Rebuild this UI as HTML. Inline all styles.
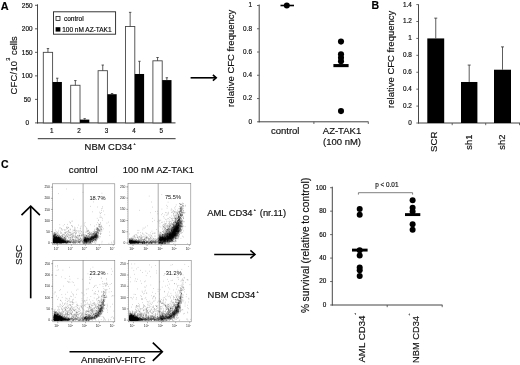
<!DOCTYPE html>
<html>
<head>
<meta charset="utf-8">
<title>Figure</title>
<style>
html, body { margin: 0; padding: 0; background: #fff; }
body { width: 520px; height: 365px; overflow: hidden; font-family: "Liberation Sans", sans-serif; }
svg { display: block; will-change: transform; filter: blur(0.35px); }
svg text { font-family: "Liberation Sans", sans-serif; stroke: #111; stroke-width: 0.18px; }
svg text.t { stroke: none; }
</style>
</head>
<body>
<svg width="520" height="365" viewBox="0 0 520 365">
<rect x="0" y="0" width="520" height="365" fill="#fff"/>
<text x="0.8" y="9.7" font-size="10.9" text-anchor="start" font-weight="bold" fill="#000">A</text>
<text x="371.5" y="9.3" font-size="10.5" text-anchor="start" font-weight="bold" fill="#000">B</text>
<text x="1" y="168.3" font-size="10.5" text-anchor="start" font-weight="bold" fill="#000">C</text>
<line x1="37.5" y1="4.3" x2="37.5" y2="123.4" stroke="#484848" stroke-width="1"/>
<line x1="37.0" y1="122.9" x2="175.5" y2="122.9" stroke="#333" stroke-width="1"/>
<line x1="35.0" y1="122.9" x2="37.5" y2="122.9" stroke="#333" stroke-width="0.8"/>
<text x="27.2" y="125.2" font-size="6.4" text-anchor="middle" font-weight="normal" fill="#111">0</text>
<line x1="35.0" y1="99.38000000000001" x2="37.5" y2="99.38000000000001" stroke="#333" stroke-width="0.8"/>
<text x="27.2" y="101.68" font-size="6.4" text-anchor="middle" font-weight="normal" fill="#111">50</text>
<line x1="35.0" y1="75.86000000000001" x2="37.5" y2="75.86000000000001" stroke="#333" stroke-width="0.8"/>
<text x="27.2" y="78.16" font-size="6.4" text-anchor="middle" font-weight="normal" fill="#111">100</text>
<line x1="35.0" y1="52.34" x2="37.5" y2="52.34" stroke="#333" stroke-width="0.8"/>
<text x="27.2" y="54.64" font-size="6.4" text-anchor="middle" font-weight="normal" fill="#111">150</text>
<line x1="35.0" y1="28.820000000000007" x2="37.5" y2="28.820000000000007" stroke="#333" stroke-width="0.8"/>
<text x="27.2" y="31.12" font-size="6.4" text-anchor="middle" font-weight="normal" fill="#111">200</text>
<line x1="35.0" y1="5.299999999999997" x2="37.5" y2="5.299999999999997" stroke="#333" stroke-width="0.8"/>
<text x="27.2" y="7.6" font-size="6.4" text-anchor="middle" font-weight="normal" fill="#111">250</text>
<rect x="43.3" y="52.34" width="9.3" height="70.56" fill="#fff" stroke="#484848" stroke-width="0.9"/>
<line x1="47.949999999999996" y1="52.34" x2="47.949999999999996" y2="48.57679999999999" stroke="#333" stroke-width="0.8"/>
<line x1="46.74999999999999" y1="48.57679999999999" x2="49.15" y2="48.57679999999999" stroke="#333" stroke-width="0.8"/>
<rect x="52.6" y="81.98" width="9.3" height="40.92" fill="#000" stroke="none" stroke-width="1"/>
<line x1="57.25" y1="81.9752" x2="57.25" y2="78.212" stroke="#333" stroke-width="0.8"/>
<line x1="56.05" y1="78.212" x2="58.45" y2="78.212" stroke="#333" stroke-width="0.8"/>
<text x="51.7" y="132.7" font-size="6.3" text-anchor="middle" font-weight="normal" fill="#111">1</text>
<rect x="70.7" y="85.27" width="9.3" height="37.63" fill="#fff" stroke="#484848" stroke-width="0.9"/>
<line x1="75.35" y1="85.268" x2="75.35" y2="80.56400000000001" stroke="#333" stroke-width="0.8"/>
<line x1="74.14999999999999" y1="80.56400000000001" x2="76.55" y2="80.56400000000001" stroke="#333" stroke-width="0.8"/>
<rect x="80.0" y="119.61" width="9.3" height="3.29" fill="#000" stroke="none" stroke-width="1"/>
<line x1="84.64999999999999" y1="119.6072" x2="84.64999999999999" y2="118.66640000000001" stroke="#333" stroke-width="0.8"/>
<line x1="83.44999999999999" y1="118.66640000000001" x2="85.85" y2="118.66640000000001" stroke="#333" stroke-width="0.8"/>
<text x="79.1" y="132.7" font-size="6.3" text-anchor="middle" font-weight="normal" fill="#111">2</text>
<rect x="98.1" y="70.69" width="9.3" height="52.21" fill="#fff" stroke="#484848" stroke-width="0.9"/>
<line x1="102.75" y1="70.6856" x2="102.75" y2="65.0408" stroke="#333" stroke-width="0.8"/>
<line x1="101.55" y1="65.0408" x2="103.95" y2="65.0408" stroke="#333" stroke-width="0.8"/>
<rect x="107.4" y="94.21" width="9.3" height="28.69" fill="#000" stroke="none" stroke-width="1"/>
<line x1="112.05" y1="94.2056" x2="112.05" y2="93.5" stroke="#333" stroke-width="0.8"/>
<line x1="110.85" y1="93.5" x2="113.25" y2="93.5" stroke="#333" stroke-width="0.8"/>
<text x="106.5" y="132.7" font-size="6.3" text-anchor="middle" font-weight="normal" fill="#111">3</text>
<rect x="125.5" y="26.47" width="9.3" height="96.43" fill="#fff" stroke="#484848" stroke-width="0.9"/>
<line x1="130.14999999999998" y1="26.468000000000004" x2="130.14999999999998" y2="12.355999999999995" stroke="#333" stroke-width="0.8"/>
<line x1="128.95" y1="12.355999999999995" x2="131.34999999999997" y2="12.355999999999995" stroke="#333" stroke-width="0.8"/>
<rect x="134.8" y="73.98" width="9.3" height="48.92" fill="#000" stroke="none" stroke-width="1"/>
<line x1="139.45" y1="73.9784" x2="139.45" y2="61.27760000000001" stroke="#333" stroke-width="0.8"/>
<line x1="138.25" y1="61.27760000000001" x2="140.64999999999998" y2="61.27760000000001" stroke="#333" stroke-width="0.8"/>
<text x="133.9" y="132.7" font-size="6.3" text-anchor="middle" font-weight="normal" fill="#111">4</text>
<rect x="152.9" y="60.81" width="9.3" height="62.09" fill="#fff" stroke="#484848" stroke-width="0.9"/>
<line x1="157.54999999999998" y1="60.8072" x2="157.54999999999998" y2="57.514399999999995" stroke="#333" stroke-width="0.8"/>
<line x1="156.35" y1="57.514399999999995" x2="158.74999999999997" y2="57.514399999999995" stroke="#333" stroke-width="0.8"/>
<rect x="162.2" y="80.09" width="9.3" height="42.81" fill="#000" stroke="none" stroke-width="1"/>
<line x1="166.84999999999997" y1="80.09360000000001" x2="166.84999999999997" y2="77.7416" stroke="#333" stroke-width="0.8"/>
<line x1="165.64999999999998" y1="77.7416" x2="168.04999999999995" y2="77.7416" stroke="#333" stroke-width="0.8"/>
<text x="161.3" y="132.7" font-size="6.3" text-anchor="middle" font-weight="normal" fill="#111">5</text>
<rect x="53.5" y="11.8" width="62.1" height="22.4" fill="#fff" stroke="#222" stroke-width="0.9"/>
<rect x="56.0" y="16.5" width="4.0" height="3.9" fill="#fff" stroke="#222" stroke-width="0.8"/>
<rect x="55.6" y="27.2" width="4.8" height="4.4" fill="#000" stroke="none" stroke-width="1"/>
<text x="63.9" y="20.5" font-size="6.6" text-anchor="start" font-weight="normal" fill="#111">control</text>
<text x="62.2" y="31.5" font-size="6.5" text-anchor="start" font-weight="normal" fill="#111">100 nM AZ-TAK1</text>
<line x1="37.8" y1="138.7" x2="175.6" y2="138.7" stroke="#333" stroke-width="1.0"/>
<text x="84.6" y="150.0" font-size="9.42" text-anchor="start" font-weight="normal" fill="#111">NBM CD34<tspan font-size="3.8" dx="1.2" dy="-4.8">+</tspan></text>
<text x="16.8" y="94.5" font-size="9.3" text-anchor="start" font-weight="normal" fill="#111" transform="rotate(-90 16.8 94.5)"><tspan letter-spacing="0.3">CFC/10</tspan><tspan font-size="5.6" dy="-7.2">3</tspan><tspan dy="7.2" letter-spacing="0"> cells</tspan></text>
<line x1="190.6" y1="77.8" x2="216.2" y2="77.8" stroke="#000" stroke-width="1.6"/>
<polyline points="212.89999999999998,74.89999999999999 216.2,77.8 212.89999999999998,80.7" fill="none" stroke="#000" stroke-width="1.6" stroke-linejoin="miter"/>
<line x1="259.2" y1="4.5" x2="259.2" y2="122.3" stroke="#444" stroke-width="1"/>
<line x1="258.7" y1="121.8" x2="368.5" y2="121.8" stroke="#444" stroke-width="1"/>
<line x1="257.0" y1="121.8" x2="259.2" y2="121.8" stroke="#444" stroke-width="0.8"/>
<text x="252.0" y="123.6" font-size="6.4" text-anchor="end" font-weight="normal" fill="#111">0</text>
<line x1="257.0" y1="98.53999999999999" x2="259.2" y2="98.53999999999999" stroke="#444" stroke-width="0.8"/>
<text x="252.0" y="100.34" font-size="6.4" text-anchor="end" font-weight="normal" fill="#111">0.2</text>
<line x1="257.0" y1="75.28" x2="259.2" y2="75.28" stroke="#444" stroke-width="0.8"/>
<text x="252.0" y="77.08" font-size="6.4" text-anchor="end" font-weight="normal" fill="#111">0.4</text>
<line x1="257.0" y1="52.019999999999996" x2="259.2" y2="52.019999999999996" stroke="#444" stroke-width="0.8"/>
<text x="252.0" y="53.82" font-size="6.4" text-anchor="end" font-weight="normal" fill="#111">0.6</text>
<line x1="257.0" y1="28.75999999999999" x2="259.2" y2="28.75999999999999" stroke="#444" stroke-width="0.8"/>
<text x="252.0" y="30.56" font-size="6.4" text-anchor="end" font-weight="normal" fill="#111">0.8</text>
<line x1="257.0" y1="5.5" x2="259.2" y2="5.5" stroke="#444" stroke-width="0.8"/>
<text x="252.0" y="7.3" font-size="6.4" text-anchor="end" font-weight="normal" fill="#111">1</text>
<line x1="313.9" y1="121.8" x2="313.9" y2="124.0" stroke="#444" stroke-width="0.8"/>
<line x1="368.3" y1="121.8" x2="368.3" y2="124.0" stroke="#444" stroke-width="0.8"/>
<line x1="280.5" y1="5.5" x2="294" y2="5.5" stroke="#000" stroke-width="1.6"/>
<circle cx="286.8" cy="5.5" r="3.0" fill="#000"/>
<circle cx="341" cy="41.6" r="3.05" fill="#000"/>
<circle cx="341" cy="54.3" r="3.05" fill="#000"/>
<circle cx="341" cy="57.8" r="3.05" fill="#000"/>
<circle cx="341" cy="61.3" r="3.05" fill="#000"/>
<circle cx="341" cy="111.1" r="3.05" fill="#000"/>
<line x1="333.4" y1="65.6" x2="348.6" y2="65.6" stroke="#000" stroke-width="3.1"/>
<text x="285.2" y="134.1" font-size="9.5" text-anchor="middle" font-weight="normal" fill="#111">control</text>
<text x="342.0" y="134.3" font-size="9.5" text-anchor="middle" font-weight="normal" fill="#111">AZ-TAK1</text>
<text x="342.0" y="145.1" font-size="9.5" text-anchor="middle" font-weight="normal" fill="#111">(100 nM)</text>
<text x="234.4" y="58.3" font-size="9.5" text-anchor="middle" font-weight="normal" fill="#111" transform="rotate(-90 234.4 58.3)">relative CFC frequency</text>
<line x1="418.5" y1="4.3" x2="418.5" y2="123.5" stroke="#484848" stroke-width="1"/>
<line x1="418.0" y1="123.0" x2="520" y2="123.0" stroke="#444" stroke-width="1"/>
<line x1="416.3" y1="123.0" x2="418.5" y2="123.0" stroke="#444" stroke-width="0.8"/>
<text x="411.9" y="124.9" font-size="6.4" text-anchor="end" font-weight="normal" fill="#111">0</text>
<line x1="416.3" y1="106.08571428571429" x2="418.5" y2="106.08571428571429" stroke="#444" stroke-width="0.8"/>
<text x="411.9" y="107.99" font-size="6.4" text-anchor="end" font-weight="normal" fill="#111">0.2</text>
<line x1="416.3" y1="89.17142857142856" x2="418.5" y2="89.17142857142856" stroke="#444" stroke-width="0.8"/>
<text x="411.9" y="91.07" font-size="6.4" text-anchor="end" font-weight="normal" fill="#111">0.4</text>
<line x1="416.3" y1="72.25714285714284" x2="418.5" y2="72.25714285714284" stroke="#444" stroke-width="0.8"/>
<text x="411.9" y="74.16" font-size="6.4" text-anchor="end" font-weight="normal" fill="#111">0.6</text>
<line x1="416.3" y1="55.34285714285713" x2="418.5" y2="55.34285714285713" stroke="#444" stroke-width="0.8"/>
<text x="411.9" y="57.24" font-size="6.4" text-anchor="end" font-weight="normal" fill="#111">0.8</text>
<line x1="416.3" y1="38.428571428571416" x2="418.5" y2="38.428571428571416" stroke="#444" stroke-width="0.8"/>
<text x="411.9" y="40.33" font-size="6.4" text-anchor="end" font-weight="normal" fill="#111">1</text>
<line x1="416.3" y1="21.514285714285677" x2="418.5" y2="21.514285714285677" stroke="#444" stroke-width="0.8"/>
<text x="411.9" y="23.41" font-size="6.4" text-anchor="end" font-weight="normal" fill="#111">1.2</text>
<line x1="416.3" y1="4.59999999999998" x2="418.5" y2="4.59999999999998" stroke="#444" stroke-width="0.8"/>
<text x="411.9" y="6.5" font-size="6.4" text-anchor="end" font-weight="normal" fill="#111">1.4</text>
<line x1="452.2" y1="123.0" x2="452.2" y2="125.2" stroke="#444" stroke-width="0.8"/>
<line x1="485.7" y1="123.0" x2="485.7" y2="125.2" stroke="#444" stroke-width="0.8"/>
<line x1="519.5" y1="123.0" x2="519.5" y2="125.2" stroke="#444" stroke-width="0.8"/>
<rect x="427.3" y="38.43" width="16.9" height="84.57" fill="#000" stroke="none" stroke-width="1"/>
<line x1="435.75" y1="38.428571428571416" x2="435.75" y2="18.131428571428557" stroke="#333" stroke-width="0.8"/>
<line x1="434.25" y1="18.131428571428557" x2="437.25" y2="18.131428571428557" stroke="#333" stroke-width="0.8"/>
<text x="437.35" y="131.6" font-size="9.7" text-anchor="end" font-weight="normal" fill="#111" transform="rotate(-90 437.35 131.6)">SCR</text>
<rect x="461" y="81.98" width="16.4" height="41.02" fill="#000" stroke="none" stroke-width="1"/>
<line x1="469.2" y1="81.98285714285714" x2="469.2" y2="65.06857142857142" stroke="#333" stroke-width="0.8"/>
<line x1="467.7" y1="65.06857142857142" x2="470.7" y2="65.06857142857142" stroke="#333" stroke-width="0.8"/>
<text x="471.6" y="134.5" font-size="9.4" text-anchor="end" font-weight="normal" fill="#111" transform="rotate(-90 471.6 134.5)">sh1</text>
<rect x="494" y="69.72" width="17" height="53.28" fill="#000" stroke="none" stroke-width="1"/>
<line x1="502.5" y1="69.72" x2="502.5" y2="46.885714285714286" stroke="#333" stroke-width="0.8"/>
<line x1="501.0" y1="46.885714285714286" x2="504.0" y2="46.885714285714286" stroke="#333" stroke-width="0.8"/>
<text x="504.9" y="134.5" font-size="9.4" text-anchor="end" font-weight="normal" fill="#111" transform="rotate(-90 504.9 134.5)">sh2</text>
<text x="394.1" y="59.3" font-size="9.5" text-anchor="middle" font-weight="normal" fill="#111" transform="rotate(-90 394.1 59.3)">relative CFC frequency</text>
<text x="83.2" y="172.7" font-size="9.55" text-anchor="middle" font-weight="normal" fill="#111">control</text>
<text x="158.4" y="172.7" font-size="9.4" text-anchor="middle" font-weight="normal" fill="#111">100 nM AZ-TAK1</text>
<path d="M54.7 240.6h.5M59.4 241.4h.5M59.4 242.1h.5M55.2 242.6h.5M62.5 241.5h.5M54.6 237.0h.5M58.2 240.8h.5M63.7 242.0h.5M55.0 241.5h.5M54.7 240.5h.5M56.7 240.3h.5M55.1 242.6h.5M55.8 239.6h.5M58.5 241.4h.5M55.6 237.8h.5M59.3 240.8h.5M53.9 239.0h.5M57.5 240.3h.5M57.0 240.3h.5M57.9 238.2h.5M56.7 240.5h.5M59.3 240.8h.5M60.4 237.9h.5M54.3 241.3h.5M63.7 238.2h.5M54.5 238.9h.5M59.4 242.7h.5M54.7 241.5h.5M56.2 241.0h.5M54.9 241.7h.5M64.2 241.3h.5M56.2 240.8h.5M60.5 238.3h.5M55.3 241.2h.5M54.0 238.2h.5M53.3 242.4h.5M58.1 239.4h.5M55.7 238.7h.5M54.1 241.1h.5M55.4 235.3h.5M57.6 241.3h.5M54.6 242.2h.5M54.1 240.7h.5M53.4 243.1h.5M57.5 241.5h.5M58.6 240.4h.5M53.4 239.2h.5M61.0 239.0h.5M59.5 242.6h.5M57.3 241.3h.5M54.9 241.4h.5M59.7 242.2h.5M54.5 242.4h.5M64.2 242.1h.5M53.7 239.4h.5M54.2 237.7h.5M55.2 240.1h.5M64.0 242.0h.5M57.1 238.3h.5M58.4 243.0h.5M57.7 242.6h.5M58.2 236.0h.5M68.4 241.0h.5M55.9 241.2h.5M54.5 240.2h.5M61.8 240.4h.5M58.9 239.2h.5M59.7 237.6h.5M53.3 238.5h.5M54.5 239.1h.5M58.7 242.3h.5M61.6 242.0h.5M55.5 240.8h.5M54.4 240.3h.5M61.3 242.5h.5M56.1 242.7h.5M61.1 242.1h.5M58.7 241.1h.5M55.0 240.8h.5M54.4 239.9h.5M53.6 239.1h.5M57.6 241.2h.5M63.6 241.0h.5M58.9 241.1h.5M54.4 242.7h.5M53.5 242.0h.5M56.2 239.1h.5M57.9 241.8h.5M62.4 242.0h.5M57.2 242.1h.5M54.2 238.2h.5M54.1 234.3h.5M58.3 240.5h.5M55.4 239.0h.5M66.3 242.1h.5M62.7 239.9h.5M65.6 241.2h.5M55.1 241.4h.5M57.0 242.2h.5M58.0 237.7h.5M58.2 238.7h.5M60.4 238.3h.5M55.9 234.5h.5M69.9 242.1h.5M56.4 239.7h.5M55.2 240.9h.5M53.5 241.9h.5M54.3 242.6h.5M58.0 240.8h.5M63.0 241.8h.5M56.7 241.7h.5M54.1 240.2h.5M64.0 240.7h.5M53.5 239.9h.5M61.0 241.7h.5M61.2 241.6h.5M65.0 241.1h.5M54.0 240.8h.5M63.3 241.4h.5M57.0 238.8h.5M53.6 240.6h.5M53.5 241.2h.5M56.8 242.3h.5M56.4 237.7h.5M56.7 242.9h.5M57.4 243.0h.5M54.0 238.3h.5M66.0 242.8h.5M55.8 239.4h.5M56.1 239.8h.5M59.3 235.9h.5M57.6 238.4h.5M57.5 241.6h.5M54.7 241.4h.5M53.4 240.8h.5M59.3 238.0h.5M54.1 240.2h.5M56.4 242.3h.5M54.5 232.6h.5M57.2 241.5h.5M55.2 240.2h.5M57.9 240.4h.5M55.3 239.3h.5M53.5 241.1h.5M54.4 242.7h.5M54.1 237.6h.5M53.3 236.6h.5M57.3 240.8h.5M56.4 242.3h.5M54.3 241.4h.5M59.3 240.1h.5M54.4 240.8h.5M63.7 242.2h.5M56.7 238.4h.5M56.8 238.5h.5M56.2 242.5h.5M61.6 240.2h.5M58.7 239.7h.5M53.7 242.3h.5M53.4 237.9h.5M54.4 241.2h.5M53.3 241.4h.5M53.8 239.8h.5M59.6 242.4h.5M61.6 242.0h.5M59.2 240.6h.5M55.8 240.3h.5M55.7 239.1h.5M57.3 241.6h.5M56.2 238.3h.5M59.4 242.4h.5M61.9 240.1h.5M66.1 242.9h.5M63.1 241.3h.5M57.4 242.3h.5M56.9 241.9h.5M57.5 239.3h.5M60.2 239.3h.5M59.8 240.5h.5M58.4 241.3h.5M59.7 242.7h.5M54.3 240.9h.5M57.5 238.0h.5M53.3 235.5h.5M61.1 240.6h.5M54.6 239.4h.5M60.6 242.8h.5M57.3 242.2h.5M61.7 240.6h.5M57.1 242.0h.5M56.9 242.7h.5M64.3 241.5h.5M61.6 238.7h.5M61.7 242.2h.5M54.0 238.2h.5M56.1 241.1h.5M55.9 241.9h.5M55.9 240.0h.5M57.5 242.2h.5M55.5 238.6h.5M54.9 241.2h.5M58.7 241.2h.5M68.7 240.9h.5M55.6 241.4h.5M54.6 241.7h.5M53.7 237.2h.5M53.3 238.7h.5M58.6 242.5h.5M57.4 241.2h.5M57.9 240.1h.5M55.8 241.2h.5M53.4 238.7h.5M63.5 241.3h.5M54.7 242.3h.5M58.2 240.6h.5M58.8 242.2h.5M58.2 237.1h.5M53.3 241.2h.5M61.5 241.7h.5M54.7 237.2h.5M60.0 242.4h.5M54.1 239.5h.5M56.2 240.9h.5M53.4 236.8h.5M54.9 241.8h.5M58.0 241.6h.5M53.9 242.6h.5M66.8 241.9h.5M58.0 240.8h.5M53.6 232.4h.5M53.7 241.9h.5M55.9 239.8h.5M59.5 237.9h.5M58.2 242.2h.5M54.8 240.1h.5M53.7 238.4h.5M58.0 241.8h.5M53.8 239.7h.5M57.1 235.3h.5M54.8 240.4h.5M60.1 238.0h.5M56.3 240.7h.5M54.4 242.3h.5M62.5 239.7h.5M55.4 230.0h.5M55.0 240.1h.5M53.3 241.5h.5M57.1 240.8h.5M53.5 242.7h.5M61.5 238.9h.5M57.0 242.4h.5M57.7 237.8h.5M59.2 241.9h.5M56.5 241.8h.5M54.4 242.2h.5M56.9 238.2h.5M55.2 241.9h.5M53.7 235.7h.5M55.6 239.8h.5M56.5 240.7h.5M55.1 240.7h.5M53.7 233.9h.5M54.4 242.7h.5M66.9 241.8h.5M56.5 241.2h.5M65.9 243.0h.5M56.2 237.1h.5M54.4 237.8h.5M55.5 239.4h.5M56.5 241.4h.5M53.3 241.8h.5M57.9 241.3h.5M65.4 240.5h.5M55.4 241.9h.5M54.8 239.2h.5M59.9 240.8h.5M53.4 234.8h.5M60.9 240.0h.5M58.2 241.3h.5M54.6 240.4h.5M59.8 238.3h.5M55.8 239.1h.5M57.3 242.2h.5M62.9 238.6h.5M63.3 241.8h.5M54.7 242.4h.5M55.9 240.6h.5M64.3 241.1h.5M57.3 240.5h.5M55.6 234.9h.5M59.6 241.0h.5M55.4 241.6h.5M53.5 237.2h.5M53.5 242.3h.5M54.8 240.8h.5M56.1 236.9h.5M55.6 242.2h.5M60.8 242.2h.5M57.7 238.8h.5M54.3 239.0h.5M56.0 238.8h.5M62.8 240.3h.5M55.7 240.7h.5M53.5 241.8h.5M62.3 241.2h.5M57.8 240.9h.5M60.2 242.2h.5M55.3 241.7h.5M57.8 240.6h.5M54.7 237.8h.5M58.3 240.2h.5M56.9 242.7h.5M67.3 241.8h.5M65.2 241.9h.5M59.6 240.3h.5M58.5 238.8h.5M62.1 240.1h.5M54.9 240.5h.5M58.7 242.8h.5M53.5 235.9h.5M60.1 241.6h.5M63.5 242.4h.5M58.9 240.5h.5M55.3 239.1h.5M60.5 241.2h.5M54.4 242.2h.5M57.3 242.2h.5M54.4 239.0h.5M55.9 242.9h.5M55.5 242.1h.5M54.9 242.5h.5M61.1 240.6h.5M55.1 242.6h.5M63.0 240.1h.5M64.7 238.8h.5M54.7 239.9h.5M67.1 242.1h.5M58.2 237.8h.5M58.0 241.3h.5M59.7 238.4h.5M54.5 240.8h.5M56.6 241.9h.5M58.1 243.2h.5M54.6 240.2h.5M58.3 237.6h.5M53.9 240.8h.5M56.7 240.0h.5M60.1 241.1h.5M67.0 240.6h.5M61.0 240.5h.5M60.5 242.7h.5M53.8 238.9h.5M53.4 241.1h.5M53.5 236.5h.5M60.3 241.1h.5M54.7 243.1h.5M57.7 240.6h.5M55.6 241.9h.5M54.0 242.6h.5M54.9 241.5h.5M54.5 237.7h.5M55.5 238.0h.5M61.9 239.4h.5M54.8 241.2h.5M59.9 239.7h.5M53.4 241.9h.5M58.0 241.5h.5M65.4 241.4h.5M53.4 234.7h.5M58.8 242.5h.5M62.2 242.1h.5M65.7 242.2h.5M55.6 238.2h.5M59.6 239.5h.5M55.0 240.4h.5M60.7 239.8h.5M63.9 242.3h.5M62.1 242.0h.5M53.7 241.2h.5M58.1 241.8h.5M56.9 236.7h.5M54.0 237.9h.5M54.9 238.7h.5M62.2 239.1h.5M54.0 242.5h.5M54.1 235.9h.5M53.4 238.7h.5M55.2 239.9h.5M59.1 239.5h.5M59.4 241.9h.5M56.8 236.8h.5M54.4 238.1h.5M55.1 238.3h.5M55.9 242.3h.5M63.2 240.4h.5M54.1 242.5h.5M56.1 238.0h.5M53.5 241.1h.5M59.9 238.8h.5M54.9 241.4h.5M64.7 241.4h.5M54.0 241.5h.5M59.1 238.5h.5M56.8 238.9h.5M55.3 241.4h.5M54.6 239.7h.5M57.5 242.7h.5M54.4 239.4h.5M59.6 241.6h.5M54.3 242.2h.5M62.0 241.5h.5M55.2 238.8h.5M54.9 241.1h.5M53.4 242.9h.5M54.5 233.0h.5M59.7 242.2h.5M55.9 239.2h.5M55.4 239.8h.5M54.1 239.9h.5M56.0 242.5h.5M61.8 240.7h.5M55.1 238.0h.5M57.8 240.5h.5M63.2 241.4h.5M54.5 239.4h.5M58.7 242.2h.5M53.9 238.4h.5M53.6 235.9h.5M56.1 240.7h.5M57.8 238.7h.5M56.2 239.2h.5M55.8 241.9h.5M56.3 241.5h.5M56.0 237.3h.5M55.1 241.3h.5M56.4 239.6h.5M55.0 240.1h.5M53.6 240.3h.5M57.6 240.4h.5M55.8 237.4h.5M55.9 238.6h.5M54.8 239.8h.5M61.1 240.1h.5M61.1 242.7h.5M58.0 239.7h.5M54.0 234.4h.5M61.5 241.2h.5M54.5 236.3h.5M54.6 236.6h.5M56.7 238.6h.5M56.3 238.9h.5M61.7 240.7h.5M56.2 240.9h.5M60.7 241.9h.5M59.0 237.5h.5M58.7 238.9h.5M68.2 243.1h.5M56.4 241.8h.5M59.5 242.0h.5M59.4 241.0h.5M61.1 242.1h.5M58.9 241.8h.5M55.4 237.6h.5M53.5 240.1h.5M54.5 242.0h.5M54.0 242.4h.5M60.8 241.2h.5M53.7 239.6h.5M59.6 241.9h.5M55.0 239.6h.5M59.8 239.2h.5M57.4 240.0h.5M55.4 233.9h.5M59.8 238.8h.5M57.8 242.1h.5M60.7 239.8h.5M55.9 240.7h.5M53.4 238.9h.5M62.1 242.9h.5M53.4 239.4h.5M60.4 241.0h.5M61.5 238.5h.5M63.0 241.0h.5M53.9 240.2h.5M53.9 242.8h.5M61.0 242.0h.5M55.8 241.9h.5M54.1 239.7h.5M61.3 240.9h.5M59.1 240.0h.5M59.0 237.4h.5M55.2 240.5h.5M62.2 242.1h.5M58.5 240.6h.5M53.6 240.6h.5M59.1 242.0h.5M59.7 242.5h.5M53.7 241.9h.5M60.2 241.9h.5M56.2 240.1h.5M55.4 242.2h.5M54.2 241.9h.5M58.5 237.0h.5M59.8 242.4h.5M54.5 241.8h.5M56.8 240.2h.5M57.5 240.1h.5M53.8 240.1h.5M59.5 240.8h.5M56.0 236.7h.5M57.7 242.6h.5M61.2 241.8h.5M55.6 240.3h.5M60.0 240.5h.5M61.8 241.4h.5M55.0 242.6h.5M56.9 242.1h.5M59.6 240.0h.5M59.7 240.7h.5M59.2 239.7h.5M54.9 240.2h.5M62.3 242.3h.5M53.9 241.4h.5M60.2 241.0h.5M57.6 237.8h.5M53.5 239.5h.5M55.7 239.2h.5M55.0 242.1h.5M56.0 241.9h.5M64.3 241.2h.5M58.7 242.3h.5M67.6 241.7h.5M55.5 241.7h.5M54.0 241.1h.5M61.6 243.1h.5M55.6 241.9h.5M54.0 241.9h.5M53.7 236.7h.5M62.3 241.4h.5M58.8 239.7h.5M59.3 239.7h.5M57.1 241.2h.5M53.5 242.7h.5M59.2 239.2h.5M56.6 238.2h.5M57.4 240.5h.5M58.1 240.0h.5M54.7 240.5h.5M58.5 239.5h.5M58.0 240.9h.5M62.4 241.5h.5M53.8 240.8h.5M56.3 236.9h.5M65.2 240.1h.5M57.1 241.2h.5M57.4 240.5h.5M62.7 240.0h.5M53.4 242.8h.5M59.8 240.7h.5M54.5 241.6h.5M57.5 236.9h.5M54.9 235.3h.5M58.2 237.0h.5M59.3 240.6h.5M56.1 236.9h.5M54.1 237.3h.5M57.0 242.5h.5M53.4 235.7h.5M61.8 240.4h.5M54.1 237.2h.5M58.3 240.4h.5M56.3 241.9h.5M56.9 238.4h.5M58.4 241.5h.5M54.3 241.2h.5M55.1 241.3h.5M54.0 240.4h.5M57.0 240.1h.5M69.7 241.6h.5M60.4 242.7h.5M54.4 238.3h.5M54.4 235.3h.5M53.3 242.0h.5M54.3 241.8h.5M63.7 241.6h.5M64.7 242.2h.5M57.8 241.4h.5M57.4 242.0h.5M62.0 238.6h.5M58.0 241.1h.5M69.9 242.4h.5M57.4 242.3h.5M63.1 240.1h.5M62.5 241.5h.5M63.0 239.1h.5M59.0 238.6h.5M55.4 239.9h.5M53.4 241.0h.5M53.4 240.7h.5M55.3 240.8h.5M53.7 241.9h.5M53.8 241.2h.5M55.7 234.3h.5M55.6 241.5h.5M63.7 240.1h.5M57.5 240.5h.5M56.1 239.1h.5M55.7 241.3h.5M54.9 238.6h.5M56.3 240.9h.5M55.7 240.0h.5M55.0 240.8h.5M58.2 237.5h.5M55.2 242.1h.5M55.2 240.6h.5M54.3 240.2h.5M64.4 238.7h.5M55.5 242.2h.5M54.8 241.7h.5M57.4 235.1h.5M55.1 240.1h.5M63.7 242.6h.5M55.6 238.8h.5M54.7 238.4h.5M57.3 237.6h.5M54.0 241.7h.5M58.3 240.9h.5M55.4 237.8h.5M56.0 238.9h.5M61.5 241.4h.5M53.6 241.0h.5M58.7 237.7h.5M54.3 242.2h.5M64.3 242.5h.5M57.4 237.5h.5M56.0 239.8h.5M60.0 242.7h.5M56.1 242.3h.5M57.8 237.5h.5M54.6 238.9h.5M63.7 240.9h.5M59.9 242.6h.5M54.4 242.0h.5M53.9 240.8h.5M53.3 235.9h.5M60.3 240.9h.5M60.7 242.3h.5M61.8 242.7h.5M59.3 240.2h.5M57.9 240.3h.5M53.8 240.9h.5M58.1 239.3h.5M57.6 239.3h.5M58.6 237.7h.5M57.7 240.3h.5M58.7 241.7h.5M54.1 239.6h.5M56.3 239.1h.5M57.4 235.9h.5M54.4 241.7h.5M65.7 242.3h.5M60.2 241.2h.5M55.3 242.5h.5M54.4 243.1h.5M62.7 241.6h.5M60.0 238.9h.5M54.4 241.9h.5M54.1 237.3h.5M65.4 241.8h.5M53.3 237.9h.5M57.6 242.2h.5M55.0 241.1h.5M59.7 242.1h.5M59.9 242.5h.5M55.4 241.6h.5M57.1 241.6h.5M59.2 240.5h.5M58.8 240.2h.5M55.9 237.6h.5M60.5 241.8h.5M54.8 240.5h.5M58.7 242.4h.5M58.4 242.1h.5M53.8 237.8h.5M56.8 233.7h.5M53.7 241.0h.5M57.4 240.8h.5M57.8 240.3h.5M56.3 240.7h.5M53.5 240.6h.5M58.3 239.1h.5M59.3 238.7h.5M53.9 236.0h.5M62.8 242.0h.5M55.8 241.3h.5M62.7 242.5h.5M67.4 242.6h.5M61.7 240.4h.5M57.5 240.9h.5M61.8 242.1h.5M58.7 240.6h.5M57.5 237.5h.5M59.3 243.1h.5M54.3 240.6h.5M55.4 241.5h.5M58.0 237.3h.5M56.9 242.2h.5M54.0 242.9h.5M59.2 241.0h.5M54.3 237.5h.5M59.9 242.1h.5M57.3 240.7h.5M61.2 238.2h.5M55.8 242.6h.5M59.0 240.6h.5M63.6 239.8h.5M60.5 240.9h.5M57.0 239.1h.5M55.6 239.5h.5M56.3 239.6h.5M59.9 240.0h.5M64.8 242.6h.5M55.8 240.3h.5M56.8 243.0h.5M58.4 240.1h.5M61.1 243.1h.5M61.5 240.9h.5M53.5 242.6h.5M57.3 239.1h.5M55.4 238.7h.5M54.1 237.2h.5M60.5 242.8h.5M55.6 241.0h.5M55.3 242.1h.5M63.4 242.1h.5M54.0 242.0h.5M53.9 239.1h.5M55.3 241.3h.5M63.0 240.3h.5M56.8 240.0h.5M64.2 241.5h.5M59.0 241.8h.5M53.3 241.0h.5M56.2 239.9h.5M55.2 239.8h.5M59.5 241.4h.5M53.5 238.5h.5M54.1 239.0h.5M63.0 242.7h.5M55.7 240.2h.5M57.8 242.2h.5M58.4 240.5h.5M55.0 242.4h.5M55.6 240.1h.5M54.9 240.2h.5M61.2 242.2h.5M58.1 239.4h.5M54.6 236.2h.5M63.1 241.2h.5M56.1 239.8h.5M63.2 240.0h.5M59.5 242.1h.5M56.1 241.9h.5M54.1 234.4h.5M56.1 240.7h.5M55.9 236.4h.5M60.2 242.7h.5M54.0 238.8h.5M57.6 241.8h.5M56.2 241.2h.5M56.8 238.9h.5M58.1 241.7h.5M53.9 241.6h.5M53.7 240.4h.5M54.4 238.5h.5M55.1 234.9h.5M56.3 241.3h.5M56.8 238.6h.5M60.2 240.6h.5M53.4 235.2h.5M55.7 241.6h.5M60.9 240.5h.5M54.8 242.8h.5M54.8 239.9h.5M57.9 241.9h.5M57.8 237.5h.5M54.2 239.9h.5M55.3 240.3h.5M58.1 238.6h.5M63.7 241.7h.5M57.2 242.5h.5M54.3 239.7h.5M53.3 240.8h.5M60.5 239.9h.5M53.8 240.5h.5M64.6 240.9h.5M54.0 235.4h.5M55.1 242.1h.5M59.2 240.8h.5M59.8 240.2h.5M56.2 237.2h.5M67.2 241.8h.5M57.3 242.6h.5M56.9 240.5h.5M54.4 240.6h.5M55.2 240.7h.5M59.2 241.9h.5M56.1 240.0h.5M57.7 239.9h.5M56.1 238.5h.5M57.3 238.6h.5M62.4 241.5h.5M56.7 241.1h.5M53.8 241.6h.5M56.1 237.8h.5M57.0 240.9h.5M55.5 241.6h.5M70.4 242.2h.5M60.9 240.3h.5M55.7 242.1h.5M56.6 241.8h.5M65.6 242.4h.5M62.2 239.2h.5M53.3 240.1h.5M62.6 241.7h.5M54.3 240.2h.5M60.4 238.6h.5M55.5 236.0h.5M54.9 240.3h.5M55.6 239.6h.5M60.4 239.7h.5M60.2 241.7h.5M56.9 237.7h.5M59.3 241.7h.5M55.8 240.2h.5M60.7 241.4h.5M66.9 242.3h.5M59.0 242.4h.5M53.4 242.0h.5M59.2 239.1h.5M55.0 237.5h.5M57.7 241.5h.5M58.5 237.7h.5M55.7 240.3h.5M58.0 242.0h.5M57.5 241.4h.5M65.1 241.7h.5M67.2 242.1h.5M54.0 241.2h.5M56.9 240.9h.5M59.3 241.6h.5M54.8 239.0h.5M56.8 242.1h.5M55.5 242.0h.5M58.3 240.1h.5M60.3 242.2h.5M55.9 240.8h.5M55.9 241.8h.5M53.4 240.9h.5M53.4 238.0h.5M54.4 238.3h.5M60.6 242.9h.5M55.1 242.0h.5M57.8 239.6h.5M53.4 240.2h.5M53.8 240.5h.5M55.9 240.8h.5M62.1 241.8h.5M53.6 241.7h.5M54.0 242.1h.5M54.4 239.4h.5M63.6 241.0h.5M58.2 239.5h.5M55.6 240.9h.5M58.4 238.4h.5M54.6 241.2h.5M54.4 233.3h.5M60.5 242.3h.5M62.8 242.2h.5M60.7 241.4h.5M55.4 238.7h.5M55.7 242.4h.5M60.9 240.5h.5M57.6 241.6h.5M55.5 240.9h.5M61.5 241.5h.5M54.2 242.7h.5M57.1 239.2h.5M53.8 242.1h.5M56.8 238.4h.5M56.5 242.0h.5M62.1 240.0h.5M57.7 241.8h.5M59.1 241.0h.5M55.8 239.9h.5M58.1 241.5h.5M60.5 242.8h.5M59.3 241.7h.5M56.3 242.0h.5M53.9 239.6h.5M53.8 237.7h.5M69.8 242.4h.5M62.1 241.0h.5M54.5 237.3h.5M56.2 240.3h.5M62.4 239.2h.5M56.4 237.1h.5M61.1 242.7h.5M58.6 242.3h.5M55.8 239.5h.5M58.5 242.7h.5M53.8 239.5h.5M64.4 242.6h.5M60.0 241.9h.5M54.3 241.7h.5M56.5 237.7h.5M57.9 241.2h.5M55.2 242.4h.5M67.5 241.4h.5M54.2 238.3h.5M59.1 240.9h.5M54.0 240.3h.5M55.5 240.1h.5M54.4 239.3h.5M62.1 240.1h.5M56.2 237.0h.5M55.1 241.5h.5M56.9 241.1h.5M55.9 238.3h.5M61.2 239.2h.5M57.5 238.0h.5M60.2 240.8h.5M58.6 242.2h.5M56.8 240.6h.5M56.8 241.3h.5M65.8 242.4h.5M55.2 242.5h.5M54.1 239.8h.5M55.0 240.7h.5M61.8 240.8h.5M60.4 241.9h.5M57.4 239.4h.5M53.5 239.4h.5M54.1 236.3h.5M55.4 233.2h.5M54.5 237.7h.5M53.8 242.3h.5M58.6 238.9h.5M57.2 242.2h.5M54.4 242.7h.5M59.3 241.5h.5M58.7 236.9h.5M55.3 240.6h.5M56.2 242.3h.5M54.0 239.3h.5M61.1 242.9h.5M55.2 239.1h.5M55.5 241.5h.5M60.6 241.5h.5M54.6 241.6h.5M63.7 240.2h.5M56.0 241.3h.5M53.8 238.9h.5M56.0 237.1h.5M58.6 234.5h.5M56.2 241.4h.5M56.3 240.5h.5M55.3 240.3h.5M64.8 242.8h.5M56.3 238.7h.5M63.3 241.3h.5M57.2 240.4h.5M55.6 240.6h.5M57.9 243.2h.5M64.7 240.8h.5M56.0 241.4h.5M56.0 241.3h.5M57.5 240.7h.5M55.7 235.1h.5M57.2 241.9h.5M53.9 241.7h.5M54.0 239.1h.5M70.0 242.5h.5M55.3 241.5h.5M57.1 240.6h.5M54.5 240.5h.5M56.0 242.9h.5M65.6 242.8h.5M56.4 233.8h.5M53.8 240.0h.5M53.5 241.8h.5M58.9 242.5h.5M53.8 242.0h.5M57.2 239.5h.5M59.0 235.1h.5M54.4 239.2h.5M66.2 241.4h.5M57.5 241.1h.5M53.9 242.6h.5M57.1 241.5h.5M56.2 241.3h.5M61.2 239.5h.5M54.8 241.8h.5M56.9 238.5h.5M59.2 236.8h.5M53.6 235.0h.5M68.2 241.2h.5M59.5 239.7h.5M54.6 239.1h.5M59.6 240.4h.5M58.0 240.4h.5M56.6 240.6h.5M62.0 242.1h.5M57.1 242.8h.5M59.4 241.3h.5M63.2 242.5h.5M58.1 238.0h.5M59.8 238.6h.5M54.4 242.0h.5M58.3 238.6h.5M55.7 241.0h.5M59.5 239.0h.5M55.6 242.4h.5M61.8 242.7h.5M63.1 242.0h.5M58.2 239.3h.5M57.3 242.6h.5M56.2 240.5h.5M55.5 238.9h.5M57.1 238.5h.5M55.1 239.9h.5M59.9 240.3h.5M55.0 238.7h.5M57.2 241.2h.5M58.2 241.5h.5M54.9 238.9h.5M55.2 239.8h.5M64.3 241.5h.5M61.8 242.3h.5M55.8 240.6h.5M53.5 238.8h.5M65.1 242.3h.5M60.6 242.2h.5M63.5 242.0h.5M64.7 242.3h.5M59.9 242.1h.5M57.6 238.5h.5M61.3 241.8h.5M54.4 236.8h.5M53.7 240.8h.5M55.2 241.5h.5M55.0 242.0h.5M54.8 239.2h.5M55.4 239.2h.5M63.4 242.2h.5M56.3 240.3h.5M69.8 242.9h.5M53.7 239.6h.5M57.7 239.7h.5M54.9 242.4h.5M59.9 238.9h.5M53.5 240.6h.5M58.5 242.1h.5M60.6 242.6h.5M54.5 239.8h.5M55.0 242.5h.5M58.8 242.0h.5M55.3 239.8h.5M55.5 237.0h.5M58.4 240.5h.5M63.9 242.1h.5M60.5 241.9h.5M54.7 241.5h.5M58.6 236.9h.5M55.3 238.5h.5M55.4 240.4h.5M54.9 240.5h.5M54.0 241.5h.5M56.2 234.8h.5M55.6 240.0h.5M54.6 241.2h.5M53.8 241.2h.5M54.4 240.0h.5M56.3 239.2h.5M57.4 240.9h.5M59.0 238.2h.5M54.4 242.2h.5M55.8 240.8h.5M58.4 240.7h.5M60.8 241.7h.5M54.6 240.5h.5M66.3 242.6h.5M54.6 239.1h.5M66.0 243.1h.5M64.2 242.3h.5M55.6 242.8h.5M54.8 234.6h.5M55.1 235.2h.5M65.0 240.8h.5M60.9 242.1h.5M56.3 239.9h.5M53.5 239.9h.5M53.9 241.2h.5M59.0 240.4h.5M58.3 241.5h.5M55.8 242.4h.5M58.2 240.1h.5M59.0 240.3h.5M59.6 237.6h.5M59.4 238.3h.5M54.7 240.9h.5M58.1 240.4h.5M57.9 240.9h.5M59.7 242.2h.5M55.1 239.6h.5M56.1 240.5h.5M64.9 243.2h.5M59.3 241.3h.5M60.9 241.5h.5M53.3 240.7h.5M58.7 242.1h.5M56.3 236.5h.5M56.8 241.5h.5M55.1 237.7h.5M53.5 236.8h.5M60.7 241.6h.5M55.3 239.3h.5M65.3 242.6h.5M58.6 241.8h.5M56.8 241.2h.5M54.7 241.0h.5M55.6 241.3h.5M60.6 236.5h.5M54.9 238.7h.5M55.5 234.9h.5M55.7 240.8h.5M58.8 239.2h.5M54.3 239.7h.5M61.3 241.7h.5M60.1 238.7h.5M60.8 240.2h.5M55.7 238.4h.5M57.7 237.6h.5M57.5 235.3h.5M55.9 241.6h.5M54.3 239.5h.5M53.7 240.2h.5M53.8 237.7h.5M56.7 238.2h.5M55.4 236.3h.5M62.9 241.6h.5M60.1 240.4h.5M57.2 238.8h.5M53.4 242.4h.5M55.9 242.2h.5M59.8 241.1h.5M55.2 240.8h.5M57.6 239.5h.5M57.0 241.1h.5M60.9 241.1h.5M59.4 240.5h.5M54.9 240.9h.5M58.3 242.3h.5M59.1 239.9h.5M58.4 240.1h.5M69.7 242.9h.5M54.9 240.8h.5M56.7 242.2h.5M62.9 242.1h.5M54.8 241.3h.5M57.6 240.1h.5M63.8 241.0h.5M60.1 241.2h.5M58.3 241.8h.5M56.9 240.4h.5M58.6 237.3h.5M63.2 239.6h.5M57.5 238.7h.5M62.0 241.1h.5M54.5 237.1h.5M54.7 240.4h.5M55.7 241.4h.5M54.8 242.3h.5M53.4 237.3h.5M53.7 239.4h.5M66.7 241.2h.5M56.1 238.1h.5M61.7 241.7h.5M53.9 240.3h.5M57.8 238.2h.5M57.5 239.4h.5M58.0 239.0h.5M54.0 241.8h.5M64.0 239.4h.5M55.1 239.3h.5M54.9 239.7h.5M56.6 241.2h.5M64.0 240.3h.5M56.7 236.0h.5M57.4 238.6h.5M54.6 240.4h.5M60.2 241.9h.5M53.4 239.7h.5M59.2 241.3h.5M56.2 240.5h.5M63.3 241.8h.5M61.2 238.8h.5M53.4 241.1h.5M53.5 236.9h.5M54.2 241.2h.5M62.1 238.4h.5M56.7 237.6h.5M61.7 241.6h.5M61.1 240.4h.5M57.7 237.1h.5M61.4 241.8h.5M56.6 241.0h.5M58.9 240.6h.5M56.9 239.2h.5M57.2 241.2h.5M55.8 236.8h.5M57.7 238.3h.5M62.8 240.0h.5M56.7 238.0h.5M59.1 239.4h.5M56.7 241.5h.5M61.5 240.6h.5M54.2 240.6h.5M60.0 236.3h.5M58.7 239.9h.5M55.9 240.7h.5M55.4 241.6h.5M58.9 241.6h.5M53.9 241.3h.5M56.3 241.0h.5M55.9 240.0h.5M55.3 236.9h.5M58.6 238.4h.5M62.7 242.6h.5M59.1 243.1h.5M59.3 239.5h.5M58.6 240.6h.5M54.9 234.9h.5M58.0 235.8h.5M55.4 242.6h.5M57.3 240.0h.5M54.9 239.0h.5M55.4 239.6h.5M56.4 237.6h.5M56.7 241.6h.5M54.7 239.9h.5M57.8 234.7h.5M65.0 241.5h.5M53.7 241.7h.5M64.2 242.2h.5M56.2 241.0h.5M57.3 238.4h.5M53.9 242.0h.5M60.5 238.4h.5M55.8 242.7h.5M58.7 238.8h.5M65.4 242.2h.5M63.4 242.7h.5M58.8 240.5h.5M54.4 240.5h.5M60.6 240.2h.5M59.1 242.1h.5M60.8 239.5h.5M53.9 242.6h.5M57.9 241.8h.5M58.0 238.2h.5M64.4 241.8h.5M57.7 241.4h.5M58.1 240.3h.5M54.4 239.5h.5M55.2 241.5h.5M55.9 241.1h.5M60.0 240.7h.5M55.2 241.9h.5M59.2 241.8h.5M57.4 238.7h.5M58.3 239.2h.5M60.9 238.7h.5M57.0 241.2h.5M54.0 238.6h.5M56.8 238.3h.5M55.7 241.8h.5M53.8 242.2h.5M54.1 234.2h.5M59.3 237.2h.5M57.1 241.9h.5M62.5 242.8h.5M61.8 242.5h.5M54.5 240.6h.5M60.9 239.8h.5M53.6 242.1h.5M62.9 241.5h.5M58.7 239.8h.5M54.9 242.1h.5M54.7 239.7h.5M53.3 241.4h.5M55.6 239.6h.5M55.5 240.9h.5M64.9 240.2h.5M54.8 241.1h.5M59.6 239.1h.5M56.4 240.3h.5M57.8 238.9h.5M53.4 242.7h.5M59.7 240.0h.5M59.3 242.4h.5M59.4 239.8h.5M54.4 235.5h.5M57.8 239.2h.5M57.8 237.5h.5M55.8 240.7h.5M61.3 241.8h.5M54.9 239.7h.5M58.2 240.4h.5M60.5 237.9h.5M62.5 237.1h.5M53.9 239.9h.5M57.2 241.9h.5M57.6 241.1h.5M55.1 234.9h.5M55.8 242.0h.5M56.3 238.6h.5M67.2 242.5h.5M61.1 242.0h.5M58.5 241.1h.5M58.6 236.4h.5M54.4 239.2h.5M57.6 242.2h.5M56.7 242.6h.5M56.6 237.8h.5M53.4 240.0h.5M61.6 242.5h.5M54.1 232.7h.5M60.1 240.6h.5M54.9 240.3h.5M54.2 242.6h.5M55.0 241.3h.5M61.5 242.4h.5M53.7 240.8h.5M55.1 239.0h.5M61.7 242.0h.5M57.9 241.2h.5M63.4 242.4h.5M59.4 238.8h.5M53.4 242.5h.5M56.0 241.4h.5M60.2 241.2h.5M54.8 240.8h.5M59.2 240.0h.5M53.6 241.9h.5M55.0 240.6h.5M59.1 239.9h.5M54.3 240.1h.5M55.9 242.8h.5M54.6 239.9h.5M53.7 240.3h.5M54.3 239.2h.5M57.2 239.5h.5M61.0 241.3h.5M53.4 241.8h.5M57.9 240.3h.5M55.6 241.8h.5M55.1 240.5h.5M54.8 241.9h.5M66.0 242.1h.5M56.8 241.4h.5M63.6 240.8h.5M55.0 240.8h.5M57.3 242.7h.5M55.8 241.4h.5M54.5 234.3h.5M53.6 241.2h.5M54.8 240.3h.5M55.1 240.7h.5M56.7 243.1h.5M57.1 240.2h.5M62.2 242.1h.5M53.9 238.1h.5M55.1 240.7h.5M61.8 241.1h.5M61.3 239.6h.5M54.4 237.2h.5M56.6 242.1h.5M56.1 242.4h.5M53.3 236.9h.5M60.1 241.1h.5M57.1 242.0h.5M66.7 242.5h.5M61.0 242.9h.5M55.2 240.0h.5M57.1 241.5h.5M55.8 239.7h.5M53.9 242.1h.5M58.7 238.9h.5M56.6 241.2h.5M61.3 241.8h.5M53.5 240.1h.5M55.1 241.1h.5M63.3 241.5h.5M53.6 240.2h.5M58.7 241.4h.5M59.0 237.6h.5M54.9 234.2h.5M64.9 242.2h.5M57.8 242.7h.5M64.2 242.2h.5M63.8 241.8h.5M57.1 240.1h.5M53.6 236.8h.5M57.0 235.7h.5M54.1 240.8h.5M56.4 241.6h.5M53.4 239.9h.5M61.5 242.7h.5M53.7 237.3h.5M57.9 238.6h.5M61.5 242.0h.5M55.4 240.4h.5M54.2 240.1h.5M56.9 242.2h.5M64.8 242.3h.5M53.8 238.8h.5M53.6 241.0h.5M54.2 240.4h.5M57.0 240.4h.5M59.7 240.6h.5M57.9 241.2h.5M56.5 241.9h.5M61.5 242.8h.5M62.9 239.0h.5M57.3 238.7h.5M57.3 235.3h.5M53.8 239.7h.5M56.5 238.3h.5M58.5 240.4h.5M60.1 242.1h.5M53.6 241.8h.5M57.2 239.1h.5M53.8 239.4h.5M54.4 243.1h.5M66.7 242.1h.5M56.7 239.5h.5M58.8 241.4h.5M55.5 242.6h.5M59.8 240.5h.5M54.1 235.7h.5M56.8 239.9h.5M59.7 241.8h.5M58.1 239.2h.5M54.1 239.6h.5M54.1 241.0h.5M56.4 237.5h.5M54.3 240.5h.5M57.0 239.6h.5M55.9 238.9h.5M56.0 241.1h.5M59.3 240.9h.5M62.0 242.4h.5M55.3 237.6h.5M62.2 240.2h.5M56.3 238.5h.5M55.5 240.3h.5M57.4 237.8h.5M54.6 239.9h.5M53.6 241.3h.5M54.8 242.1h.5M60.7 237.9h.5M56.8 242.7h.5M60.0 242.7h.5M54.7 238.0h.5M54.9 242.0h.5M57.5 242.3h.5M54.1 239.4h.5M55.5 237.0h.5M65.2 241.2h.5M55.2 241.6h.5M56.2 241.2h.5M65.3 242.8h.5M60.8 242.3h.5M61.6 240.9h.5M55.5 242.3h.5M65.1 241.3h.5M55.5 237.3h.5M55.0 242.2h.5M63.5 242.5h.5M57.6 238.2h.5M54.8 241.4h.5M56.0 242.7h.5M54.0 234.1h.5M66.9 242.1h.5M54.8 238.5h.5M53.6 241.0h.5M55.8 241.9h.5M55.5 240.8h.5M69.8 242.5h.5M56.3 240.8h.5M53.5 239.5h.5M62.2 240.5h.5M54.0 242.1h.5M62.5 239.6h.5M58.3 237.4h.5M53.8 239.2h.5M56.5 240.6h.5M55.0 235.0h.5M60.9 238.8h.5M53.7 233.6h.5M62.2 242.2h.5M54.9 240.0h.5M61.0 240.2h.5M58.1 241.7h.5M59.3 238.1h.5M55.5 240.9h.5M53.6 236.6h.5M63.9 241.7h.5M58.1 241.6h.5M55.5 236.1h.5M55.5 241.0h.5M53.9 241.6h.5M53.6 241.7h.5M53.5 240.1h.5M61.4 239.9h.5M56.2 237.8h.5M64.9 241.9h.5M57.5 236.9h.5M59.1 240.1h.5M59.6 242.5h.5M59.3 240.4h.5M56.7 239.8h.5M54.2 240.4h.5M60.5 242.1h.5M54.5 239.3h.5M63.4 241.9h.5M55.7 240.5h.5M54.5 239.8h.5M59.2 242.7h.5M56.5 235.7h.5M54.9 239.3h.5M56.0 238.8h.5M54.8 240.4h.5M60.4 242.3h.5M58.2 236.9h.5M54.0 235.1h.5M56.6 242.3h.5M65.1 242.2h.5M59.6 241.3h.5M56.1 241.9h.5M55.2 239.0h.5M53.6 239.6h.5M59.5 242.9h.5M58.3 242.3h.5M53.3 240.1h.5M56.7 242.4h.5M56.3 241.3h.5M55.0 236.5h.5M54.4 239.4h.5M54.9 241.6h.5M55.5 242.7h.5M55.7 238.2h.5M60.9 241.3h.5M58.1 238.8h.5M54.3 240.7h.5M56.7 241.3h.5M53.8 241.5h.5M55.9 239.4h.5M59.2 241.8h.5M66.5 242.5h.5M55.7 238.7h.5M54.3 241.2h.5M58.8 242.3h.5M57.9 241.2h.5M55.8 241.0h.5M53.9 242.1h.5M54.0 239.0h.5M58.2 241.4h.5M55.4 238.2h.5M54.6 234.1h.5M60.4 238.9h.5M60.3 240.9h.5M59.8 241.7h.5M54.4 240.5h.5M53.7 242.0h.5M59.7 242.5h.5M57.3 240.9h.5M60.4 241.3h.5M56.0 239.7h.5M54.3 240.0h.5M57.3 240.3h.5M57.6 242.3h.5M54.7 240.5h.5M56.9 242.9h.5M54.4 241.0h.5M57.3 241.6h.5M55.6 234.6h.5M65.1 242.3h.5M58.5 241.7h.5M53.4 235.0h.5M62.6 240.3h.5M65.7 241.4h.5M56.0 242.7h.5M55.3 238.3h.5M55.1 240.6h.5M60.1 237.1h.5M59.1 242.5h.5M53.4 239.2h.5M61.9 243.0h.5M54.6 241.0h.5M53.5 241.3h.5M53.9 241.9h.5M55.1 238.2h.5M58.8 240.4h.5M63.8 239.9h.5M59.4 241.4h.5M55.8 239.5h.5M63.2 242.3h.5M53.9 242.3h.5M60.3 240.8h.5M54.1 238.3h.5M65.5 241.8h.5M55.5 239.9h.5M61.3 240.2h.5M60.6 236.0h.5M57.2 238.2h.5M55.8 241.0h.5M57.7 242.0h.5M64.3 240.7h.5M58.8 238.9h.5M59.4 240.9h.5M55.4 241.8h.5M56.8 241.6h.5M57.4 240.0h.5M53.7 236.2h.5M58.5 240.5h.5M55.1 237.9h.5M61.8 238.8h.5M59.1 242.6h.5M56.6 237.7h.5M56.9 239.7h.5M56.0 242.1h.5M58.4 239.8h.5M60.1 242.2h.5M58.6 239.9h.5M53.4 235.9h.5M55.6 242.1h.5M54.4 242.1h.5M61.9 241.8h.5M60.4 238.4h.5M59.9 239.7h.5M55.8 239.2h.5M59.8 237.8h.5M54.2 239.4h.5M55.5 235.1h.5M62.6 242.0h.5M63.9 242.1h.5M63.2 240.1h.5M57.1 238.3h.5M63.3 241.4h.5M56.2 241.6h.5M58.6 242.1h.5M57.3 240.1h.5M53.9 239.0h.5M53.8 237.9h.5M57.3 240.2h.5M56.3 242.4h.5M58.6 242.1h.5M53.8 242.2h.5M56.5 240.7h.5M65.6 241.4h.5M62.0 238.8h.5M63.9 241.6h.5M58.1 239.9h.5M57.3 241.7h.5M54.0 242.4h.5M55.1 239.0h.5M57.5 238.6h.5M68.6 241.1h.5M53.4 243.0h.5M66.3 241.7h.5M54.0 242.6h.5M59.3 240.3h.5M57.0 242.9h.5M54.6 240.7h.5M54.5 235.1h.5M59.7 236.9h.5M54.0 240.9h.5M55.9 242.2h.5M53.7 240.7h.5M60.5 237.1h.5M61.0 242.4h.5M58.0 238.6h.5M60.8 239.2h.5M55.3 241.5h.5M61.7 241.1h.5M60.5 242.6h.5M59.2 241.5h.5M58.7 242.0h.5M53.5 239.4h.5M53.4 241.0h.5M57.1 240.5h.5M54.7 236.9h.5M59.5 241.3h.5M56.1 241.9h.5M57.6 241.9h.5M56.7 240.2h.5M66.2 242.8h.5M55.9 240.5h.5M60.6 240.8h.5M54.1 242.2h.5M57.9 239.6h.5M54.6 241.8h.5M54.6 240.9h.5M54.7 238.8h.5M56.1 239.4h.5M63.3 241.3h.5M54.2 239.3h.5M60.4 240.2h.5M55.5 240.1h.5M54.3 238.7h.5M56.2 242.4h.5M69.5 241.4h.5M58.6 240.8h.5M56.1 238.0h.5M54.9 239.4h.5M55.8 239.5h.5M56.2 242.3h.5M55.6 237.8h.5M61.7 241.4h.5M57.0 241.4h.5M60.9 241.1h.5M55.1 239.2h.5M55.9 233.5h.5M55.7 242.4h.5M58.5 240.1h.5M59.4 240.2h.5M59.3 240.6h.5M58.3 241.5h.5M58.1 242.2h.5M55.8 235.9h.5M61.1 241.5h.5M56.6 241.8h.5M58.3 242.6h.5M60.6 242.8h.5M54.4 238.3h.5M60.4 241.4h.5M57.6 241.9h.5M56.1 237.0h.5M53.4 233.6h.5M56.5 240.9h.5M55.9 236.6h.5M53.8 240.1h.5M56.3 240.7h.5M53.6 236.6h.5M54.3 235.9h.5M56.8 238.4h.5M53.6 241.5h.5M67.1 242.2h.5M60.2 236.8h.5M53.9 239.7h.5M55.8 237.4h.5M56.3 240.8h.5M56.1 235.3h.5M57.3 240.3h.5M59.1 236.4h.5M55.7 239.9h.5M56.3 239.9h.5M57.8 241.1h.5M54.1 239.5h.5M58.1 241.0h.5M56.8 241.9h.5M57.4 241.4h.5M59.7 239.8h.5M56.6 239.0h.5M61.5 242.2h.5M54.3 239.8h.5M56.7 241.3h.5M57.6 242.1h.5M56.9 238.5h.5M56.1 242.9h.5M55.4 239.5h.5M55.5 241.1h.5M54.0 235.4h.5M57.9 241.8h.5M56.2 237.1h.5M54.3 237.9h.5M58.4 242.1h.5M60.0 239.3h.5M58.5 241.5h.5M56.7 240.9h.5M69.4 242.0h.5M57.0 242.8h.5M55.3 242.0h.5M59.3 241.7h.5M55.3 238.0h.5M56.5 239.3h.5M60.9 239.8h.5M57.0 240.8h.5M58.6 240.6h.5M65.1 241.2h.5M59.4 240.1h.5M55.6 239.5h.5M56.3 239.2h.5M56.9 240.6h.5M57.5 238.9h.5M56.6 241.0h.5M63.3 242.0h.5M53.4 242.1h.5M61.4 241.7h.5M59.5 243.0h.5M57.0 238.4h.5M53.7 237.5h.5M55.9 241.3h.5M56.0 239.2h.5M60.9 242.8h.5M56.3 238.0h.5M60.4 239.8h.5M54.3 238.3h.5M61.7 241.4h.5M67.1 241.5h.5M54.8 241.1h.5M65.8 241.6h.5M53.9 239.3h.5M57.9 237.7h.5M64.8 242.5h.5M57.4 238.5h.5M55.7 240.5h.5M54.0 242.1h.5M55.2 242.0h.5M55.7 241.5h.5M55.5 234.5h.5M64.7 239.7h.5M54.6 239.3h.5M56.6 238.1h.5M63.8 240.6h.5M61.6 240.4h.5M55.2 238.6h.5M56.8 241.6h.5M55.1 236.5h.5M53.4 236.7h.5M53.9 239.5h.5M57.7 240.1h.5M62.4 241.9h.5M57.0 241.0h.5M58.4 238.7h.5M58.9 241.3h.5M58.7 241.2h.5M54.1 240.0h.5M59.4 239.4h.5M54.6 237.5h.5M58.5 240.4h.5M53.6 242.2h.5M53.6 235.2h.5M59.5 241.0h.5M54.1 239.1h.5M55.2 237.1h.5M60.9 240.8h.5M54.2 241.2h.5M56.4 242.9h.5M56.9 240.8h.5M56.3 239.1h.5M60.0 242.3h.5M63.8 243.2h.5M56.6 242.3h.5M54.1 237.7h.5M55.2 236.9h.5M53.9 239.9h.5M56.5 240.2h.5M60.5 241.1h.5M57.3 239.2h.5M61.8 239.9h.5M57.2 242.5h.5M53.3 241.0h.5M53.3 239.4h.5M60.0 239.3h.5M56.2 241.7h.5M54.6 240.9h.5M56.7 232.6h.5M62.3 242.1h.5M58.3 241.7h.5M65.3 241.3h.5M58.8 241.3h.5M56.3 239.8h.5M62.9 240.7h.5M57.0 239.3h.5M57.0 241.6h.5M54.8 241.7h.5M64.4 240.5h.5M58.7 239.5h.5M56.2 242.6h.5M55.4 237.5h.5M58.3 239.2h.5M59.2 242.5h.5M57.4 241.5h.5M55.5 239.8h.5M55.7 238.2h.5M60.0 240.5h.5M54.4 242.1h.5M55.6 241.2h.5M59.0 243.1h.5M57.9 241.8h.5M57.7 240.9h.5M58.1 242.0h.5M56.0 239.5h.5M53.8 241.4h.5M63.9 242.0h.5M62.0 241.7h.5M57.1 239.7h.5M64.2 241.8h.5M58.6 242.2h.5M64.8 241.9h.5M60.7 241.3h.5M55.6 242.2h.5M53.5 242.1h.5M57.7 240.8h.5M55.6 241.2h.5M56.3 241.5h.5M60.0 239.3h.5M53.3 239.3h.5M62.0 242.2h.5M58.6 241.6h.5M55.0 242.0h.5M55.8 238.2h.5M54.4 238.8h.5M57.4 241.6h.5M54.6 239.7h.5M61.8 240.8h.5M53.7 240.8h.5M62.1 242.8h.5M63.2 241.0h.5M64.8 241.8h.5M57.3 241.5h.5M56.1 240.6h.5M59.3 238.8h.5M62.9 241.4h.5M53.7 237.7h.5M61.8 242.4h.5M54.7 241.3h.5M58.3 239.7h.5M58.4 236.1h.5M58.0 241.2h.5M53.8 237.2h.5M59.3 241.7h.5M66.8 241.6h.5M59.5 242.2h.5M53.8 236.1h.5M62.9 241.0h.5M54.4 236.2h.5M55.3 239.2h.5M59.1 238.2h.5M54.8 240.8h.5M54.5 239.9h.5M58.2 239.2h.5M56.1 239.8h.5M54.7 240.1h.5M59.2 242.6h.5M64.2 242.6h.5M67.3 243.0h.5M53.3 242.3h.5M55.1 238.1h.5M53.4 238.9h.5M64.8 239.2h.5M60.9 240.2h.5M55.7 236.4h.5M62.9 242.1h.5M57.5 242.2h.5M56.4 237.8h.5M54.7 237.5h.5M62.2 240.9h.5M59.1 237.4h.5M57.3 240.8h.5M60.5 241.1h.5M62.1 241.4h.5M62.3 242.1h.5M59.2 240.0h.5M53.4 236.2h.5M55.4 241.3h.5M60.1 236.9h.5M62.5 241.4h.5M60.1 237.3h.5M58.7 241.9h.5M58.9 241.8h.5M62.5 240.4h.5M56.8 241.7h.5M58.8 242.4h.5M58.2 242.5h.5M57.0 242.9h.5M55.7 243.1h.5M62.6 240.8h.5M63.5 241.9h.5M54.1 242.5h.5M53.9 237.8h.5M58.5 242.0h.5M55.4 241.5h.5M55.6 238.7h.5M62.3 239.8h.5M53.4 241.0h.5M55.6 239.8h.5M58.7 237.8h.5M58.1 241.6h.5M53.8 237.5h.5M65.5 241.9h.5M59.4 240.4h.5M59.3 242.1h.5M55.4 233.4h.5M61.0 242.2h.5M57.0 235.9h.5M58.1 237.9h.5M53.6 241.6h.5M54.6 240.2h.5M54.6 236.9h.5M57.1 240.9h.5M62.5 241.2h.5M53.4 238.1h.5M58.9 239.1h.5M62.2 240.9h.5M57.6 242.4h.5M56.3 241.5h.5M58.8 240.1h.5M57.8 242.1h.5M56.4 240.4h.5M55.8 241.5h.5M56.4 242.2h.5M55.0 239.9h.5M54.8 240.8h.5M60.2 239.8h.5M54.3 236.1h.5M61.2 237.4h.5M59.5 237.9h.5M56.7 237.8h.5M57.3 242.0h.5M56.2 241.8h.5M56.4 240.9h.5M54.6 240.7h.5M53.8 239.9h.5M55.2 236.7h.5M54.6 241.2h.5M59.9 238.9h.5M61.5 241.6h.5M54.4 241.6h.5M59.1 238.1h.5M54.6 242.6h.5M53.8 235.6h.5M54.8 238.0h.5M57.1 240.7h.5M55.1 237.3h.5M55.3 239.7h.5M57.4 240.2h.5M64.8 241.2h.5M63.3 241.6h.5M53.4 240.8h.5M53.7 240.5h.5M59.6 242.7h.5M59.5 238.2h.5M58.9 239.7h.5M60.5 241.3h.5M57.8 242.5h.5M65.2 241.6h.5M58.9 240.8h.5M61.3 238.8h.5M57.3 239.8h.5M63.8 241.8h.5M60.6 239.9h.5M53.4 238.3h.5M56.6 236.9h.5M66.2 241.5h.5M57.3 240.4h.5M63.5 240.0h.5M55.0 241.9h.5M60.5 242.4h.5M58.9 242.6h.5M56.2 241.2h.5M59.1 241.0h.5M53.3 239.2h.5M67.8 241.7h.5M53.8 241.9h.5M58.7 238.3h.5M54.1 236.2h.5M59.9 242.5h.5M60.8 241.1h.5M62.3 239.3h.5M54.0 241.3h.5M55.5 241.2h.5M54.7 242.3h.5M56.4 240.9h.5M53.7 240.6h.5M55.7 239.0h.5M59.0 238.6h.5M56.4 239.9h.5M58.7 235.5h.5M61.0 242.5h.5M55.3 240.1h.5M59.2 242.0h.5M55.1 237.3h.5M54.3 237.1h.5M54.2 238.9h.5M62.4 240.5h.5M65.0 240.6h.5M83.0 241.1h.5M79.4 242.6h.5M60.5 242.1h.5M69.9 241.4h.5M79.4 243.0h.5M62.2 241.0h.5M79.2 241.5h.5M76.0 241.9h.5M71.5 241.1h.5M63.9 241.6h.5M56.7 241.3h.5M59.3 240.6h.5M57.4 243.2h.5M62.0 241.9h.5M62.6 240.4h.5M78.7 240.2h.5M72.4 242.2h.5M53.9 239.3h.5M64.3 241.9h.5M54.3 241.0h.5M63.9 239.8h.5M60.6 242.9h.5M65.8 242.4h.5M72.9 242.2h.5M63.7 240.0h.5M65.0 242.0h.5M80.1 241.4h.5M58.0 241.8h.5M73.9 239.6h.5M54.6 240.6h.5M61.5 240.2h.5M70.2 242.0h.5M60.0 241.2h.5M59.8 241.5h.5M54.9 243.0h.5M71.2 242.4h.5M80.2 240.7h.5M57.8 241.9h.5M79.2 239.5h.5M66.9 241.7h.5M65.1 240.0h.5M71.8 241.7h.5M57.4 241.0h.5M73.7 241.1h.5M85.7 240.5h.5M64.2 241.0h.5M67.3 242.4h.5M66.4 242.1h.5M69.3 242.3h.5M54.3 241.6h.5M56.2 241.4h.5M86.2 240.6h.5M85.6 240.5h.5M73.9 242.1h.5M84.5 240.6h.5M62.7 242.5h.5M84.5 243.1h.5M86.9 242.1h.5M60.6 240.7h.5M73.1 240.6h.5M67.4 242.8h.5M55.4 242.3h.5M57.0 239.8h.5M54.9 241.8h.5M70.1 241.9h.5M80.4 243.1h.5M82.9 242.0h.5M68.9 242.1h.5M72.6 241.4h.5M86.7 241.9h.5M54.1 242.6h.5M67.6 242.1h.5M84.4 239.5h.5M78.0 242.2h.5M63.6 242.6h.5M73.5 241.5h.5M59.1 240.9h.5M86.4 240.9h.5M60.6 240.7h.5M75.3 241.0h.5M70.8 239.5h.5M75.5 241.4h.5M70.1 243.1h.5M67.8 240.9h.5M68.0 241.6h.5M67.8 242.4h.5M86.2 242.3h.5M66.8 242.7h.5M73.4 242.5h.5M82.9 241.5h.5M63.1 241.9h.5M83.5 242.2h.5M61.6 242.4h.5M69.3 240.6h.5M61.3 241.5h.5M57.3 239.8h.5M86.6 242.8h.5M55.5 240.9h.5M55.8 242.0h.5M83.5 240.3h.5M74.2 241.3h.5M61.9 241.2h.5M78.0 242.2h.5M72.8 242.2h.5M68.3 242.2h.5M64.6 241.5h.5M85.5 242.2h.5M67.3 240.9h.5M74.9 243.0h.5M72.3 242.8h.5M63.8 240.4h.5M62.1 240.5h.5M62.8 242.9h.5M68.2 241.5h.5M59.1 242.8h.5M64.7 242.2h.5M79.0 241.5h.5M79.5 241.4h.5M67.8 241.3h.5M71.2 242.1h.5M66.3 242.3h.5M65.6 241.8h.5M69.0 242.1h.5M64.8 242.4h.5M71.8 240.5h.5M55.8 243.0h.5M60.6 242.1h.5M61.9 241.3h.5M62.9 241.0h.5M77.0 240.2h.5M75.5 242.8h.5M62.2 242.5h.5M81.1 241.7h.5M86.5 241.7h.5M65.0 239.0h.5M82.0 242.0h.5M75.4 241.1h.5M56.9 240.6h.5M80.6 240.5h.5M63.0 242.7h.5M56.4 242.2h.5M65.3 243.1h.5M68.1 242.1h.5M74.6 242.2h.5M70.7 241.9h.5M59.3 240.3h.5M70.8 240.7h.5M83.5 242.5h.5M54.9 242.8h.5M58.3 242.4h.5M61.6 238.5h.5M64.6 230.4h.5M62.1 236.5h.5M75.1 236.3h.5M74.5 240.7h.5M70.2 232.4h.5M65.1 239.4h.5M81.0 231.6h.5M79.2 235.3h.5M72.7 230.0h.5M66.1 234.4h.5M76.5 232.8h.5M55.9 238.2h.5M79.7 240.3h.5M57.6 240.5h.5M54.8 237.9h.5M63.0 240.0h.5M80.9 226.1h.5M72.8 239.5h.5M70.9 234.6h.5M54.1 242.2h.5M81.3 240.2h.5M60.8 240.7h.5M75.7 242.2h.5M76.8 237.4h.5M64.1 237.5h.5M72.2 242.0h.5M76.1 230.9h.5M56.0 237.5h.5M79.9 231.9h.5M85.6 239.6h.5M62.3 235.4h.5M74.2 229.9h.5M56.0 238.9h.5M66.3 243.3h.5M69.8 241.3h.5M82.9 238.9h.5M73.2 241.0h.5M69.3 241.2h.5M68.4 240.6h.5M65.3 238.8h.5M78.6 236.8h.5M55.5 239.3h.5M60.8 239.9h.5M57.8 243.0h.5M77.9 242.6h.5M78.8 242.1h.5M66.9 239.6h.5M58.7 242.2h.5M60.1 239.4h.5M57.7 238.2h.5M77.2 235.4h.5M79.9 228.7h.5M63.4 238.3h.5M61.3 241.5h.5M60.8 237.4h.5M70.2 239.4h.5M78.2 239.5h.5M54.7 242.3h.5M60.1 243.3h.5M72.0 226.4h.5M67.5 234.1h.5M78.3 241.8h.5M79.7 243.0h.5M56.1 240.4h.5M79.0 231.0h.5M75.4 240.4h.5M67.2 224.4h.5M68.6 231.2h.5M78.9 236.9h.5M77.8 240.2h.5M80.5 241.8h.5M81.7 239.1h.5M65.4 233.4h.5M59.3 241.1h.5M74.8 237.5h.5M68.0 230.5h.5M65.6 236.1h.5M75.6 243.1h.5M67.9 242.7h.5M84.2 242.8h.5M62.7 234.8h.5M58.6 237.8h.5M84.8 238.1h.5M86.4 241.4h.5M57.7 239.0h.5M72.9 240.4h.5M77.0 238.1h.5M72.9 243.2h.5M76.9 237.8h.5M68.1 234.6h.5M82.6 239.2h.5M63.2 236.2h.5M60.7 241.1h.5M72.1 221.1h.5M77.9 238.1h.5M63.4 240.0h.5M77.2 231.0h.5M73.7 240.1h.5M64.5 243.0h.5M69.5 241.7h.5M65.9 235.9h.5M64.6 235.0h.5M68.7 241.3h.5M56.4 236.3h.5M72.1 237.5h.5M72.3 239.1h.5M75.8 242.8h.5M69.6 235.7h.5M64.2 237.7h.5M60.5 238.9h.5M74.9 235.5h.5M73.3 232.3h.5M62.3 240.5h.5M59.6 239.9h.5M79.3 242.5h.5M73.2 239.4h.5M80.7 241.2h.5M78.1 242.1h.5M66.8 243.2h.5M58.3 237.2h.5M61.3 238.1h.5M74.0 228.7h.5M57.2 233.2h.5M68.6 231.3h.5M75.2 231.7h.5M66.1 238.9h.5M82.9 240.5h.5M80.3 238.7h.5M74.5 240.3h.5M68.8 236.8h.5M85.2 241.2h.5M59.5 239.8h.5M63.5 238.7h.5M79.5 235.1h.5M74.8 227.8h.5M75.7 239.1h.5M75.8 236.7h.5M80.2 228.8h.5M72.0 234.6h.5M87.1 241.5h.5M65.8 232.5h.5M85.6 240.0h.5M59.5 236.1h.5M66.0 243.0h.5M57.3 242.7h.5M66.8 236.7h.5M58.0 236.7h.5M65.4 233.3h.5M61.9 242.4h.5M60.8 239.1h.5M69.7 235.0h.5M65.7 242.9h.5M75.5 240.7h.5M66.2 237.4h.5M66.9 228.2h.5M84.1 225.7h.5M65.4 236.8h.5M68.0 237.9h.5M81.2 236.0h.5M67.0 241.0h.5M66.0 241.2h.5M61.2 229.7h.5M73.5 236.3h.5M64.1 240.4h.5M58.6 230.2h.5M63.0 242.8h.5M74.0 242.3h.5M60.1 239.1h.5M72.0 242.4h.5M57.4 241.9h.5M76.2 233.2h.5M65.2 242.0h.5M67.5 236.5h.5M64.1 224.5h.5M65.1 238.3h.5M57.1 232.3h.5M75.7 236.3h.5M62.2 236.4h.5M72.8 239.8h.5M61.6 242.9h.5M75.8 241.0h.5M67.1 241.5h.5M64.3 237.1h.5M79.0 241.4h.5M79.4 239.0h.5M59.8 239.8h.5M65.1 232.2h.5M57.6 241.7h.5M66.8 226.9h.5M59.9 227.7h.5M85.7 240.0h.5M74.6 236.9h.5M59.2 241.9h.5M70.1 240.1h.5M82.5 234.6h.5M77.7 238.5h.5M60.1 232.5h.5M59.2 241.5h.5M74.3 243.2h.5M71.1 238.2h.5M73.3 242.6h.5M76.0 240.8h.5M60.1 233.5h.5M63.5 242.4h.5M67.6 231.9h.5M66.9 231.6h.5M87.0 239.0h.5M69.6 242.6h.5M78.2 239.2h.5M71.2 234.6h.5M68.6 241.2h.5M78.5 232.1h.5M57.6 236.0h.5M61.7 238.8h.5M74.2 227.2h.5M71.6 221.2h.5M78.8 241.9h.5M61.0 242.2h.5M67.4 233.4h.5M58.1 238.8h.5M82.4 241.7h.5M85.0 242.1h.5M80.5 235.6h.5M66.5 235.6h.5M56.7 235.3h.5M82.4 242.8h.5M71.5 241.1h.5M66.5 240.5h.5M79.5 239.6h.5M61.3 242.3h.5M68.8 232.2h.5M83.0 243.3h.5M68.3 241.8h.5M69.3 237.7h.5M56.8 241.3h.5M85.0 241.6h.5M66.7 240.3h.5M56.4 242.0h.5M78.6 241.3h.5M72.8 235.1h.5M75.8 237.6h.5M75.7 232.3h.5M54.7 240.9h.5M80.9 239.2h.5M66.7 227.4h.5M87.8 238.2h.5M60.9 235.6h.5M74.7 236.0h.5M75.5 230.7h.5M64.7 242.8h.5M63.4 234.7h.5M68.0 242.0h.5M69.5 221.9h.5M58.8 241.7h.5M65.8 240.2h.5M60.9 237.4h.5M76.1 237.9h.5M61.9 230.4h.5M58.1 231.8h.5M60.9 239.0h.5M68.2 238.0h.5M75.0 241.8h.5M60.6 240.8h.5M66.4 240.5h.5M65.3 238.2h.5M55.6 239.2h.5M80.8 239.0h.5M65.6 232.6h.5M71.8 242.7h.5M84.5 241.4h.5M72.7 235.9h.5M75.9 240.9h.5M62.2 237.3h.5M59.7 242.9h.5M70.2 238.0h.5M61.9 240.8h.5M54.7 240.3h.5M61.5 233.4h.5M76.1 240.8h.5M64.6 240.8h.5M64.7 238.0h.5M70.7 242.0h.5M72.6 239.6h.5M58.3 238.2h.5M59.3 235.2h.5M72.5 226.9h.5M70.2 242.3h.5M68.8 238.9h.5M59.2 238.1h.5M79.0 242.8h.5M64.3 229.7h.5M61.2 237.3h.5M80.7 233.4h.5M79.2 240.0h.5M74.4 230.2h.5M83.3 235.1h.5M72.7 242.3h.5M80.3 237.3h.5M69.1 240.4h.5M74.0 232.2h.5M53.6 241.3h.5M80.8 240.8h.5M77.5 241.3h.5M70.4 229.9h.5M73.9 241.4h.5M79.1 235.8h.5M62.9 242.7h.5M74.7 237.8h.5M60.2 242.9h.5M85.3 237.4h.5M57.4 238.4h.5M76.0 241.0h.5M57.3 241.9h.5M80.5 238.3h.5M58.5 233.4h.5M70.5 238.4h.5M65.4 229.9h.5M73.6 235.0h.5M74.0 242.3h.5M61.1 232.6h.5M73.7 242.1h.5M70.2 234.3h.5M78.4 230.8h.5M71.9 231.9h.5M78.0 235.3h.5M67.8 237.1h.5M76.9 242.6h.5M81.2 239.7h.5M83.5 240.3h.5M55.9 231.5h.5M69.9 237.6h.5M65.8 238.5h.5M64.2 232.7h.5M77.4 241.0h.5M71.9 235.9h.5M81.6 243.0h.5M64.4 234.7h.5M77.6 236.6h.5M80.9 240.6h.5M78.1 242.0h.5M83.6 238.3h.5M71.2 236.2h.5M56.0 242.7h.5M84.7 239.6h.5M84.4 242.7h.5M73.0 230.4h.5M83.0 232.2h.5M60.2 243.1h.5M83.1 237.4h.5M75.2 242.6h.5M77.2 235.5h.5M75.0 233.8h.5M61.2 237.1h.5M70.5 222.9h.5M85.5 236.1h.5M74.5 241.9h.5M68.8 232.4h.5M59.0 238.2h.5M71.8 240.2h.5M85.2 239.6h.5M67.7 240.4h.5M64.3 235.9h.5M68.0 227.6h.5M68.5 235.4h.5M85.7 238.5h.5M70.7 237.3h.5M72.7 237.7h.5M72.7 233.7h.5M63.9 242.4h.5M82.0 235.4h.5M63.3 242.9h.5M62.0 234.2h.5M78.5 241.9h.5M79.2 235.4h.5M69.7 234.2h.5M83.6 241.4h.5M77.1 242.0h.5M75.3 233.3h.5M67.7 243.3h.5M66.6 234.6h.5M72.2 236.9h.5M74.4 243.1h.5M68.3 242.5h.5M69.7 229.1h.5M55.5 239.0h.5M67.2 236.1h.5M57.5 239.2h.5M72.0 239.0h.5M61.3 235.4h.5M78.6 238.0h.5M70.9 234.2h.5M54.4 237.1h.5M71.4 233.2h.5M63.7 239.8h.5M69.0 242.4h.5M69.6 232.4h.5M66.9 240.3h.5M76.6 236.9h.5M75.6 239.3h.5M68.6 230.3h.5M62.0 235.2h.5M68.4 234.1h.5M66.5 231.8h.5M66.5 242.2h.5M57.7 239.5h.5M78.4 225.1h.5M64.5 238.5h.5M80.0 230.5h.5M80.3 242.2h.5M72.5 233.6h.5M59.8 239.6h.5M67.2 228.6h.5M80.2 239.3h.5M86.1 240.8h.5M73.5 241.7h.5M62.9 243.0h.5M60.1 241.8h.5M68.6 240.9h.5M68.6 241.7h.5M74.3 232.7h.5M71.6 237.0h.5M75.8 236.9h.5M62.8 240.6h.5M62.9 225.8h.5M81.4 234.7h.5M67.2 235.9h.5M70.5 239.8h.5M75.8 230.7h.5M63.1 234.3h.5M60.5 238.8h.5M55.0 241.2h.5M75.5 229.2h.5M81.4 231.9h.5M70.4 222.8h.5M61.2 242.9h.5M86.1 242.0h.5M75.9 240.0h.5M80.1 227.1h.5M81.9 242.0h.5M59.6 224.7h.5M66.4 227.3h.5M80.8 240.5h.5M69.6 239.4h.5M72.9 239.5h.5M78.8 233.2h.5M83.2 241.9h.5M80.2 241.7h.5M70.1 229.2h.5M69.7 235.4h.5M67.4 241.0h.5M69.4 242.2h.5M81.0 235.7h.5M83.2 236.2h.5M62.7 229.5h.5M61.9 240.8h.5M82.6 240.9h.5M81.2 235.0h.5M78.1 240.6h.5M78.6 235.9h.5M56.3 241.6h.5M70.3 232.9h.5M59.2 228.0h.5M62.2 239.2h.5M64.2 237.5h.5M70.5 237.3h.5M73.3 243.3h.5M63.4 237.5h.5M72.9 243.2h.5M57.0 237.4h.5M70.4 241.1h.5M73.3 241.1h.5M55.8 240.3h.5M79.8 233.4h.5M75.5 234.2h.5M70.5 235.5h.5M60.7 241.2h.5M76.6 241.8h.5M64.1 240.0h.5M81.7 235.7h.5M65.4 236.8h.5M59.9 242.2h.5M65.9 240.2h.5M77.3 241.2h.5M62.7 237.0h.5M82.5 240.8h.5M76.3 242.5h.5M68.7 232.8h.5M65.4 237.2h.5M59.8 242.0h.5M64.5 239.3h.5M80.1 238.4h.5M68.3 227.4h.5M82.7 233.1h.5M79.5 235.9h.5M66.9 242.2h.5M72.7 237.8h.5M78.0 240.8h.5M81.9 241.6h.5M87.2 237.1h.5M64.5 237.8h.5M65.6 235.7h.5M77.7 239.4h.5M73.0 233.6h.5M71.0 225.7h.5M64.0 233.1h.5M65.0 239.4h.5M74.3 230.4h.5M72.0 236.2h.5M56.5 243.1h.5M79.5 242.2h.5M61.4 228.6h.5M71.0 242.0h.5M61.9 236.1h.5M54.9 232.5h.5M76.6 237.4h.5M71.7 225.5h.5M75.1 239.0h.5M73.4 236.0h.5M74.7 242.4h.5M94.6 237.4h.5M88.8 242.1h.5M89.7 239.2h.5M98.8 230.5h.5M89.7 243.5h.5M93.5 238.3h.5M102.4 206.7h.5M95.1 239.0h.5M90.5 234.1h.5M90.9 239.6h.5M92.1 236.6h.5M92.1 239.8h.5M93.0 234.7h.5M87.8 240.3h.5M94.4 230.1h.5M86.5 239.7h.5M88.7 241.0h.5M84.0 242.0h.5M85.5 241.0h.5M95.9 236.4h.5M88.5 239.8h.5M85.6 239.8h.5M85.4 238.2h.5M86.2 237.3h.5M96.0 233.5h.5M94.8 235.4h.5M95.5 236.3h.5M96.1 233.7h.5M90.7 238.9h.5M96.1 237.6h.5M84.6 242.1h.5M95.3 231.7h.5M87.3 241.2h.5M90.0 238.2h.5M90.6 233.5h.5M90.8 238.6h.5M100.8 231.2h.5M90.8 239.8h.5M95.8 229.1h.5M94.0 233.1h.5M94.5 232.4h.5M94.1 235.5h.5M96.1 236.3h.5M84.7 243.7h.5M83.6 237.0h.5M90.0 242.4h.5M90.7 237.0h.5M97.0 236.0h.5M94.7 238.4h.5M85.2 240.0h.5M86.8 240.6h.5M100.4 234.4h.5M100.0 224.4h.5M90.9 239.1h.5M84.0 239.1h.5M89.8 241.7h.5M98.8 238.3h.5M93.4 237.5h.5M96.2 231.8h.5M92.4 241.4h.5M87.8 241.4h.5M88.7 241.4h.5M86.6 239.4h.5M100.0 231.0h.5M87.4 240.1h.5M89.1 239.8h.5M91.2 239.0h.5M92.8 237.2h.5M96.4 233.7h.5M93.5 237.3h.5M83.3 243.8h.5M97.9 229.3h.5M91.1 237.7h.5M88.4 240.3h.5M89.0 239.4h.5M89.8 241.6h.5M96.0 235.2h.5M89.1 241.1h.5M92.4 239.1h.5M90.3 242.0h.5M90.2 240.0h.5M84.6 240.7h.5M93.8 237.3h.5M85.8 240.7h.5M83.5 238.8h.5M90.8 240.7h.5M87.3 242.5h.5M95.9 237.4h.5M86.5 240.6h.5M91.5 243.5h.5M99.3 231.0h.5M101.3 225.4h.5M85.1 239.4h.5M95.0 240.0h.5M87.8 239.7h.5M99.1 224.8h.5M86.1 240.3h.5M95.1 239.8h.5M93.4 238.8h.5M92.7 238.8h.5M92.0 236.9h.5M88.2 238.4h.5M90.5 234.5h.5M98.3 235.9h.5M95.2 238.1h.5M88.3 242.9h.5M83.8 242.7h.5M90.6 240.5h.5M86.0 242.9h.5M87.9 241.5h.5M96.1 236.9h.5M86.2 241.9h.5M92.8 238.4h.5M100.0 236.8h.5M85.7 239.0h.5M85.2 241.7h.5M88.6 238.8h.5M97.8 236.6h.5M87.3 240.5h.5M89.6 239.6h.5M90.5 241.0h.5M90.9 240.1h.5M86.1 239.3h.5M94.6 239.1h.5M92.8 231.4h.5M93.3 238.3h.5M96.3 234.9h.5M86.0 239.4h.5M96.5 232.1h.5M97.1 222.6h.5M100.9 233.4h.5M89.7 237.8h.5M95.1 239.0h.5M100.5 234.3h.5M83.5 239.6h.5M94.8 237.1h.5M91.1 239.7h.5M91.1 237.3h.5M90.4 238.8h.5M96.6 238.4h.5M92.9 233.0h.5M92.0 237.2h.5M84.6 239.0h.5M97.1 233.9h.5M83.9 240.6h.5M89.7 243.1h.5M91.0 237.2h.5M92.0 241.7h.5M91.0 238.4h.5M88.3 236.1h.5M86.2 236.9h.5M95.8 236.9h.5M86.6 241.7h.5M89.2 242.7h.5M94.4 235.3h.5M96.0 234.7h.5M100.5 213.2h.5M94.8 236.2h.5M85.7 241.5h.5M97.0 229.3h.5M90.0 242.6h.5M96.3 227.7h.5M85.2 239.2h.5M85.3 240.5h.5M87.3 239.9h.5M85.1 239.3h.5M87.9 238.8h.5M91.6 239.3h.5M86.4 235.6h.5M88.6 238.6h.5M84.5 239.4h.5M92.8 237.1h.5M97.8 230.6h.5M93.7 236.9h.5M101.5 226.4h.5M90.8 241.8h.5M97.2 237.3h.5M95.6 237.2h.5M96.0 231.6h.5M85.2 237.5h.5M85.8 237.2h.5M88.7 239.6h.5M95.8 236.5h.5M88.5 237.1h.5M94.7 234.9h.5M95.8 236.4h.5M91.0 237.9h.5M87.0 236.7h.5M87.8 238.7h.5M91.6 236.4h.5M83.4 243.5h.5M87.5 235.0h.5M91.8 238.7h.5M86.5 240.7h.5M91.8 237.7h.5M84.7 241.7h.5M89.5 235.9h.5M95.3 236.7h.5M97.1 236.1h.5M91.9 238.7h.5M84.5 238.0h.5M99.5 212.2h.5M98.8 233.5h.5M88.7 239.9h.5M92.3 237.9h.5M83.5 241.9h.5M91.2 236.3h.5M92.0 238.4h.5M95.1 239.4h.5M84.5 239.9h.5M86.5 239.8h.5M85.9 241.1h.5M100.0 222.6h.5M93.7 240.0h.5M92.6 237.5h.5M90.4 240.4h.5M84.6 239.3h.5M93.4 233.5h.5M101.7 229.6h.5M85.9 231.5h.5M88.8 234.3h.5M94.3 236.3h.5M88.6 238.9h.5M88.0 240.8h.5M90.6 238.0h.5M91.5 239.2h.5M88.5 240.0h.5M96.6 233.2h.5M89.0 234.1h.5M87.1 238.7h.5M86.4 238.7h.5M85.4 237.5h.5M88.4 233.6h.5M87.8 241.1h.5M91.8 239.1h.5M91.1 232.9h.5M86.2 238.9h.5M92.6 238.8h.5M98.6 223.7h.5M96.5 233.6h.5M89.2 239.1h.5M92.9 234.4h.5M91.2 239.8h.5M90.5 237.9h.5M97.6 235.3h.5M93.4 236.4h.5M88.5 240.1h.5M101.7 231.0h.5M85.1 242.2h.5M93.2 239.0h.5M93.4 239.1h.5M85.9 239.8h.5M86.7 240.3h.5M84.3 240.3h.5M88.7 240.7h.5M87.5 238.3h.5M89.6 237.7h.5M84.2 241.9h.5M97.7 230.7h.5M93.6 234.8h.5M93.9 234.3h.5M95.9 235.2h.5M95.9 235.8h.5M90.1 239.6h.5M85.9 238.4h.5M96.5 236.1h.5M94.0 240.8h.5M100.0 233.0h.5M89.0 239.4h.5M91.4 239.7h.5M92.2 239.7h.5M91.6 236.3h.5M94.7 236.6h.5M92.8 238.0h.5M85.0 242.7h.5M97.6 228.7h.5M83.5 238.2h.5M85.3 240.1h.5M93.7 240.2h.5M98.6 237.7h.5M86.1 239.6h.5M95.5 236.0h.5M84.2 241.9h.5M96.0 238.1h.5M101.3 212.5h.5M85.6 240.4h.5M93.2 233.1h.5M95.6 234.6h.5M84.9 238.6h.5M87.6 238.6h.5M97.5 228.1h.5M91.4 232.7h.5M94.3 236.7h.5M95.0 234.4h.5M97.9 237.4h.5M94.2 237.8h.5M93.6 240.7h.5M83.5 239.2h.5M89.3 240.1h.5M90.6 240.2h.5M96.2 236.8h.5M90.2 238.5h.5M90.0 240.0h.5M87.6 238.6h.5M83.3 243.1h.5M86.3 243.5h.5M98.1 235.2h.5M83.4 234.2h.5M94.5 234.8h.5M86.1 241.0h.5M93.4 233.8h.5M96.1 235.8h.5M97.0 237.4h.5M91.6 237.1h.5M92.6 233.3h.5M84.9 238.3h.5M98.6 230.0h.5M83.4 239.6h.5M85.7 241.3h.5M88.2 239.7h.5M85.6 232.4h.5M89.1 236.1h.5M94.5 237.0h.5M88.0 235.8h.5M83.9 239.2h.5M90.1 239.1h.5M87.9 239.2h.5M91.0 241.8h.5M84.5 240.0h.5M91.6 239.1h.5M85.9 240.7h.5M89.0 237.0h.5M103.1 228.8h.5M87.1 237.8h.5M86.2 238.3h.5M91.1 241.2h.5M96.2 237.1h.5M86.8 238.7h.5M92.1 234.2h.5M95.6 234.7h.5M86.7 239.3h.5M86.5 239.9h.5M94.9 237.1h.5M95.0 241.1h.5M84.8 238.7h.5M84.3 240.7h.5M85.6 240.3h.5M87.6 230.6h.5M85.1 240.9h.5M92.8 236.1h.5M99.8 228.9h.5M96.9 229.6h.5M86.5 240.5h.5M98.9 227.0h.5M86.9 238.3h.5M94.7 238.1h.5M95.7 235.9h.5M83.9 240.8h.5M95.4 236.7h.5M84.1 242.5h.5M90.9 238.0h.5M90.3 241.5h.5M91.3 241.5h.5M88.9 239.3h.5M92.5 234.7h.5M88.0 239.2h.5M100.8 229.2h.5M87.9 237.2h.5M84.4 240.8h.5M88.0 240.2h.5M87.5 231.7h.5M98.5 230.3h.5M89.5 235.1h.5M92.9 236.1h.5M84.3 240.0h.5M90.1 238.7h.5M93.3 235.2h.5M84.8 238.5h.5M84.3 238.9h.5M95.3 239.9h.5M87.7 240.0h.5M87.8 230.8h.5M85.8 240.4h.5M89.6 235.2h.5M91.1 241.2h.5M88.0 240.1h.5M102.4 220.2h.5M89.1 237.8h.5M94.4 235.8h.5M95.7 236.3h.5M87.2 238.6h.5M89.9 242.7h.5M98.1 234.8h.5M95.8 233.1h.5M89.8 239.6h.5M99.5 231.2h.5M94.3 233.7h.5M93.0 238.2h.5M84.5 240.1h.5M89.4 236.6h.5M84.7 237.4h.5M90.7 238.4h.5M93.0 237.9h.5M90.5 240.0h.5M97.1 234.5h.5M89.8 232.2h.5M91.4 239.7h.5M92.6 235.5h.5M98.6 229.5h.5M85.3 240.9h.5M93.6 237.6h.5M95.3 233.7h.5M94.3 239.1h.5M95.4 237.4h.5M95.1 240.4h.5M87.2 239.6h.5M91.1 237.5h.5M97.3 228.5h.5M91.7 236.7h.5M86.4 241.4h.5M96.8 236.6h.5M91.0 239.6h.5M84.6 239.2h.5M85.6 242.9h.5M93.6 240.1h.5M90.1 238.7h.5M86.5 241.8h.5M92.2 241.5h.5M99.9 215.9h.5M96.0 232.5h.5M85.6 240.9h.5M91.8 234.3h.5M91.6 235.0h.5M90.9 238.2h.5M84.8 239.8h.5M87.1 243.4h.5M86.4 238.2h.5M92.7 233.4h.5M83.7 240.5h.5M87.1 236.9h.5M92.4 238.9h.5M92.4 239.1h.5M94.5 241.3h.5M95.1 235.9h.5M86.5 228.7h.5M84.0 239.6h.5M87.1 241.4h.5M88.2 238.4h.5M85.0 238.5h.5M85.4 238.4h.5M97.4 230.8h.5M86.1 240.1h.5M87.2 239.1h.5M101.4 229.6h.5M94.0 237.0h.5M93.2 240.8h.5M97.7 236.2h.5M94.9 238.1h.5M88.7 242.4h.5M88.0 235.9h.5M97.2 236.1h.5M99.4 224.7h.5M95.4 237.4h.5M86.0 239.5h.5M85.3 242.4h.5M90.6 236.5h.5M90.1 237.9h.5M96.5 238.2h.5M91.9 237.6h.5M96.8 235.6h.5M98.1 231.1h.5M89.5 239.6h.5M85.7 241.3h.5M96.6 234.9h.5M93.6 235.2h.5M83.4 234.7h.5M89.5 234.4h.5M94.8 239.4h.5M91.4 235.8h.5M91.7 238.8h.5M96.3 228.2h.5M92.4 241.7h.5M89.1 239.4h.5M92.7 237.9h.5M93.9 237.4h.5M87.2 237.9h.5M88.5 238.6h.5M92.5 236.4h.5M96.1 233.0h.5M90.0 240.0h.5M83.9 243.6h.5M92.1 235.9h.5M85.9 240.5h.5M87.0 239.7h.5M96.8 235.4h.5M97.6 236.3h.5M93.1 238.4h.5M96.0 237.6h.5M92.0 242.4h.5M89.3 240.0h.5M86.4 239.1h.5M85.6 243.4h.5M91.1 238.5h.5M100.6 228.4h.5M95.6 237.3h.5M94.2 238.8h.5M88.8 239.1h.5M85.1 239.1h.5M88.9 239.9h.5M84.1 236.3h.5M92.2 237.9h.5M94.7 237.9h.5M84.6 239.0h.5M96.0 234.3h.5M89.5 240.7h.5M86.3 242.0h.5M96.6 231.7h.5M95.2 234.8h.5M85.8 243.2h.5M94.1 240.2h.5M86.1 241.0h.5M95.1 234.4h.5M101.1 226.5h.5M96.8 239.0h.5M95.5 231.8h.5M87.9 241.5h.5M85.8 243.6h.5M95.8 237.0h.5M87.7 239.6h.5M95.6 233.5h.5M88.5 243.2h.5M84.1 237.7h.5M92.3 236.8h.5M89.6 238.6h.5M90.7 238.3h.5M85.7 240.2h.5M85.9 239.7h.5M86.5 238.5h.5M85.0 241.8h.5M85.3 234.7h.5M88.6 239.6h.5M97.8 232.9h.5M90.3 241.4h.5M88.2 241.0h.5M86.6 241.7h.5M95.1 237.6h.5M84.8 240.2h.5M97.0 236.2h.5M92.1 237.6h.5M87.7 233.5h.5M84.9 240.2h.5M100.8 217.1h.5M83.7 240.7h.5M94.0 239.0h.5M89.0 237.5h.5M94.1 233.4h.5M84.1 236.2h.5M91.1 238.4h.5M92.7 236.0h.5M83.9 241.9h.5M85.4 242.9h.5M85.3 241.7h.5M90.3 233.2h.5M86.7 240.4h.5M84.6 239.1h.5M86.3 239.1h.5M97.2 232.3h.5M88.8 241.1h.5M89.8 234.4h.5M93.3 240.2h.5M98.0 231.4h.5M88.6 238.4h.5M99.7 217.3h.5M85.4 239.6h.5M94.6 234.9h.5M95.7 236.0h.5M83.8 238.1h.5M95.6 235.7h.5M93.2 233.9h.5M92.5 240.2h.5M93.1 236.6h.5M95.6 235.3h.5M96.6 234.2h.5M84.9 238.0h.5M90.7 239.2h.5M93.1 239.2h.5M85.9 241.7h.5M84.1 237.9h.5M92.6 237.9h.5M88.1 238.0h.5M90.1 241.5h.5M87.7 235.6h.5M91.7 239.5h.5M91.1 236.2h.5M94.0 236.9h.5M84.8 239.4h.5M93.0 237.1h.5M96.2 235.5h.5M87.5 238.6h.5M88.8 241.2h.5M84.0 243.6h.5M98.4 229.8h.5M94.7 235.6h.5M87.7 239.8h.5M95.5 234.8h.5M88.0 243.9h.5M91.4 234.0h.5M86.6 240.0h.5M89.1 240.8h.5M89.2 243.1h.5M86.3 239.2h.5M95.6 237.1h.5M93.5 234.3h.5M84.6 234.5h.5M92.3 240.9h.5M93.7 242.5h.5M96.8 239.7h.5M94.7 236.4h.5M85.4 237.3h.5M87.2 241.0h.5M85.6 242.1h.5M84.5 241.5h.5M97.1 232.1h.5M88.7 239.5h.5M97.3 232.6h.5M93.1 238.5h.5M89.3 241.0h.5M101.1 210.4h.5M83.3 240.0h.5M85.9 238.3h.5M90.3 224.7h.5M91.9 237.9h.5M99.9 229.5h.5M92.3 240.0h.5M91.0 237.2h.5M93.5 236.7h.5M84.0 242.6h.5M96.1 240.6h.5M90.4 238.4h.5M84.0 240.5h.5M89.7 238.5h.5M98.1 232.7h.5M95.6 234.9h.5M90.2 239.1h.5M85.7 240.8h.5M90.0 235.7h.5M95.1 234.8h.5M86.4 237.4h.5M86.0 240.3h.5M91.1 241.3h.5M83.9 241.3h.5M97.1 229.6h.5M96.8 230.6h.5M94.6 230.6h.5M97.6 236.8h.5M92.2 238.0h.5M85.1 237.1h.5M87.2 239.4h.5M90.8 240.3h.5M89.4 232.3h.5M85.1 239.9h.5M91.4 236.7h.5M94.0 236.2h.5M95.7 236.7h.5M84.5 240.1h.5M86.2 235.5h.5M91.9 236.1h.5M99.6 231.2h.5M92.9 239.1h.5M87.5 241.1h.5M87.7 238.2h.5M97.5 232.0h.5M89.4 242.6h.5M96.9 218.3h.5M92.0 237.3h.5M87.6 236.8h.5M93.2 236.6h.5M93.1 237.2h.5M86.3 239.7h.5M85.2 238.7h.5M97.2 233.2h.5M90.2 238.9h.5M84.6 239.4h.5M95.2 233.7h.5M96.4 238.3h.5M88.7 242.1h.5M89.0 241.7h.5M85.0 239.5h.5M97.0 227.5h.5M88.7 232.3h.5M93.9 238.3h.5M96.8 237.4h.5M86.5 242.4h.5M93.1 238.4h.5M97.3 238.8h.5M83.9 240.7h.5M84.7 239.5h.5M91.2 239.2h.5M86.0 242.6h.5M91.8 241.3h.5M96.9 228.6h.5M95.7 235.9h.5M85.3 241.5h.5M86.8 241.5h.5M97.7 237.8h.5M96.7 232.4h.5M97.9 233.9h.5M90.2 237.4h.5M95.5 239.5h.5M94.4 237.1h.5M85.4 240.9h.5M99.2 236.3h.5M83.5 236.0h.5M94.8 236.8h.5M96.5 234.1h.5M96.1 238.8h.5M91.7 238.5h.5M85.0 239.3h.5M85.9 236.2h.5M90.9 237.0h.5M84.0 237.3h.5M94.9 232.2h.5M87.2 240.8h.5M94.2 237.2h.5M95.7 238.5h.5M84.9 240.5h.5M99.7 226.8h.5M85.9 240.9h.5M97.8 231.1h.5M96.8 229.9h.5M88.6 239.2h.5M84.3 241.1h.5M98.3 232.5h.5M87.2 242.8h.5M88.7 240.2h.5M90.5 239.7h.5M85.9 240.7h.5M88.8 238.1h.5M85.0 239.8h.5M85.6 239.8h.5M94.9 236.7h.5M87.7 237.9h.5M85.7 241.4h.5M92.8 236.2h.5M84.8 222.5h.5M96.0 234.7h.5M84.6 239.4h.5M84.0 240.8h.5M87.9 238.9h.5M94.8 233.7h.5M95.8 238.8h.5M94.6 237.9h.5M90.6 242.8h.5M88.3 236.7h.5M89.7 238.8h.5M96.3 236.7h.5M93.2 238.8h.5M87.9 239.0h.5M99.4 230.0h.5M93.4 237.4h.5M87.7 243.3h.5M98.1 220.1h.5M87.4 231.6h.5M93.9 237.1h.5M94.5 237.6h.5M94.3 239.2h.5M92.2 237.0h.5M93.8 241.3h.5M94.0 236.3h.5M91.1 234.6h.5M93.0 239.0h.5M95.8 237.3h.5M94.9 235.4h.5M95.7 237.0h.5M84.8 239.9h.5M95.4 231.7h.5M85.4 240.6h.5M98.5 226.3h.5M94.8 233.2h.5M96.8 236.9h.5M91.4 237.5h.5M99.9 230.8h.5M89.5 238.6h.5M99.7 229.5h.5M86.9 241.8h.5M87.5 238.6h.5M91.3 240.6h.5M84.2 241.2h.5M87.4 239.4h.5M94.6 229.2h.5M88.2 242.0h.5M92.9 237.4h.5M94.9 236.0h.5M93.6 237.2h.5M96.5 239.0h.5M86.8 240.0h.5M84.4 241.0h.5M90.9 238.1h.5M87.0 238.2h.5M92.9 235.3h.5M92.4 238.8h.5M94.4 235.4h.5M87.7 230.9h.5M90.4 240.9h.5M93.1 235.9h.5M92.7 237.1h.5M85.8 240.5h.5M84.3 238.5h.5M89.3 242.4h.5M97.6 235.0h.5M94.6 236.7h.5M84.1 223.9h.5M94.0 239.3h.5M83.9 240.7h.5M90.7 238.6h.5M91.5 237.9h.5M90.8 236.5h.5M84.5 239.8h.5M84.0 240.8h.5M88.1 241.0h.5M93.2 240.2h.5M97.5 229.0h.5M97.9 229.1h.5M86.5 242.8h.5M91.7 237.9h.5M87.9 238.7h.5M100.3 223.2h.5M93.2 240.3h.5M87.4 239.3h.5M91.6 238.3h.5M94.6 234.1h.5M97.2 237.3h.5M97.2 228.4h.5M87.0 240.9h.5M87.6 240.2h.5M96.5 237.8h.5M85.5 226.5h.5M96.7 236.5h.5M92.3 238.2h.5M89.7 234.4h.5M94.3 239.1h.5M84.6 240.6h.5M88.9 242.0h.5M85.1 239.8h.5M83.9 237.9h.5M85.5 239.5h.5M93.3 240.4h.5M87.5 242.2h.5M85.0 240.3h.5M86.6 239.6h.5M84.6 239.5h.5M95.2 237.4h.5M87.8 239.3h.5M87.8 242.4h.5M85.9 237.0h.5M84.6 239.3h.5M83.8 241.4h.5M91.7 235.4h.5M102.4 208.2h.5M84.5 237.5h.5M88.6 239.9h.5M92.2 241.8h.5M95.9 240.8h.5M94.3 239.1h.5M85.0 237.5h.5M98.6 225.1h.5M85.2 238.0h.5M95.0 235.1h.5M92.7 235.4h.5M89.6 236.9h.5M96.5 234.5h.5M95.8 233.8h.5M86.2 238.8h.5M87.8 239.2h.5M95.2 236.9h.5M96.1 235.5h.5M95.3 238.7h.5M95.8 239.1h.5M89.0 237.1h.5M90.2 237.1h.5M94.1 236.2h.5M85.8 240.3h.5M89.3 239.3h.5M91.5 237.7h.5M94.6 234.3h.5M84.3 235.4h.5M85.7 238.9h.5M90.5 238.4h.5M95.2 240.7h.5M90.3 238.2h.5M92.5 240.4h.5M83.8 240.0h.5M93.2 231.8h.5M91.9 238.8h.5M99.2 230.5h.5M98.7 226.7h.5M96.8 237.6h.5M84.0 239.8h.5M102.3 218.3h.5M95.5 237.9h.5M84.6 239.4h.5M88.7 231.5h.5M86.0 243.5h.5M94.6 239.6h.5M99.9 213.7h.5M89.3 238.4h.5M84.6 239.0h.5M86.0 240.1h.5M90.3 242.2h.5M90.7 242.8h.5M90.4 236.9h.5M85.8 242.3h.5M85.9 235.4h.5M85.7 238.8h.5M86.9 240.8h.5M87.5 241.9h.5M88.0 230.6h.5M102.1 227.3h.5M85.3 241.7h.5M84.2 239.8h.5M91.5 240.2h.5M84.5 241.0h.5M88.1 239.9h.5M90.3 241.7h.5M86.3 242.0h.5M101.4 208.7h.5M87.8 237.3h.5M90.0 241.9h.5M88.0 240.1h.5M88.6 233.7h.5M94.4 226.1h.5M92.2 241.0h.5M86.4 241.8h.5M91.9 239.5h.5M83.4 242.6h.5M94.5 237.2h.5M87.3 237.9h.5M88.0 239.8h.5M90.5 237.6h.5M94.1 232.5h.5M98.7 224.6h.5M94.2 237.3h.5M86.8 238.1h.5M96.7 237.5h.5M90.3 238.6h.5M85.1 238.0h.5M86.2 241.1h.5M83.6 240.5h.5M101.2 227.9h.5M84.7 241.1h.5M95.6 234.8h.5M88.0 233.5h.5M96.5 229.5h.5M93.0 238.4h.5M88.0 241.8h.5M94.6 234.2h.5M87.4 242.4h.5M91.2 238.8h.5M85.8 240.4h.5M90.5 242.7h.5M96.3 235.5h.5M91.0 239.4h.5M93.0 236.6h.5M87.0 240.9h.5M89.1 238.8h.5M90.5 238.3h.5M85.9 232.2h.5M87.0 233.7h.5M87.2 238.6h.5M96.0 235.3h.5M89.8 240.0h.5M96.7 235.3h.5M91.8 237.5h.5M87.1 239.0h.5M85.1 239.7h.5M95.1 240.0h.5M92.7 237.0h.5M92.1 236.6h.5M98.2 220.3h.5M95.6 234.9h.5M86.3 238.9h.5M93.1 233.5h.5M87.6 238.8h.5M98.0 233.0h.5M96.9 232.2h.5M100.2 226.6h.5M93.1 238.1h.5M84.8 239.2h.5M98.0 230.0h.5M96.3 234.8h.5M97.0 235.4h.5M103.5 211.0h.5M97.3 238.7h.5M85.9 237.4h.5M86.4 242.0h.5M94.9 237.1h.5M94.0 235.4h.5M97.1 231.5h.5M92.6 237.2h.5M93.4 240.1h.5M86.9 237.3h.5M89.8 242.1h.5M92.9 237.7h.5M96.3 235.9h.5M88.2 238.3h.5M93.7 236.3h.5M86.3 237.9h.5M93.3 237.5h.5M87.8 241.9h.5M85.6 238.3h.5M96.2 239.5h.5M94.9 236.8h.5M96.2 229.2h.5M85.8 238.7h.5M97.5 235.2h.5M99.6 226.2h.5M84.1 243.3h.5M88.8 239.9h.5M86.3 235.4h.5M91.4 237.5h.5M96.6 235.2h.5M91.0 234.9h.5M91.2 237.2h.5M94.0 235.2h.5M91.8 233.6h.5M91.0 237.8h.5M84.9 239.4h.5M88.2 243.9h.5M90.4 240.0h.5M99.5 230.7h.5M93.9 237.6h.5M85.8 238.9h.5M86.8 240.6h.5M89.8 239.9h.5M91.9 239.0h.5M88.0 239.3h.5M90.2 243.4h.5M94.7 233.0h.5M95.0 235.2h.5M98.0 229.1h.5M94.4 232.1h.5M98.0 228.5h.5M96.3 241.0h.5M84.3 239.7h.5M86.9 239.8h.5M89.2 238.3h.5M84.4 240.1h.5M96.5 237.6h.5M93.3 238.2h.5M84.6 236.5h.5M92.2 240.9h.5M85.2 241.6h.5M95.1 237.7h.5M96.4 233.8h.5M84.9 235.5h.5M90.0 241.3h.5M93.2 238.2h.5M87.9 239.0h.5M94.7 235.6h.5M88.3 239.7h.5M90.0 239.4h.5M97.1 232.8h.5M92.7 234.1h.5M85.8 241.2h.5M85.5 239.8h.5M90.1 239.2h.5M90.6 239.6h.5M86.4 240.7h.5M89.4 232.6h.5M99.7 227.6h.5M96.8 231.0h.5M94.2 237.8h.5M87.7 239.3h.5M90.9 236.4h.5M95.2 236.6h.5M98.2 236.8h.5M88.5 236.1h.5M84.7 236.9h.5M84.4 239.7h.5M100.9 228.1h.5M89.0 240.3h.5M92.0 237.7h.5M84.9 243.6h.5M95.4 237.6h.5M95.6 233.5h.5M83.4 240.5h.5M85.9 227.6h.5M92.4 239.9h.5M84.8 239.5h.5M99.1 224.5h.5M92.8 239.2h.5M89.6 233.4h.5M92.4 236.9h.5M85.8 239.4h.5M96.5 224.7h.5M83.8 240.6h.5M93.3 240.1h.5M88.5 240.7h.5M100.5 233.4h.5M97.6 236.7h.5M92.7 237.4h.5M85.3 238.1h.5M93.0 236.3h.5M86.0 242.2h.5M84.1 241.2h.5M94.3 235.0h.5M87.1 238.4h.5M86.7 241.2h.5M95.5 235.0h.5M86.8 243.5h.5M97.1 234.2h.5M98.6 232.8h.5M86.5 238.6h.5M92.7 237.9h.5M87.2 240.3h.5M89.6 239.7h.5M87.1 240.8h.5M95.8 234.9h.5M85.1 238.4h.5M93.8 237.1h.5M84.3 237.4h.5M96.5 235.6h.5M85.4 240.5h.5M94.4 231.5h.5M94.3 237.6h.5M87.3 238.9h.5M91.3 240.2h.5M84.0 239.2h.5M84.8 240.7h.5M100.8 217.6h.5M91.0 242.9h.5M97.3 230.7h.5M86.7 235.8h.5M86.2 241.1h.5M88.4 242.2h.5M96.1 232.9h.5M91.6 237.6h.5M90.4 240.1h.5M89.4 241.8h.5M93.4 237.9h.5M90.5 238.2h.5M98.5 233.6h.5M89.8 238.1h.5M94.6 236.2h.5M101.1 229.8h.5M95.6 239.8h.5M88.8 239.5h.5M89.0 238.3h.5M95.2 235.6h.5M93.7 237.8h.5M94.8 236.9h.5M94.9 232.2h.5M85.5 241.8h.5M86.2 236.2h.5M96.1 236.4h.5M96.3 234.8h.5M94.3 236.4h.5M86.0 241.4h.5M95.4 236.3h.5M89.4 243.5h.5M99.5 226.3h.5M93.9 236.9h.5M88.0 238.1h.5M86.5 230.1h.5M88.6 240.5h.5M85.4 240.5h.5M92.1 237.2h.5M87.8 230.1h.5M90.7 237.1h.5M89.6 239.6h.5M92.3 234.8h.5M100.2 227.3h.5M85.7 236.7h.5M88.7 238.4h.5M83.8 242.4h.5M89.9 240.7h.5M95.5 235.7h.5M89.5 240.8h.5M92.1 240.1h.5M97.7 227.9h.5M91.7 239.4h.5M91.4 239.9h.5M99.8 225.9h.5M94.3 242.8h.5M109.4 225.7h.5M113.7 243.0h.5M97.3 207.0h.5M113.4 240.9h.5M73.2 199.3h.5M95.7 242.8h.5M90.1 239.4h.5M101.7 242.9h.5M97.1 235.7h.5M63.1 240.5h.5M101.7 193.2h.5M111.7 243.3h.5M106.7 223.1h.5M77.0 243.3h.5M96.7 229.0h.5M66.5 229.0h.5M58.3 193.6h.5M104.6 214.7h.5M113.4 242.0h.5M82.7 192.3h.5M108.0 222.1h.5M60.2 231.3h.5M86.8 228.9h.5M70.8 241.2h.5M71.7 240.7h.5M111.5 242.2h.5M66.0 189.0h.5M61.3 243.3h.5M77.2 227.7h.5M93.2 201.9h.5M108.7 243.3h.5M101.8 241.3h.5M90.3 206.4h.5M60.8 228.6h.5M109.6 235.4h.5M92.1 211.8h.5M75.5 242.9h.5M95.3 243.3h.5M109.4 232.0h.5" stroke="#000" stroke-width=".5" stroke-opacity=".6" fill="none"/>
<rect x="52.5" y="183.8" width="62.3" height="60.5" fill="none" stroke="#777" stroke-width="0.55"/>
<line x1="83.1" y1="183.8" x2="83.1" y2="244.3" stroke="#666" stroke-width="0.55"/>
<line x1="50.9" y1="242.70000000000002" x2="52.5" y2="242.70000000000002" stroke="#555" stroke-width="0.5"/>
<text x="49.9" y="243.8" font-size="3.3" text-anchor="end" font-weight="normal" fill="#222" class="t">0</text>
<line x1="50.9" y1="231.60000000000002" x2="52.5" y2="231.60000000000002" stroke="#555" stroke-width="0.5"/>
<text x="49.9" y="232.7" font-size="3.3" text-anchor="end" font-weight="normal" fill="#222" class="t">50</text>
<line x1="50.9" y1="220.50000000000003" x2="52.5" y2="220.50000000000003" stroke="#555" stroke-width="0.5"/>
<text x="49.9" y="221.6" font-size="3.3" text-anchor="end" font-weight="normal" fill="#222" class="t">100</text>
<line x1="50.9" y1="209.40000000000003" x2="52.5" y2="209.40000000000003" stroke="#555" stroke-width="0.5"/>
<text x="49.9" y="210.5" font-size="3.3" text-anchor="end" font-weight="normal" fill="#222" class="t">150</text>
<line x1="50.9" y1="198.3" x2="52.5" y2="198.3" stroke="#555" stroke-width="0.5"/>
<text x="49.9" y="199.4" font-size="3.3" text-anchor="end" font-weight="normal" fill="#222" class="t">200</text>
<line x1="50.9" y1="187.20000000000002" x2="52.5" y2="187.20000000000002" stroke="#555" stroke-width="0.5"/>
<text x="49.9" y="188.3" font-size="3.3" text-anchor="end" font-weight="normal" fill="#222" class="t">250</text>
<line x1="51.7" y1="242.70000000000002" x2="52.5" y2="242.70000000000002" stroke="#888" stroke-width="0.3"/>
<line x1="51.7" y1="240.48000000000002" x2="52.5" y2="240.48000000000002" stroke="#888" stroke-width="0.3"/>
<line x1="51.7" y1="238.26000000000002" x2="52.5" y2="238.26000000000002" stroke="#888" stroke-width="0.3"/>
<line x1="51.7" y1="236.04000000000002" x2="52.5" y2="236.04000000000002" stroke="#888" stroke-width="0.3"/>
<line x1="51.7" y1="233.82000000000002" x2="52.5" y2="233.82000000000002" stroke="#888" stroke-width="0.3"/>
<line x1="51.7" y1="231.60000000000002" x2="52.5" y2="231.60000000000002" stroke="#888" stroke-width="0.3"/>
<line x1="51.7" y1="229.38000000000002" x2="52.5" y2="229.38000000000002" stroke="#888" stroke-width="0.3"/>
<line x1="51.7" y1="227.16000000000003" x2="52.5" y2="227.16000000000003" stroke="#888" stroke-width="0.3"/>
<line x1="51.7" y1="224.94000000000003" x2="52.5" y2="224.94000000000003" stroke="#888" stroke-width="0.3"/>
<line x1="51.7" y1="222.72000000000003" x2="52.5" y2="222.72000000000003" stroke="#888" stroke-width="0.3"/>
<line x1="51.7" y1="220.50000000000003" x2="52.5" y2="220.50000000000003" stroke="#888" stroke-width="0.3"/>
<line x1="51.7" y1="218.28000000000003" x2="52.5" y2="218.28000000000003" stroke="#888" stroke-width="0.3"/>
<line x1="51.7" y1="216.06" x2="52.5" y2="216.06" stroke="#888" stroke-width="0.3"/>
<line x1="51.7" y1="213.84000000000003" x2="52.5" y2="213.84000000000003" stroke="#888" stroke-width="0.3"/>
<line x1="51.7" y1="211.62" x2="52.5" y2="211.62" stroke="#888" stroke-width="0.3"/>
<line x1="51.7" y1="209.40000000000003" x2="52.5" y2="209.40000000000003" stroke="#888" stroke-width="0.3"/>
<line x1="51.7" y1="207.18" x2="52.5" y2="207.18" stroke="#888" stroke-width="0.3"/>
<line x1="51.7" y1="204.96" x2="52.5" y2="204.96" stroke="#888" stroke-width="0.3"/>
<line x1="51.7" y1="202.74" x2="52.5" y2="202.74" stroke="#888" stroke-width="0.3"/>
<line x1="51.7" y1="200.52" x2="52.5" y2="200.52" stroke="#888" stroke-width="0.3"/>
<line x1="51.7" y1="198.3" x2="52.5" y2="198.3" stroke="#888" stroke-width="0.3"/>
<line x1="51.7" y1="196.08" x2="52.5" y2="196.08" stroke="#888" stroke-width="0.3"/>
<line x1="51.7" y1="193.86" x2="52.5" y2="193.86" stroke="#888" stroke-width="0.3"/>
<line x1="51.7" y1="191.64000000000001" x2="52.5" y2="191.64000000000001" stroke="#888" stroke-width="0.3"/>
<line x1="51.7" y1="189.42000000000002" x2="52.5" y2="189.42000000000002" stroke="#888" stroke-width="0.3"/>
<line x1="51.7" y1="187.20000000000002" x2="52.5" y2="187.20000000000002" stroke="#888" stroke-width="0.3"/>
<line x1="57.5" y1="244.3" x2="57.5" y2="245.70000000000002" stroke="#666" stroke-width="0.5"/>
<text x="56.3" y="249.7" font-size="3.3" text-anchor="middle" font-weight="normal" fill="#222" class="t">10<tspan font-size="2.2" dy="-1.4">0</tspan></text>
<line x1="71.45" y1="244.3" x2="71.45" y2="245.70000000000002" stroke="#666" stroke-width="0.5"/>
<text x="70.25" y="249.7" font-size="3.3" text-anchor="middle" font-weight="normal" fill="#222" class="t">10<tspan font-size="2.2" dy="-1.4">1</tspan></text>
<line x1="85.4" y1="244.3" x2="85.4" y2="245.70000000000002" stroke="#666" stroke-width="0.5"/>
<text x="84.2" y="249.7" font-size="3.3" text-anchor="middle" font-weight="normal" fill="#222" class="t">10<tspan font-size="2.2" dy="-1.4">2</tspan></text>
<line x1="99.35" y1="244.3" x2="99.35" y2="245.70000000000002" stroke="#666" stroke-width="0.5"/>
<text x="98.15" y="249.7" font-size="3.3" text-anchor="middle" font-weight="normal" fill="#222" class="t">10<tspan font-size="2.2" dy="-1.4">3</tspan></text>
<line x1="113.3" y1="244.3" x2="113.3" y2="245.70000000000002" stroke="#666" stroke-width="0.5"/>
<text x="112.1" y="249.7" font-size="3.3" text-anchor="middle" font-weight="normal" fill="#222" class="t">10<tspan font-size="2.2" dy="-1.4">4</tspan></text>
<text x="97.5" y="199.5" font-size="5.7" text-anchor="middle" font-weight="normal" fill="#111" class="t">18.7%</text>
<path d="M130.6 242.1h.5M129.9 241.2h.5M132.0 242.2h.5M136.1 242.3h.5M130.0 240.5h.5M134.0 242.7h.5M133.6 241.9h.5M129.2 240.8h.5M136.2 242.3h.5M133.8 242.2h.5M131.4 240.3h.5M134.4 242.2h.5M137.2 243.0h.5M133.5 241.3h.5M134.0 242.4h.5M135.5 241.6h.5M130.3 242.5h.5M130.6 243.3h.5M130.9 241.6h.5M131.0 241.2h.5M131.8 241.2h.5M130.9 242.9h.5M130.2 242.9h.5M129.1 240.2h.5M136.5 242.3h.5M131.5 242.9h.5M136.8 242.5h.5M134.2 242.4h.5M133.0 240.4h.5M142.1 242.7h.5M134.7 241.6h.5M144.5 242.2h.5M128.9 241.4h.5M143.5 241.9h.5M137.9 242.3h.5M135.2 242.0h.5M128.8 241.8h.5M129.2 239.1h.5M129.3 241.2h.5M132.2 242.7h.5M128.8 242.4h.5M142.1 242.2h.5M131.1 242.0h.5M139.1 241.9h.5M131.4 242.3h.5M132.9 241.0h.5M134.5 242.2h.5M138.1 242.4h.5M134.6 243.3h.5M129.6 242.3h.5M138.7 242.1h.5M129.9 241.8h.5M130.9 240.5h.5M136.3 242.2h.5M142.1 242.8h.5M135.7 242.2h.5M130.8 241.8h.5M131.3 240.7h.5M144.2 242.5h.5M136.4 242.1h.5M132.3 242.7h.5M129.9 241.5h.5M141.9 241.5h.5M130.3 241.7h.5M135.5 242.4h.5M130.6 242.1h.5M131.3 241.8h.5M130.3 241.0h.5M137.5 242.1h.5M131.9 242.5h.5M144.9 242.7h.5M139.1 243.0h.5M132.0 242.6h.5M129.0 241.6h.5M134.9 240.3h.5M136.5 242.5h.5M130.8 238.2h.5M137.2 242.7h.5M132.4 242.1h.5M131.1 242.6h.5M138.4 243.2h.5M133.2 242.4h.5M134.9 241.3h.5M134.5 242.8h.5M134.4 239.9h.5M130.3 242.4h.5M129.3 239.9h.5M129.6 242.9h.5M135.4 243.2h.5M132.1 242.5h.5M129.2 241.6h.5M136.5 241.6h.5M131.1 240.5h.5M136.7 242.4h.5M132.5 241.6h.5M130.5 242.8h.5M133.7 242.5h.5M134.2 242.1h.5M131.0 240.7h.5M132.5 242.7h.5M131.0 240.9h.5M136.1 242.7h.5M136.8 243.0h.5M136.6 242.1h.5M132.5 241.8h.5M129.8 240.4h.5M133.5 242.4h.5M132.3 241.8h.5M136.3 243.0h.5M135.6 241.6h.5M132.8 241.6h.5M129.7 240.8h.5M135.6 242.0h.5M131.7 242.1h.5M132.9 242.4h.5M142.9 241.7h.5M136.6 242.5h.5M135.2 242.5h.5M130.6 241.6h.5M132.4 242.0h.5M141.1 242.5h.5M131.3 242.1h.5M134.8 242.9h.5M133.0 242.1h.5M129.6 240.7h.5M136.1 242.5h.5M129.7 241.5h.5M134.6 242.1h.5M134.9 240.5h.5M131.4 242.2h.5M138.1 241.9h.5M132.8 242.3h.5M134.0 241.2h.5M135.7 241.4h.5M144.5 243.2h.5M133.2 242.5h.5M129.3 241.1h.5M142.5 243.2h.5M132.5 240.9h.5M132.2 242.2h.5M138.7 242.7h.5M134.0 242.1h.5M133.3 242.7h.5M137.0 242.9h.5M131.1 242.3h.5M131.5 242.7h.5M131.6 241.2h.5M132.4 241.6h.5M136.9 242.5h.5M137.5 242.1h.5M130.8 242.2h.5M134.7 241.5h.5M133.1 242.2h.5M135.2 243.1h.5M147.6 242.3h.5M135.5 242.4h.5M131.0 241.5h.5M131.3 242.0h.5M131.2 242.6h.5M129.9 241.6h.5M131.0 241.8h.5M134.2 239.9h.5M135.7 242.2h.5M129.8 241.5h.5M143.7 242.1h.5M136.9 242.1h.5M141.2 241.8h.5M134.2 240.4h.5M131.1 242.7h.5M130.1 239.3h.5M133.9 242.4h.5M128.9 240.9h.5M132.4 242.6h.5M131.4 240.3h.5M138.6 243.1h.5M134.9 243.3h.5M131.1 243.1h.5M136.3 242.0h.5M131.5 241.2h.5M131.7 243.1h.5M138.2 242.7h.5M137.9 242.5h.5M130.1 241.6h.5M130.4 239.8h.5M128.8 242.0h.5M129.8 242.7h.5M131.5 241.7h.5M128.8 242.0h.5M138.3 241.7h.5M131.0 241.3h.5M131.3 240.0h.5M129.2 242.5h.5M136.6 241.9h.5M133.9 242.4h.5M131.5 241.4h.5M130.2 241.1h.5M129.8 240.3h.5M130.0 242.8h.5M130.1 242.4h.5M129.9 243.3h.5M129.4 242.0h.5M134.5 241.9h.5M131.6 242.3h.5M134.0 241.8h.5M138.5 243.3h.5M131.6 241.4h.5M138.1 242.8h.5M132.5 242.6h.5M129.7 242.3h.5M136.7 241.4h.5M136.2 241.8h.5M136.9 242.5h.5M129.7 240.2h.5M134.1 243.0h.5M131.0 241.6h.5M136.7 242.1h.5M130.5 241.8h.5M134.2 242.4h.5M131.8 241.4h.5M131.9 240.1h.5M145.3 242.5h.5M129.8 242.9h.5M134.7 242.1h.5M134.4 243.2h.5M130.7 242.4h.5M135.5 240.8h.5M132.9 241.5h.5M128.8 242.7h.5M133.4 242.9h.5M135.9 241.7h.5M133.8 242.9h.5M135.9 243.1h.5M134.6 242.1h.5M133.2 241.6h.5M133.4 242.8h.5M142.3 242.7h.5M135.6 241.3h.5M137.3 241.4h.5M130.8 241.3h.5M133.2 242.3h.5M131.2 241.0h.5M133.1 243.0h.5M130.8 241.9h.5M137.6 243.2h.5M129.2 241.4h.5M136.9 243.0h.5M134.6 242.1h.5M137.2 241.7h.5M135.8 242.9h.5M137.3 242.3h.5M148.6 242.7h.5M137.6 242.4h.5M129.6 241.2h.5M137.8 241.8h.5M128.8 242.1h.5M134.9 242.1h.5M131.7 241.7h.5M132.1 242.3h.5M130.3 242.7h.5M132.6 241.7h.5M140.1 241.8h.5M142.1 242.8h.5M136.4 242.7h.5M140.2 242.2h.5M133.3 242.0h.5M135.5 242.8h.5M130.5 240.3h.5M132.4 242.0h.5M129.9 243.0h.5M130.3 240.9h.5M134.6 241.9h.5M132.7 240.5h.5M130.7 242.8h.5M131.1 243.2h.5M130.9 239.6h.5M135.9 242.3h.5M130.7 242.1h.5M134.7 241.1h.5M137.5 241.5h.5M131.1 242.2h.5M128.9 241.3h.5M136.7 241.3h.5M131.5 240.9h.5M132.1 241.9h.5M134.0 242.5h.5M131.0 241.9h.5M137.9 240.3h.5M129.7 243.0h.5M130.6 242.1h.5M132.8 242.2h.5M140.7 242.3h.5M131.0 240.5h.5M134.6 242.5h.5M133.2 242.2h.5M128.9 240.9h.5M135.0 242.0h.5M138.4 242.5h.5M140.3 242.5h.5M129.5 243.2h.5M130.3 240.1h.5M133.6 242.4h.5M138.1 242.9h.5M133.0 242.0h.5M132.2 241.9h.5M139.0 241.4h.5M137.4 240.9h.5M131.1 241.8h.5M136.0 243.0h.5M133.3 240.5h.5M142.5 243.1h.5M130.5 242.6h.5M139.7 242.0h.5M138.7 242.0h.5M136.2 242.5h.5M136.7 242.0h.5M138.9 242.7h.5M137.4 242.4h.5M131.6 242.1h.5M128.9 239.1h.5M141.2 242.3h.5M138.3 242.3h.5M131.0 240.0h.5M131.6 243.1h.5M133.9 242.9h.5M131.5 241.6h.5M132.7 241.3h.5M134.6 242.8h.5M137.0 240.3h.5M129.2 239.9h.5M130.0 239.0h.5M141.7 243.1h.5M129.0 240.8h.5M144.3 243.1h.5M135.7 240.7h.5M129.5 238.9h.5M128.9 239.5h.5M132.2 241.0h.5M130.5 240.7h.5M143.5 243.0h.5M133.1 242.0h.5M138.1 242.5h.5M131.2 242.8h.5M129.0 241.5h.5M144.6 243.3h.5M131.1 241.8h.5M138.8 242.9h.5M138.6 242.2h.5M130.2 243.2h.5M133.1 242.4h.5M131.9 241.7h.5M133.4 241.8h.5M132.9 241.7h.5M133.6 242.8h.5M133.5 241.2h.5M131.8 242.9h.5M131.0 242.3h.5M131.2 242.1h.5M128.9 239.6h.5M134.9 242.1h.5M129.8 242.4h.5M137.8 241.7h.5M129.6 240.9h.5M130.3 238.6h.5M135.7 241.1h.5M133.9 241.6h.5M130.5 242.4h.5M136.3 242.1h.5M134.5 242.3h.5M134.0 242.5h.5M133.2 242.7h.5M129.1 241.3h.5M133.9 243.2h.5M130.3 240.7h.5M132.4 243.2h.5M129.9 242.4h.5M131.0 240.4h.5M133.9 242.2h.5M129.3 241.6h.5M136.7 241.9h.5M131.8 242.0h.5M141.2 242.5h.5M134.8 241.8h.5M138.8 242.6h.5M139.1 242.9h.5M131.1 242.5h.5M133.6 241.5h.5M131.0 242.4h.5M134.3 241.5h.5M131.4 241.8h.5M136.8 242.4h.5M130.7 241.6h.5M131.6 242.2h.5M129.3 241.2h.5M131.9 243.0h.5M132.1 243.3h.5M136.1 242.4h.5M129.2 241.6h.5M143.9 243.0h.5M131.3 242.2h.5M129.8 242.7h.5M133.7 240.9h.5M130.2 240.3h.5M131.5 241.5h.5M132.3 242.1h.5M133.2 241.3h.5M136.2 242.2h.5M134.6 241.3h.5M131.1 242.7h.5M135.9 241.5h.5M133.1 240.2h.5M135.9 241.2h.5M130.6 241.2h.5M134.9 242.1h.5M134.8 242.0h.5M132.2 242.2h.5M130.7 243.1h.5M130.3 240.6h.5M134.7 241.3h.5M143.1 243.3h.5M132.5 241.3h.5M131.9 239.7h.5M131.1 241.9h.5M137.5 243.2h.5M140.2 241.8h.5M144.8 243.0h.5M133.2 242.2h.5M130.7 242.2h.5M130.8 241.3h.5M134.6 241.8h.5M140.3 242.4h.5M134.3 242.6h.5M131.1 240.2h.5M134.6 242.5h.5M134.2 242.7h.5M129.9 240.6h.5M130.7 240.5h.5M131.0 242.1h.5M133.4 240.2h.5M138.8 241.9h.5M136.6 241.6h.5M134.3 241.9h.5M138.4 242.5h.5M131.4 241.3h.5M132.4 239.3h.5M134.6 241.7h.5M144.0 243.1h.5M135.3 243.1h.5M130.3 242.5h.5M130.4 242.9h.5M136.5 239.9h.5M138.7 242.6h.5M135.8 242.2h.5M132.8 241.9h.5M132.2 240.7h.5M131.9 242.9h.5M131.1 243.3h.5M132.3 242.2h.5M140.6 242.7h.5M132.2 242.8h.5M130.7 241.2h.5M130.4 243.0h.5M131.4 240.9h.5M137.9 242.2h.5M130.0 241.9h.5M131.1 241.9h.5M131.8 240.9h.5M131.8 242.5h.5M130.6 241.9h.5M129.3 242.3h.5M131.6 243.1h.5M134.0 242.8h.5M138.6 242.1h.5M130.1 242.1h.5M138.5 243.2h.5M136.2 242.6h.5M144.6 243.0h.5M135.9 242.4h.5M133.4 242.6h.5M135.2 241.4h.5M132.9 243.1h.5M133.3 242.3h.5M135.8 242.9h.5M132.1 241.8h.5M141.9 242.7h.5M132.1 243.3h.5M129.0 241.3h.5M129.6 241.5h.5M133.6 242.8h.5M146.2 241.3h.5M131.9 238.8h.5M129.2 242.2h.5M132.3 241.3h.5M139.2 242.6h.5M138.3 242.1h.5M141.4 242.9h.5M132.8 242.5h.5M136.6 242.9h.5M129.6 241.1h.5M145.7 242.1h.5M129.4 240.2h.5M134.3 243.1h.5M130.5 242.4h.5M129.9 240.6h.5M131.4 242.5h.5M139.0 242.3h.5M132.2 242.8h.5M134.3 241.5h.5M136.0 241.4h.5M131.3 241.0h.5M136.2 242.2h.5M129.4 241.6h.5M129.0 240.5h.5M129.3 238.5h.5M139.6 240.9h.5M133.9 241.8h.5M130.3 241.5h.5M130.3 243.3h.5M134.7 242.7h.5M129.7 240.1h.5M132.4 241.2h.5M129.8 242.4h.5M144.5 239.4h.5M140.2 241.7h.5M149.2 241.5h.5M142.3 242.1h.5M156.9 242.3h.5M132.7 238.9h.5M158.1 241.3h.5M149.3 239.4h.5M148.5 243.3h.5M159.7 240.6h.5M146.0 242.4h.5M159.7 240.9h.5M133.1 241.9h.5M133.0 241.5h.5M130.3 242.9h.5M138.3 242.9h.5M155.0 242.4h.5M159.6 240.9h.5M134.3 242.6h.5M155.2 242.7h.5M133.1 241.6h.5M143.3 240.4h.5M158.1 240.6h.5M135.8 241.9h.5M155.8 242.0h.5M144.3 243.3h.5M129.1 241.7h.5M133.5 240.8h.5M133.1 242.9h.5M130.8 242.7h.5M159.5 243.1h.5M151.2 242.7h.5M148.7 242.0h.5M142.3 243.1h.5M130.7 242.6h.5M132.2 241.1h.5M139.6 241.3h.5M145.6 242.8h.5M143.9 242.1h.5M136.7 243.0h.5M150.7 241.6h.5M133.5 242.6h.5M158.3 242.7h.5M130.2 242.1h.5M145.3 242.6h.5M131.6 242.0h.5M143.0 241.9h.5M152.4 241.5h.5M129.1 241.7h.5M156.6 242.2h.5M158.9 241.7h.5M152.6 241.7h.5M159.3 242.3h.5M134.1 242.9h.5M135.0 240.4h.5M148.5 239.0h.5M159.3 241.8h.5M135.4 242.0h.5M139.7 240.2h.5M130.3 241.1h.5M132.2 241.5h.5M147.8 243.1h.5M154.2 241.4h.5M134.0 241.7h.5M131.6 242.5h.5M133.3 241.8h.5M133.9 237.5h.5M158.2 242.3h.5M135.0 241.1h.5M151.5 242.7h.5M138.4 240.7h.5M154.6 240.8h.5M145.9 242.6h.5M143.5 243.2h.5M150.2 241.8h.5M146.6 243.3h.5M161.4 242.2h.5M141.4 242.2h.5M133.5 241.7h.5M151.6 243.4h.5M160.3 242.1h.5M160.7 241.7h.5M137.1 242.8h.5M132.4 240.9h.5M155.9 240.6h.5M159.4 243.0h.5M144.1 241.4h.5M154.8 241.7h.5M160.8 240.7h.5M132.8 243.0h.5M135.2 241.4h.5M159.0 242.6h.5M131.2 238.8h.5M159.1 240.3h.5M132.4 239.5h.5M134.9 241.7h.5M142.4 243.1h.5M155.6 241.6h.5M134.6 241.9h.5M144.6 242.2h.5M137.5 237.5h.5M158.6 239.0h.5M157.7 241.8h.5M158.9 242.6h.5M159.9 242.4h.5M151.7 242.4h.5M140.1 242.7h.5M133.9 240.5h.5M139.8 243.0h.5M140.1 240.0h.5M131.3 238.5h.5M152.4 240.9h.5M149.6 242.8h.5M129.1 243.3h.5M146.1 241.7h.5M133.4 242.0h.5M159.2 242.8h.5M144.5 243.1h.5M159.4 243.0h.5M151.4 240.9h.5M151.7 241.6h.5M142.5 243.1h.5M155.2 242.0h.5M148.0 243.4h.5M148.4 240.7h.5M154.2 242.6h.5M139.5 242.4h.5M141.1 240.4h.5M129.5 242.7h.5M153.3 240.6h.5M161.0 243.0h.5M148.2 239.4h.5M132.6 241.8h.5M134.3 240.9h.5M161.1 240.0h.5M132.9 241.8h.5M156.4 242.2h.5M152.0 241.9h.5M151.9 242.6h.5M135.7 241.6h.5M131.1 241.4h.5M157.7 238.1h.5M132.6 241.2h.5M153.0 242.3h.5M160.0 241.1h.5M147.9 241.7h.5M134.6 242.4h.5M145.3 240.3h.5M146.6 242.9h.5M141.2 242.0h.5M159.0 242.9h.5M144.8 242.6h.5M143.7 242.2h.5M137.1 241.1h.5M130.6 239.7h.5M133.7 243.1h.5M147.7 242.6h.5M133.6 239.8h.5M148.0 242.0h.5M153.9 242.7h.5M135.4 242.3h.5M150.6 243.4h.5M149.5 242.9h.5M132.3 243.1h.5M155.0 243.2h.5M147.0 241.6h.5M131.6 240.3h.5M131.8 241.4h.5M133.6 242.5h.5M146.1 242.6h.5M143.7 242.9h.5M158.1 241.2h.5M146.5 240.7h.5M147.8 241.6h.5M131.7 241.3h.5M135.5 242.2h.5M160.3 242.4h.5M137.8 242.7h.5M129.3 242.0h.5M153.3 238.7h.5M134.3 240.1h.5M137.0 242.0h.5M141.9 242.4h.5M160.2 242.8h.5M153.6 240.7h.5M144.9 238.3h.5M160.2 240.5h.5M140.2 241.1h.5M153.6 241.8h.5M144.2 242.9h.5M158.3 240.3h.5M159.0 242.6h.5M139.0 239.5h.5M151.7 243.1h.5M133.6 241.7h.5M158.0 242.3h.5M152.3 239.7h.5M129.3 240.8h.5M138.6 242.6h.5M130.2 242.8h.5M130.6 241.5h.5M129.3 241.6h.5M156.8 239.7h.5M158.0 243.5h.5M130.3 242.4h.5M153.7 241.8h.5M138.8 241.6h.5M146.2 243.0h.5M147.0 242.1h.5M143.9 242.0h.5M141.6 240.0h.5M160.8 241.0h.5M140.6 239.7h.5M133.5 243.3h.5M132.1 242.0h.5M150.8 242.5h.5M135.8 241.3h.5M139.9 243.1h.5M138.7 240.9h.5M129.6 242.4h.5M159.6 241.7h.5M133.5 241.7h.5M157.9 243.1h.5M161.9 242.7h.5M146.3 242.9h.5M136.6 241.4h.5M141.1 240.4h.5M138.7 239.7h.5M133.0 243.4h.5M157.4 241.5h.5M140.7 242.0h.5M141.8 241.8h.5M139.2 241.5h.5M155.8 241.3h.5M144.6 242.2h.5M151.3 243.4h.5M157.1 242.4h.5M150.5 240.9h.5M140.7 241.2h.5M129.1 240.7h.5M146.5 242.4h.5M157.1 241.4h.5M141.9 240.2h.5M135.1 239.3h.5M132.2 242.6h.5M135.6 237.4h.5M162.0 243.3h.5M143.1 239.7h.5M150.9 238.8h.5M160.4 241.2h.5M133.1 242.9h.5M134.1 241.9h.5M154.8 239.7h.5M145.9 242.2h.5M132.3 242.6h.5M154.4 242.8h.5M133.1 241.8h.5M137.9 240.8h.5M161.5 242.7h.5M147.7 242.6h.5M146.7 242.5h.5M151.2 240.1h.5M159.1 242.2h.5M140.5 240.9h.5M155.1 242.4h.5M156.3 239.8h.5M135.0 242.9h.5M155.1 240.2h.5M132.2 242.6h.5M159.7 242.7h.5M153.9 242.3h.5M131.9 242.2h.5M155.6 241.8h.5M141.8 242.1h.5M130.2 243.3h.5M131.6 241.0h.5M134.1 242.6h.5M141.4 243.3h.5M129.9 242.4h.5M138.5 241.1h.5M143.1 242.2h.5M150.1 242.0h.5M156.0 243.3h.5M158.8 240.7h.5M149.0 243.0h.5M159.1 242.6h.5M142.2 241.7h.5M142.3 241.9h.5M149.4 242.7h.5M152.6 242.2h.5M140.7 240.0h.5M157.1 239.4h.5M153.2 242.6h.5M138.1 241.0h.5M161.6 241.2h.5M137.5 241.6h.5M132.0 240.3h.5M134.7 242.3h.5M150.4 242.0h.5M158.2 242.5h.5M158.6 241.0h.5M133.6 242.7h.5M149.5 242.6h.5M130.4 242.1h.5M150.4 242.3h.5M149.9 243.3h.5M158.3 240.7h.5M141.5 242.2h.5M142.0 243.4h.5M141.5 241.5h.5M158.6 241.2h.5M142.9 242.7h.5M135.7 241.7h.5M136.2 242.0h.5M151.7 242.8h.5M134.4 240.9h.5M133.7 241.9h.5M131.9 241.6h.5M147.7 243.3h.5M154.5 241.8h.5M133.8 243.0h.5M138.0 242.4h.5M145.2 242.7h.5M132.6 242.1h.5M155.8 241.8h.5M150.6 241.5h.5M160.9 238.9h.5M144.2 241.5h.5M155.7 241.8h.5M135.4 242.0h.5M152.4 241.5h.5M154.9 242.2h.5M143.9 241.7h.5M151.2 241.0h.5M161.8 242.8h.5M145.7 240.6h.5M142.9 242.9h.5M135.9 240.6h.5M147.3 241.7h.5M142.8 241.8h.5M149.6 241.2h.5M130.2 242.9h.5M140.6 243.0h.5M149.3 243.1h.5M152.9 241.1h.5M150.0 241.9h.5M158.7 243.0h.5M154.2 242.9h.5M149.5 242.6h.5M153.9 241.5h.5M146.3 241.8h.5M156.5 241.1h.5M147.3 241.2h.5M132.2 240.3h.5M144.0 243.1h.5M149.6 240.7h.5M151.4 242.5h.5M154.9 240.7h.5M144.8 241.4h.5M159.9 242.6h.5M129.6 241.9h.5M152.9 240.6h.5M155.4 240.5h.5M153.8 239.6h.5M137.4 242.4h.5M131.5 242.4h.5M153.6 241.4h.5M136.3 242.9h.5M139.4 241.8h.5M138.6 241.4h.5M130.6 242.7h.5M150.3 242.0h.5M160.4 242.7h.5M148.8 243.4h.5M154.3 242.3h.5M161.2 242.0h.5M133.8 241.4h.5M133.3 242.8h.5M142.5 242.8h.5M129.6 241.6h.5M141.6 241.0h.5M146.6 242.0h.5M129.3 241.0h.5M160.4 242.2h.5M132.7 243.4h.5M134.7 241.5h.5M139.6 240.4h.5M154.8 240.4h.5M150.1 241.5h.5M150.0 241.9h.5M158.3 242.8h.5M138.2 241.4h.5M134.2 242.2h.5M153.1 241.9h.5M133.2 241.6h.5M151.5 242.5h.5M157.1 241.7h.5M129.2 241.1h.5M131.0 241.8h.5M130.9 242.0h.5M135.4 241.6h.5M148.6 242.8h.5M142.7 242.4h.5M160.8 243.3h.5M150.7 242.4h.5M155.6 242.3h.5M132.3 240.4h.5M153.0 242.6h.5M151.1 242.3h.5M152.1 242.6h.5M137.6 243.2h.5M131.9 241.8h.5M154.1 241.3h.5M150.7 243.2h.5M144.9 241.2h.5M145.7 239.8h.5M129.7 242.4h.5M129.1 242.5h.5M143.7 241.5h.5M132.2 239.3h.5M147.8 242.2h.5M159.9 243.0h.5M143.8 241.4h.5M148.5 241.2h.5M152.0 240.9h.5M132.2 242.3h.5M139.3 241.9h.5M152.6 242.9h.5M156.7 242.2h.5M142.5 242.6h.5M138.8 242.1h.5M161.7 241.7h.5M145.7 243.2h.5M130.5 239.9h.5M133.9 242.2h.5M143.1 241.9h.5M134.2 242.5h.5M158.8 240.8h.5M156.2 242.9h.5M161.7 240.9h.5M160.5 240.6h.5M130.2 242.1h.5M158.6 242.5h.5M132.1 240.9h.5M138.4 243.1h.5M137.8 242.4h.5M139.3 242.0h.5M146.8 242.2h.5M143.4 241.9h.5M146.3 241.5h.5M141.4 242.4h.5M155.7 240.0h.5M136.2 241.7h.5M150.9 241.9h.5M143.8 241.8h.5M148.5 240.7h.5M154.3 243.1h.5M135.6 243.4h.5M151.5 242.3h.5M144.2 242.3h.5M135.4 240.9h.5M138.3 239.2h.5M139.7 241.8h.5M158.2 241.9h.5M132.2 241.4h.5M131.1 240.3h.5M157.6 240.6h.5M149.8 242.6h.5M152.4 243.0h.5M132.8 239.9h.5M129.6 242.5h.5M134.4 243.3h.5M151.1 241.4h.5M141.7 242.3h.5M159.3 239.7h.5M140.2 242.5h.5M146.0 243.1h.5M151.3 243.0h.5M161.2 240.8h.5M142.2 239.6h.5M140.9 242.0h.5M136.1 239.9h.5M149.4 236.3h.5M150.7 236.7h.5M131.4 238.9h.5M133.7 235.9h.5M150.0 241.8h.5M133.5 242.0h.5M145.9 238.0h.5M142.4 233.8h.5M150.3 243.1h.5M151.3 236.1h.5M161.6 235.4h.5M143.6 234.1h.5M154.4 243.1h.5M138.1 241.0h.5M146.9 238.0h.5M155.0 243.0h.5M132.6 242.3h.5M132.0 241.2h.5M132.5 243.0h.5M148.2 235.0h.5M162.3 243.2h.5M133.7 239.2h.5M139.5 240.6h.5M151.7 231.2h.5M133.9 242.3h.5M139.7 236.6h.5M153.2 238.4h.5M137.6 237.9h.5M135.9 239.9h.5M136.8 235.7h.5M132.2 241.5h.5M129.7 241.4h.5M146.5 237.7h.5M130.9 237.7h.5M140.7 241.1h.5M152.7 233.2h.5M150.8 238.3h.5M146.2 236.2h.5M144.2 239.6h.5M145.7 241.1h.5M150.4 238.0h.5M139.3 237.0h.5M138.2 232.9h.5M140.5 235.0h.5M155.6 243.6h.5M151.3 243.2h.5M141.5 238.1h.5M146.2 243.1h.5M153.2 239.1h.5M144.8 243.4h.5M152.9 243.1h.5M145.6 243.4h.5M161.9 238.8h.5M154.4 238.9h.5M152.6 243.5h.5M146.9 233.8h.5M135.7 237.1h.5M158.3 241.4h.5M136.8 242.6h.5M159.9 237.0h.5M143.2 239.6h.5M139.7 236.4h.5M144.0 243.2h.5M133.7 237.7h.5M143.2 241.5h.5M146.1 238.4h.5M147.0 241.0h.5M141.7 238.9h.5M137.9 242.9h.5M144.4 241.3h.5M132.4 243.1h.5M142.6 243.0h.5M144.4 239.8h.5M144.7 239.3h.5M134.2 236.1h.5M149.5 238.7h.5M153.7 241.5h.5M159.7 238.8h.5M154.9 233.1h.5M146.5 239.1h.5M135.7 243.0h.5M154.9 241.9h.5M141.7 237.0h.5M137.3 241.0h.5M137.6 237.5h.5M140.4 243.3h.5M133.0 236.3h.5M145.7 232.7h.5M142.7 242.4h.5M138.8 237.3h.5M137.5 243.2h.5M160.8 240.8h.5M140.3 242.7h.5M143.8 240.3h.5M152.4 241.0h.5M144.7 239.0h.5M144.0 236.9h.5M158.2 243.4h.5M157.7 243.6h.5M134.1 235.8h.5M139.6 240.3h.5M135.5 243.1h.5M145.6 240.5h.5M136.3 241.7h.5M136.3 240.7h.5M161.1 240.1h.5M156.8 240.6h.5M149.2 241.4h.5M162.4 243.5h.5M147.8 237.5h.5M146.3 233.5h.5M146.8 241.5h.5M143.8 242.8h.5M137.0 236.3h.5M159.4 242.3h.5M152.1 233.8h.5M159.1 243.3h.5M135.4 241.6h.5M155.1 238.5h.5M138.6 239.0h.5M147.2 238.1h.5M160.0 241.5h.5M151.2 240.8h.5M137.2 241.0h.5M142.8 241.1h.5M147.1 242.7h.5M136.3 239.6h.5M140.8 243.2h.5M158.1 242.0h.5M151.9 242.5h.5M154.5 233.1h.5M139.9 237.9h.5M146.3 242.3h.5M137.6 230.4h.5M131.3 243.2h.5M138.4 241.3h.5M148.9 234.9h.5M153.0 242.0h.5M159.4 243.2h.5M150.5 239.3h.5M160.1 240.0h.5M140.4 232.6h.5M163.1 240.2h.5M162.4 242.5h.5M151.3 235.4h.5M134.5 243.2h.5M161.4 243.3h.5M156.6 242.0h.5M132.4 238.3h.5M130.8 243.6h.5M141.5 236.2h.5M152.3 239.1h.5M155.0 241.8h.5M143.8 235.0h.5M141.3 239.4h.5M161.5 243.5h.5M160.6 238.3h.5M141.0 235.4h.5M138.7 241.9h.5M150.5 232.8h.5M146.5 237.4h.5M138.3 241.1h.5M156.9 238.7h.5M142.6 236.9h.5M139.0 242.4h.5M142.7 243.5h.5M147.4 236.8h.5M144.5 241.7h.5M160.8 240.2h.5M157.6 239.0h.5M148.4 238.9h.5M158.5 243.2h.5M149.6 243.3h.5M137.9 236.9h.5M159.3 236.8h.5M152.4 242.7h.5M141.5 237.9h.5M137.0 240.6h.5M143.8 241.0h.5M149.5 240.0h.5M147.6 242.4h.5M156.1 229.5h.5M150.1 240.3h.5M142.9 241.0h.5M155.3 243.5h.5M142.8 243.3h.5M136.7 241.9h.5M153.0 241.6h.5M134.8 238.7h.5M144.1 238.5h.5M132.5 240.3h.5M130.6 243.0h.5M144.9 237.3h.5M135.0 242.1h.5M139.0 242.0h.5M136.7 239.9h.5M150.7 237.8h.5M146.0 237.2h.5M141.4 237.9h.5M137.3 243.1h.5M130.8 243.0h.5M135.8 234.4h.5M141.9 237.9h.5M158.3 239.1h.5M150.5 237.6h.5M155.3 236.1h.5M142.6 241.0h.5M142.6 229.8h.5M131.5 240.2h.5M130.7 243.6h.5M133.3 238.5h.5M139.9 238.9h.5M136.3 235.0h.5M144.3 239.8h.5M132.8 240.7h.5M132.4 237.0h.5M134.8 234.7h.5M150.0 242.3h.5M148.4 238.7h.5M132.6 239.0h.5M143.0 236.7h.5M138.2 243.1h.5M131.4 241.0h.5M142.0 242.1h.5M130.8 243.0h.5M151.4 240.5h.5M156.0 239.3h.5M148.9 242.8h.5M150.3 235.0h.5M138.7 230.4h.5M143.9 228.2h.5M145.3 238.0h.5M138.3 240.1h.5M154.1 236.1h.5M134.0 236.3h.5M149.3 238.7h.5M137.9 238.7h.5M135.3 240.1h.5M140.4 238.0h.5M135.8 240.3h.5M143.1 240.3h.5M144.1 241.6h.5M145.5 235.9h.5M153.8 233.3h.5M142.0 239.5h.5M160.4 240.2h.5M142.8 228.1h.5M151.3 243.5h.5M152.5 237.1h.5M141.7 243.4h.5M140.6 238.1h.5M143.3 239.9h.5M151.5 243.4h.5M159.0 237.6h.5M130.6 242.1h.5M142.1 233.0h.5M147.1 241.9h.5M162.3 234.4h.5M167.4 206.4h.5M169.7 229.7h.5M179.0 216.7h.5M176.4 224.1h.5M172.8 237.3h.5M174.3 237.3h.5M159.9 240.1h.5M167.4 237.6h.5M167.6 237.3h.5M173.7 226.8h.5M177.6 227.3h.5M167.9 238.2h.5M173.6 231.9h.5M161.3 238.9h.5M171.9 236.2h.5M159.5 237.9h.5M168.3 229.6h.5M165.2 234.5h.5M170.5 241.2h.5M172.9 232.3h.5M169.1 236.3h.5M175.2 238.9h.5M171.1 235.2h.5M178.1 224.4h.5M171.3 236.6h.5M163.3 239.6h.5M171.4 231.1h.5M163.6 238.7h.5M170.6 236.2h.5M173.5 229.3h.5M174.5 229.2h.5M175.2 218.4h.5M166.1 236.2h.5M176.7 230.5h.5M166.1 234.7h.5M174.7 233.6h.5M167.2 240.8h.5M180.6 211.4h.5M176.4 227.0h.5M165.7 239.1h.5M173.4 234.8h.5M171.7 233.2h.5M177.2 235.2h.5M181.0 215.4h.5M167.7 240.9h.5M159.3 236.6h.5M172.1 233.5h.5M161.3 238.1h.5M159.6 232.2h.5M171.0 235.4h.5M167.8 239.9h.5M161.3 239.5h.5M177.9 229.5h.5M169.7 229.9h.5M180.9 223.0h.5M162.7 233.8h.5M169.0 234.2h.5M165.3 238.2h.5M178.4 228.2h.5M170.3 237.6h.5M182.7 221.9h.5M175.0 226.3h.5M177.3 223.7h.5M177.7 232.0h.5M175.5 230.7h.5M177.5 231.5h.5M175.5 234.8h.5M175.9 233.4h.5M180.6 222.1h.5M163.0 239.0h.5M172.9 234.3h.5M162.5 242.6h.5M162.2 234.7h.5M174.4 216.8h.5M176.4 233.4h.5M169.0 233.5h.5M181.6 226.5h.5M177.3 222.3h.5M175.2 232.1h.5M173.2 228.9h.5M171.1 236.2h.5M174.4 235.1h.5M172.8 236.1h.5M163.6 226.7h.5M160.4 237.9h.5M176.6 224.4h.5M179.6 218.6h.5M161.3 242.0h.5M165.9 230.6h.5M169.0 242.0h.5M165.4 212.6h.5M175.5 226.0h.5M171.2 235.1h.5M166.6 237.1h.5M181.4 227.1h.5M167.4 241.5h.5M169.0 235.7h.5M165.6 241.0h.5M178.6 226.9h.5M163.9 237.7h.5M172.3 231.0h.5M177.3 227.2h.5M161.5 239.7h.5M174.6 232.7h.5M167.0 237.8h.5M178.6 234.5h.5M173.1 234.3h.5M168.0 234.3h.5M160.0 242.3h.5M172.2 236.0h.5M179.1 224.1h.5M160.6 241.9h.5M177.6 232.3h.5M177.9 233.2h.5M176.8 227.9h.5M173.5 232.6h.5M164.5 227.3h.5M168.8 229.8h.5M159.7 243.1h.5M164.3 240.0h.5M172.4 235.7h.5M173.5 226.0h.5M171.7 230.2h.5M176.2 233.6h.5M166.3 239.4h.5M163.0 238.8h.5M176.2 227.9h.5M170.7 235.2h.5M165.2 225.6h.5M182.1 225.5h.5M176.1 225.6h.5M174.3 229.9h.5M177.0 224.3h.5M168.0 235.8h.5M168.6 231.2h.5M160.9 238.8h.5M164.0 239.1h.5M182.3 214.9h.5M171.1 238.8h.5M176.2 225.5h.5M162.1 240.7h.5M180.5 210.5h.5M158.7 239.2h.5M164.0 238.2h.5M168.8 241.5h.5M167.7 236.3h.5M177.0 228.8h.5M166.1 241.4h.5M161.7 237.7h.5M173.0 230.9h.5M166.4 238.0h.5M172.6 234.6h.5M179.0 223.6h.5M171.9 237.3h.5M180.4 209.3h.5M168.2 242.0h.5M183.1 225.8h.5M171.5 237.2h.5M167.3 240.9h.5M174.3 233.1h.5M169.9 237.2h.5M175.3 223.1h.5M172.8 236.3h.5M178.3 227.2h.5M171.2 231.1h.5M175.4 235.0h.5M174.5 230.3h.5M168.9 239.4h.5M162.2 239.8h.5M174.4 235.7h.5M181.3 226.5h.5M160.6 235.6h.5M172.7 241.6h.5M169.5 238.0h.5M169.8 231.0h.5M174.7 229.8h.5M175.6 228.7h.5M167.5 236.0h.5M162.1 240.1h.5M166.3 237.0h.5M173.7 230.2h.5M178.7 220.3h.5M166.7 231.9h.5M168.9 234.2h.5M175.7 232.6h.5M170.3 237.0h.5M179.3 231.7h.5M181.3 216.8h.5M173.8 232.7h.5M165.5 229.4h.5M169.6 238.6h.5M176.1 230.3h.5M173.5 237.6h.5M173.7 229.4h.5M180.2 228.9h.5M178.2 231.9h.5M170.5 241.0h.5M163.4 243.4h.5M160.1 242.6h.5M169.5 222.1h.5M173.7 225.5h.5M176.8 227.8h.5M163.1 241.8h.5M173.0 236.8h.5M177.5 226.2h.5M179.0 211.0h.5M171.9 234.3h.5M173.8 235.5h.5M175.6 237.3h.5M179.2 227.8h.5M168.4 213.9h.5M179.6 223.0h.5M169.1 237.8h.5M179.5 230.7h.5M165.8 239.8h.5M167.0 230.7h.5M175.3 230.6h.5M180.1 219.9h.5M178.4 230.8h.5M168.9 237.3h.5M169.6 239.2h.5M174.9 233.0h.5M169.1 241.7h.5M164.0 240.4h.5M179.0 229.3h.5M170.3 240.4h.5M166.7 234.2h.5M167.1 234.7h.5M174.2 232.9h.5M173.7 231.3h.5M174.7 235.0h.5M159.6 239.6h.5M162.3 240.3h.5M165.2 228.4h.5M175.2 232.7h.5M169.8 237.7h.5M171.3 239.8h.5M161.2 243.0h.5M173.1 235.1h.5M160.8 237.6h.5M178.1 224.5h.5M175.0 234.9h.5M179.9 209.9h.5M170.7 236.2h.5M167.6 241.9h.5M173.2 214.0h.5M166.1 234.8h.5M175.6 229.6h.5M172.6 237.4h.5M162.1 239.4h.5M167.5 229.8h.5M179.1 219.1h.5M178.1 233.5h.5M167.0 237.3h.5M158.7 234.8h.5M172.2 231.2h.5M176.7 228.9h.5M161.4 241.0h.5M173.4 215.6h.5M160.5 240.4h.5M168.3 238.7h.5M162.7 237.1h.5M176.6 230.7h.5M163.9 238.3h.5M161.3 237.4h.5M171.6 233.5h.5M164.8 238.2h.5M170.5 235.5h.5M178.0 225.3h.5M169.3 240.4h.5M180.6 226.7h.5M173.1 235.7h.5M164.1 238.2h.5M164.8 239.8h.5M169.3 235.2h.5M175.0 225.2h.5M178.1 222.9h.5M164.6 238.6h.5M162.0 238.9h.5M180.5 221.9h.5M169.0 240.4h.5M169.6 235.3h.5M174.4 241.3h.5M152.0 207.1h.5M162.2 243.2h.5M181.5 209.1h.5M167.0 237.4h.5M161.2 237.4h.5M173.9 233.0h.5M171.9 239.3h.5M171.8 238.4h.5M161.0 237.4h.5M172.6 238.4h.5M167.4 236.7h.5M170.3 237.6h.5M175.9 237.4h.5M162.0 236.4h.5M160.7 227.1h.5M170.8 233.6h.5M174.5 232.2h.5M160.7 237.1h.5M173.1 233.1h.5M176.0 228.6h.5M161.1 236.5h.5M177.0 229.6h.5M167.0 229.3h.5M172.5 232.1h.5M169.0 235.3h.5M170.4 239.1h.5M162.6 239.1h.5M179.0 224.7h.5M178.6 225.0h.5M160.9 240.9h.5M167.9 241.8h.5M178.2 220.8h.5M161.9 240.9h.5M163.3 243.4h.5M163.8 239.0h.5M170.6 234.6h.5M173.0 234.3h.5M163.4 234.3h.5M178.1 224.8h.5M169.5 223.2h.5M171.7 239.2h.5M171.1 222.5h.5M164.3 233.4h.5M177.6 218.7h.5M173.0 235.6h.5M166.4 233.5h.5M165.3 233.4h.5M174.8 227.2h.5M169.6 232.3h.5M164.4 239.0h.5M178.9 226.0h.5M173.7 232.2h.5M174.1 228.3h.5M174.2 235.5h.5M167.0 235.1h.5M168.3 229.3h.5M160.7 236.5h.5M178.9 219.7h.5M161.0 239.8h.5M167.7 240.8h.5M179.0 223.9h.5M171.7 232.6h.5M174.0 232.1h.5M162.9 241.1h.5M175.5 236.5h.5M179.7 228.7h.5M171.8 236.4h.5M165.2 238.0h.5M171.6 236.5h.5M164.2 228.1h.5M173.7 235.7h.5M163.6 239.0h.5M172.7 231.1h.5M169.9 236.6h.5M174.4 230.1h.5M168.4 228.8h.5M165.0 233.0h.5M178.5 222.2h.5M163.6 241.4h.5M170.3 231.6h.5M168.3 233.9h.5M181.2 221.4h.5M172.9 233.2h.5M183.8 212.6h.5M164.6 229.0h.5M159.0 238.8h.5M169.9 232.6h.5M177.1 227.9h.5M174.4 234.8h.5M169.8 234.9h.5M164.2 241.3h.5M175.9 225.5h.5M175.3 233.7h.5M167.3 240.1h.5M159.7 240.7h.5M173.5 230.0h.5M164.5 238.5h.5M176.9 228.1h.5M161.4 240.1h.5M170.1 239.5h.5M173.3 230.7h.5M176.8 228.5h.5M178.2 225.1h.5M169.1 234.2h.5M169.2 228.8h.5M172.6 227.1h.5M163.4 238.1h.5M169.2 226.5h.5M174.9 235.1h.5M166.5 236.2h.5M175.2 218.6h.5M172.8 231.1h.5M168.6 242.9h.5M175.0 238.5h.5M175.8 227.1h.5M172.5 233.6h.5M178.3 228.6h.5M179.4 203.6h.5M165.3 243.1h.5M174.6 233.1h.5M171.0 233.3h.5M182.1 206.9h.5M178.7 231.5h.5M176.9 227.9h.5M172.6 229.7h.5M180.8 204.5h.5M167.3 238.3h.5M163.6 241.6h.5M179.5 226.4h.5M160.7 240.5h.5M170.2 236.1h.5M162.6 239.7h.5M161.1 237.2h.5M164.5 240.2h.5M167.8 236.2h.5M165.7 236.3h.5M176.3 229.5h.5M159.9 242.2h.5M175.1 235.0h.5M170.9 236.6h.5M172.6 236.2h.5M173.4 234.5h.5M179.6 211.8h.5M174.5 239.0h.5M175.6 231.1h.5M170.1 238.6h.5M183.0 210.2h.5M176.4 227.3h.5M168.4 241.3h.5M176.1 230.2h.5M163.9 227.6h.5M177.3 223.4h.5M179.2 225.9h.5M176.8 227.2h.5M168.9 236.5h.5M166.2 231.7h.5M166.3 205.3h.5M160.8 239.4h.5M176.6 222.8h.5M169.5 239.4h.5M161.8 238.7h.5M164.1 234.1h.5M176.6 228.1h.5M175.1 231.1h.5M164.1 239.1h.5M177.3 226.1h.5M164.0 229.7h.5M176.1 235.8h.5M172.9 236.7h.5M177.1 227.0h.5M166.4 236.5h.5M166.9 236.8h.5M171.4 236.2h.5M174.6 222.3h.5M179.4 226.1h.5M177.6 233.7h.5M162.6 234.9h.5M171.3 233.4h.5M178.1 236.2h.5M180.1 228.1h.5M168.7 241.4h.5M162.9 237.7h.5M173.8 235.2h.5M163.7 231.8h.5M174.5 231.3h.5M171.9 237.4h.5M181.9 212.7h.5M181.2 212.6h.5M175.1 232.4h.5M168.8 237.3h.5M162.0 213.6h.5M159.4 240.7h.5M174.5 230.5h.5M172.6 238.6h.5M176.0 228.0h.5M172.1 233.3h.5M163.3 236.1h.5M163.6 238.7h.5M171.3 239.8h.5M171.4 234.0h.5M164.0 237.1h.5M172.1 236.7h.5M163.5 240.1h.5M166.8 232.3h.5M176.0 223.4h.5M176.8 224.7h.5M168.6 238.0h.5M170.9 237.4h.5M174.9 233.9h.5M162.6 240.2h.5M171.5 231.3h.5M169.1 226.8h.5M165.3 240.7h.5M175.7 235.7h.5M162.2 231.6h.5M176.3 229.7h.5M168.2 238.3h.5M173.5 234.8h.5M165.9 229.4h.5M178.4 225.4h.5M174.6 221.2h.5M179.7 222.0h.5M176.8 216.1h.5M162.1 239.4h.5M165.2 239.4h.5M172.8 233.7h.5M177.6 214.6h.5M162.2 237.9h.5M171.9 234.3h.5M167.0 238.4h.5M174.7 230.9h.5M168.3 230.1h.5M172.8 239.6h.5M178.5 220.3h.5M171.8 240.3h.5M170.8 236.0h.5M163.5 240.6h.5M166.4 233.5h.5M170.0 235.8h.5M158.8 238.7h.5M174.3 235.3h.5M162.5 242.6h.5M162.7 238.0h.5M168.3 236.7h.5M171.8 209.9h.5M167.6 241.4h.5M162.8 241.1h.5M172.3 235.8h.5M172.6 235.9h.5M165.7 240.4h.5M168.6 236.3h.5M173.1 234.9h.5M169.3 235.7h.5M169.8 232.6h.5M162.7 242.4h.5M177.7 231.2h.5M159.5 238.0h.5M169.8 238.5h.5M176.0 230.2h.5M174.1 227.8h.5M175.6 226.6h.5M163.0 238.4h.5M162.8 226.5h.5M169.8 223.4h.5M172.4 218.1h.5M171.9 231.2h.5M168.4 235.4h.5M170.3 237.3h.5M161.9 235.6h.5M177.0 225.8h.5M176.4 227.6h.5M174.9 234.9h.5M172.9 237.4h.5M178.9 219.6h.5M170.6 238.8h.5M180.8 224.3h.5M174.2 235.2h.5M178.5 216.1h.5M164.9 241.6h.5M174.1 228.9h.5M165.5 237.5h.5M175.4 230.9h.5M175.8 228.8h.5M174.6 229.8h.5M177.3 233.5h.5M172.0 237.1h.5M179.7 217.0h.5M177.0 224.9h.5M172.0 232.0h.5M174.5 224.2h.5M173.1 234.0h.5M169.5 240.3h.5M169.6 234.6h.5M168.2 242.8h.5M175.1 231.7h.5M168.9 236.1h.5M171.9 234.0h.5M169.4 238.9h.5M173.1 232.0h.5M174.9 209.3h.5M184.0 221.7h.5M166.1 237.8h.5M173.6 230.0h.5M172.4 239.3h.5M177.7 222.3h.5M175.5 226.8h.5M173.3 224.7h.5M170.2 232.3h.5M162.2 243.1h.5M163.3 239.0h.5M164.9 236.7h.5M174.3 229.4h.5M173.0 234.4h.5M170.4 234.4h.5M175.6 225.6h.5M166.8 239.7h.5M176.6 228.2h.5M178.2 223.8h.5M169.0 243.1h.5M169.5 237.9h.5M167.8 202.2h.5M174.9 230.9h.5M177.7 229.7h.5M173.5 232.2h.5M172.9 234.1h.5M161.2 238.8h.5M163.0 232.7h.5M173.0 233.9h.5M173.3 228.7h.5M164.2 238.8h.5M158.6 240.0h.5M173.2 233.8h.5M178.5 216.5h.5M172.6 236.3h.5M178.3 216.0h.5M169.2 234.1h.5M166.2 240.2h.5M172.8 236.3h.5M167.8 238.7h.5M176.8 225.5h.5M181.5 218.7h.5M166.6 229.4h.5M174.4 237.5h.5M178.8 222.9h.5M170.4 233.9h.5M168.4 233.6h.5M171.8 238.1h.5M164.0 241.6h.5M180.0 221.8h.5M168.9 222.1h.5M179.4 220.7h.5M171.9 237.0h.5M172.3 238.9h.5M173.6 220.7h.5M169.2 236.6h.5M177.5 215.2h.5M177.7 230.9h.5M171.6 238.7h.5M174.4 230.7h.5M168.2 230.9h.5M159.7 240.4h.5M172.1 233.0h.5M170.6 228.0h.5M181.6 222.9h.5M177.9 227.2h.5M180.3 220.8h.5M171.6 228.6h.5M175.3 238.5h.5M173.7 233.1h.5M181.2 209.1h.5M167.0 236.1h.5M171.5 232.1h.5M171.3 236.1h.5M175.2 231.5h.5M160.7 237.3h.5M166.7 239.4h.5M171.0 238.1h.5M163.4 243.0h.5M168.6 238.4h.5M177.5 218.9h.5M168.0 237.9h.5M174.9 232.7h.5M181.5 223.2h.5M165.8 233.7h.5M160.3 237.3h.5M176.1 231.7h.5M162.4 243.7h.5M168.3 235.3h.5M166.9 239.9h.5M178.1 229.1h.5M160.7 236.8h.5M159.7 236.4h.5M175.5 229.0h.5M162.9 237.7h.5M170.8 240.4h.5M178.7 226.6h.5M177.0 230.9h.5M174.1 232.1h.5M180.4 211.6h.5M175.2 227.1h.5M175.5 231.0h.5M177.0 236.0h.5M166.0 237.2h.5M169.0 235.9h.5M174.9 231.7h.5M174.5 230.9h.5M170.3 238.9h.5M170.5 233.8h.5M173.4 234.9h.5M170.9 239.0h.5M170.6 236.2h.5M174.3 231.2h.5M179.1 206.3h.5M160.7 238.3h.5M176.8 227.1h.5M162.7 239.4h.5M164.3 235.1h.5M159.2 238.6h.5M174.0 232.1h.5M173.5 213.2h.5M179.9 230.7h.5M169.5 233.2h.5M169.4 238.4h.5M159.7 223.8h.5M176.4 236.8h.5M175.9 228.2h.5M171.7 221.0h.5M176.2 230.8h.5M159.9 240.1h.5M178.1 233.4h.5M165.6 239.0h.5M164.6 235.7h.5M176.1 229.5h.5M177.9 233.6h.5M170.5 238.7h.5M178.2 231.2h.5M172.0 231.4h.5M179.8 222.6h.5M163.9 235.5h.5M170.8 235.1h.5M178.5 224.7h.5M163.8 241.9h.5M170.3 231.3h.5M176.6 226.4h.5M182.9 205.3h.5M164.1 238.6h.5M170.6 234.9h.5M176.7 225.1h.5M166.3 235.6h.5M174.2 207.9h.5M162.0 239.4h.5M164.6 241.1h.5M173.9 228.7h.5M171.7 232.4h.5M180.0 215.1h.5M171.5 235.4h.5M165.1 239.6h.5M178.9 230.9h.5M167.0 240.3h.5M168.7 236.7h.5M175.9 223.0h.5M160.7 239.7h.5M169.1 236.9h.5M180.2 230.9h.5M167.6 239.1h.5M178.2 216.5h.5M174.1 229.7h.5M180.5 225.9h.5M170.5 236.4h.5M173.1 238.2h.5M182.6 215.0h.5M160.6 242.2h.5M175.3 236.3h.5M163.0 238.6h.5M175.8 230.6h.5M171.0 232.9h.5M169.3 238.5h.5M158.3 237.7h.5M181.0 223.8h.5M177.1 226.3h.5M177.8 226.0h.5M161.2 237.1h.5M169.0 238.3h.5M178.5 230.9h.5M165.2 239.0h.5M161.2 238.3h.5M162.1 234.8h.5M177.5 212.9h.5M161.1 243.4h.5M172.6 230.6h.5M173.3 235.5h.5M169.1 234.6h.5M170.4 235.2h.5M175.7 233.5h.5M176.8 224.3h.5M160.9 238.0h.5M158.6 240.6h.5M177.5 227.3h.5M168.3 234.6h.5M160.5 242.7h.5M177.5 230.8h.5M166.6 231.2h.5M167.5 232.9h.5M179.3 221.3h.5M171.8 237.4h.5M161.8 242.8h.5M165.1 241.9h.5M167.3 233.9h.5M169.7 237.6h.5M163.8 238.6h.5M168.3 236.4h.5M172.4 233.2h.5M164.9 240.9h.5M166.1 239.1h.5M171.2 231.8h.5M168.3 228.4h.5M175.0 230.6h.5M173.4 229.3h.5M162.4 240.2h.5M163.6 240.5h.5M172.7 228.6h.5M177.1 231.1h.5M174.3 226.2h.5M163.6 238.9h.5M165.6 237.8h.5M167.7 233.2h.5M174.2 232.9h.5M162.1 237.5h.5M178.4 220.4h.5M170.6 234.3h.5M167.5 236.8h.5M169.3 232.0h.5M178.7 219.5h.5M170.7 238.6h.5M176.7 231.9h.5M179.1 222.0h.5M166.8 240.6h.5M164.0 244.1h.5M169.9 239.3h.5M163.7 237.8h.5M181.6 214.1h.5M173.4 227.5h.5M177.5 227.6h.5M176.8 227.2h.5M179.0 222.8h.5M163.9 237.0h.5M164.9 228.7h.5M174.8 231.6h.5M174.1 227.0h.5M163.7 239.5h.5M175.7 231.7h.5M167.6 238.7h.5M158.7 237.0h.5M172.9 230.5h.5M160.1 243.7h.5M162.9 239.0h.5M171.0 237.3h.5M176.3 231.9h.5M164.1 237.9h.5M161.6 241.7h.5M171.2 235.4h.5M173.8 236.7h.5M162.7 242.9h.5M161.9 241.6h.5M162.6 241.5h.5M174.2 227.6h.5M164.0 240.0h.5M180.1 214.6h.5M172.4 232.8h.5M166.2 237.9h.5M173.1 232.5h.5M172.6 233.1h.5M173.5 210.7h.5M178.2 229.2h.5M160.2 238.5h.5M177.7 220.6h.5M170.6 237.1h.5M168.1 236.8h.5M171.2 230.7h.5M179.3 208.7h.5M159.7 243.1h.5M168.4 229.7h.5M175.1 234.9h.5M167.1 238.4h.5M167.0 238.9h.5M174.1 231.9h.5M162.3 242.9h.5M174.2 234.7h.5M170.9 237.6h.5M175.7 226.9h.5M165.8 238.5h.5M164.3 236.6h.5M177.6 228.1h.5M158.5 238.6h.5M162.0 238.0h.5M177.2 228.9h.5M179.0 212.2h.5M167.2 237.2h.5M177.9 229.0h.5M176.0 218.3h.5M176.4 235.2h.5M165.8 242.3h.5M168.4 232.1h.5M162.6 238.4h.5M172.0 229.4h.5M174.5 227.5h.5M183.4 218.1h.5M177.4 220.8h.5M174.4 228.1h.5M162.5 234.5h.5M174.3 231.4h.5M176.6 231.0h.5M183.5 212.7h.5M167.1 238.2h.5M170.4 237.2h.5M174.7 242.9h.5M179.0 233.6h.5M173.8 229.4h.5M173.4 229.1h.5M172.4 238.3h.5M165.2 241.0h.5M180.4 214.0h.5M162.1 242.8h.5M180.0 221.1h.5M167.6 235.6h.5M162.2 241.6h.5M170.1 238.5h.5M170.2 235.9h.5M164.0 239.5h.5M170.5 239.5h.5M163.1 240.0h.5M174.7 229.0h.5M175.9 228.0h.5M167.6 233.5h.5M169.1 237.3h.5M173.6 211.0h.5M171.8 236.6h.5M171.8 234.1h.5M173.5 234.7h.5M181.5 221.6h.5M163.2 231.7h.5M173.2 236.0h.5M177.2 225.4h.5M167.3 232.9h.5M173.3 237.9h.5M168.8 238.1h.5M169.5 230.7h.5M181.5 214.1h.5M179.1 220.8h.5M177.9 232.4h.5M172.9 241.0h.5M173.1 229.6h.5M174.4 232.0h.5M176.7 228.4h.5M172.3 232.2h.5M172.6 241.1h.5M172.9 230.2h.5M175.8 229.5h.5M165.0 240.3h.5M160.2 237.5h.5M171.2 237.3h.5M160.1 237.3h.5M165.3 234.4h.5M162.7 237.3h.5M178.0 231.0h.5M175.8 227.9h.5M180.3 228.6h.5M175.6 232.5h.5M164.5 241.1h.5M165.6 238.9h.5M175.1 230.4h.5M159.2 243.4h.5M163.9 239.3h.5M169.9 226.9h.5M178.0 231.9h.5M173.9 235.4h.5M183.0 203.6h.5M176.5 223.8h.5M173.7 230.1h.5M175.8 231.2h.5M176.9 223.7h.5M180.5 211.2h.5M170.8 236.4h.5M166.8 208.2h.5M167.6 234.9h.5M167.4 234.6h.5M168.7 242.2h.5M176.2 227.5h.5M167.3 236.4h.5M178.3 231.1h.5M176.2 232.1h.5M159.4 235.0h.5M169.8 237.2h.5M172.2 234.5h.5M177.6 228.4h.5M174.2 230.7h.5M167.1 237.6h.5M169.7 240.8h.5M173.2 232.8h.5M177.9 228.9h.5M164.4 236.8h.5M176.4 228.0h.5M160.0 238.5h.5M175.8 233.0h.5M177.4 233.0h.5M174.0 234.3h.5M179.0 224.9h.5M159.0 243.8h.5M176.3 227.8h.5M167.7 236.5h.5M177.4 224.2h.5M165.3 239.4h.5M164.1 240.4h.5M161.6 241.6h.5M174.9 228.7h.5M165.6 240.5h.5M168.8 241.5h.5M174.0 235.9h.5M162.0 237.1h.5M172.5 228.0h.5M179.4 219.7h.5M171.9 231.4h.5M167.4 218.8h.5M177.5 232.4h.5M164.1 239.3h.5M180.9 214.1h.5M178.5 222.2h.5M167.5 233.6h.5M168.6 239.2h.5M175.1 229.0h.5M175.0 229.4h.5M162.7 239.3h.5M174.6 236.3h.5M169.3 229.2h.5M172.0 235.7h.5M168.6 238.0h.5M178.2 217.6h.5M169.8 236.7h.5M174.1 223.9h.5M172.0 233.6h.5M162.4 238.9h.5M176.7 227.6h.5M160.1 241.0h.5M177.8 220.6h.5M161.4 238.5h.5M159.4 240.1h.5M180.8 225.1h.5M176.5 223.1h.5M175.0 219.3h.5M163.4 241.6h.5M171.3 236.3h.5M168.9 229.0h.5M171.4 233.4h.5M167.2 229.9h.5M168.2 226.7h.5M164.6 234.8h.5M177.2 222.3h.5M176.3 229.4h.5M180.2 208.9h.5M161.5 239.5h.5M178.6 226.4h.5M178.9 212.8h.5M176.8 229.3h.5M176.5 228.0h.5M179.6 217.4h.5M174.4 228.9h.5M162.0 239.8h.5M164.5 241.3h.5M174.3 234.4h.5M169.2 228.1h.5M169.2 234.4h.5M160.3 239.1h.5M175.1 234.3h.5M177.2 226.2h.5M175.2 227.6h.5M171.4 234.5h.5M169.2 234.2h.5M165.2 242.0h.5M176.4 227.1h.5M164.4 240.0h.5M170.2 238.4h.5M172.0 234.7h.5M171.0 235.9h.5M174.9 230.1h.5M159.5 241.4h.5M169.1 235.5h.5M172.7 230.6h.5M175.6 230.1h.5M168.8 241.1h.5M178.4 220.1h.5M168.2 236.3h.5M171.0 234.9h.5M167.8 232.6h.5M169.4 235.4h.5M169.4 238.7h.5M164.9 235.0h.5M160.2 240.7h.5M165.7 239.3h.5M164.6 239.9h.5M173.7 222.2h.5M171.8 233.8h.5M176.3 227.5h.5M175.2 233.4h.5M178.7 220.5h.5M180.0 221.8h.5M170.3 232.1h.5M175.3 235.2h.5M175.4 231.0h.5M167.2 234.9h.5M168.1 238.9h.5M165.8 237.8h.5M161.2 244.0h.5M163.7 243.6h.5M168.4 235.1h.5M167.3 237.7h.5M168.0 238.0h.5M181.0 216.3h.5M174.7 228.8h.5M163.7 241.7h.5M162.0 242.1h.5M179.3 214.9h.5M160.7 240.1h.5M178.7 220.4h.5M159.6 236.8h.5M171.9 234.0h.5M159.5 237.4h.5M174.1 231.6h.5M180.7 224.6h.5M170.2 229.4h.5M168.1 232.7h.5M173.2 229.1h.5M172.4 235.8h.5M170.6 228.4h.5M174.5 226.4h.5M165.4 236.8h.5M173.8 236.4h.5M170.6 221.4h.5M181.9 212.8h.5M172.4 232.4h.5M164.0 236.7h.5M173.0 226.8h.5M175.7 226.9h.5M174.1 233.8h.5M176.1 233.6h.5M173.0 233.6h.5M166.5 219.9h.5M163.3 235.1h.5M179.7 219.8h.5M167.2 233.6h.5M163.8 235.9h.5M170.9 229.5h.5M173.7 226.4h.5M171.6 237.1h.5M171.5 236.8h.5M172.8 237.2h.5M169.7 225.7h.5M165.0 237.7h.5M175.5 234.7h.5M176.7 226.7h.5M175.2 232.9h.5M169.5 236.1h.5M174.4 235.0h.5M176.4 217.5h.5M173.9 234.8h.5M171.9 240.5h.5M176.4 226.4h.5M159.8 242.0h.5M179.8 217.1h.5M171.0 235.0h.5M176.7 224.0h.5M180.3 231.5h.5M175.7 228.8h.5M175.7 224.2h.5M164.2 240.6h.5M167.6 237.0h.5M165.0 239.0h.5M174.5 229.1h.5M177.9 229.2h.5M163.2 240.2h.5M164.6 214.9h.5M177.1 232.2h.5M173.5 232.9h.5M183.4 230.9h.5M167.3 235.1h.5M175.1 239.6h.5M167.2 238.9h.5M163.2 235.8h.5M178.3 223.6h.5M171.2 237.0h.5M179.2 226.5h.5M178.6 225.8h.5M181.0 232.6h.5M178.2 235.1h.5M172.4 223.5h.5M162.6 235.8h.5M160.6 239.8h.5M166.1 241.0h.5M174.3 232.3h.5M177.0 228.5h.5M160.4 239.7h.5M177.6 222.6h.5M179.4 229.3h.5M158.6 220.1h.5M181.1 209.5h.5M174.4 232.5h.5M175.1 233.6h.5M184.5 213.1h.5M180.7 227.0h.5M170.6 238.4h.5M177.9 222.6h.5M160.0 237.2h.5M161.9 237.4h.5M178.1 220.6h.5M178.8 219.2h.5M171.9 234.7h.5M171.6 240.1h.5M167.9 236.0h.5M173.9 229.6h.5M167.1 241.9h.5M174.0 231.2h.5M175.3 237.7h.5M173.6 227.4h.5M173.7 223.8h.5M164.5 235.9h.5M174.4 231.4h.5M167.4 229.5h.5M173.5 232.9h.5M166.6 239.7h.5M169.4 229.1h.5M164.8 239.0h.5M175.5 231.0h.5M167.6 231.5h.5M167.8 237.2h.5M162.9 239.3h.5M182.9 216.6h.5M175.1 227.8h.5M166.9 238.4h.5M180.2 209.1h.5M177.3 229.9h.5M181.8 223.1h.5M180.4 220.2h.5M166.4 238.8h.5M162.9 237.8h.5M174.6 235.7h.5M176.9 228.3h.5M171.6 229.8h.5M165.0 238.8h.5M170.0 237.9h.5M180.9 229.7h.5M167.6 228.0h.5M178.2 224.4h.5M163.9 243.6h.5M167.6 229.4h.5M160.1 240.8h.5M160.5 240.9h.5M179.8 228.2h.5M158.9 238.1h.5M173.9 228.7h.5M171.5 235.7h.5M161.3 239.4h.5M178.2 219.7h.5M173.7 233.2h.5M179.5 230.2h.5M175.1 233.8h.5M171.7 227.0h.5M166.9 231.1h.5M174.8 226.8h.5M180.6 229.7h.5M164.1 239.6h.5M174.1 229.9h.5M170.3 235.9h.5M176.0 231.8h.5M182.5 221.0h.5M167.0 237.3h.5M177.4 228.4h.5M171.6 235.7h.5M172.9 237.2h.5M171.7 231.6h.5M169.1 241.7h.5M181.5 229.6h.5M161.5 240.9h.5M178.8 229.5h.5M171.8 240.7h.5M169.5 237.9h.5M173.6 234.1h.5M173.5 232.8h.5M164.1 238.4h.5M164.3 234.3h.5M178.2 227.8h.5M179.3 224.4h.5M178.6 224.4h.5M175.5 234.4h.5M174.9 233.5h.5M166.2 231.5h.5M163.1 241.8h.5M163.3 240.0h.5M165.7 239.1h.5M169.2 236.0h.5M171.3 239.5h.5M159.6 239.2h.5M177.1 237.0h.5M160.3 238.5h.5M173.4 223.1h.5M166.9 240.0h.5M178.3 225.2h.5M181.6 221.6h.5M182.2 215.3h.5M181.2 222.2h.5M161.6 238.9h.5M170.0 228.7h.5M177.8 225.4h.5M162.2 236.8h.5M169.5 235.4h.5M167.1 241.0h.5M174.1 235.6h.5M159.2 238.7h.5M174.8 219.0h.5M177.0 229.3h.5M171.9 234.3h.5M176.9 222.7h.5M167.7 239.6h.5M170.9 234.9h.5M174.9 222.9h.5M174.8 225.0h.5M176.4 238.3h.5M167.4 240.2h.5M171.5 224.0h.5M160.6 240.0h.5M180.1 215.3h.5M159.8 240.3h.5M170.6 232.7h.5M176.4 226.6h.5M161.1 237.9h.5M164.4 238.7h.5M172.1 232.8h.5M166.4 237.8h.5M171.1 239.9h.5M159.1 239.8h.5M182.2 226.6h.5M158.9 239.5h.5M181.5 226.4h.5M171.3 235.9h.5M169.7 238.4h.5M167.4 237.5h.5M173.1 232.3h.5M176.2 228.4h.5M174.4 236.8h.5M173.6 232.6h.5M174.1 228.9h.5M180.9 215.1h.5M177.5 217.8h.5M165.7 235.5h.5M161.6 238.9h.5M172.0 235.3h.5M167.9 239.8h.5M172.8 230.9h.5M173.4 226.4h.5M181.1 220.3h.5M177.1 213.4h.5M173.1 232.8h.5M176.7 226.9h.5M178.7 229.4h.5M169.5 231.7h.5M160.7 240.2h.5M157.7 221.5h.5M173.9 233.3h.5M177.1 228.9h.5M161.2 237.5h.5M170.7 236.5h.5M177.8 227.5h.5M170.4 237.9h.5M183.7 206.1h.5M181.6 204.1h.5M172.3 229.6h.5M174.8 219.2h.5M174.5 238.6h.5M172.9 229.3h.5M178.6 217.0h.5M172.4 238.1h.5M173.8 225.5h.5M169.7 236.6h.5M178.1 222.8h.5M166.0 241.1h.5M175.7 229.9h.5M165.8 241.5h.5M163.6 236.6h.5M174.1 234.4h.5M175.8 234.2h.5M180.0 207.4h.5M160.1 234.8h.5M168.7 232.9h.5M161.7 238.8h.5M167.3 240.1h.5M178.9 227.6h.5M171.8 239.5h.5M172.6 235.3h.5M173.3 232.5h.5M174.3 229.9h.5M174.4 229.4h.5M161.6 239.3h.5M176.8 232.0h.5M177.4 218.8h.5M177.0 226.6h.5M167.9 235.6h.5M165.1 236.2h.5M176.6 233.0h.5M172.0 240.8h.5M178.9 211.1h.5M167.0 233.9h.5M177.3 230.8h.5M175.5 228.7h.5M175.9 204.9h.5M181.2 208.7h.5M159.3 239.8h.5M178.7 217.9h.5M166.4 229.9h.5M177.9 216.7h.5M164.3 237.1h.5M170.8 240.8h.5M171.6 230.7h.5M178.7 219.7h.5M163.6 239.8h.5M161.5 237.6h.5M176.5 212.6h.5M168.3 236.0h.5M166.9 230.8h.5M173.9 231.5h.5M172.1 234.5h.5M165.8 243.0h.5M176.4 232.6h.5M165.4 237.8h.5M171.7 238.7h.5M177.7 236.1h.5M162.7 237.1h.5M164.0 241.9h.5M167.5 228.9h.5M164.1 239.2h.5M174.1 227.5h.5M180.0 224.0h.5M173.8 232.6h.5M174.6 237.1h.5M169.9 241.1h.5M179.4 215.8h.5M176.4 224.3h.5M172.4 231.7h.5M168.7 234.6h.5M164.0 240.4h.5M176.9 225.3h.5M176.9 231.5h.5M167.7 241.7h.5M165.6 231.0h.5M162.4 238.7h.5M165.2 235.6h.5M180.7 225.7h.5M168.5 237.5h.5M171.3 232.3h.5M163.7 234.7h.5M177.2 226.7h.5M165.2 238.8h.5M174.4 235.7h.5M164.5 240.2h.5M167.6 226.9h.5M173.4 231.8h.5M169.7 237.2h.5M160.2 238.9h.5M179.3 217.2h.5M176.1 228.3h.5M162.3 236.3h.5M173.4 232.7h.5M161.5 239.2h.5M160.2 240.6h.5M169.5 225.2h.5M165.0 238.1h.5M173.4 231.0h.5M167.6 241.1h.5M177.6 230.6h.5M173.5 231.9h.5M175.8 228.9h.5M174.9 231.7h.5M169.3 233.4h.5M159.1 241.8h.5M168.2 229.2h.5M177.7 231.6h.5M178.0 228.0h.5M178.6 215.7h.5M172.5 237.0h.5M163.8 236.8h.5M171.1 238.8h.5M169.8 238.1h.5M172.6 240.8h.5M179.0 218.0h.5M167.2 234.5h.5M166.8 239.1h.5M181.3 223.0h.5M173.5 231.0h.5M162.8 239.5h.5M160.6 236.4h.5M176.6 221.7h.5M173.2 233.7h.5M171.3 235.2h.5M178.4 214.1h.5M174.8 227.9h.5M177.1 227.8h.5M174.9 227.8h.5M174.4 231.8h.5M173.6 230.9h.5M169.7 238.2h.5M162.7 239.3h.5M168.8 233.6h.5M178.6 208.7h.5M179.1 228.6h.5M177.1 218.1h.5M179.5 223.3h.5M167.8 230.5h.5M171.0 230.1h.5M169.0 237.6h.5M181.1 219.6h.5M173.6 235.5h.5M168.2 234.7h.5M180.5 229.7h.5M180.0 210.9h.5M178.8 222.0h.5M178.4 225.8h.5M167.2 236.5h.5M159.9 240.0h.5M165.7 231.7h.5M164.7 237.9h.5M176.5 231.3h.5M172.5 240.5h.5M168.0 237.7h.5M178.3 224.3h.5M179.9 218.5h.5M164.0 240.6h.5M173.7 236.5h.5M176.7 221.6h.5M174.5 229.7h.5M165.2 237.5h.5M162.3 236.0h.5M168.0 237.9h.5M176.0 223.8h.5M166.5 236.0h.5M174.8 227.1h.5M178.4 231.2h.5M172.8 238.0h.5M175.7 226.5h.5M165.3 235.8h.5M164.1 229.9h.5M174.3 235.1h.5M170.0 233.2h.5M177.0 220.3h.5M168.8 237.8h.5M167.6 237.1h.5M167.1 235.9h.5M176.3 223.4h.5M163.9 218.1h.5M179.7 225.2h.5M162.5 238.3h.5M161.9 240.2h.5M176.6 230.5h.5M173.5 218.4h.5M175.8 225.1h.5M158.5 240.5h.5M178.5 215.4h.5M166.5 234.7h.5M172.8 230.1h.5M181.9 221.6h.5M158.5 238.1h.5M174.3 231.4h.5M166.2 239.2h.5M159.4 236.6h.5M173.9 233.5h.5M174.6 231.4h.5M172.8 229.6h.5M170.5 235.8h.5M171.8 224.9h.5M167.2 234.2h.5M163.0 240.0h.5M179.8 208.2h.5M161.6 240.7h.5M168.0 240.1h.5M167.1 232.7h.5M170.1 236.5h.5M164.7 240.5h.5M176.2 234.1h.5M177.5 223.8h.5M160.2 237.1h.5M164.0 237.6h.5M160.4 238.4h.5M170.0 233.4h.5M173.4 235.0h.5M160.1 241.1h.5M166.4 236.9h.5M166.9 233.5h.5M168.2 237.9h.5M168.6 236.7h.5M172.4 235.8h.5M171.9 220.7h.5M175.2 222.0h.5M174.4 211.6h.5M175.7 228.8h.5M163.7 242.6h.5M175.5 229.5h.5M176.5 224.8h.5M178.0 222.0h.5M176.6 225.0h.5M165.2 239.0h.5M169.1 236.4h.5M174.4 230.8h.5M179.1 222.9h.5M160.3 239.5h.5M175.4 224.5h.5M169.7 221.3h.5M174.2 236.8h.5M169.3 236.6h.5M176.8 229.9h.5M173.0 241.5h.5M179.5 224.8h.5M164.2 238.8h.5M168.8 232.1h.5M174.8 221.0h.5M172.5 230.0h.5M179.4 218.7h.5M175.0 222.4h.5M173.6 234.7h.5M169.1 224.9h.5M168.1 233.2h.5M176.7 226.7h.5M164.8 243.6h.5M180.7 229.4h.5M175.4 222.4h.5M171.7 240.4h.5M160.3 235.4h.5M175.5 215.6h.5M160.8 242.2h.5M175.2 231.0h.5M165.2 239.9h.5M171.3 236.1h.5M163.2 238.4h.5M178.6 216.4h.5M165.9 231.7h.5M165.2 243.5h.5M160.8 235.9h.5M166.5 234.3h.5M166.8 225.0h.5M174.8 226.9h.5M176.7 226.6h.5M176.2 224.3h.5M180.3 225.6h.5M159.2 233.4h.5M168.5 238.5h.5M180.3 230.0h.5M178.2 230.6h.5M180.4 207.3h.5M162.3 234.7h.5M172.9 233.3h.5M169.1 239.7h.5M176.6 231.8h.5M176.8 225.4h.5M174.1 233.5h.5M176.4 231.9h.5M177.1 229.6h.5M170.4 234.0h.5M160.7 238.2h.5M176.0 231.0h.5M181.1 210.6h.5M176.1 235.5h.5M173.1 237.3h.5M170.4 232.4h.5M165.3 243.1h.5M173.7 233.5h.5M180.2 228.9h.5M181.9 215.2h.5M163.1 235.7h.5M178.1 226.3h.5M175.4 225.6h.5M174.5 224.4h.5M171.3 228.7h.5M166.8 239.2h.5M172.3 234.0h.5M161.5 238.1h.5M165.2 238.0h.5M178.1 232.5h.5M165.2 239.6h.5M177.3 223.1h.5M164.3 239.7h.5M164.8 237.9h.5M178.1 230.0h.5M175.6 224.6h.5M160.4 238.6h.5M175.2 238.1h.5M176.6 228.9h.5M164.5 241.0h.5M169.8 234.8h.5M175.2 233.8h.5M169.9 241.7h.5M168.0 240.9h.5M180.8 226.5h.5M175.0 226.2h.5M174.2 228.1h.5M177.0 220.3h.5M171.0 208.9h.5M169.9 238.8h.5M159.6 240.8h.5M179.5 231.3h.5M165.1 239.2h.5M165.2 228.1h.5M168.2 237.1h.5M161.7 238.1h.5M167.9 237.2h.5M160.1 237.3h.5M180.3 227.3h.5M177.2 230.4h.5M175.2 233.0h.5M175.6 229.2h.5M164.5 241.8h.5M168.1 238.3h.5M171.7 237.1h.5M174.4 233.4h.5M168.1 242.0h.5M163.9 234.5h.5M170.3 238.5h.5M165.3 238.2h.5M164.7 237.1h.5M161.1 243.5h.5M168.6 235.0h.5M163.6 241.4h.5M161.3 240.5h.5M164.9 241.8h.5M167.2 229.7h.5M163.4 239.3h.5M169.9 238.3h.5M168.9 239.5h.5M172.8 238.9h.5M162.0 222.2h.5M159.4 239.7h.5M165.2 237.5h.5M164.1 232.4h.5M169.3 236.7h.5M172.6 232.2h.5M165.2 223.7h.5M174.9 222.0h.5M174.0 231.0h.5M177.1 226.6h.5M174.0 225.9h.5M168.3 231.2h.5M177.7 224.4h.5M180.0 214.4h.5M177.1 232.1h.5M164.0 237.5h.5M173.7 228.6h.5M175.4 220.5h.5M169.0 236.9h.5M178.6 227.5h.5M176.3 225.1h.5M170.1 238.6h.5M169.3 235.4h.5M174.7 232.8h.5M174.5 232.3h.5M171.8 231.2h.5M174.3 224.1h.5M181.0 210.7h.5M165.1 219.4h.5M172.0 240.3h.5M179.5 232.5h.5M168.2 233.9h.5M163.9 241.0h.5M172.4 236.9h.5M160.3 240.6h.5M165.2 226.8h.5M162.5 240.1h.5M175.2 232.6h.5M174.5 232.7h.5M173.8 231.0h.5M166.0 236.0h.5M165.1 241.4h.5M160.8 234.0h.5M174.7 233.0h.5M170.8 224.1h.5M160.6 239.9h.5M177.7 226.7h.5M164.2 235.2h.5M175.5 231.8h.5M176.8 229.0h.5M175.8 227.2h.5M159.2 238.0h.5M175.1 228.6h.5M175.3 234.0h.5M160.7 236.6h.5M172.4 237.9h.5M161.7 239.4h.5M165.9 236.1h.5M165.3 238.5h.5M170.2 238.0h.5M183.0 218.7h.5M174.7 232.2h.5M176.0 228.8h.5M161.2 239.3h.5M167.7 240.2h.5M158.2 238.5h.5M164.5 239.2h.5M174.6 229.7h.5M179.8 217.7h.5M180.8 214.0h.5M177.5 226.3h.5M180.2 225.4h.5M173.1 214.0h.5M167.5 238.5h.5M167.3 235.3h.5M175.1 228.0h.5M169.3 235.9h.5M179.8 233.3h.5M172.6 228.6h.5M177.5 236.7h.5M172.9 233.5h.5M167.3 240.5h.5M178.1 227.1h.5M173.7 227.4h.5M172.3 233.8h.5M164.2 240.0h.5M173.0 232.2h.5M160.9 234.9h.5M171.5 237.5h.5M178.3 230.8h.5M163.9 221.7h.5M178.0 223.4h.5M164.8 242.4h.5M170.0 237.1h.5M161.4 237.0h.5M178.4 225.8h.5M172.1 234.1h.5M173.8 235.2h.5M163.5 241.6h.5M175.1 240.7h.5M168.1 237.3h.5M174.0 230.2h.5M167.2 238.7h.5M179.6 222.3h.5M160.2 239.7h.5M172.5 231.8h.5M164.6 238.5h.5M169.5 235.6h.5M161.8 240.6h.5M172.9 227.6h.5M164.3 238.5h.5M171.3 218.5h.5M172.4 234.5h.5M176.5 231.0h.5M166.8 238.5h.5M170.7 234.7h.5M179.5 221.9h.5M171.9 232.4h.5M167.7 240.9h.5M169.0 225.0h.5M166.5 238.2h.5M179.3 219.9h.5M160.7 240.2h.5M169.4 234.3h.5M175.4 222.1h.5M171.6 238.9h.5M171.4 235.0h.5M169.0 231.6h.5M168.9 237.8h.5M177.7 232.3h.5M174.7 228.0h.5M174.0 235.2h.5M173.2 225.6h.5M173.2 226.1h.5M169.9 233.4h.5M183.5 205.7h.5M160.1 238.5h.5M176.6 226.4h.5M172.0 236.8h.5M168.4 240.4h.5M173.3 227.3h.5M176.8 230.6h.5M161.6 236.5h.5M169.9 241.3h.5M167.2 239.5h.5M165.0 236.1h.5M180.1 224.1h.5M161.2 240.5h.5M171.3 241.8h.5M179.8 229.6h.5M167.9 239.1h.5M170.1 235.3h.5M173.8 230.0h.5M159.2 239.5h.5M176.3 219.7h.5M169.3 237.9h.5M174.2 233.5h.5M164.7 236.4h.5M181.9 227.9h.5M175.1 235.3h.5M174.9 228.8h.5M179.6 215.0h.5M176.1 225.1h.5M176.9 238.8h.5M173.3 234.8h.5M172.7 230.5h.5M167.0 237.7h.5M172.3 226.7h.5M173.7 227.9h.5M180.7 227.0h.5M169.6 238.6h.5M172.3 231.3h.5M170.9 228.2h.5M173.3 227.5h.5M175.4 224.1h.5M173.0 239.7h.5M174.8 235.6h.5M163.7 241.8h.5M163.4 224.5h.5M177.3 228.4h.5M175.3 227.7h.5M178.6 220.0h.5M168.8 240.0h.5M165.9 235.7h.5M159.4 239.2h.5M170.9 241.0h.5M175.5 233.6h.5M176.2 225.8h.5M174.8 230.6h.5M169.0 241.6h.5M160.3 237.1h.5M169.2 226.5h.5M178.6 219.0h.5M162.4 236.3h.5M169.1 235.3h.5M159.5 240.0h.5M170.0 236.8h.5M162.5 241.9h.5M178.1 227.3h.5M169.2 237.4h.5M174.1 231.6h.5M175.6 229.6h.5M175.5 233.0h.5M168.1 239.7h.5M163.1 237.5h.5M165.4 237.4h.5M177.6 211.1h.5M176.6 228.8h.5M173.2 237.2h.5M181.8 216.1h.5M170.0 236.1h.5M167.4 236.9h.5M171.0 238.8h.5M172.3 236.9h.5M173.6 233.6h.5M162.2 238.5h.5M174.9 229.9h.5M169.4 234.9h.5M178.4 224.0h.5M161.9 234.3h.5M176.2 233.7h.5M164.9 238.5h.5M170.6 240.0h.5M162.9 240.4h.5M174.7 228.4h.5M172.4 233.9h.5M174.0 230.5h.5M169.4 234.6h.5M179.9 225.7h.5M163.7 239.8h.5M171.5 240.9h.5M173.5 236.6h.5M177.0 229.5h.5M177.0 235.5h.5M173.4 234.5h.5M172.9 233.8h.5M170.8 232.5h.5M172.0 234.4h.5M171.3 239.9h.5M179.8 226.1h.5M160.3 240.0h.5M178.8 226.0h.5M169.8 238.9h.5M173.8 239.6h.5M167.0 235.9h.5M171.6 233.5h.5M171.7 237.5h.5M173.7 232.6h.5M180.9 219.1h.5M166.1 234.6h.5M175.2 227.8h.5M183.2 213.0h.5M160.6 220.2h.5M174.4 229.6h.5M162.0 237.9h.5M172.4 233.3h.5M173.5 231.2h.5M171.1 235.8h.5M172.7 234.0h.5M166.2 236.6h.5M178.3 223.5h.5M172.8 223.8h.5M179.2 228.0h.5M174.3 218.7h.5M176.0 229.4h.5M177.5 225.1h.5M165.8 238.6h.5M160.5 240.1h.5M180.0 208.7h.5M173.9 231.2h.5M160.4 237.7h.5M177.2 221.3h.5M168.6 238.0h.5M180.2 222.5h.5M167.8 234.9h.5M169.3 229.7h.5M170.6 234.9h.5M181.5 207.8h.5M170.3 234.7h.5M165.7 242.2h.5M175.9 225.4h.5M163.7 239.0h.5M167.3 238.6h.5M178.8 221.7h.5M159.4 239.3h.5M162.3 238.2h.5M178.0 230.1h.5M174.2 235.6h.5M173.1 232.9h.5M167.8 221.3h.5M178.1 224.3h.5M162.7 234.4h.5M177.8 231.2h.5M180.4 215.2h.5M179.7 217.6h.5M176.0 234.2h.5M166.6 238.1h.5M159.0 237.3h.5M171.5 215.9h.5M158.9 239.9h.5M182.6 228.3h.5M171.1 236.1h.5M152.0 218.4h.5M173.0 235.3h.5M183.4 210.5h.5M167.5 236.9h.5M175.4 235.8h.5M167.6 235.4h.5M171.3 233.8h.5M171.6 230.8h.5M162.7 241.1h.5M172.7 234.3h.5M181.8 225.0h.5M161.5 222.4h.5M159.7 242.9h.5M172.0 232.9h.5M162.2 239.0h.5M178.2 231.8h.5M172.6 232.5h.5M173.3 225.1h.5M171.2 228.4h.5M160.0 234.9h.5M160.0 240.1h.5M166.1 237.4h.5M171.0 236.5h.5M181.3 206.7h.5M166.4 226.6h.5M162.8 236.6h.5M165.0 230.9h.5M174.6 230.1h.5M171.2 240.0h.5M170.9 236.3h.5M169.8 239.5h.5M169.8 238.3h.5M172.7 229.8h.5M173.7 237.7h.5M165.1 241.6h.5M165.0 240.8h.5M180.8 222.9h.5M158.8 240.2h.5M160.5 240.0h.5M175.7 232.2h.5M173.9 231.6h.5M172.0 231.0h.5M167.1 243.0h.5M159.0 242.8h.5M172.8 235.2h.5M161.3 239.9h.5M162.4 243.9h.5M171.9 230.1h.5M164.7 240.5h.5M180.7 211.3h.5M178.5 229.7h.5M166.8 237.3h.5M172.4 228.1h.5M166.2 237.6h.5M163.3 238.6h.5M160.4 241.9h.5M180.7 215.5h.5M167.4 236.3h.5M172.2 236.8h.5M179.1 220.4h.5M178.2 227.1h.5M173.4 236.6h.5M174.2 233.7h.5M175.7 224.0h.5M176.7 216.7h.5M167.9 235.8h.5M177.6 223.9h.5M171.5 229.2h.5M175.0 228.4h.5M165.9 236.9h.5M176.3 231.4h.5M167.8 239.7h.5M164.5 225.3h.5M166.2 242.5h.5M178.5 214.6h.5M180.2 228.9h.5M176.7 223.7h.5M179.0 231.0h.5M178.0 228.6h.5M174.6 232.0h.5M176.0 232.9h.5M174.7 233.5h.5M166.5 237.6h.5M176.2 222.9h.5M177.3 218.0h.5M166.7 238.7h.5M174.8 216.1h.5M170.0 235.5h.5M176.3 234.1h.5M167.7 234.9h.5M173.6 232.1h.5M169.5 237.5h.5M181.0 218.6h.5M163.8 224.9h.5M176.6 216.9h.5M170.4 232.7h.5M169.6 236.6h.5M162.1 231.5h.5M169.6 235.9h.5M169.1 233.5h.5M175.7 221.2h.5M176.1 214.7h.5M175.2 238.6h.5M176.8 228.0h.5M177.4 231.3h.5M160.4 243.8h.5M171.3 218.9h.5M166.6 243.6h.5M171.2 241.4h.5M162.2 238.1h.5M170.6 232.8h.5M167.4 238.7h.5M172.7 234.8h.5M165.2 228.2h.5M170.3 231.2h.5M166.8 234.9h.5M182.3 217.4h.5M176.2 230.9h.5M171.2 230.9h.5M164.0 223.3h.5M166.6 240.3h.5M169.3 242.4h.5M175.6 226.5h.5M166.8 241.3h.5M173.4 229.1h.5M177.2 230.4h.5M162.7 234.7h.5M179.4 220.1h.5M169.1 234.6h.5M174.4 229.2h.5M166.9 240.4h.5M168.2 237.9h.5M160.0 243.2h.5M160.3 237.2h.5M166.7 227.7h.5M165.8 236.5h.5M173.4 233.4h.5M169.9 237.9h.5M179.2 220.1h.5M178.1 232.4h.5M173.6 232.6h.5M171.5 232.2h.5M172.4 220.1h.5M176.2 234.9h.5M178.3 229.0h.5M176.2 227.6h.5M176.2 235.7h.5M175.3 235.6h.5M169.3 234.9h.5M173.8 220.8h.5M173.6 231.9h.5M180.4 220.7h.5M170.9 238.6h.5M174.8 233.4h.5M179.0 228.9h.5M178.9 216.6h.5M179.0 232.1h.5M165.2 231.3h.5M177.3 231.7h.5M175.5 236.8h.5M168.7 237.9h.5M167.9 237.6h.5M169.5 237.1h.5M178.3 231.5h.5M174.7 237.1h.5M179.1 230.5h.5M172.2 236.4h.5M170.2 235.3h.5M166.3 231.9h.5M175.4 233.9h.5M176.9 232.1h.5M174.3 229.5h.5M178.7 229.2h.5M168.2 233.3h.5M178.1 227.4h.5M176.0 232.4h.5M180.0 208.0h.5M176.3 235.5h.5M172.4 235.8h.5M174.0 229.7h.5M177.1 234.3h.5M160.2 232.9h.5M172.0 234.7h.5M175.5 228.8h.5M170.0 237.0h.5M164.8 235.7h.5M163.5 239.1h.5M163.9 240.6h.5M169.8 232.9h.5M174.0 236.9h.5M167.0 236.2h.5M179.5 218.8h.5M181.1 206.8h.5M165.4 237.1h.5M165.5 224.5h.5M175.7 225.9h.5M160.3 238.0h.5M174.0 230.1h.5M166.6 239.1h.5M168.3 235.1h.5M174.3 233.5h.5M168.0 238.9h.5M173.2 232.3h.5M159.3 239.3h.5M162.0 238.5h.5M160.9 237.6h.5M176.3 233.3h.5M169.0 239.6h.5M165.1 241.2h.5M166.5 241.1h.5M161.1 239.2h.5M159.8 237.9h.5M169.1 235.2h.5M163.5 238.4h.5M171.4 236.6h.5M173.6 226.7h.5M174.5 232.2h.5M164.5 237.0h.5M171.1 223.9h.5M172.3 238.7h.5M172.5 237.4h.5M160.8 238.7h.5M172.7 233.0h.5M164.0 239.8h.5M177.7 227.7h.5M176.5 229.6h.5M172.0 235.6h.5M171.4 235.2h.5M170.6 235.0h.5M167.0 239.5h.5M171.5 230.9h.5M175.1 230.7h.5M173.0 237.9h.5M169.4 233.5h.5M159.5 238.8h.5M170.0 241.1h.5M174.0 234.3h.5M173.5 238.1h.5M177.5 234.4h.5M171.6 240.4h.5M175.1 222.7h.5M160.0 241.3h.5M177.5 224.1h.5M162.7 244.2h.5M175.9 227.1h.5M161.5 240.0h.5M166.5 239.3h.5M178.7 228.4h.5M167.8 236.5h.5M173.2 239.7h.5M164.0 233.4h.5M182.8 221.0h.5M174.6 235.5h.5M177.6 210.1h.5M164.5 241.4h.5M179.8 226.7h.5M176.3 230.0h.5M179.0 225.6h.5M170.2 233.2h.5M165.2 235.9h.5M177.9 212.4h.5M171.1 234.0h.5M164.4 242.2h.5M169.4 237.7h.5M181.5 230.9h.5M177.4 227.5h.5M175.2 235.4h.5M164.5 239.7h.5M176.4 229.9h.5M182.6 223.3h.5M171.5 239.8h.5M163.2 236.8h.5M168.9 236.6h.5M168.8 241.1h.5M175.1 228.6h.5M175.0 231.5h.5M174.7 229.8h.5M171.9 240.1h.5M177.1 225.8h.5M178.8 226.1h.5M168.5 237.0h.5M162.3 241.2h.5M169.8 234.8h.5M173.6 230.7h.5M173.6 235.0h.5M181.4 207.0h.5M173.8 241.5h.5M179.2 218.9h.5M175.5 230.3h.5M173.4 228.2h.5M172.6 232.8h.5M175.2 230.0h.5M162.7 237.5h.5M173.4 222.4h.5M172.3 237.6h.5M168.2 238.4h.5M169.6 238.1h.5M174.5 237.4h.5M176.2 233.5h.5M176.7 234.5h.5M172.8 232.4h.5M178.7 219.7h.5M176.3 230.2h.5M174.8 229.9h.5M175.4 231.9h.5M173.5 233.6h.5M161.4 241.9h.5M173.7 236.0h.5M180.6 223.0h.5M176.6 228.3h.5M169.7 237.9h.5M181.4 221.3h.5M168.0 240.2h.5M174.9 240.2h.5M171.0 233.0h.5M177.1 227.5h.5M171.0 238.9h.5M166.5 233.1h.5M176.0 236.3h.5M170.5 234.9h.5M173.0 230.6h.5M168.3 228.6h.5M177.3 233.2h.5M173.3 234.4h.5M171.5 241.4h.5M168.7 239.5h.5M162.2 242.8h.5M161.6 242.5h.5M171.6 235.2h.5M180.7 223.2h.5M171.4 227.6h.5M175.4 224.1h.5M173.7 232.3h.5M171.9 227.9h.5M175.2 227.0h.5M176.1 229.1h.5M163.0 238.3h.5M166.9 238.2h.5M171.1 232.1h.5M173.3 230.3h.5M168.7 235.2h.5M175.0 241.6h.5M171.5 236.8h.5M176.3 224.0h.5M163.9 237.1h.5M161.9 240.6h.5M170.6 232.8h.5M181.0 208.9h.5M177.3 226.4h.5M177.6 226.0h.5M163.4 237.8h.5M177.6 225.9h.5M170.3 237.2h.5M174.8 229.1h.5M173.9 234.6h.5M166.0 223.2h.5M171.8 232.9h.5M175.9 229.7h.5M167.7 237.4h.5M169.4 238.1h.5M174.8 229.8h.5M164.7 240.5h.5M176.1 230.1h.5M175.1 234.4h.5M174.0 233.8h.5M164.3 237.8h.5M169.1 241.3h.5M158.8 239.3h.5M174.5 231.6h.5M176.7 224.0h.5M171.3 235.6h.5M174.8 226.0h.5M167.1 238.3h.5M179.2 234.5h.5M159.7 239.9h.5M165.2 241.2h.5M179.7 218.9h.5M172.5 236.1h.5M169.3 232.5h.5M175.2 237.1h.5M180.5 222.7h.5M166.4 242.9h.5M161.4 242.9h.5M178.7 229.0h.5M180.5 227.5h.5M173.3 238.3h.5M166.8 243.1h.5M165.3 240.0h.5M177.6 221.0h.5M177.9 235.2h.5M164.7 239.4h.5M170.6 232.4h.5M182.4 209.9h.5M176.7 230.8h.5M177.0 227.4h.5M179.8 231.0h.5M164.0 241.6h.5M178.6 230.7h.5M177.3 228.5h.5M170.7 233.9h.5M173.7 229.5h.5M170.2 236.9h.5M166.2 236.6h.5M178.9 229.7h.5M164.7 237.8h.5M177.6 226.6h.5M171.9 235.3h.5M176.3 231.7h.5M160.0 237.9h.5M175.1 232.3h.5M182.2 206.3h.5M165.9 236.0h.5M178.1 225.5h.5M172.0 231.9h.5M174.6 229.8h.5M173.2 233.9h.5M170.6 234.6h.5M161.6 239.8h.5M175.6 234.5h.5M161.8 235.4h.5M176.8 229.2h.5M172.5 241.6h.5M171.4 229.1h.5M172.5 233.9h.5M183.2 237.0h.5M167.7 238.3h.5M172.0 236.1h.5M180.2 214.6h.5M172.4 233.1h.5M183.0 218.3h.5M166.3 234.6h.5M175.0 229.8h.5M170.7 239.3h.5M163.4 238.1h.5M171.8 234.1h.5M178.5 227.7h.5M169.7 237.6h.5M168.3 238.9h.5M169.9 237.8h.5M179.8 225.1h.5M172.2 233.4h.5M171.0 238.1h.5M159.0 238.7h.5M176.6 234.8h.5M177.8 232.2h.5M167.6 237.9h.5M177.0 232.8h.5M172.8 235.9h.5M173.1 233.7h.5M173.1 232.4h.5M178.5 227.7h.5M161.9 243.7h.5M164.0 239.7h.5M160.9 239.4h.5M162.8 238.1h.5M165.0 233.1h.5M182.0 212.1h.5M181.5 215.0h.5M159.7 237.9h.5M173.1 233.5h.5M170.8 239.6h.5M160.8 239.5h.5M165.4 239.6h.5M169.1 231.5h.5M174.1 234.4h.5M177.3 221.8h.5M170.8 234.0h.5M166.7 240.4h.5M176.7 230.7h.5M168.9 219.8h.5M172.8 234.4h.5M161.4 240.2h.5M158.9 237.4h.5M178.8 222.8h.5M172.2 235.6h.5M168.4 233.8h.5M173.5 228.6h.5M176.7 234.6h.5M170.0 234.2h.5M179.1 224.8h.5M180.8 218.3h.5M165.8 238.5h.5M183.0 211.8h.5M170.1 239.0h.5M164.5 238.1h.5M175.7 235.0h.5M159.3 242.3h.5M164.6 239.0h.5M172.5 236.6h.5M174.7 234.2h.5M163.7 240.6h.5M161.9 239.1h.5M167.3 241.1h.5M175.2 226.1h.5M181.0 228.2h.5M171.3 237.3h.5M162.0 239.2h.5M179.1 231.5h.5M168.5 238.7h.5M176.8 223.1h.5M175.1 225.4h.5M173.2 237.1h.5M178.1 219.9h.5M176.3 212.0h.5M174.9 231.4h.5M178.5 221.6h.5M176.5 222.4h.5M161.7 237.4h.5M170.0 234.3h.5M171.8 231.4h.5M181.6 211.6h.5M176.6 226.3h.5M160.5 238.8h.5M163.8 236.6h.5M175.1 229.5h.5M160.6 242.9h.5M178.0 222.0h.5M180.0 226.6h.5M163.0 239.0h.5M166.3 230.6h.5M179.8 222.9h.5M174.8 233.5h.5M167.5 240.3h.5M169.4 236.8h.5M176.7 227.4h.5M161.5 239.3h.5M172.0 232.8h.5M180.7 210.2h.5M173.9 228.4h.5M174.6 227.2h.5M165.4 233.2h.5M164.4 239.1h.5M173.6 222.7h.5M170.2 236.6h.5M171.0 239.0h.5M171.2 239.1h.5M169.1 238.4h.5M169.4 240.0h.5M176.1 230.9h.5M168.1 240.0h.5M169.5 232.0h.5M159.1 237.9h.5M171.2 235.1h.5M173.2 229.3h.5M179.4 216.7h.5M173.5 235.1h.5M170.8 236.4h.5M160.6 238.7h.5M168.5 240.1h.5M172.9 237.7h.5M169.9 231.7h.5M173.4 232.4h.5M177.7 229.5h.5M176.1 228.5h.5M170.4 237.3h.5M174.6 231.3h.5M173.6 233.7h.5M172.5 211.9h.5M161.9 238.1h.5M169.2 236.3h.5M172.8 234.4h.5M175.6 231.8h.5M167.2 237.2h.5M177.6 229.6h.5M172.9 231.7h.5M176.6 236.6h.5M170.1 230.5h.5M178.9 212.6h.5M162.6 237.8h.5M178.0 223.4h.5M173.9 231.0h.5M178.3 217.4h.5M177.8 227.4h.5M178.3 215.3h.5M180.6 212.5h.5M177.6 228.3h.5M173.5 231.5h.5M175.3 217.1h.5M171.3 240.0h.5M175.1 231.8h.5M164.4 241.6h.5M167.8 231.2h.5M177.5 225.5h.5M177.3 229.6h.5M172.2 236.0h.5M163.5 241.1h.5M169.8 234.7h.5M160.7 240.4h.5M171.4 235.3h.5M160.3 232.3h.5M179.0 230.4h.5M179.2 213.2h.5M165.1 237.3h.5M178.3 229.0h.5M177.9 235.4h.5M166.2 240.5h.5M169.7 235.5h.5M163.8 240.6h.5M167.1 231.5h.5M170.3 241.2h.5M169.5 238.9h.5M167.0 233.5h.5M174.2 222.2h.5M177.8 229.1h.5M160.4 237.5h.5M174.5 235.3h.5M176.8 225.4h.5M176.5 227.1h.5M169.8 238.0h.5M177.3 225.4h.5M162.8 237.4h.5M163.4 237.6h.5M175.0 230.9h.5M174.4 234.9h.5M165.8 237.2h.5M179.2 212.9h.5M173.7 238.3h.5M165.6 238.1h.5M168.2 231.7h.5M161.6 240.0h.5M160.5 240.0h.5M159.9 236.8h.5M165.9 236.0h.5M178.8 226.8h.5M181.2 215.5h.5M161.7 239.0h.5M173.3 230.9h.5M178.5 231.1h.5M165.7 234.0h.5M165.3 238.4h.5M178.9 225.7h.5M180.4 208.4h.5M178.7 222.8h.5M170.4 225.7h.5M176.0 222.7h.5M161.8 240.1h.5M176.3 222.6h.5M172.5 227.7h.5M172.8 233.3h.5M166.7 236.9h.5M173.3 236.6h.5M166.1 239.4h.5M160.5 242.3h.5M166.4 236.5h.5M159.9 237.5h.5M178.8 220.6h.5M170.2 224.9h.5M180.5 213.6h.5M173.3 232.6h.5M180.0 222.8h.5M171.1 232.0h.5M168.4 236.5h.5M174.4 231.4h.5M170.5 242.1h.5M169.1 235.9h.5M179.8 209.2h.5M168.7 238.1h.5M174.9 229.4h.5M179.7 203.7h.5M182.2 223.9h.5M172.5 235.7h.5M178.1 224.1h.5M175.4 236.3h.5M169.1 233.7h.5M166.4 236.5h.5M173.2 234.2h.5M173.9 225.5h.5M175.5 233.9h.5M170.3 229.7h.5M165.7 238.0h.5M169.2 236.8h.5M160.5 238.5h.5M171.9 231.0h.5M169.4 233.3h.5M172.2 227.7h.5M163.3 242.4h.5M170.0 233.3h.5M175.9 229.3h.5M172.4 219.0h.5M176.2 225.8h.5M163.7 239.6h.5M173.3 232.1h.5M173.3 231.4h.5M160.0 239.5h.5M178.4 219.2h.5M180.8 223.2h.5M174.2 230.7h.5M178.3 231.6h.5M180.2 210.6h.5M178.1 222.7h.5M159.8 238.6h.5M169.9 241.7h.5M180.2 227.5h.5M165.4 237.0h.5M161.4 239.2h.5M165.4 241.5h.5M177.2 225.0h.5M163.6 231.0h.5M176.3 228.3h.5M161.8 239.4h.5M179.9 215.9h.5M182.3 205.5h.5M173.3 234.9h.5M175.5 227.9h.5M164.2 240.4h.5M162.5 225.3h.5M171.7 239.1h.5M172.9 234.1h.5M175.3 231.6h.5M170.0 234.7h.5M174.5 229.8h.5M173.2 234.3h.5M166.3 229.5h.5M185.1 206.1h.5M168.4 239.1h.5M179.2 228.4h.5M169.9 233.8h.5M172.2 237.1h.5M169.3 236.2h.5M175.5 211.3h.5M163.5 240.0h.5M178.3 238.8h.5M181.1 211.9h.5M182.7 213.0h.5M182.3 226.7h.5M174.5 230.0h.5M171.4 226.5h.5M168.3 238.2h.5M178.3 216.3h.5M165.2 239.5h.5M176.3 230.9h.5M173.2 234.4h.5M159.6 226.1h.5M172.2 231.9h.5M174.1 231.6h.5M174.0 229.0h.5M173.6 234.3h.5M160.6 240.8h.5M175.2 230.6h.5M161.7 240.3h.5M166.0 236.1h.5M178.6 236.6h.5M169.2 234.9h.5M162.0 242.7h.5M164.8 234.8h.5M182.7 212.3h.5M170.0 241.6h.5M180.0 221.5h.5M161.7 241.2h.5M177.1 228.3h.5M172.7 234.3h.5M174.5 226.9h.5M170.9 235.0h.5M164.0 236.1h.5M177.4 230.6h.5M168.6 233.1h.5M171.4 231.3h.5M164.4 238.8h.5M167.1 214.8h.5M180.2 215.0h.5M161.6 239.2h.5M159.8 240.5h.5M177.4 220.7h.5M173.8 225.7h.5M177.1 233.5h.5M182.7 210.9h.5M161.0 214.7h.5M174.9 231.3h.5M174.7 234.9h.5M162.2 237.5h.5M171.8 236.0h.5M173.3 235.1h.5M174.3 234.3h.5M171.4 231.0h.5M178.9 226.1h.5M160.2 240.2h.5M161.1 239.9h.5M161.2 237.5h.5M165.5 236.8h.5M175.0 228.9h.5M181.4 207.9h.5M159.0 235.1h.5M166.4 237.9h.5M171.7 229.4h.5M183.1 206.4h.5M160.2 236.6h.5M173.4 236.2h.5M181.0 222.9h.5M167.7 236.6h.5M150.5 212.7h.5M167.2 242.5h.5M175.8 230.8h.5M160.7 237.8h.5M164.0 243.4h.5M175.1 237.6h.5M165.1 234.8h.5M181.9 204.8h.5M178.1 225.2h.5M176.2 219.0h.5M175.2 235.2h.5M173.0 230.3h.5M172.4 224.4h.5M162.1 237.4h.5M176.4 225.4h.5M159.6 235.2h.5M173.1 235.1h.5M167.5 225.5h.5M175.8 221.6h.5M174.2 236.4h.5M176.6 228.9h.5M178.2 231.3h.5M176.8 232.0h.5M185.2 205.3h.5M167.7 243.8h.5M161.0 237.7h.5M177.2 229.0h.5M166.7 242.6h.5M178.9 225.4h.5M171.2 232.7h.5M179.5 213.6h.5M178.3 211.5h.5M174.8 229.2h.5M180.7 223.3h.5M173.6 225.5h.5M162.7 238.7h.5M160.0 239.4h.5M168.1 225.6h.5M175.9 236.1h.5M164.9 242.9h.5M172.2 233.2h.5M162.2 237.1h.5M173.0 236.7h.5M175.8 222.7h.5M166.5 239.8h.5M161.4 236.0h.5M159.4 236.1h.5M179.4 216.6h.5M173.0 231.8h.5M174.0 229.7h.5M168.7 227.7h.5M161.7 239.4h.5M180.1 230.9h.5M168.7 238.7h.5M169.1 236.8h.5M175.7 227.0h.5M166.8 241.1h.5M173.8 224.7h.5M166.3 238.7h.5M171.2 237.1h.5M165.2 239.9h.5M163.3 238.1h.5M161.3 242.6h.5M165.6 223.5h.5M161.5 241.3h.5M174.4 232.6h.5M178.9 226.1h.5M173.1 236.5h.5M174.2 223.3h.5M159.4 236.2h.5M180.6 224.7h.5M170.4 233.5h.5M180.9 230.3h.5M176.1 219.7h.5M164.8 237.9h.5M175.9 223.9h.5M178.2 219.8h.5M175.1 232.1h.5M181.3 212.6h.5M180.6 204.6h.5M174.3 227.5h.5M177.4 223.0h.5M176.7 230.9h.5M174.4 234.1h.5M172.4 225.9h.5M169.8 238.5h.5M179.4 219.6h.5M169.3 238.4h.5M164.7 238.5h.5M174.2 233.8h.5M178.9 222.1h.5M171.7 230.2h.5M180.4 223.9h.5M177.1 225.2h.5M170.1 217.8h.5M179.3 217.7h.5M160.6 238.6h.5M176.6 230.8h.5M177.2 223.9h.5M175.3 219.1h.5M159.1 238.1h.5M176.0 234.1h.5M173.6 230.5h.5M168.9 236.9h.5M165.0 240.3h.5M176.4 231.1h.5M168.5 237.6h.5M166.6 234.4h.5M164.4 239.6h.5M176.6 234.8h.5M170.0 233.1h.5M176.1 225.4h.5M171.7 236.2h.5M161.8 240.9h.5M172.7 236.8h.5M175.2 227.3h.5M165.1 243.5h.5M182.7 208.5h.5M180.0 222.9h.5M172.9 232.4h.5M177.3 225.7h.5M168.9 239.1h.5M173.3 236.1h.5M160.6 238.7h.5M165.2 240.8h.5M172.4 233.6h.5M181.9 213.8h.5M176.0 225.8h.5M180.0 217.7h.5M174.7 240.9h.5M173.5 232.2h.5M178.7 227.6h.5M180.0 229.0h.5M179.5 226.2h.5M157.6 213.8h.5M175.7 226.3h.5M164.0 239.3h.5M165.6 239.1h.5M181.6 214.7h.5M176.4 213.8h.5M176.4 227.0h.5M162.1 238.0h.5M178.3 226.1h.5M172.5 233.9h.5M175.6 226.1h.5M171.0 232.8h.5M174.0 234.6h.5M174.0 231.6h.5M169.0 240.3h.5M178.4 225.0h.5M162.2 237.1h.5M171.9 237.1h.5M164.2 239.1h.5M179.6 224.0h.5M168.8 238.0h.5M173.2 229.4h.5M168.9 234.5h.5M173.0 233.4h.5M175.5 231.8h.5M175.4 235.1h.5M170.2 226.1h.5M177.0 228.1h.5M160.8 244.1h.5M174.6 232.4h.5M177.0 227.8h.5M178.0 216.7h.5M171.6 236.3h.5M171.1 226.0h.5M165.6 234.1h.5M176.3 229.0h.5M173.3 231.9h.5M176.2 230.7h.5M176.8 223.0h.5M174.4 229.4h.5M177.5 228.7h.5M182.4 214.9h.5M162.9 242.2h.5M175.7 238.0h.5M167.8 233.7h.5M160.7 237.7h.5M181.3 210.6h.5M166.0 232.4h.5M179.7 229.9h.5M170.2 233.1h.5M170.8 237.8h.5M160.2 238.1h.5M169.7 241.0h.5M164.7 243.7h.5M182.2 226.0h.5M162.7 236.9h.5M176.1 220.3h.5M167.7 238.7h.5M181.1 233.3h.5M179.1 221.5h.5M160.2 243.1h.5M171.1 229.6h.5M170.4 238.7h.5M160.0 239.4h.5M171.0 230.1h.5M169.6 228.0h.5M173.2 232.5h.5M177.1 230.2h.5M170.2 237.0h.5M170.0 234.9h.5M173.7 236.4h.5M162.2 237.9h.5M178.5 220.3h.5M178.3 237.0h.5M168.6 238.2h.5M168.4 239.1h.5M167.6 239.9h.5M158.8 237.6h.5M164.3 236.3h.5M163.7 234.1h.5M166.5 221.6h.5M179.7 219.0h.5M172.4 237.5h.5M173.4 232.4h.5M176.0 227.4h.5M161.9 242.6h.5M172.6 236.8h.5M166.8 239.0h.5M169.0 233.5h.5M172.5 233.1h.5M167.6 240.1h.5M170.2 225.4h.5M159.8 239.9h.5M170.3 237.6h.5M179.8 226.1h.5M175.7 228.2h.5M176.3 229.5h.5M176.6 235.3h.5M171.0 233.3h.5M172.0 241.0h.5M173.6 237.9h.5M167.0 234.7h.5M165.3 234.7h.5M168.7 240.5h.5M178.6 222.8h.5M174.7 212.2h.5M161.6 239.2h.5M177.7 231.2h.5M169.8 237.6h.5M180.2 226.6h.5M167.3 238.8h.5M164.8 238.2h.5M176.4 225.2h.5M162.6 240.0h.5M172.2 235.0h.5M167.0 241.7h.5M167.9 237.4h.5M167.3 243.3h.5M163.5 238.6h.5M178.4 224.1h.5M177.7 222.9h.5M167.8 236.8h.5M171.4 237.9h.5M172.8 232.7h.5M179.8 218.7h.5M164.5 235.2h.5M174.1 228.9h.5M173.0 222.5h.5M162.2 241.0h.5M166.1 240.4h.5M159.4 221.2h.5M175.1 230.9h.5M171.7 241.8h.5M174.5 229.1h.5M168.1 239.4h.5M159.5 235.6h.5M174.2 218.1h.5M174.6 227.8h.5M164.5 233.4h.5M168.6 233.1h.5M159.6 220.4h.5M162.3 239.2h.5M169.6 233.0h.5M176.1 229.2h.5M177.3 227.8h.5M168.0 237.1h.5M160.3 239.1h.5M177.0 229.8h.5M177.4 223.1h.5M172.1 234.4h.5M162.2 236.2h.5M168.0 230.9h.5M180.2 230.9h.5M174.6 232.4h.5M173.8 211.6h.5M169.3 235.5h.5M169.0 240.6h.5M172.7 237.7h.5M174.0 234.1h.5M166.9 225.1h.5M162.6 237.1h.5M170.6 235.8h.5M178.3 226.1h.5M163.1 237.0h.5M167.9 228.4h.5M163.3 238.7h.5M172.9 234.4h.5M174.1 233.1h.5M167.5 239.5h.5M169.6 230.6h.5M179.5 235.9h.5M169.9 239.2h.5M174.3 232.9h.5M178.2 226.1h.5M177.5 234.4h.5M176.7 226.4h.5M163.0 241.5h.5M174.8 225.5h.5M178.2 237.1h.5M176.5 226.5h.5M173.6 235.1h.5M164.5 242.7h.5M172.7 233.2h.5M172.8 232.0h.5M164.1 225.0h.5M173.9 231.2h.5M170.8 210.2h.5M174.4 234.3h.5M173.2 231.1h.5M172.7 229.2h.5M178.0 227.6h.5M177.4 229.0h.5M169.3 234.5h.5M181.2 216.8h.5M173.8 232.6h.5M172.0 234.9h.5M182.3 214.8h.5M159.7 236.5h.5M165.7 237.8h.5M176.3 227.9h.5M176.8 238.3h.5M171.8 234.3h.5M179.5 225.7h.5M168.8 237.6h.5M181.6 221.3h.5M178.8 232.3h.5M164.8 239.6h.5M162.2 241.5h.5M174.0 235.7h.5M167.8 238.2h.5M166.6 235.4h.5M176.1 238.9h.5M172.8 225.2h.5M168.9 236.7h.5M171.7 230.7h.5M178.6 228.2h.5M163.7 236.2h.5M176.0 231.3h.5M169.6 235.3h.5M176.7 232.6h.5M177.3 233.1h.5M169.0 236.5h.5M173.2 235.7h.5M170.9 234.4h.5M168.0 237.6h.5M178.4 217.7h.5M176.9 233.3h.5M175.6 231.8h.5M172.4 235.8h.5M178.4 222.8h.5M176.5 229.9h.5M169.3 241.0h.5M180.1 211.2h.5M168.0 238.5h.5M178.1 232.9h.5M167.7 236.6h.5M172.8 235.3h.5M165.9 241.5h.5M175.4 222.2h.5M175.2 231.2h.5M170.8 236.7h.5M169.6 235.3h.5M171.2 235.0h.5M165.3 239.0h.5M168.3 232.8h.5M170.7 238.8h.5M171.1 235.4h.5M163.6 239.5h.5M166.0 239.2h.5M175.6 234.0h.5M178.0 227.6h.5M175.6 230.5h.5M171.7 239.7h.5M175.6 227.3h.5M167.7 232.3h.5M176.3 229.6h.5M175.6 233.6h.5M159.5 238.3h.5M169.4 236.2h.5M182.6 229.7h.5M175.5 228.4h.5M173.1 231.4h.5M155.2 211.5h.5M180.5 217.4h.5M175.6 220.6h.5M171.6 234.9h.5M166.2 241.8h.5M168.9 231.9h.5M172.6 228.2h.5M162.6 229.6h.5M163.5 240.3h.5M170.3 237.1h.5M173.5 236.4h.5M167.3 233.9h.5M179.9 220.9h.5M170.9 238.9h.5M173.0 232.2h.5M175.0 228.3h.5M158.1 237.9h.5M178.4 228.8h.5M171.4 212.4h.5M174.1 234.7h.5M164.8 239.0h.5M172.7 239.1h.5M177.2 227.6h.5M175.8 241.5h.5M173.6 233.0h.5M175.9 227.0h.5M177.2 235.5h.5M173.5 238.1h.5M173.2 241.0h.5M174.0 232.1h.5M178.1 232.6h.5M176.5 228.6h.5M158.9 239.1h.5M177.6 231.9h.5M176.4 223.0h.5M176.7 227.4h.5M181.5 211.2h.5M163.1 237.2h.5M165.4 238.1h.5M174.1 228.9h.5M173.2 227.1h.5M176.2 221.3h.5M179.3 230.7h.5M175.4 234.7h.5M178.9 221.3h.5M174.7 234.3h.5M176.3 229.7h.5M168.2 226.1h.5M159.0 239.2h.5M178.3 230.6h.5M174.6 226.2h.5M174.7 233.7h.5M174.3 236.7h.5M177.4 231.6h.5M174.3 231.1h.5M178.0 229.7h.5M167.8 239.6h.5M164.9 234.7h.5M179.5 214.0h.5M174.7 234.1h.5M176.7 232.2h.5M177.9 217.3h.5M165.6 235.4h.5M174.0 234.1h.5M163.7 240.5h.5M163.2 240.4h.5M163.5 230.3h.5M172.3 232.2h.5M182.5 212.8h.5M169.7 231.1h.5M161.2 238.8h.5M169.7 227.7h.5M170.7 239.4h.5M171.8 212.2h.5M175.4 221.3h.5M167.3 235.5h.5M177.6 230.4h.5M164.1 237.3h.5M169.9 235.5h.5M168.0 238.5h.5M177.1 232.0h.5M159.7 242.1h.5M169.6 232.7h.5M172.3 231.8h.5M167.9 241.9h.5M162.3 239.8h.5M184.8 226.6h.5M175.7 235.1h.5M170.1 234.6h.5M177.3 223.5h.5M183.4 217.3h.5M178.5 223.0h.5M171.8 234.6h.5M158.1 231.1h.5M175.8 230.7h.5M175.4 229.7h.5M170.7 225.8h.5M168.8 238.5h.5M175.2 229.4h.5M159.8 240.2h.5M173.7 216.1h.5M175.6 235.8h.5M160.5 237.7h.5M176.5 218.4h.5M169.0 238.5h.5M165.2 234.6h.5M174.6 226.7h.5M172.4 234.4h.5M162.5 235.0h.5M168.8 239.4h.5M174.7 229.6h.5M179.4 230.1h.5M164.6 240.4h.5M184.8 212.6h.5M170.0 235.9h.5M165.4 237.4h.5M162.4 236.2h.5M180.3 213.8h.5M181.2 230.1h.5M171.1 238.5h.5M171.3 233.6h.5M174.1 233.9h.5M167.3 240.8h.5M168.5 236.1h.5M176.3 224.5h.5M172.6 237.7h.5M165.4 239.7h.5M163.2 236.0h.5M171.0 236.7h.5M173.4 229.9h.5M176.3 229.8h.5M176.2 223.8h.5M174.9 227.4h.5M175.9 228.3h.5M180.6 218.3h.5M174.6 231.4h.5M178.6 230.5h.5M170.4 238.9h.5M175.9 238.5h.5M159.1 236.5h.5M175.7 227.5h.5M173.2 223.4h.5M171.4 237.1h.5M180.5 204.6h.5M177.6 223.3h.5M176.5 228.0h.5M176.6 234.8h.5M167.5 226.5h.5M166.2 241.6h.5M162.4 239.9h.5M172.4 229.4h.5M161.8 238.9h.5M174.0 229.6h.5M176.6 231.9h.5M173.8 236.8h.5M175.4 218.6h.5M159.0 238.2h.5M175.5 222.8h.5M158.7 235.2h.5M176.0 230.1h.5M173.2 233.5h.5M176.2 227.3h.5M173.1 227.5h.5M174.9 236.3h.5M177.7 228.7h.5M171.1 230.4h.5M159.3 242.0h.5M174.8 225.6h.5M164.5 240.8h.5M163.6 238.9h.5M171.1 237.1h.5M169.2 236.1h.5M167.9 238.3h.5M165.7 238.6h.5M178.6 220.0h.5M166.9 239.2h.5M181.5 224.5h.5M171.6 234.1h.5M164.7 239.6h.5M171.0 242.0h.5M172.9 235.7h.5M174.3 229.3h.5M167.6 239.1h.5M175.1 230.0h.5M175.0 234.2h.5M178.5 235.3h.5M173.6 226.5h.5M163.6 237.7h.5M172.4 232.7h.5M171.5 236.9h.5M180.5 232.8h.5M176.5 230.9h.5M178.5 218.1h.5M181.0 225.5h.5M173.5 233.5h.5M181.0 207.7h.5M170.3 239.6h.5M181.7 223.8h.5M178.5 231.7h.5M169.3 226.5h.5M178.5 225.8h.5M164.9 237.5h.5M169.2 217.3h.5M163.5 241.3h.5M173.5 230.9h.5M172.0 229.0h.5M179.6 206.7h.5M160.3 232.9h.5M162.3 239.7h.5M174.1 222.3h.5M167.7 236.2h.5M157.3 211.3h.5M170.5 240.2h.5M174.7 227.2h.5M162.2 236.7h.5M166.1 239.3h.5M171.6 234.6h.5M174.1 232.2h.5M179.9 225.2h.5M177.9 217.3h.5M161.7 239.9h.5M175.8 229.1h.5M181.6 220.5h.5M174.8 229.2h.5M178.1 219.3h.5M170.3 234.4h.5M165.4 238.0h.5M170.2 235.5h.5M164.6 239.5h.5M166.4 238.4h.5M168.9 237.9h.5M171.0 236.6h.5M175.1 231.7h.5M178.1 231.1h.5M177.2 224.0h.5M177.8 214.9h.5M175.9 226.3h.5M179.5 223.6h.5M167.7 238.6h.5M177.0 233.3h.5M174.4 234.9h.5M172.6 239.5h.5M170.8 231.2h.5M175.6 219.8h.5M167.0 237.4h.5M171.9 234.8h.5M160.7 238.3h.5M176.7 229.4h.5M167.4 239.0h.5M178.8 225.0h.5M165.8 239.0h.5M175.0 231.8h.5M177.5 234.1h.5M173.3 234.3h.5M176.9 224.1h.5M179.3 203.6h.5M174.0 233.7h.5M166.8 235.8h.5M168.8 234.5h.5M171.1 238.3h.5M165.8 236.1h.5M177.2 228.4h.5M168.4 234.2h.5M166.7 240.3h.5M177.6 224.6h.5M165.9 241.0h.5M163.8 241.8h.5M172.0 227.6h.5M176.4 233.5h.5M173.3 243.4h.5M174.5 221.9h.5M178.2 216.8h.5M173.9 233.1h.5M164.5 235.7h.5M164.4 242.4h.5M169.7 238.5h.5M170.3 237.5h.5M181.3 225.8h.5M166.7 239.4h.5M167.2 233.6h.5M174.8 230.3h.5M178.8 218.2h.5M177.4 221.3h.5M163.9 243.3h.5M177.8 225.1h.5M173.9 232.9h.5M176.3 233.7h.5M165.5 238.5h.5M160.6 239.6h.5M179.3 221.7h.5M176.8 227.2h.5M175.4 227.7h.5M177.6 226.0h.5M159.9 234.4h.5M175.6 231.3h.5M177.9 221.0h.5M177.0 221.4h.5M170.0 236.5h.5M163.8 240.2h.5M180.1 217.6h.5M165.3 239.4h.5M176.2 224.3h.5M168.2 234.6h.5M168.0 234.7h.5M170.8 237.5h.5M178.9 211.5h.5M164.8 239.7h.5M181.2 221.4h.5M174.1 226.3h.5M180.6 222.9h.5M172.9 235.6h.5M167.2 236.5h.5M171.9 237.3h.5M167.7 213.2h.5M166.3 239.5h.5M175.7 230.4h.5M176.3 223.1h.5M178.1 226.0h.5M173.8 233.7h.5M174.5 228.0h.5M167.6 240.6h.5M162.3 240.2h.5M175.3 217.7h.5M172.7 234.0h.5M175.8 228.6h.5M178.8 224.6h.5M167.0 241.8h.5M173.4 236.1h.5M180.8 211.2h.5M167.2 229.9h.5M163.3 242.5h.5M172.9 236.1h.5M169.9 234.9h.5M173.6 232.2h.5M168.4 234.2h.5M158.7 242.5h.5M171.4 233.1h.5M173.3 231.5h.5M167.8 236.6h.5M167.1 242.2h.5M176.2 227.8h.5M179.8 225.9h.5M179.3 219.9h.5M178.1 227.4h.5M177.6 218.9h.5M169.2 234.1h.5M165.7 232.6h.5M173.2 227.5h.5M178.0 228.4h.5M176.2 231.5h.5M172.9 232.0h.5M178.1 224.3h.5M180.2 203.8h.5M163.5 242.4h.5M164.8 239.0h.5M161.6 232.7h.5M169.9 237.6h.5M174.8 232.5h.5M167.8 238.6h.5M161.3 233.9h.5M169.7 240.0h.5M177.4 234.3h.5M165.9 239.3h.5M159.0 235.3h.5M162.9 238.6h.5M180.5 223.9h.5M176.7 226.8h.5M165.5 242.5h.5M164.7 241.4h.5M181.4 231.0h.5M164.2 236.2h.5M167.8 240.3h.5M172.0 236.4h.5M178.0 227.9h.5M168.8 224.0h.5M162.6 237.7h.5M169.3 234.6h.5M173.9 226.7h.5M173.6 228.1h.5M178.0 222.4h.5M175.3 240.6h.5M182.0 208.7h.5M178.7 227.8h.5M165.3 240.6h.5M169.2 238.7h.5M167.5 235.3h.5M180.6 208.1h.5M163.7 240.4h.5M167.3 235.5h.5M177.3 233.8h.5M174.1 238.0h.5M171.9 237.1h.5M170.4 236.9h.5M169.2 238.0h.5M166.7 238.9h.5M165.2 239.0h.5M164.0 243.5h.5M174.4 233.2h.5M167.2 237.3h.5M180.0 231.6h.5M170.9 238.9h.5M181.9 220.1h.5M161.1 240.3h.5M168.3 235.6h.5M164.8 232.6h.5M172.4 235.4h.5M183.5 221.8h.5M163.0 240.6h.5M171.8 238.5h.5M178.5 228.3h.5M181.6 220.8h.5M178.8 234.2h.5M177.9 234.0h.5M163.8 234.3h.5M165.5 240.9h.5M178.2 230.8h.5M161.7 239.6h.5M170.9 230.5h.5M165.0 233.8h.5M174.7 230.8h.5M174.9 213.1h.5M164.1 238.2h.5M169.1 237.7h.5M172.3 237.6h.5M179.1 212.8h.5M163.9 238.4h.5M171.7 223.4h.5M179.1 211.5h.5M171.7 236.8h.5M177.2 229.4h.5M175.1 231.1h.5M179.9 217.0h.5M176.6 231.7h.5M171.1 240.5h.5M166.1 233.6h.5M175.4 233.7h.5M163.4 241.1h.5M178.4 223.9h.5M178.1 233.3h.5M166.6 239.0h.5M172.2 235.6h.5M172.0 235.5h.5M163.8 242.9h.5M170.2 239.7h.5M163.0 234.5h.5M177.2 226.7h.5M165.2 242.4h.5M171.2 227.2h.5M177.1 213.8h.5M179.5 227.2h.5M171.8 238.3h.5M172.8 224.4h.5M163.2 239.1h.5M164.0 237.4h.5M182.7 203.6h.5M169.1 235.4h.5M168.9 238.3h.5M177.3 226.3h.5M178.3 230.6h.5M170.9 233.2h.5M173.2 230.3h.5M180.6 225.8h.5M182.4 232.5h.5M167.0 238.7h.5M170.8 235.1h.5M159.8 243.5h.5M177.0 231.7h.5M162.6 239.3h.5M166.2 225.8h.5M176.7 230.5h.5M171.3 237.2h.5M161.1 238.1h.5M170.5 232.8h.5M173.4 227.7h.5M165.2 233.9h.5M173.0 231.4h.5M175.7 231.4h.5M167.0 235.4h.5M174.1 233.4h.5M158.7 222.8h.5M175.8 234.0h.5M163.5 240.0h.5M168.3 238.3h.5M169.8 237.5h.5M167.1 236.2h.5M176.7 228.4h.5M174.6 231.0h.5M172.8 235.3h.5M180.3 222.6h.5M174.1 230.8h.5M166.1 230.0h.5M161.8 237.0h.5M168.4 236.6h.5M162.5 238.7h.5M173.4 226.7h.5M162.6 237.4h.5M172.2 233.2h.5M170.9 233.6h.5M174.1 230.4h.5M182.7 226.8h.5M176.9 230.8h.5M175.6 230.8h.5M172.3 224.5h.5M177.5 229.6h.5M176.8 230.5h.5M168.3 236.7h.5M176.8 230.0h.5M174.3 230.7h.5M166.4 239.0h.5M165.3 240.8h.5M164.3 241.1h.5M171.2 234.3h.5M175.0 231.3h.5M161.5 243.6h.5M173.5 235.0h.5M174.7 234.0h.5M167.2 239.0h.5M175.2 235.0h.5M161.6 235.5h.5M172.9 233.1h.5M160.9 241.5h.5M167.5 233.8h.5M176.1 234.8h.5M172.4 228.1h.5M182.4 207.9h.5M159.4 239.5h.5M169.0 237.6h.5M173.0 236.6h.5M166.5 235.2h.5M173.3 224.6h.5M167.7 240.7h.5M171.1 238.6h.5M170.9 228.1h.5M173.2 232.7h.5M176.4 231.4h.5M167.6 237.1h.5M171.9 236.6h.5M166.3 235.0h.5M163.6 241.2h.5M175.4 221.2h.5M175.3 225.9h.5M178.9 223.4h.5M171.9 227.5h.5M177.0 223.4h.5M177.9 231.1h.5M172.4 232.4h.5M168.8 237.8h.5M179.3 234.7h.5M165.6 240.8h.5M178.4 214.4h.5M170.2 233.9h.5M178.3 233.2h.5M177.4 231.5h.5M159.4 239.2h.5M175.2 215.0h.5M173.4 233.7h.5M173.8 228.7h.5M163.2 237.6h.5M165.5 239.4h.5M162.5 237.2h.5M177.2 235.4h.5M169.0 237.9h.5M172.4 240.9h.5M180.1 215.7h.5M162.1 243.1h.5M171.1 235.5h.5M180.7 226.1h.5M166.6 240.4h.5M166.2 237.4h.5M169.4 230.3h.5M175.9 224.3h.5M171.6 228.1h.5M175.6 232.8h.5M175.0 236.7h.5M178.9 229.0h.5M163.4 227.1h.5M170.3 236.1h.5M165.2 239.6h.5M168.5 212.3h.5M178.1 225.9h.5M165.4 236.0h.5M160.6 240.5h.5M176.1 235.1h.5M174.6 215.3h.5M175.1 218.6h.5M177.2 231.3h.5M176.4 229.3h.5M166.5 234.0h.5M169.3 238.7h.5M172.1 233.7h.5M174.4 228.3h.5M177.9 225.9h.5M175.2 232.3h.5M160.4 242.5h.5M172.8 233.8h.5M158.2 235.9h.5M172.8 233.0h.5M174.9 232.7h.5M168.4 223.7h.5M181.9 209.6h.5M172.5 227.2h.5M178.1 219.0h.5M165.0 233.0h.5M176.1 229.5h.5M173.7 233.5h.5M165.9 239.1h.5M175.7 227.3h.5M166.3 237.2h.5M177.8 224.2h.5M179.0 227.4h.5M167.8 240.0h.5M168.5 218.5h.5M162.2 238.0h.5M170.2 233.7h.5M175.1 237.8h.5M178.6 228.0h.5M160.2 241.2h.5M176.0 226.7h.5M171.3 232.1h.5M173.3 224.4h.5M173.1 224.3h.5M173.0 239.5h.5M164.7 239.0h.5M164.3 239.4h.5M158.7 239.2h.5M182.4 205.6h.5M164.3 239.8h.5M162.5 238.0h.5M175.9 226.6h.5M178.4 225.7h.5M178.8 223.6h.5M178.2 222.9h.5M181.8 224.3h.5M167.9 233.7h.5M166.7 233.0h.5M173.8 226.6h.5M167.1 235.6h.5M180.3 220.8h.5M175.1 230.5h.5M166.3 232.7h.5M171.7 235.3h.5M177.5 228.1h.5M160.4 241.8h.5M167.6 230.3h.5M174.2 229.1h.5M174.4 231.3h.5M174.6 232.9h.5M164.8 241.4h.5M178.2 224.3h.5M173.9 232.2h.5M177.4 221.6h.5M164.0 239.4h.5M178.1 217.6h.5M182.7 226.5h.5M159.9 239.7h.5M165.2 237.5h.5M175.8 227.7h.5M177.3 222.4h.5M180.5 206.6h.5M172.5 230.0h.5M180.3 226.3h.5M169.9 229.1h.5M175.1 228.6h.5M168.9 239.8h.5M173.0 226.0h.5M164.3 240.0h.5M165.1 238.9h.5M165.5 238.8h.5M164.5 231.2h.5M180.0 221.5h.5M177.3 221.9h.5M174.4 225.6h.5M172.2 228.0h.5M167.7 232.6h.5M165.2 239.6h.5M175.3 220.9h.5M163.6 238.2h.5M179.2 227.2h.5M174.5 228.8h.5M169.8 240.9h.5M164.6 226.8h.5M172.7 229.7h.5M162.4 238.4h.5M176.6 237.4h.5M175.0 231.0h.5M176.5 231.6h.5M171.0 230.3h.5M176.4 232.0h.5M174.1 233.3h.5M181.9 222.9h.5M165.5 239.8h.5M180.1 228.7h.5M173.0 229.0h.5M174.0 236.5h.5M162.3 243.3h.5M161.1 241.8h.5M163.9 236.6h.5M178.5 224.6h.5M162.7 235.5h.5M164.8 240.3h.5M173.1 235.9h.5M175.6 228.6h.5M178.2 225.5h.5M169.9 238.8h.5M162.8 237.6h.5M175.2 226.3h.5M175.8 238.3h.5M165.3 239.7h.5M167.2 229.8h.5M165.5 240.1h.5M175.5 226.9h.5M174.4 228.6h.5M178.0 220.8h.5M179.1 229.7h.5M178.9 231.2h.5M164.7 238.3h.5M176.3 231.0h.5M168.5 237.9h.5M180.4 204.6h.5M176.8 234.0h.5M171.2 234.5h.5M170.9 237.2h.5M171.4 235.7h.5M174.5 229.9h.5M169.2 237.7h.5M173.0 237.7h.5M174.2 233.8h.5M176.5 215.5h.5M171.4 238.2h.5M169.2 238.6h.5M179.1 227.9h.5M177.3 227.0h.5M162.8 227.9h.5M167.5 233.5h.5M175.9 219.1h.5M170.8 231.1h.5M175.1 236.5h.5M170.6 238.0h.5M174.5 226.7h.5M170.8 233.6h.5M169.1 237.4h.5M165.9 240.8h.5M169.5 233.1h.5M169.9 236.3h.5M180.1 218.1h.5M158.6 240.3h.5M168.0 237.8h.5M181.3 225.8h.5M176.3 230.1h.5M170.0 236.6h.5M175.8 226.0h.5M174.5 217.3h.5M172.0 238.8h.5M178.6 225.3h.5M180.0 215.9h.5M171.9 240.2h.5M166.3 238.6h.5M169.0 238.2h.5M168.8 238.1h.5M170.4 237.1h.5M165.9 212.7h.5M176.3 236.0h.5M171.3 229.7h.5M181.1 226.8h.5M169.5 237.2h.5M170.3 235.4h.5M180.5 208.9h.5M173.5 230.0h.5M169.1 239.6h.5M176.2 223.9h.5M161.8 243.2h.5M166.2 235.4h.5M172.1 235.1h.5M162.6 241.0h.5M176.9 228.1h.5M163.5 232.4h.5M166.9 237.2h.5M165.0 241.2h.5M159.8 239.5h.5M172.4 234.2h.5M163.7 238.9h.5M168.5 238.0h.5M174.0 233.5h.5M167.4 240.9h.5M168.2 239.0h.5M177.0 228.7h.5M159.5 243.3h.5M168.9 237.9h.5M174.0 226.1h.5M175.5 238.0h.5M174.7 212.6h.5M170.2 235.1h.5M174.5 230.9h.5M169.8 238.1h.5M166.8 231.9h.5M169.8 229.4h.5M166.8 235.2h.5M162.2 238.1h.5M168.7 236.8h.5M169.6 238.4h.5M168.1 242.1h.5M168.5 234.7h.5M162.8 241.4h.5M169.1 241.0h.5M158.4 240.0h.5M163.6 226.4h.5M169.2 236.1h.5M160.9 238.4h.5M175.5 230.5h.5M172.9 237.5h.5M175.8 230.5h.5M178.7 223.1h.5M170.9 234.3h.5M164.6 239.5h.5M173.2 232.5h.5M175.1 229.2h.5M163.9 242.4h.5M173.6 235.3h.5M172.7 236.9h.5M171.8 234.3h.5M174.7 232.8h.5M172.3 238.6h.5M162.1 241.2h.5M169.0 234.6h.5M174.6 233.5h.5M176.4 228.5h.5M176.0 228.1h.5M168.0 243.6h.5M174.0 234.6h.5M162.9 226.2h.5M177.3 226.1h.5M163.4 238.1h.5M163.5 238.2h.5M172.8 228.4h.5M180.4 213.2h.5M181.2 212.7h.5M178.1 230.9h.5M180.6 215.0h.5M162.1 237.6h.5M171.9 230.1h.5M172.3 237.5h.5M175.1 224.7h.5M175.2 228.6h.5M172.0 235.3h.5M161.0 240.1h.5M163.1 241.9h.5M175.1 228.9h.5M168.2 236.7h.5M173.8 229.4h.5M175.6 235.1h.5M159.3 234.3h.5M178.4 225.6h.5M159.8 239.9h.5M180.6 223.6h.5M175.6 228.4h.5M167.7 239.9h.5M177.8 227.9h.5M177.0 230.3h.5M176.8 226.3h.5M177.8 237.7h.5M171.6 231.1h.5M176.4 228.4h.5M172.3 233.1h.5M170.1 240.6h.5M166.9 241.1h.5M171.2 237.0h.5M166.8 241.4h.5M163.1 240.1h.5M177.2 220.5h.5M160.3 235.5h.5M168.4 227.9h.5M164.4 242.2h.5M177.4 227.7h.5M170.7 233.9h.5M163.5 239.2h.5M166.0 238.2h.5M168.0 240.0h.5M169.7 235.5h.5M162.6 237.0h.5M168.4 235.8h.5M162.3 239.6h.5M160.6 240.1h.5M179.5 218.9h.5M162.6 242.6h.5M176.0 228.7h.5M170.7 236.1h.5M177.3 226.4h.5M164.7 239.4h.5M169.4 235.2h.5M169.2 231.7h.5M178.7 218.4h.5M162.7 235.9h.5M180.9 210.7h.5M161.8 242.6h.5M162.6 240.1h.5M179.3 228.7h.5M170.2 224.0h.5M167.6 236.5h.5M174.1 230.0h.5M173.7 225.9h.5M169.3 235.4h.5M169.4 236.8h.5M180.8 223.0h.5M173.1 231.4h.5M167.8 238.8h.5M171.6 234.5h.5M181.1 215.7h.5M166.2 239.1h.5M167.9 240.0h.5M168.8 242.7h.5M169.5 240.9h.5M176.8 231.7h.5M171.8 234.8h.5M159.4 241.7h.5M165.0 243.6h.5M169.2 232.4h.5M170.6 236.1h.5M168.1 241.2h.5M171.0 236.3h.5M166.1 241.3h.5M176.3 226.8h.5M177.9 229.7h.5M177.8 221.4h.5M164.1 239.7h.5M165.8 239.3h.5M162.6 228.4h.5M170.3 240.6h.5M177.3 213.4h.5M175.8 229.7h.5M179.9 219.8h.5M177.3 229.1h.5M171.8 229.4h.5M170.7 240.8h.5M176.9 235.7h.5M176.5 228.4h.5M182.3 236.2h.5M167.6 238.7h.5M170.9 233.8h.5M175.1 232.5h.5M175.3 234.6h.5M170.6 237.4h.5M178.6 227.4h.5M178.7 226.8h.5M172.7 240.0h.5M176.2 231.7h.5M161.4 242.0h.5M169.9 230.2h.5M176.7 220.9h.5M175.4 235.6h.5M160.3 239.8h.5M172.4 233.8h.5M162.0 238.1h.5M175.9 236.5h.5M173.6 234.5h.5M167.3 227.2h.5M166.4 215.3h.5M176.7 228.9h.5M182.0 215.2h.5M181.1 204.4h.5M177.4 227.1h.5M173.7 232.2h.5M166.0 238.4h.5M172.6 226.0h.5M171.2 232.4h.5M164.7 243.0h.5M171.7 239.9h.5M158.3 241.6h.5M169.5 234.6h.5M176.9 231.5h.5M176.8 230.0h.5M174.1 230.6h.5M169.4 233.7h.5M182.5 220.1h.5M168.1 230.7h.5M171.6 238.5h.5M181.9 224.5h.5M181.6 209.1h.5M179.7 221.2h.5M172.6 228.1h.5M178.6 231.9h.5M171.9 224.4h.5M171.6 235.6h.5M175.9 229.9h.5M172.2 235.3h.5M177.1 231.8h.5M165.5 238.6h.5M182.4 203.1h.5M179.0 230.6h.5M172.2 235.9h.5M168.8 239.3h.5M174.0 229.4h.5M170.4 234.1h.5M177.5 212.3h.5M177.1 225.6h.5M173.6 238.5h.5M171.2 237.6h.5M160.2 235.9h.5M178.9 221.5h.5M172.2 238.4h.5M179.1 224.6h.5M160.8 238.5h.5M171.5 230.7h.5M159.7 241.8h.5M160.6 234.0h.5M171.0 240.8h.5M183.0 208.1h.5M164.7 242.4h.5M178.3 226.1h.5M176.4 227.8h.5M173.0 231.5h.5M160.2 236.8h.5M161.4 236.9h.5M169.7 227.4h.5M177.7 221.9h.5M180.4 215.8h.5M177.8 227.9h.5M165.1 230.5h.5M177.0 238.3h.5M172.4 238.2h.5M168.2 236.8h.5M165.3 240.8h.5M172.9 230.3h.5M175.8 240.7h.5M151.2 202.0h.5M131.0 243.0h.5M171.1 229.3h.5M160.8 243.1h.5M178.5 220.4h.5M168.9 243.5h.5M142.6 243.6h.5M147.2 225.8h.5M143.2 243.2h.5M163.2 216.6h.5M169.7 241.3h.5M129.4 234.0h.5M139.4 210.3h.5M148.9 196.1h.5M161.6 194.6h.5M164.9 236.7h.5M180.7 238.3h.5M187.3 243.6h.5M167.4 241.1h.5M148.9 242.6h.5M175.3 206.7h.5M148.4 243.6h.5M145.0 227.1h.5M168.4 240.6h.5M171.5 198.8h.5M146.0 237.2h.5M171.9 242.0h.5M154.0 220.3h.5M161.7 209.1h.5M177.5 222.1h.5M137.4 232.9h.5M142.1 243.6h.5M137.6 243.6h.5M152.4 221.6h.5" stroke="#000" stroke-width=".5" stroke-opacity=".6" fill="none"/>
<rect x="128.0" y="183.5" width="62.8" height="61.1" fill="none" stroke="#777" stroke-width="0.55"/>
<line x1="158.2" y1="183.5" x2="158.2" y2="244.6" stroke="#666" stroke-width="0.55"/>
<line x1="126.4" y1="243.0" x2="128.0" y2="243.0" stroke="#555" stroke-width="0.5"/>
<text x="125.4" y="244.1" font-size="3.3" text-anchor="end" font-weight="normal" fill="#222" class="t">0</text>
<line x1="126.4" y1="231.78" x2="128.0" y2="231.78" stroke="#555" stroke-width="0.5"/>
<text x="125.4" y="232.88" font-size="3.3" text-anchor="end" font-weight="normal" fill="#222" class="t">50</text>
<line x1="126.4" y1="220.56" x2="128.0" y2="220.56" stroke="#555" stroke-width="0.5"/>
<text x="125.4" y="221.66" font-size="3.3" text-anchor="end" font-weight="normal" fill="#222" class="t">100</text>
<line x1="126.4" y1="209.34" x2="128.0" y2="209.34" stroke="#555" stroke-width="0.5"/>
<text x="125.4" y="210.44" font-size="3.3" text-anchor="end" font-weight="normal" fill="#222" class="t">150</text>
<line x1="126.4" y1="198.12" x2="128.0" y2="198.12" stroke="#555" stroke-width="0.5"/>
<text x="125.4" y="199.22" font-size="3.3" text-anchor="end" font-weight="normal" fill="#222" class="t">200</text>
<line x1="126.4" y1="186.9" x2="128.0" y2="186.9" stroke="#555" stroke-width="0.5"/>
<text x="125.4" y="188.0" font-size="3.3" text-anchor="end" font-weight="normal" fill="#222" class="t">250</text>
<line x1="127.2" y1="243.0" x2="128.0" y2="243.0" stroke="#888" stroke-width="0.3"/>
<line x1="127.2" y1="240.756" x2="128.0" y2="240.756" stroke="#888" stroke-width="0.3"/>
<line x1="127.2" y1="238.512" x2="128.0" y2="238.512" stroke="#888" stroke-width="0.3"/>
<line x1="127.2" y1="236.268" x2="128.0" y2="236.268" stroke="#888" stroke-width="0.3"/>
<line x1="127.2" y1="234.024" x2="128.0" y2="234.024" stroke="#888" stroke-width="0.3"/>
<line x1="127.2" y1="231.78" x2="128.0" y2="231.78" stroke="#888" stroke-width="0.3"/>
<line x1="127.2" y1="229.536" x2="128.0" y2="229.536" stroke="#888" stroke-width="0.3"/>
<line x1="127.2" y1="227.292" x2="128.0" y2="227.292" stroke="#888" stroke-width="0.3"/>
<line x1="127.2" y1="225.048" x2="128.0" y2="225.048" stroke="#888" stroke-width="0.3"/>
<line x1="127.2" y1="222.804" x2="128.0" y2="222.804" stroke="#888" stroke-width="0.3"/>
<line x1="127.2" y1="220.56" x2="128.0" y2="220.56" stroke="#888" stroke-width="0.3"/>
<line x1="127.2" y1="218.316" x2="128.0" y2="218.316" stroke="#888" stroke-width="0.3"/>
<line x1="127.2" y1="216.072" x2="128.0" y2="216.072" stroke="#888" stroke-width="0.3"/>
<line x1="127.2" y1="213.828" x2="128.0" y2="213.828" stroke="#888" stroke-width="0.3"/>
<line x1="127.2" y1="211.584" x2="128.0" y2="211.584" stroke="#888" stroke-width="0.3"/>
<line x1="127.2" y1="209.34" x2="128.0" y2="209.34" stroke="#888" stroke-width="0.3"/>
<line x1="127.2" y1="207.096" x2="128.0" y2="207.096" stroke="#888" stroke-width="0.3"/>
<line x1="127.2" y1="204.852" x2="128.0" y2="204.852" stroke="#888" stroke-width="0.3"/>
<line x1="127.2" y1="202.608" x2="128.0" y2="202.608" stroke="#888" stroke-width="0.3"/>
<line x1="127.2" y1="200.364" x2="128.0" y2="200.364" stroke="#888" stroke-width="0.3"/>
<line x1="127.2" y1="198.12" x2="128.0" y2="198.12" stroke="#888" stroke-width="0.3"/>
<line x1="127.2" y1="195.876" x2="128.0" y2="195.876" stroke="#888" stroke-width="0.3"/>
<line x1="127.2" y1="193.632" x2="128.0" y2="193.632" stroke="#888" stroke-width="0.3"/>
<line x1="127.2" y1="191.388" x2="128.0" y2="191.388" stroke="#888" stroke-width="0.3"/>
<line x1="127.2" y1="189.144" x2="128.0" y2="189.144" stroke="#888" stroke-width="0.3"/>
<line x1="127.2" y1="186.9" x2="128.0" y2="186.9" stroke="#888" stroke-width="0.3"/>
<line x1="133.0" y1="244.6" x2="133.0" y2="246.0" stroke="#666" stroke-width="0.5"/>
<text x="131.8" y="250.0" font-size="3.3" text-anchor="middle" font-weight="normal" fill="#222" class="t">10<tspan font-size="2.2" dy="-1.4">0</tspan></text>
<line x1="147.075" y1="244.6" x2="147.075" y2="246.0" stroke="#666" stroke-width="0.5"/>
<text x="145.88" y="250.0" font-size="3.3" text-anchor="middle" font-weight="normal" fill="#222" class="t">10<tspan font-size="2.2" dy="-1.4">1</tspan></text>
<line x1="161.15" y1="244.6" x2="161.15" y2="246.0" stroke="#666" stroke-width="0.5"/>
<text x="159.95" y="250.0" font-size="3.3" text-anchor="middle" font-weight="normal" fill="#222" class="t">10<tspan font-size="2.2" dy="-1.4">2</tspan></text>
<line x1="175.22500000000002" y1="244.6" x2="175.22500000000002" y2="246.0" stroke="#666" stroke-width="0.5"/>
<text x="174.03" y="250.0" font-size="3.3" text-anchor="middle" font-weight="normal" fill="#222" class="t">10<tspan font-size="2.2" dy="-1.4">3</tspan></text>
<line x1="189.3" y1="244.6" x2="189.3" y2="246.0" stroke="#666" stroke-width="0.5"/>
<text x="188.1" y="250.0" font-size="3.3" text-anchor="middle" font-weight="normal" fill="#222" class="t">10<tspan font-size="2.2" dy="-1.4">4</tspan></text>
<text x="173.0" y="198.8" font-size="5.7" text-anchor="middle" font-weight="normal" fill="#111" class="t">75.5%</text>
<path d="M53.7 320.4h.5M58.4 316.5h.5M59.4 318.9h.5M58.0 318.5h.5M56.1 319.6h.5M58.6 319.8h.5M65.4 319.2h.5M55.1 315.6h.5M55.0 317.8h.5M56.0 319.8h.5M57.9 319.0h.5M67.3 320.5h.5M54.0 319.1h.5M55.8 316.4h.5M67.1 319.8h.5M59.2 318.4h.5M55.2 317.3h.5M58.6 318.1h.5M57.4 318.8h.5M62.2 318.0h.5M54.8 315.1h.5M62.1 317.0h.5M56.5 317.7h.5M58.0 320.4h.5M54.4 318.9h.5M64.9 318.6h.5M60.7 314.8h.5M60.3 319.7h.5M63.6 317.0h.5M56.3 319.1h.5M54.1 320.2h.5M58.7 319.4h.5M56.9 315.8h.5M59.1 319.2h.5M54.3 316.6h.5M60.7 317.2h.5M57.3 317.6h.5M56.3 320.4h.5M61.4 320.0h.5M53.7 317.4h.5M64.7 319.2h.5M53.7 316.3h.5M54.0 319.0h.5M62.8 320.1h.5M56.1 318.4h.5M57.4 320.7h.5M58.7 320.5h.5M59.7 319.6h.5M64.9 319.0h.5M59.1 317.4h.5M55.7 318.4h.5M53.7 318.8h.5M55.5 319.0h.5M54.5 317.7h.5M54.5 317.7h.5M56.3 317.9h.5M54.5 318.6h.5M59.9 319.7h.5M59.8 318.9h.5M57.9 319.0h.5M57.5 320.6h.5M66.5 319.9h.5M60.8 316.9h.5M63.7 318.0h.5M59.5 316.4h.5M59.4 319.5h.5M60.1 319.1h.5M53.9 319.5h.5M54.8 317.0h.5M60.9 319.6h.5M58.2 319.9h.5M58.0 319.9h.5M67.1 320.0h.5M54.0 318.9h.5M54.5 317.4h.5M55.0 318.1h.5M61.8 317.8h.5M55.8 315.4h.5M55.6 311.2h.5M59.1 318.0h.5M59.4 318.6h.5M65.8 318.9h.5M55.4 319.2h.5M55.6 316.1h.5M54.1 317.3h.5M60.2 319.7h.5M63.6 318.7h.5M59.3 319.9h.5M56.3 317.5h.5M61.6 318.4h.5M59.8 317.7h.5M59.0 319.5h.5M57.5 319.5h.5M57.5 317.8h.5M61.2 318.0h.5M61.5 320.1h.5M54.9 320.1h.5M56.6 319.8h.5M57.3 316.6h.5M56.7 317.6h.5M55.7 316.3h.5M58.2 318.6h.5M69.2 319.7h.5M55.8 315.6h.5M55.8 318.1h.5M54.4 320.0h.5M67.0 319.5h.5M56.0 319.4h.5M57.7 320.3h.5M55.6 317.5h.5M65.4 320.0h.5M55.7 318.5h.5M57.4 319.5h.5M58.4 318.2h.5M57.8 318.8h.5M61.7 318.3h.5M62.1 318.4h.5M55.2 319.3h.5M58.9 318.6h.5M54.3 319.0h.5M59.9 318.7h.5M54.9 320.3h.5M56.4 319.0h.5M54.9 317.8h.5M55.8 319.4h.5M54.9 316.7h.5M59.3 319.3h.5M54.1 318.5h.5M58.1 314.4h.5M56.6 318.9h.5M56.1 319.6h.5M53.9 317.6h.5M57.8 317.7h.5M57.3 319.7h.5M64.8 319.9h.5M53.7 319.3h.5M58.4 317.9h.5M57.1 318.7h.5M58.7 317.7h.5M55.6 316.0h.5M62.4 318.8h.5M54.1 315.3h.5M62.4 320.6h.5M57.0 318.2h.5M59.1 319.3h.5M55.0 318.2h.5M63.3 317.7h.5M60.0 319.2h.5M60.9 317.5h.5M55.4 319.4h.5M55.2 313.0h.5M60.8 318.3h.5M53.9 315.2h.5M53.9 316.0h.5M58.9 319.0h.5M55.6 319.2h.5M68.5 318.6h.5M56.2 312.2h.5M62.1 320.0h.5M55.3 318.7h.5M58.1 318.3h.5M56.1 319.1h.5M68.8 319.9h.5M56.8 319.5h.5M54.6 319.5h.5M58.9 315.1h.5M59.9 317.5h.5M56.6 319.0h.5M62.2 319.8h.5M59.8 318.3h.5M56.8 316.9h.5M54.2 317.1h.5M58.3 316.1h.5M60.7 320.6h.5M56.6 318.0h.5M62.5 319.0h.5M54.7 320.4h.5M55.6 319.1h.5M54.9 319.5h.5M59.9 320.0h.5M61.2 317.1h.5M54.1 319.9h.5M61.2 320.2h.5M58.9 316.5h.5M59.7 319.4h.5M53.6 317.8h.5M57.1 320.4h.5M57.4 316.3h.5M57.1 317.3h.5M58.7 316.9h.5M57.1 317.2h.5M59.5 319.2h.5M58.3 315.9h.5M57.0 319.1h.5M60.5 315.4h.5M57.6 318.0h.5M56.5 317.8h.5M61.8 318.8h.5M64.0 318.9h.5M55.8 320.1h.5M56.7 318.1h.5M55.2 318.4h.5M55.0 319.6h.5M63.2 319.2h.5M67.0 320.1h.5M55.6 318.7h.5M60.7 318.8h.5M60.1 316.6h.5M55.4 314.9h.5M57.5 319.0h.5M61.0 317.5h.5M60.6 316.3h.5M61.2 318.2h.5M53.6 313.7h.5M57.3 314.3h.5M58.4 319.5h.5M54.6 319.9h.5M60.4 317.1h.5M54.9 316.3h.5M67.4 320.2h.5M60.7 319.9h.5M54.4 319.1h.5M57.9 317.0h.5M59.2 319.3h.5M55.8 312.3h.5M55.7 316.9h.5M55.3 319.4h.5M57.0 316.8h.5M57.6 316.5h.5M65.0 319.2h.5M63.5 320.1h.5M56.1 318.2h.5M57.6 317.8h.5M63.6 320.2h.5M55.6 317.9h.5M54.7 318.3h.5M56.2 319.1h.5M66.4 319.8h.5M66.5 320.0h.5M54.1 319.9h.5M58.2 314.0h.5M59.4 316.6h.5M60.7 316.8h.5M56.5 319.3h.5M62.2 319.3h.5M59.1 320.7h.5M57.9 318.0h.5M54.2 319.4h.5M55.4 319.7h.5M57.4 320.3h.5M56.7 319.8h.5M54.6 319.2h.5M56.6 316.5h.5M61.2 320.0h.5M55.3 318.3h.5M56.2 316.5h.5M54.9 315.1h.5M60.3 318.5h.5M69.2 318.5h.5M56.4 319.7h.5M55.9 314.0h.5M54.0 317.3h.5M58.3 320.4h.5M63.8 319.8h.5M60.7 314.6h.5M69.5 319.4h.5M59.9 318.6h.5M59.7 319.3h.5M59.5 319.2h.5M59.6 315.8h.5M63.0 317.2h.5M54.5 316.6h.5M56.6 315.4h.5M60.9 319.0h.5M57.0 314.3h.5M58.3 319.5h.5M56.4 319.6h.5M54.3 319.3h.5M57.0 320.1h.5M58.7 319.1h.5M55.0 319.2h.5M61.3 319.7h.5M57.9 318.4h.5M62.2 318.2h.5M54.3 318.8h.5M60.8 318.0h.5M59.9 312.5h.5M55.6 320.4h.5M54.7 319.2h.5M59.0 318.1h.5M56.7 318.1h.5M57.3 317.3h.5M57.8 318.4h.5M55.2 319.1h.5M57.7 316.7h.5M57.0 314.2h.5M60.2 318.3h.5M57.4 317.2h.5M63.2 318.5h.5M58.1 319.1h.5M60.2 319.8h.5M54.1 320.5h.5M53.6 315.4h.5M64.1 319.6h.5M59.2 317.9h.5M62.8 316.1h.5M55.8 315.7h.5M54.4 311.9h.5M58.5 320.1h.5M55.5 320.5h.5M55.9 319.7h.5M59.1 317.9h.5M55.2 318.1h.5M57.1 314.7h.5M56.1 315.7h.5M61.8 319.1h.5M54.6 317.8h.5M58.8 319.2h.5M56.8 319.6h.5M60.4 319.3h.5M58.9 318.8h.5M59.0 319.4h.5M53.9 319.5h.5M59.2 318.8h.5M62.5 317.3h.5M54.5 317.3h.5M61.5 318.4h.5M57.1 317.5h.5M59.4 319.5h.5M54.6 314.4h.5M68.3 318.9h.5M58.5 318.5h.5M56.2 317.3h.5M54.9 318.2h.5M57.6 317.9h.5M56.7 318.9h.5M60.4 318.0h.5M54.7 319.8h.5M57.8 318.6h.5M60.0 316.2h.5M56.8 317.5h.5M59.0 320.1h.5M55.4 317.8h.5M54.1 316.8h.5M58.1 316.8h.5M55.2 320.1h.5M54.0 314.0h.5M56.6 320.3h.5M53.8 315.4h.5M59.9 315.9h.5M57.5 319.5h.5M68.2 319.9h.5M55.4 315.5h.5M56.9 319.4h.5M60.7 319.6h.5M57.4 317.2h.5M53.6 320.1h.5M53.9 317.2h.5M54.7 317.1h.5M57.6 318.6h.5M55.2 316.9h.5M61.1 317.8h.5M57.6 319.5h.5M59.3 317.2h.5M54.7 315.8h.5M57.5 316.3h.5M57.3 318.0h.5M59.6 316.6h.5M63.8 318.4h.5M53.9 316.1h.5M55.0 320.0h.5M62.8 318.3h.5M57.9 314.5h.5M62.8 318.0h.5M55.6 319.0h.5M59.0 319.5h.5M57.5 318.8h.5M57.2 319.5h.5M54.8 316.2h.5M59.4 318.7h.5M55.8 319.9h.5M55.3 312.5h.5M61.6 317.1h.5M54.2 314.0h.5M58.2 319.7h.5M55.3 313.2h.5M63.5 318.0h.5M54.7 317.7h.5M59.4 319.1h.5M56.4 319.7h.5M56.0 314.4h.5M54.1 319.3h.5M57.3 319.9h.5M59.0 319.9h.5M62.7 318.6h.5M61.1 319.0h.5M56.6 319.1h.5M53.7 319.6h.5M60.9 319.8h.5M56.2 318.9h.5M56.8 319.6h.5M53.9 318.0h.5M56.0 319.4h.5M55.4 319.9h.5M56.0 319.5h.5M55.8 318.1h.5M57.7 319.2h.5M54.1 316.8h.5M70.0 319.3h.5M56.0 316.9h.5M54.9 309.3h.5M56.1 319.7h.5M58.5 320.4h.5M55.1 319.2h.5M56.1 318.4h.5M56.9 319.8h.5M55.8 320.6h.5M57.2 319.6h.5M59.0 319.8h.5M61.1 320.4h.5M54.9 320.2h.5M54.5 316.2h.5M55.6 319.7h.5M64.8 318.9h.5M55.1 314.6h.5M57.8 319.4h.5M67.6 319.6h.5M60.2 317.1h.5M59.5 316.6h.5M53.9 317.9h.5M61.8 319.7h.5M56.9 318.8h.5M56.0 317.5h.5M58.1 317.6h.5M54.8 318.6h.5M56.2 317.3h.5M57.3 315.7h.5M57.8 317.9h.5M65.4 319.7h.5M55.4 317.4h.5M54.1 319.5h.5M54.4 318.6h.5M61.0 320.5h.5M54.7 318.6h.5M60.5 319.5h.5M55.5 318.8h.5M55.6 319.7h.5M54.1 318.0h.5M54.2 314.1h.5M57.4 317.3h.5M55.9 313.5h.5M54.4 316.1h.5M58.5 317.6h.5M62.5 318.9h.5M61.9 320.1h.5M55.8 312.3h.5M56.3 319.2h.5M67.9 319.0h.5M58.6 318.2h.5M59.2 316.0h.5M60.3 319.4h.5M57.3 320.5h.5M56.0 317.3h.5M55.9 318.9h.5M54.4 314.9h.5M56.6 317.4h.5M54.6 319.1h.5M59.5 319.5h.5M69.4 320.5h.5M55.4 318.2h.5M58.6 318.7h.5M59.0 317.7h.5M59.1 317.5h.5M54.3 318.3h.5M56.0 316.2h.5M56.7 318.8h.5M66.7 320.4h.5M54.4 319.5h.5M57.1 314.7h.5M54.4 313.6h.5M60.1 320.1h.5M55.7 316.2h.5M58.5 317.8h.5M56.8 317.0h.5M57.3 314.1h.5M57.1 317.4h.5M60.9 319.6h.5M56.9 319.6h.5M61.5 317.7h.5M58.9 319.3h.5M55.0 318.9h.5M58.9 319.0h.5M54.5 315.3h.5M55.7 314.0h.5M56.2 315.6h.5M60.1 318.4h.5M58.2 318.2h.5M54.4 318.4h.5M56.6 315.3h.5M53.6 319.7h.5M57.8 320.1h.5M57.0 318.3h.5M56.9 318.3h.5M54.9 317.1h.5M59.8 318.9h.5M54.0 316.5h.5M58.3 319.7h.5M55.0 316.2h.5M60.7 318.4h.5M55.9 319.5h.5M58.9 318.3h.5M67.6 319.4h.5M53.6 318.9h.5M62.5 319.0h.5M55.2 317.8h.5M54.0 320.5h.5M58.5 318.5h.5M57.1 320.7h.5M61.6 317.1h.5M60.9 320.0h.5M56.5 313.8h.5M61.5 320.5h.5M60.2 319.8h.5M56.2 317.5h.5M54.9 317.0h.5M62.8 318.2h.5M65.3 319.6h.5M63.2 319.6h.5M56.1 317.4h.5M62.9 319.7h.5M56.5 318.4h.5M55.0 318.8h.5M54.0 312.0h.5M58.0 318.1h.5M64.3 317.3h.5M64.5 319.9h.5M61.5 317.2h.5M55.8 319.0h.5M63.0 320.0h.5M53.7 317.8h.5M65.3 317.9h.5M58.3 319.1h.5M56.7 319.4h.5M57.8 315.0h.5M57.9 318.5h.5M56.1 316.1h.5M60.6 316.1h.5M55.3 319.6h.5M53.7 319.3h.5M56.8 317.6h.5M58.9 318.6h.5M57.5 319.0h.5M62.4 318.4h.5M55.8 315.4h.5M54.9 318.4h.5M56.2 317.6h.5M57.0 320.3h.5M56.9 318.5h.5M55.2 316.0h.5M69.0 319.4h.5M68.1 320.3h.5M54.1 317.7h.5M56.9 317.9h.5M66.4 319.5h.5M62.5 319.0h.5M60.6 317.4h.5M56.2 318.2h.5M57.5 317.2h.5M60.8 319.2h.5M60.9 318.5h.5M54.0 320.4h.5M62.8 319.4h.5M57.8 319.8h.5M56.0 315.2h.5M55.6 315.8h.5M57.6 316.2h.5M62.2 319.5h.5M61.6 320.7h.5M54.9 315.4h.5M62.5 319.2h.5M56.7 320.2h.5M53.7 320.2h.5M59.5 320.0h.5M60.9 319.6h.5M57.8 316.8h.5M59.9 318.7h.5M55.3 320.2h.5M59.8 319.5h.5M56.3 317.9h.5M59.5 319.0h.5M53.7 319.5h.5M56.8 318.3h.5M54.1 318.7h.5M58.3 314.0h.5M57.7 316.4h.5M56.1 317.0h.5M57.9 317.7h.5M59.2 316.5h.5M53.8 318.6h.5M56.2 318.0h.5M57.2 315.9h.5M54.0 319.8h.5M60.7 319.4h.5M62.1 319.5h.5M54.1 317.0h.5M56.4 318.0h.5M59.0 318.2h.5M64.6 319.6h.5M53.9 318.1h.5M60.9 316.6h.5M59.5 317.1h.5M56.0 317.4h.5M54.8 313.7h.5M61.9 320.0h.5M58.7 318.3h.5M54.0 318.6h.5M58.6 317.8h.5M57.6 318.9h.5M56.8 317.6h.5M57.4 319.2h.5M55.8 317.8h.5M57.1 318.6h.5M61.1 318.0h.5M59.4 317.2h.5M58.3 316.2h.5M57.8 318.2h.5M56.2 318.3h.5M61.5 319.8h.5M59.0 315.9h.5M57.3 314.7h.5M54.3 320.0h.5M58.2 318.6h.5M58.8 318.0h.5M56.4 317.1h.5M56.6 316.6h.5M57.2 319.8h.5M60.9 320.4h.5M59.2 319.4h.5M57.8 319.4h.5M55.3 319.3h.5M56.3 317.8h.5M55.6 315.3h.5M65.0 319.9h.5M56.3 319.6h.5M56.0 316.9h.5M62.1 316.1h.5M57.1 317.0h.5M59.4 318.4h.5M55.6 319.3h.5M53.7 316.3h.5M67.0 320.0h.5M60.3 319.3h.5M54.8 319.8h.5M55.0 312.6h.5M60.5 318.1h.5M57.4 313.1h.5M58.3 319.0h.5M62.7 319.6h.5M55.3 317.3h.5M54.3 318.2h.5M54.7 318.4h.5M55.9 319.8h.5M56.4 319.6h.5M54.7 318.7h.5M56.0 320.3h.5M53.6 317.4h.5M54.3 319.3h.5M57.4 320.4h.5M54.2 319.2h.5M57.0 317.5h.5M56.8 314.9h.5M57.3 318.1h.5M61.3 320.1h.5M66.0 320.6h.5M54.7 318.1h.5M60.2 318.7h.5M60.2 319.4h.5M54.8 318.0h.5M58.1 320.0h.5M57.5 318.7h.5M55.7 313.7h.5M53.9 317.1h.5M56.3 317.8h.5M55.5 318.3h.5M61.4 318.4h.5M54.2 319.7h.5M64.3 319.4h.5M56.9 319.5h.5M55.3 319.8h.5M55.3 318.1h.5M67.5 318.8h.5M53.8 318.1h.5M59.0 319.1h.5M54.8 319.2h.5M64.5 318.7h.5M56.8 317.5h.5M60.2 317.8h.5M55.4 318.2h.5M53.6 317.5h.5M60.7 317.5h.5M55.0 319.2h.5M55.9 319.3h.5M58.8 317.5h.5M56.9 316.3h.5M66.0 319.4h.5M57.1 319.3h.5M57.2 320.1h.5M57.6 316.4h.5M60.0 319.8h.5M54.6 318.0h.5M57.7 317.0h.5M59.5 320.1h.5M54.6 318.9h.5M56.6 319.7h.5M53.8 315.3h.5M59.0 316.7h.5M56.5 318.7h.5M61.7 318.4h.5M56.8 315.1h.5M58.8 320.1h.5M61.3 318.1h.5M54.7 317.8h.5M62.2 319.6h.5M57.3 318.8h.5M69.1 319.9h.5M54.8 317.4h.5M62.1 317.6h.5M59.9 317.5h.5M59.8 318.3h.5M55.3 315.7h.5M55.8 317.2h.5M55.3 318.7h.5M67.2 320.1h.5M55.1 313.4h.5M65.4 319.9h.5M62.7 318.3h.5M57.4 319.0h.5M56.8 320.0h.5M60.8 318.8h.5M59.7 317.8h.5M55.6 318.9h.5M63.0 317.4h.5M58.1 313.3h.5M54.4 318.1h.5M57.6 319.5h.5M58.6 319.2h.5M54.6 312.1h.5M54.4 315.9h.5M55.0 315.9h.5M53.8 309.6h.5M56.3 317.1h.5M58.3 317.2h.5M57.9 316.7h.5M55.5 317.3h.5M58.8 317.3h.5M65.8 318.1h.5M55.8 319.5h.5M58.1 319.3h.5M55.3 320.6h.5M58.9 319.9h.5M57.2 315.6h.5M58.3 320.2h.5M63.4 318.9h.5M61.5 319.4h.5M54.5 318.9h.5M57.0 314.0h.5M58.4 319.1h.5M62.8 319.7h.5M60.9 317.2h.5M60.7 319.9h.5M58.6 316.8h.5M54.8 317.8h.5M65.8 319.8h.5M55.6 316.2h.5M61.4 319.5h.5M57.6 318.8h.5M56.6 315.9h.5M63.1 320.0h.5M58.2 315.6h.5M54.8 318.8h.5M54.5 317.2h.5M54.7 318.9h.5M55.3 316.9h.5M56.3 318.8h.5M54.4 310.5h.5M54.4 319.0h.5M56.5 317.8h.5M59.8 319.3h.5M59.8 319.9h.5M55.2 318.3h.5M56.1 317.3h.5M54.1 311.9h.5M58.8 316.8h.5M61.0 318.5h.5M61.7 320.7h.5M55.1 317.6h.5M59.7 318.6h.5M61.3 319.7h.5M59.3 318.6h.5M57.2 317.6h.5M54.1 315.9h.5M62.2 317.3h.5M55.6 320.3h.5M54.5 314.5h.5M54.8 319.1h.5M55.6 316.6h.5M60.8 317.7h.5M58.9 317.0h.5M61.7 320.1h.5M56.4 315.9h.5M63.9 318.7h.5M56.0 319.0h.5M65.1 318.4h.5M55.7 317.2h.5M55.3 317.0h.5M59.6 315.7h.5M60.5 314.8h.5M62.1 318.9h.5M59.3 319.1h.5M57.5 316.5h.5M67.5 318.2h.5M54.0 320.2h.5M56.3 315.5h.5M58.7 316.3h.5M54.0 319.0h.5M56.9 316.4h.5M60.8 318.6h.5M57.0 316.5h.5M62.4 318.3h.5M61.0 318.0h.5M58.6 319.7h.5M54.1 319.5h.5M60.8 318.0h.5M56.9 318.2h.5M55.7 318.9h.5M60.6 317.9h.5M53.8 320.1h.5M68.2 319.3h.5M55.2 315.0h.5M53.6 311.8h.5M67.6 320.1h.5M57.8 320.0h.5M57.1 318.4h.5M56.3 316.1h.5M62.8 317.9h.5M58.3 317.1h.5M59.4 320.2h.5M61.8 319.8h.5M56.9 316.0h.5M55.3 318.9h.5M58.6 319.1h.5M57.5 318.0h.5M55.2 318.5h.5M54.4 319.6h.5M62.4 320.3h.5M57.1 319.3h.5M63.0 320.0h.5M61.1 319.7h.5M68.9 319.0h.5M54.6 318.5h.5M59.7 319.6h.5M59.0 318.6h.5M59.4 319.4h.5M55.4 316.2h.5M58.2 314.4h.5M53.9 319.5h.5M59.1 315.5h.5M63.4 320.2h.5M58.7 313.8h.5M53.8 317.2h.5M54.1 318.5h.5M65.0 319.5h.5M57.3 317.0h.5M67.1 319.9h.5M57.9 316.1h.5M58.9 318.1h.5M54.3 315.7h.5M64.4 319.8h.5M62.4 319.3h.5M58.5 319.9h.5M56.0 318.9h.5M57.5 318.3h.5M55.8 315.3h.5M66.3 319.3h.5M60.9 317.7h.5M54.2 317.3h.5M53.6 311.6h.5M57.0 318.9h.5M56.5 316.5h.5M60.5 318.7h.5M55.0 319.7h.5M58.2 318.6h.5M56.9 318.8h.5M60.2 318.8h.5M54.5 319.5h.5M59.1 318.8h.5M56.2 317.2h.5M53.7 319.6h.5M54.8 317.2h.5M60.1 318.8h.5M55.5 318.9h.5M54.0 315.2h.5M56.6 319.4h.5M57.9 318.4h.5M56.7 316.9h.5M56.9 317.6h.5M54.4 314.6h.5M64.1 319.8h.5M54.8 314.4h.5M57.2 320.4h.5M60.3 318.8h.5M58.1 318.2h.5M57.8 316.4h.5M61.1 319.5h.5M69.0 319.5h.5M62.7 317.3h.5M57.3 319.4h.5M56.2 318.6h.5M63.0 319.1h.5M54.6 316.9h.5M62.8 320.1h.5M57.1 318.8h.5M54.3 319.7h.5M54.7 316.1h.5M57.8 317.1h.5M55.6 320.6h.5M57.0 314.4h.5M57.5 318.0h.5M55.0 317.0h.5M56.5 317.0h.5M56.8 314.7h.5M59.0 317.6h.5M54.1 315.0h.5M58.1 320.0h.5M60.2 320.1h.5M57.1 310.1h.5M55.7 320.5h.5M56.2 319.8h.5M53.9 318.2h.5M56.3 319.5h.5M59.4 318.6h.5M57.8 320.2h.5M55.8 318.6h.5M60.1 318.2h.5M58.4 317.3h.5M61.0 318.2h.5M56.3 318.8h.5M59.8 317.1h.5M61.7 318.1h.5M56.6 320.4h.5M61.8 318.6h.5M59.1 319.4h.5M57.2 318.4h.5M56.5 319.6h.5M59.8 316.5h.5M60.7 318.0h.5M55.8 312.0h.5M55.8 316.3h.5M54.4 318.7h.5M56.7 315.1h.5M57.9 317.1h.5M60.0 317.8h.5M56.7 319.5h.5M54.6 318.2h.5M63.1 319.2h.5M56.9 318.4h.5M57.2 319.1h.5M56.1 317.2h.5M59.4 318.2h.5M59.8 317.8h.5M58.6 318.2h.5M53.7 318.7h.5M57.0 313.9h.5M55.6 319.0h.5M58.5 318.9h.5M54.8 312.6h.5M58.8 318.1h.5M54.7 317.4h.5M57.4 318.8h.5M54.3 316.2h.5M61.8 318.4h.5M62.6 319.4h.5M55.2 315.1h.5M60.8 316.4h.5M59.0 314.8h.5M55.1 316.3h.5M57.0 318.7h.5M58.9 319.5h.5M56.7 318.9h.5M54.6 318.9h.5M54.4 318.6h.5M54.0 318.2h.5M55.9 315.4h.5M53.9 318.3h.5M56.9 320.6h.5M61.6 318.7h.5M63.1 319.3h.5M57.5 320.0h.5M59.1 319.8h.5M54.8 318.9h.5M58.5 320.1h.5M66.7 319.3h.5M56.0 318.2h.5M58.7 319.3h.5M58.6 314.5h.5M54.1 318.0h.5M65.1 320.1h.5M55.2 315.2h.5M56.4 312.1h.5M54.2 319.1h.5M54.2 315.2h.5M67.9 319.2h.5M55.9 318.8h.5M62.0 318.8h.5M64.2 319.6h.5M60.0 319.6h.5M54.0 318.7h.5M60.5 320.0h.5M60.7 319.7h.5M53.9 318.1h.5M58.2 317.3h.5M55.0 318.9h.5M58.6 318.8h.5M58.5 320.0h.5M57.4 318.3h.5M60.9 317.9h.5M58.7 319.6h.5M57.1 318.7h.5M61.8 317.0h.5M55.1 315.9h.5M54.4 318.0h.5M61.2 320.0h.5M58.6 318.8h.5M60.4 320.2h.5M55.3 318.0h.5M61.8 320.5h.5M55.2 320.1h.5M57.0 317.6h.5M62.1 319.2h.5M59.5 316.3h.5M68.0 318.4h.5M57.3 318.9h.5M57.6 316.9h.5M55.3 319.5h.5M53.6 318.8h.5M54.2 318.2h.5M58.1 319.0h.5M53.7 317.4h.5M55.1 318.4h.5M57.2 315.8h.5M57.8 317.5h.5M56.4 317.7h.5M54.7 320.5h.5M54.2 316.1h.5M54.6 317.7h.5M56.1 317.4h.5M62.8 320.1h.5M60.0 319.2h.5M57.7 316.7h.5M54.7 318.5h.5M63.2 318.9h.5M62.1 316.9h.5M60.3 319.1h.5M60.9 317.6h.5M59.3 317.4h.5M53.9 315.9h.5M58.0 316.7h.5M58.0 316.0h.5M58.9 320.4h.5M58.3 319.1h.5M56.0 319.4h.5M59.4 318.2h.5M61.1 319.9h.5M53.9 317.0h.5M56.8 319.3h.5M57.6 319.2h.5M54.8 317.0h.5M57.5 317.2h.5M61.5 319.8h.5M61.5 318.2h.5M55.9 316.9h.5M67.5 319.4h.5M57.2 319.4h.5M53.8 319.9h.5M56.4 317.1h.5M60.4 320.0h.5M55.4 317.5h.5M54.5 312.3h.5M61.0 318.2h.5M66.3 319.2h.5M53.8 319.6h.5M54.0 316.4h.5M54.4 317.3h.5M56.9 316.6h.5M55.9 312.2h.5M56.4 316.5h.5M56.3 317.9h.5M56.6 316.6h.5M54.9 317.6h.5M63.4 319.8h.5M63.1 318.3h.5M59.4 318.3h.5M55.8 316.4h.5M62.4 319.6h.5M64.5 319.2h.5M69.4 319.1h.5M58.6 319.5h.5M60.3 318.6h.5M60.0 320.6h.5M55.4 312.6h.5M59.8 316.9h.5M56.1 316.8h.5M56.6 318.5h.5M56.6 315.6h.5M56.9 320.0h.5M61.9 318.2h.5M59.4 315.8h.5M61.3 317.0h.5M55.6 316.6h.5M58.7 319.9h.5M54.8 319.5h.5M56.5 319.3h.5M59.1 319.6h.5M61.3 318.5h.5M54.5 320.1h.5M53.7 316.5h.5M64.3 320.1h.5M58.5 320.6h.5M60.1 320.4h.5M55.6 320.1h.5M55.0 317.5h.5M58.7 316.7h.5M58.7 317.2h.5M59.4 319.4h.5M61.4 318.3h.5M56.3 313.5h.5M60.2 318.1h.5M58.6 319.9h.5M59.5 318.8h.5M56.7 318.4h.5M61.0 317.4h.5M65.4 318.3h.5M56.2 316.9h.5M65.1 319.6h.5M57.4 319.5h.5M56.9 318.2h.5M63.5 318.6h.5M59.2 317.0h.5M55.0 316.5h.5M57.4 318.3h.5M59.4 318.2h.5M63.9 319.2h.5M57.3 318.3h.5M54.6 316.5h.5M58.8 320.3h.5M58.9 318.7h.5M56.2 315.7h.5M54.5 319.3h.5M54.8 320.1h.5M57.2 313.8h.5M63.2 320.5h.5M57.1 316.0h.5M54.4 318.2h.5M61.3 317.0h.5M65.6 319.4h.5M54.0 317.2h.5M57.0 314.8h.5M54.0 319.6h.5M56.0 316.8h.5M55.3 317.5h.5M57.1 319.3h.5M55.4 316.1h.5M64.6 317.6h.5M57.7 317.6h.5M65.2 320.4h.5M55.1 316.1h.5M56.8 319.9h.5M57.3 318.1h.5M67.7 319.3h.5M54.0 317.7h.5M54.9 319.8h.5M61.5 319.4h.5M55.4 317.7h.5M54.0 319.1h.5M57.0 318.3h.5M55.8 318.3h.5M60.7 316.9h.5M55.4 320.0h.5M55.2 317.0h.5M58.0 319.9h.5M55.5 319.3h.5M59.4 318.4h.5M57.5 319.5h.5M56.9 317.7h.5M56.9 314.5h.5M53.7 315.0h.5M53.6 316.5h.5M57.5 319.2h.5M60.1 317.6h.5M56.6 319.6h.5M65.0 319.0h.5M55.3 312.2h.5M61.0 317.0h.5M56.1 316.5h.5M62.1 319.2h.5M57.3 320.4h.5M59.3 320.1h.5M60.7 319.8h.5M56.5 319.7h.5M59.0 318.7h.5M55.0 314.4h.5M59.0 318.5h.5M55.4 320.3h.5M55.1 318.7h.5M59.8 317.0h.5M60.5 320.1h.5M59.8 316.6h.5M67.5 319.8h.5M58.7 316.3h.5M68.6 319.4h.5M68.7 319.0h.5M58.0 317.1h.5M61.4 319.7h.5M53.6 317.5h.5M54.6 315.0h.5M59.7 316.2h.5M55.6 320.1h.5M61.1 318.3h.5M59.0 316.5h.5M54.2 317.8h.5M54.2 319.3h.5M54.1 316.5h.5M64.9 320.5h.5M56.4 315.2h.5M54.3 317.3h.5M59.7 320.6h.5M55.3 318.7h.5M61.5 318.5h.5M57.2 317.3h.5M61.2 320.1h.5M57.9 318.7h.5M61.2 320.1h.5M61.6 314.9h.5M53.7 319.5h.5M55.0 319.0h.5M61.4 319.9h.5M54.3 319.3h.5M61.0 317.1h.5M55.4 316.7h.5M58.2 317.6h.5M58.6 314.2h.5M59.8 315.7h.5M53.8 319.2h.5M54.4 319.6h.5M54.1 314.8h.5M55.5 319.8h.5M60.8 320.6h.5M56.9 320.0h.5M54.8 314.7h.5M54.0 315.8h.5M57.5 317.2h.5M53.7 317.7h.5M56.7 319.9h.5M60.1 317.3h.5M55.3 319.6h.5M53.8 319.6h.5M57.0 319.6h.5M58.8 318.7h.5M55.3 316.0h.5M55.0 314.8h.5M56.2 315.2h.5M55.0 318.8h.5M63.0 320.1h.5M55.0 317.3h.5M57.8 320.2h.5M54.9 319.5h.5M54.4 313.5h.5M54.2 319.6h.5M57.8 319.2h.5M58.7 316.3h.5M70.9 318.7h.5M57.7 318.2h.5M53.8 315.6h.5M55.8 314.3h.5M64.1 319.5h.5M59.8 320.3h.5M61.0 316.3h.5M53.9 316.8h.5M60.3 319.6h.5M55.3 318.6h.5M60.9 319.3h.5M56.6 320.4h.5M61.8 320.2h.5M54.0 316.7h.5M57.4 318.8h.5M56.6 317.4h.5M54.7 319.6h.5M59.9 316.9h.5M57.7 320.0h.5M60.0 320.5h.5M55.8 317.1h.5M59.3 319.7h.5M58.1 317.6h.5M55.3 317.3h.5M58.5 315.8h.5M56.8 316.3h.5M57.1 316.0h.5M55.1 315.9h.5M54.8 319.2h.5M55.8 319.2h.5M58.0 316.4h.5M56.1 317.5h.5M58.0 319.0h.5M54.8 316.8h.5M62.1 319.7h.5M56.5 319.7h.5M56.9 319.8h.5M59.2 315.6h.5M54.4 314.3h.5M57.4 316.2h.5M57.8 319.0h.5M55.3 320.3h.5M62.9 317.3h.5M58.6 318.0h.5M57.2 316.0h.5M56.2 318.6h.5M55.4 319.8h.5M55.4 318.5h.5M64.5 319.7h.5M60.2 317.7h.5M53.8 318.6h.5M58.4 318.5h.5M57.8 317.6h.5M59.7 318.0h.5M60.4 319.9h.5M53.9 319.2h.5M56.3 314.9h.5M54.2 318.5h.5M68.6 319.9h.5M56.2 319.1h.5M60.1 318.1h.5M56.1 318.2h.5M57.5 319.0h.5M54.0 315.1h.5M56.2 319.4h.5M53.7 319.3h.5M65.4 319.3h.5M58.1 311.6h.5M58.5 314.6h.5M60.4 319.0h.5M53.8 318.1h.5M58.4 319.0h.5M63.3 318.9h.5M56.4 316.5h.5M60.7 316.0h.5M59.2 315.7h.5M54.9 311.7h.5M54.8 318.5h.5M55.4 316.3h.5M54.7 314.7h.5M62.4 318.9h.5M65.4 319.5h.5M59.8 319.3h.5M55.1 319.6h.5M61.7 316.9h.5M56.0 311.8h.5M58.3 317.2h.5M57.6 320.3h.5M54.8 314.6h.5M55.5 315.6h.5M59.0 315.4h.5M58.7 319.5h.5M57.4 314.9h.5M54.7 319.4h.5M60.2 317.8h.5M56.9 319.1h.5M55.7 317.4h.5M59.1 318.1h.5M57.9 319.5h.5M62.3 319.0h.5M59.6 320.0h.5M56.4 318.2h.5M55.3 318.9h.5M60.5 316.1h.5M56.4 318.1h.5M58.7 317.6h.5M54.6 317.7h.5M56.3 319.5h.5M67.8 320.2h.5M53.9 316.2h.5M54.5 314.4h.5M55.8 316.2h.5M60.5 318.5h.5M56.8 316.7h.5M63.2 319.7h.5M54.5 319.4h.5M57.0 319.9h.5M62.3 318.5h.5M57.4 318.5h.5M59.2 316.6h.5M55.4 317.5h.5M55.0 314.7h.5M53.6 317.1h.5M63.0 318.7h.5M57.2 318.6h.5M61.0 317.3h.5M64.2 319.3h.5M61.0 319.6h.5M54.3 320.4h.5M65.8 319.5h.5M67.6 319.3h.5M56.4 317.2h.5M57.3 320.0h.5M53.9 319.2h.5M55.6 314.4h.5M61.1 317.8h.5M57.5 319.3h.5M57.6 317.9h.5M58.1 316.9h.5M54.5 320.6h.5M59.3 318.8h.5M64.6 319.1h.5M59.0 319.5h.5M58.0 318.5h.5M56.7 317.9h.5M59.7 318.1h.5M56.3 315.4h.5M58.6 319.8h.5M56.7 315.8h.5M60.6 313.1h.5M58.6 315.4h.5M61.1 319.2h.5M54.1 316.0h.5M61.7 319.3h.5M56.8 320.2h.5M55.5 319.7h.5M59.0 317.5h.5M54.0 319.1h.5M53.9 315.8h.5M64.2 319.3h.5M56.5 320.0h.5M55.7 317.9h.5M64.0 319.4h.5M64.7 319.5h.5M60.6 320.2h.5M59.9 318.6h.5M61.1 319.1h.5M54.8 319.8h.5M54.7 317.7h.5M55.7 318.5h.5M59.1 317.1h.5M55.9 320.2h.5M56.5 316.1h.5M55.9 317.5h.5M54.6 315.1h.5M62.3 319.8h.5M54.4 317.0h.5M54.0 316.1h.5M54.1 316.9h.5M65.5 319.3h.5M59.9 318.4h.5M56.3 318.8h.5M57.4 318.8h.5M56.1 316.0h.5M62.3 317.8h.5M54.9 317.5h.5M55.9 320.1h.5M56.8 319.6h.5M62.6 319.9h.5M54.8 314.7h.5M53.6 317.8h.5M54.2 313.9h.5M55.5 317.2h.5M57.0 318.2h.5M56.1 319.4h.5M60.3 319.9h.5M62.9 319.9h.5M60.7 318.9h.5M68.7 319.5h.5M53.7 320.1h.5M58.9 318.3h.5M57.0 320.1h.5M61.9 318.0h.5M60.7 318.5h.5M56.4 319.9h.5M54.8 317.5h.5M54.5 320.4h.5M55.0 319.5h.5M54.6 317.2h.5M62.5 316.6h.5M61.0 319.2h.5M59.6 319.7h.5M57.4 319.6h.5M59.2 319.3h.5M55.7 319.1h.5M54.3 318.7h.5M54.5 319.7h.5M59.0 318.9h.5M61.3 319.8h.5M53.8 318.2h.5M58.0 319.2h.5M60.4 319.7h.5M60.0 318.1h.5M54.3 318.8h.5M55.8 319.5h.5M55.3 318.9h.5M55.2 319.3h.5M62.6 317.7h.5M69.2 319.4h.5M55.3 316.1h.5M57.3 317.4h.5M55.3 315.5h.5M58.1 317.7h.5M55.4 319.5h.5M56.3 316.6h.5M54.8 316.5h.5M57.1 318.9h.5M58.7 318.7h.5M64.8 319.8h.5M55.3 319.6h.5M53.9 314.4h.5M57.8 319.6h.5M54.4 318.1h.5M55.1 319.7h.5M58.1 319.8h.5M60.9 319.9h.5M64.5 320.0h.5M57.3 319.5h.5M55.4 317.8h.5M57.5 317.7h.5M54.1 319.1h.5M54.2 316.0h.5M56.0 319.8h.5M55.4 316.6h.5M55.2 318.3h.5M55.7 318.9h.5M54.2 316.4h.5M62.2 319.0h.5M55.8 316.4h.5M56.0 319.3h.5M53.8 316.1h.5M58.5 319.8h.5M57.0 320.2h.5M57.1 318.0h.5M56.1 319.5h.5M59.4 315.9h.5M54.8 317.2h.5M56.8 319.0h.5M54.2 319.4h.5M61.0 320.5h.5M55.2 318.9h.5M54.7 319.1h.5M54.0 316.1h.5M62.9 318.2h.5M63.2 319.4h.5M61.6 319.2h.5M59.8 317.4h.5M62.3 317.3h.5M56.6 318.8h.5M54.1 319.4h.5M54.2 315.1h.5M54.7 314.9h.5M55.0 316.1h.5M53.9 320.7h.5M60.1 318.3h.5M55.3 319.8h.5M53.9 319.4h.5M59.5 319.4h.5M59.3 318.9h.5M55.9 319.9h.5M56.3 319.0h.5M57.7 316.9h.5M59.8 319.3h.5M61.7 319.5h.5M60.9 320.2h.5M57.7 319.3h.5M57.7 313.3h.5M59.3 318.5h.5M60.9 319.1h.5M53.8 319.9h.5M56.0 319.9h.5M54.9 314.2h.5M58.8 319.3h.5M61.6 318.6h.5M63.2 319.6h.5M54.0 317.8h.5M57.1 319.3h.5M58.8 318.7h.5M57.0 319.7h.5M55.5 319.6h.5M53.6 316.6h.5M55.9 317.0h.5M54.8 317.3h.5M54.6 318.9h.5M57.0 315.7h.5M61.1 319.4h.5M60.4 319.0h.5M64.2 318.9h.5M61.5 318.9h.5M55.2 318.1h.5M54.6 317.8h.5M60.0 318.5h.5M54.2 317.6h.5M59.5 319.8h.5M63.2 319.8h.5M55.9 318.2h.5M55.5 316.3h.5M56.7 320.1h.5M58.0 316.3h.5M64.3 319.1h.5M62.5 319.9h.5M56.7 317.6h.5M54.3 312.3h.5M56.2 316.4h.5M57.7 319.7h.5M59.7 318.6h.5M63.9 318.7h.5M58.4 318.3h.5M64.0 317.2h.5M54.1 315.6h.5M55.6 319.6h.5M59.0 319.8h.5M60.0 318.6h.5M55.4 317.6h.5M64.3 319.2h.5M59.2 318.2h.5M55.6 319.4h.5M61.9 319.2h.5M58.4 318.3h.5M62.4 319.1h.5M54.6 316.9h.5M59.9 318.3h.5M54.6 318.2h.5M55.0 319.2h.5M58.4 317.6h.5M54.0 318.7h.5M56.0 319.4h.5M57.3 319.8h.5M64.7 317.8h.5M55.4 316.0h.5M59.5 320.0h.5M54.4 314.6h.5M60.9 319.5h.5M53.7 320.5h.5M55.9 315.3h.5M54.9 316.9h.5M58.6 319.0h.5M58.6 318.9h.5M55.2 319.5h.5M56.8 318.2h.5M54.2 315.5h.5M55.8 320.0h.5M68.0 319.3h.5M57.7 319.2h.5M53.8 319.3h.5M62.0 318.4h.5M65.6 319.2h.5M67.9 319.3h.5M61.0 316.6h.5M58.6 315.7h.5M68.6 320.1h.5M57.8 315.7h.5M53.9 315.2h.5M54.9 316.3h.5M56.3 317.4h.5M56.7 319.1h.5M53.9 317.7h.5M57.6 319.9h.5M55.8 314.9h.5M54.3 318.6h.5M69.3 319.1h.5M53.7 316.4h.5M56.9 318.4h.5M56.4 317.6h.5M55.2 318.0h.5M55.5 318.3h.5M55.4 319.5h.5M55.2 312.0h.5M64.8 318.6h.5M60.7 317.1h.5M58.2 319.6h.5M59.2 314.3h.5M58.4 317.4h.5M61.2 318.2h.5M61.1 319.2h.5M54.6 319.8h.5M57.7 316.6h.5M65.7 319.8h.5M57.2 316.2h.5M58.4 319.0h.5M54.5 317.6h.5M63.3 319.0h.5M58.5 319.7h.5M67.8 318.4h.5M61.7 320.1h.5M54.9 318.0h.5M65.5 320.3h.5M59.2 318.8h.5M60.5 319.4h.5M66.2 320.5h.5M58.4 319.7h.5M56.1 318.3h.5M68.2 319.8h.5M55.9 317.7h.5M60.5 320.2h.5M55.9 319.1h.5M54.3 318.7h.5M62.1 319.2h.5M53.6 318.0h.5M54.7 316.9h.5M63.5 318.0h.5M57.8 315.2h.5M54.7 315.2h.5M57.6 319.9h.5M59.9 320.1h.5M61.8 319.4h.5M55.0 315.1h.5M60.0 317.6h.5M64.5 319.6h.5M56.0 319.7h.5M54.4 317.2h.5M53.8 313.7h.5M64.3 318.4h.5M54.5 318.1h.5M59.3 317.7h.5M60.2 315.3h.5M54.8 316.0h.5M53.8 319.8h.5M62.2 319.1h.5M56.6 314.8h.5M57.0 319.5h.5M53.9 316.1h.5M57.2 319.0h.5M55.7 318.3h.5M57.4 314.6h.5M56.9 317.5h.5M56.5 317.5h.5M55.0 318.0h.5M56.0 318.5h.5M64.4 319.7h.5M57.1 318.8h.5M55.8 318.3h.5M56.8 317.6h.5M54.0 312.6h.5M58.2 316.7h.5M57.7 319.5h.5M55.7 319.0h.5M54.0 319.5h.5M58.2 319.8h.5M55.1 318.7h.5M61.1 318.5h.5M56.5 316.5h.5M56.6 319.0h.5M53.7 316.8h.5M55.7 316.8h.5M57.0 315.7h.5M54.9 315.4h.5M54.4 318.1h.5M61.1 319.2h.5M54.8 317.9h.5M54.7 320.6h.5M58.6 315.8h.5M59.6 316.5h.5M63.0 318.2h.5M56.1 318.1h.5M61.1 317.9h.5M62.1 317.9h.5M56.7 318.4h.5M66.4 319.3h.5M55.2 319.7h.5M53.9 314.5h.5M59.4 318.3h.5M58.2 319.5h.5M55.8 319.0h.5M54.4 318.2h.5M53.9 316.8h.5M54.2 317.2h.5M59.9 318.6h.5M63.6 319.2h.5M55.2 318.9h.5M53.7 319.1h.5M61.2 319.9h.5M57.1 317.8h.5M55.2 317.8h.5M57.8 318.7h.5M57.1 313.5h.5M56.6 316.5h.5M57.4 318.7h.5M54.0 317.7h.5M61.7 315.7h.5M56.1 318.0h.5M57.9 318.5h.5M56.9 319.3h.5M55.3 318.3h.5M61.3 318.0h.5M58.5 314.7h.5M55.8 316.9h.5M58.4 319.7h.5M55.5 316.4h.5M65.0 319.7h.5M54.7 317.6h.5M85.6 319.3h.5M67.5 319.3h.5M66.6 320.1h.5M82.8 318.8h.5M74.4 318.8h.5M56.0 320.0h.5M71.0 318.1h.5M65.5 319.1h.5M53.9 318.9h.5M82.7 319.8h.5M61.7 317.1h.5M60.6 318.8h.5M64.3 318.8h.5M82.3 319.3h.5M67.3 319.7h.5M78.7 320.2h.5M54.9 318.1h.5M62.3 319.4h.5M67.6 318.4h.5M57.7 319.4h.5M55.0 319.0h.5M57.1 317.8h.5M60.6 319.7h.5M54.6 320.0h.5M76.9 319.2h.5M85.1 319.7h.5M80.7 318.1h.5M69.7 319.0h.5M54.8 317.7h.5M62.7 319.0h.5M67.9 319.1h.5M80.1 319.2h.5M74.6 319.0h.5M64.2 320.1h.5M73.4 319.3h.5M60.7 319.5h.5M75.4 319.6h.5M68.2 318.6h.5M85.5 320.3h.5M58.1 318.9h.5M77.6 319.0h.5M76.6 319.3h.5M64.6 320.5h.5M86.4 318.9h.5M87.1 319.5h.5M65.4 317.4h.5M60.6 318.6h.5M80.8 319.7h.5M78.5 319.5h.5M73.6 320.0h.5M75.0 317.7h.5M58.4 317.6h.5M76.0 319.5h.5M86.0 319.0h.5M68.6 319.4h.5M82.7 319.7h.5M58.4 320.2h.5M70.0 319.8h.5M65.6 319.5h.5M79.3 318.1h.5M60.4 316.5h.5M59.3 318.5h.5M82.1 317.4h.5M86.0 318.7h.5M66.1 316.1h.5M68.1 318.8h.5M79.8 319.6h.5M64.3 318.9h.5M73.9 318.1h.5M65.9 319.9h.5M65.9 318.1h.5M70.4 318.6h.5M70.5 320.1h.5M85.8 320.1h.5M68.0 320.0h.5M66.6 319.9h.5M76.0 318.5h.5M83.5 319.4h.5M71.8 319.5h.5M72.6 319.0h.5M67.9 320.5h.5M68.1 319.9h.5M83.3 317.1h.5M60.8 319.5h.5M83.4 318.2h.5M64.4 318.6h.5M86.7 317.3h.5M81.6 318.9h.5M81.0 318.6h.5M73.2 319.8h.5M83.4 320.4h.5M84.2 317.5h.5M83.1 319.4h.5M80.0 320.0h.5M72.6 319.8h.5M58.5 317.6h.5M75.6 319.0h.5M86.2 320.3h.5M79.9 319.2h.5M65.3 317.6h.5M73.0 316.5h.5M75.3 318.6h.5M68.4 320.2h.5M84.7 319.6h.5M58.2 318.7h.5M72.0 318.7h.5M63.9 319.4h.5M55.4 319.1h.5M68.3 320.0h.5M55.7 318.6h.5M57.4 319.2h.5M85.3 320.6h.5M71.4 317.5h.5M62.9 318.7h.5M73.6 319.4h.5M61.1 318.7h.5M82.7 318.1h.5M59.1 317.9h.5M77.8 320.6h.5M58.9 319.2h.5M54.0 319.9h.5M71.3 318.4h.5M71.4 319.6h.5M63.1 318.2h.5M72.7 320.5h.5M84.7 317.6h.5M79.6 320.2h.5M60.1 318.2h.5M82.3 319.0h.5M62.4 320.6h.5M83.6 319.4h.5M81.1 320.7h.5M69.8 319.0h.5M60.3 319.7h.5M67.7 318.1h.5M69.1 320.0h.5M83.5 319.2h.5M66.9 319.8h.5M60.9 318.8h.5M64.9 318.3h.5M55.9 319.8h.5M85.6 319.6h.5M71.9 316.3h.5M64.7 320.4h.5M59.8 319.8h.5M79.1 320.3h.5M68.7 318.9h.5M83.1 319.0h.5M82.0 318.7h.5M72.7 319.1h.5M54.3 318.1h.5M76.6 318.4h.5M66.1 319.6h.5M63.2 319.9h.5M65.8 319.1h.5M62.0 318.7h.5M58.1 316.0h.5M68.6 318.2h.5M58.0 317.8h.5M69.6 318.2h.5M72.6 319.0h.5M61.7 317.7h.5M71.1 319.8h.5M61.0 319.7h.5M86.6 318.7h.5M57.9 318.7h.5M66.7 319.1h.5M82.7 319.8h.5M55.0 319.2h.5M86.9 318.5h.5M77.2 319.2h.5M79.5 318.3h.5M73.4 320.3h.5M66.3 319.6h.5M82.5 320.4h.5M61.7 318.4h.5M60.0 319.2h.5M64.2 316.6h.5M79.5 319.7h.5M67.9 317.3h.5M80.0 318.7h.5M69.0 320.0h.5M71.4 318.8h.5M86.8 320.4h.5M71.6 320.0h.5M81.8 317.9h.5M56.3 319.8h.5M83.5 319.6h.5M65.8 318.6h.5M54.9 318.5h.5M54.2 319.1h.5M55.3 319.4h.5M78.4 318.2h.5M85.1 318.9h.5M58.7 319.4h.5M83.6 320.0h.5M86.6 316.0h.5M70.1 319.2h.5M57.3 319.1h.5M82.7 320.6h.5M63.3 311.9h.5M67.4 301.3h.5M63.7 319.9h.5M79.6 307.7h.5M85.7 311.7h.5M70.2 309.1h.5M85.7 318.9h.5M71.0 314.0h.5M63.2 314.3h.5M73.8 318.0h.5M60.9 305.6h.5M77.1 312.7h.5M75.6 317.0h.5M67.0 314.1h.5M54.7 318.8h.5M65.9 318.3h.5M65.6 298.0h.5M86.3 317.0h.5M76.3 316.0h.5M65.4 312.5h.5M62.6 309.8h.5M83.2 316.4h.5M85.7 312.8h.5M81.3 305.0h.5M58.3 317.5h.5M77.6 305.4h.5M71.5 310.3h.5M68.2 312.3h.5M81.1 313.8h.5M77.2 308.1h.5M68.6 319.5h.5M73.0 315.3h.5M67.3 312.0h.5M64.5 303.6h.5M66.9 313.8h.5M70.1 313.3h.5M66.4 298.7h.5M56.8 314.0h.5M69.6 304.6h.5M54.6 320.7h.5M77.3 312.3h.5M59.8 304.1h.5M65.4 317.9h.5M73.6 309.9h.5M72.3 316.7h.5M64.3 315.7h.5M55.5 318.1h.5M69.4 316.0h.5M65.7 308.7h.5M76.0 294.3h.5M55.7 318.4h.5M67.3 317.9h.5M61.5 301.2h.5M71.6 314.1h.5M61.9 317.9h.5M69.8 302.5h.5M67.2 316.7h.5M61.5 313.1h.5M69.8 318.5h.5M56.3 319.5h.5M76.8 314.6h.5M86.9 318.9h.5M58.0 306.8h.5M62.6 313.8h.5M63.7 316.3h.5M63.8 316.6h.5M65.2 316.1h.5M66.8 318.6h.5M77.8 317.7h.5M66.2 317.1h.5M69.3 314.3h.5M82.6 317.2h.5M65.1 319.7h.5M59.7 315.4h.5M80.1 320.1h.5M71.7 314.5h.5M78.8 318.3h.5M73.3 310.1h.5M81.8 313.6h.5M76.2 304.4h.5M58.8 315.5h.5M75.1 313.7h.5M78.6 320.2h.5M72.0 320.5h.5M65.6 313.6h.5M68.2 307.1h.5M75.6 320.5h.5M77.5 317.4h.5M62.2 320.1h.5M58.9 313.0h.5M75.7 318.2h.5M64.3 310.7h.5M81.4 320.0h.5M75.4 316.0h.5M80.6 313.0h.5M81.7 318.1h.5M78.4 308.8h.5M68.2 314.6h.5M66.2 311.5h.5M61.8 319.9h.5M79.9 318.1h.5M59.3 317.2h.5M66.9 312.2h.5M70.4 318.3h.5M78.0 317.8h.5M59.8 315.1h.5M64.8 319.1h.5M77.2 307.5h.5M70.3 310.3h.5M68.3 320.2h.5M78.7 311.2h.5M70.0 318.1h.5M73.3 299.3h.5M81.5 320.3h.5M62.4 309.8h.5M61.2 318.0h.5M73.5 307.8h.5M62.4 312.9h.5M86.6 320.2h.5M82.6 315.8h.5M72.5 311.7h.5M65.1 314.8h.5M74.1 316.3h.5M64.3 316.0h.5M69.7 315.1h.5M66.6 314.6h.5M67.8 317.9h.5M59.1 318.0h.5M81.5 306.5h.5M63.7 319.5h.5M83.9 319.8h.5M82.6 316.7h.5M66.5 318.6h.5M70.6 308.8h.5M58.1 318.4h.5M69.4 309.6h.5M62.3 303.9h.5M76.3 315.1h.5M75.5 309.4h.5M63.8 317.9h.5M61.3 316.4h.5M73.7 302.8h.5M58.7 312.6h.5M68.2 307.5h.5M68.9 317.7h.5M65.8 315.6h.5M62.3 320.3h.5M69.3 319.8h.5M78.3 320.6h.5M57.9 316.8h.5M63.5 319.4h.5M61.2 313.1h.5M69.6 299.1h.5M70.2 314.0h.5M59.8 316.5h.5M68.3 318.1h.5M65.5 309.4h.5M66.4 316.9h.5M62.1 316.0h.5M73.5 309.9h.5M73.2 317.8h.5M58.1 319.3h.5M84.8 318.8h.5M71.3 313.7h.5M74.3 320.1h.5M60.4 318.7h.5M58.4 319.1h.5M70.0 307.7h.5M67.9 310.9h.5M76.8 316.5h.5M66.4 320.0h.5M73.4 320.6h.5M56.7 320.3h.5M60.5 316.3h.5M72.8 320.7h.5M75.9 315.7h.5M77.4 317.1h.5M64.1 307.9h.5M57.7 310.1h.5M68.3 305.2h.5M70.8 305.0h.5M76.7 312.1h.5M60.3 318.1h.5M75.4 314.7h.5M67.7 308.3h.5M65.7 317.2h.5M66.5 307.6h.5M76.4 312.8h.5M71.1 318.7h.5M64.7 320.6h.5M66.3 320.2h.5M71.7 302.2h.5M70.6 312.8h.5M71.0 313.0h.5M80.5 315.8h.5M82.5 313.7h.5M72.6 309.7h.5M73.0 314.8h.5M79.0 314.0h.5M65.7 318.4h.5M54.3 317.1h.5M76.0 312.3h.5M70.2 301.8h.5M63.6 308.0h.5M68.7 310.4h.5M57.6 317.1h.5M68.6 314.9h.5M55.4 316.3h.5M72.4 320.1h.5M69.5 319.2h.5M56.8 316.2h.5M75.3 320.7h.5M64.0 304.4h.5M80.8 312.3h.5M54.3 320.8h.5M58.8 313.6h.5M66.5 313.2h.5M77.9 314.9h.5M64.1 320.1h.5M63.5 312.3h.5M54.8 320.6h.5M68.7 311.6h.5M65.2 310.2h.5M62.7 311.5h.5M67.4 313.5h.5M74.2 318.4h.5M79.9 320.1h.5M72.2 312.5h.5M71.6 314.2h.5M72.1 317.9h.5M73.4 316.2h.5M74.9 319.0h.5M81.0 307.1h.5M76.5 319.7h.5M87.1 317.8h.5M61.3 319.9h.5M65.9 304.1h.5M56.3 318.4h.5M82.3 307.8h.5M74.1 314.8h.5M70.4 304.8h.5M67.1 305.1h.5M60.7 313.0h.5M68.9 310.8h.5M62.3 306.4h.5M64.9 309.3h.5M81.1 307.7h.5M61.2 309.1h.5M74.8 316.1h.5M59.5 312.5h.5M71.8 312.1h.5M67.2 315.7h.5M75.6 318.7h.5M67.7 314.3h.5M80.1 310.3h.5M71.8 311.3h.5M67.5 308.5h.5M75.5 318.8h.5M63.7 316.6h.5M57.1 320.7h.5M69.5 304.9h.5M65.9 318.0h.5M64.4 319.3h.5M69.1 319.5h.5M75.3 318.1h.5M78.7 305.8h.5M60.1 316.3h.5M61.0 308.9h.5M58.6 307.9h.5M76.1 319.6h.5M63.7 314.9h.5M59.1 317.3h.5M84.5 305.1h.5M64.2 317.8h.5M62.1 315.7h.5M68.6 314.8h.5M58.3 309.2h.5M61.1 317.0h.5M67.5 311.0h.5M72.4 318.5h.5M79.5 320.1h.5M85.4 317.6h.5M81.5 314.9h.5M55.6 316.5h.5M79.5 313.6h.5M78.2 319.9h.5M71.8 315.8h.5M67.2 319.8h.5M68.9 316.8h.5M82.1 320.2h.5M83.9 317.5h.5M64.0 316.3h.5M70.2 296.3h.5M62.4 313.1h.5M69.8 308.7h.5M59.4 311.6h.5M72.8 317.1h.5M77.6 314.1h.5M82.7 312.7h.5M84.9 311.2h.5M67.1 319.9h.5M84.7 313.2h.5M71.0 318.1h.5M72.0 304.4h.5M75.9 309.2h.5M70.1 305.7h.5M73.7 314.2h.5M67.7 318.2h.5M74.8 310.7h.5M59.0 319.6h.5M68.2 318.9h.5M78.9 309.7h.5M72.4 299.7h.5M78.7 308.9h.5M69.2 313.4h.5M80.8 317.3h.5M65.8 316.9h.5M83.5 319.8h.5M72.5 318.3h.5M64.3 308.3h.5M76.1 314.7h.5M84.4 318.0h.5M70.2 319.1h.5M81.1 318.1h.5M55.9 318.2h.5M64.5 318.4h.5M64.0 314.5h.5M74.0 314.1h.5M61.4 318.0h.5M81.6 314.9h.5M72.3 293.8h.5M66.8 318.1h.5M72.7 309.1h.5M65.0 294.3h.5M76.1 311.8h.5M78.9 317.2h.5M75.1 319.4h.5M70.7 309.7h.5M65.7 313.8h.5M67.1 320.4h.5M77.0 305.6h.5M86.6 319.2h.5M86.5 320.1h.5M73.5 317.8h.5M65.4 307.7h.5M76.0 312.6h.5M67.6 299.0h.5M61.6 320.7h.5M59.8 313.2h.5M67.1 314.3h.5M57.4 306.4h.5M62.2 318.5h.5M74.7 309.4h.5M66.0 317.3h.5M61.9 297.4h.5M70.5 313.1h.5M62.6 319.0h.5M62.7 315.6h.5M75.8 302.1h.5M85.3 318.5h.5M81.3 315.2h.5M79.1 320.6h.5M65.5 303.0h.5M62.8 318.8h.5M65.1 307.1h.5M60.6 314.0h.5M74.5 314.4h.5M55.7 317.5h.5M55.8 316.3h.5M72.3 316.1h.5M79.6 319.4h.5M57.3 319.1h.5M65.9 320.0h.5M61.0 319.7h.5M72.6 300.7h.5M71.0 316.6h.5M57.4 312.4h.5M70.9 301.6h.5M65.5 300.3h.5M82.1 318.9h.5M67.2 320.7h.5M62.8 320.5h.5M83.2 320.6h.5M73.3 294.4h.5M72.1 302.7h.5M62.2 320.7h.5M82.4 314.6h.5M57.2 320.5h.5M73.4 319.5h.5M61.0 311.9h.5M73.9 307.8h.5M75.9 319.0h.5M69.2 310.1h.5M66.9 313.5h.5M59.9 313.6h.5M76.8 310.7h.5M66.2 318.6h.5M61.6 314.5h.5M71.0 306.6h.5M61.6 313.8h.5M61.3 307.9h.5M73.5 295.8h.5M72.7 320.3h.5M81.8 317.8h.5M62.9 311.4h.5M63.2 319.7h.5M59.4 309.5h.5M77.3 319.9h.5M77.7 314.5h.5M71.1 318.2h.5M78.6 313.1h.5M71.8 315.2h.5M67.6 312.4h.5M69.1 298.3h.5M83.6 306.2h.5M71.1 310.5h.5M66.3 307.6h.5M74.2 319.4h.5M63.9 318.2h.5M65.8 306.2h.5M74.9 297.4h.5M57.2 319.7h.5M77.9 315.3h.5M70.6 320.2h.5M70.4 311.5h.5M63.3 318.3h.5M69.1 308.2h.5M65.6 320.4h.5M67.2 306.5h.5M82.8 309.4h.5M62.1 306.7h.5M81.4 306.4h.5M65.3 314.5h.5M60.1 315.8h.5M79.1 311.6h.5M61.6 316.0h.5M58.8 310.6h.5M77.1 318.9h.5M75.1 314.5h.5M64.8 311.8h.5M77.2 317.8h.5M67.4 320.1h.5M73.8 319.7h.5M71.4 306.9h.5M67.7 317.3h.5M76.3 316.8h.5M62.3 314.3h.5M60.3 314.0h.5M78.1 311.4h.5M65.1 314.0h.5M67.4 315.7h.5M71.8 308.7h.5M72.7 318.7h.5M82.7 319.9h.5M76.3 316.6h.5M81.9 305.5h.5M62.7 308.9h.5M75.4 315.7h.5M88.6 315.1h.5M65.7 309.9h.5M78.4 317.0h.5M65.2 310.3h.5M54.4 316.2h.5M67.6 314.3h.5M72.0 308.3h.5M73.1 319.8h.5M76.3 313.7h.5M74.2 310.5h.5M66.9 301.9h.5M80.0 316.4h.5M70.5 308.9h.5M69.0 301.0h.5M76.4 315.5h.5M61.4 318.8h.5M74.2 310.5h.5M82.1 318.5h.5M63.4 305.5h.5M74.8 306.7h.5M58.3 320.6h.5M86.9 319.0h.5M104.2 295.5h.5M101.6 299.3h.5M84.2 318.5h.5M102.9 307.8h.5M85.4 317.0h.5M102.1 301.6h.5M85.1 317.2h.5M87.1 315.1h.5M88.3 319.2h.5M92.7 316.9h.5M93.7 317.5h.5M91.8 316.9h.5M98.7 302.6h.5M85.4 317.6h.5M99.5 311.3h.5M92.5 308.7h.5M85.6 318.5h.5M90.0 316.1h.5M104.2 300.0h.5M89.4 305.6h.5M101.7 308.5h.5M85.0 306.1h.5M99.4 313.5h.5M92.7 300.7h.5M106.2 278.6h.5M101.6 305.9h.5M85.4 317.7h.5M86.8 310.8h.5M86.1 314.5h.5M93.3 317.7h.5M91.4 307.3h.5M103.3 302.5h.5M89.4 318.3h.5M87.9 318.8h.5M93.0 308.0h.5M93.7 315.0h.5M93.3 315.9h.5M103.1 294.8h.5M95.3 314.2h.5M100.3 305.3h.5M98.0 312.6h.5M103.4 305.0h.5M87.2 318.5h.5M85.2 316.7h.5M97.0 316.8h.5M87.1 319.8h.5M91.0 319.2h.5M101.0 310.2h.5M95.7 315.3h.5M95.9 315.9h.5M99.7 306.0h.5M101.9 308.0h.5M103.0 302.2h.5M95.2 316.1h.5M97.5 315.3h.5M94.1 316.9h.5M104.8 297.6h.5M90.7 303.0h.5M101.7 308.4h.5M101.3 309.6h.5M91.9 306.0h.5M89.0 318.3h.5M96.8 315.8h.5M89.0 316.7h.5M89.1 307.9h.5M89.2 317.9h.5M94.3 317.5h.5M100.0 315.1h.5M98.0 312.9h.5M87.6 320.4h.5M99.0 315.6h.5M85.8 317.0h.5M84.6 320.0h.5M89.4 319.5h.5M89.5 319.9h.5M88.5 312.1h.5M94.9 315.6h.5M97.9 315.9h.5M87.8 318.1h.5M95.3 312.2h.5M86.5 320.0h.5M86.6 319.5h.5M85.9 311.8h.5M102.2 308.6h.5M98.6 314.9h.5M104.8 295.1h.5M94.4 310.5h.5M102.3 283.8h.5M97.1 309.0h.5M90.2 319.0h.5M87.3 318.3h.5M87.9 316.4h.5M84.5 318.1h.5M99.3 304.2h.5M100.6 311.1h.5M97.2 287.5h.5M88.1 320.8h.5M93.9 293.0h.5M89.4 316.3h.5M91.8 318.3h.5M96.1 314.0h.5M99.8 309.6h.5M88.5 315.5h.5M98.5 316.3h.5M101.5 305.9h.5M101.3 308.4h.5M97.3 312.5h.5M94.7 315.8h.5M86.9 317.8h.5M97.6 306.5h.5M93.4 318.2h.5M92.8 317.7h.5M86.9 316.0h.5M88.7 316.8h.5M100.9 310.6h.5M101.6 306.8h.5M104.3 292.9h.5M86.2 319.1h.5M87.2 318.0h.5M95.7 315.0h.5M100.4 305.1h.5M97.8 314.7h.5M99.7 312.6h.5M104.2 292.5h.5M86.4 314.5h.5M100.0 311.8h.5M90.2 312.1h.5M94.9 316.0h.5M86.4 318.1h.5M96.0 317.2h.5M86.7 314.8h.5M89.6 283.2h.5M101.0 302.6h.5M85.6 318.7h.5M91.1 277.8h.5M90.6 318.0h.5M97.7 315.0h.5M99.4 306.2h.5M86.4 316.6h.5M85.5 317.7h.5M100.4 310.0h.5M90.2 317.8h.5M84.4 318.3h.5M93.1 317.4h.5M86.5 314.6h.5M97.8 313.8h.5M102.0 307.9h.5M89.6 315.2h.5M94.8 293.5h.5M90.6 317.6h.5M90.8 319.6h.5M96.3 310.4h.5M99.1 310.2h.5M87.0 319.8h.5M101.3 308.2h.5M104.5 301.7h.5M91.1 317.0h.5M101.1 307.5h.5M103.0 299.8h.5M97.5 314.7h.5M98.1 313.2h.5M99.2 316.4h.5M83.8 317.7h.5M100.3 308.6h.5M99.8 313.9h.5M85.2 317.4h.5M90.9 319.6h.5M97.4 315.0h.5M100.0 310.2h.5M107.6 273.9h.5M102.7 301.3h.5M89.0 315.5h.5M100.5 305.1h.5M83.8 318.7h.5M93.7 313.1h.5M89.3 312.0h.5M97.3 315.7h.5M100.8 298.0h.5M96.0 308.4h.5M92.4 310.9h.5M98.0 306.0h.5M92.0 317.4h.5M94.0 311.5h.5M89.7 318.5h.5M93.6 317.9h.5M103.1 303.0h.5M96.1 315.1h.5M99.8 305.4h.5M98.8 314.2h.5M101.0 308.4h.5M98.8 315.4h.5M98.8 310.2h.5M86.2 317.2h.5M87.4 311.2h.5M89.7 310.8h.5M106.1 283.0h.5M95.1 305.2h.5M86.7 318.2h.5M102.8 292.2h.5M101.6 301.3h.5M93.7 314.6h.5M88.5 318.0h.5M84.4 319.3h.5M96.3 313.8h.5M94.4 307.9h.5M101.4 309.3h.5M98.3 312.9h.5M102.6 305.1h.5M101.2 307.4h.5M100.7 305.6h.5M98.2 310.7h.5M97.9 307.2h.5M93.6 313.5h.5M84.9 313.0h.5M91.9 317.4h.5M95.2 307.1h.5M88.1 311.6h.5M102.5 312.0h.5M104.5 305.4h.5M100.9 311.1h.5M99.6 310.9h.5M101.6 291.9h.5M88.5 317.9h.5M99.0 313.6h.5M100.0 313.2h.5M101.4 310.9h.5M98.4 304.4h.5M101.2 296.2h.5M100.8 309.9h.5M90.0 307.4h.5M94.5 318.4h.5M100.4 305.9h.5M96.0 306.7h.5M98.4 315.3h.5M102.6 302.4h.5M102.9 305.6h.5M96.9 316.4h.5M95.3 316.8h.5M99.9 301.1h.5M88.7 317.2h.5M101.8 307.1h.5M103.4 304.3h.5M95.7 316.7h.5M95.9 315.7h.5M85.9 318.0h.5M96.4 307.3h.5M91.9 312.9h.5M91.7 318.8h.5M101.0 299.6h.5M98.3 298.0h.5M95.8 314.2h.5M104.8 296.3h.5M99.1 297.1h.5M84.4 300.7h.5M95.0 318.5h.5M101.0 307.4h.5M102.6 303.4h.5M91.6 309.2h.5M91.8 318.0h.5M84.9 313.9h.5M100.4 308.8h.5M85.2 316.6h.5M87.9 311.6h.5M96.2 315.5h.5M103.2 294.0h.5M90.8 308.1h.5M98.9 313.3h.5M100.8 302.6h.5M101.5 309.2h.5M85.8 314.5h.5M94.8 315.8h.5M99.9 311.2h.5M103.0 301.0h.5M94.2 316.8h.5M90.6 304.2h.5M96.9 312.6h.5M100.7 306.7h.5M100.3 309.8h.5M96.0 315.5h.5M86.0 318.5h.5M104.6 300.8h.5M84.0 318.1h.5M86.4 320.2h.5M99.0 302.1h.5M93.9 298.0h.5M91.3 314.2h.5M84.1 318.3h.5M96.8 315.9h.5M89.8 318.6h.5M92.0 314.8h.5M99.9 311.7h.5M98.3 314.7h.5M86.5 317.7h.5M88.4 314.3h.5M100.8 309.7h.5M101.6 308.1h.5M98.9 305.3h.5M100.2 309.8h.5M96.8 314.0h.5M98.0 313.5h.5M98.6 309.7h.5M86.2 320.6h.5M84.8 318.8h.5M98.5 313.4h.5M88.0 320.6h.5M91.8 320.2h.5M86.5 320.9h.5M86.9 307.6h.5M86.3 312.8h.5M104.4 301.4h.5M86.1 318.3h.5M96.5 317.4h.5M100.5 310.5h.5M86.8 300.1h.5M84.4 318.4h.5M104.0 305.4h.5M86.2 319.8h.5M102.2 304.2h.5M86.1 320.1h.5M88.8 314.2h.5M101.4 308.9h.5M104.4 283.3h.5M97.0 311.5h.5M96.9 314.4h.5M85.2 317.0h.5M90.2 316.6h.5M93.5 316.4h.5M93.8 314.4h.5M88.1 319.7h.5M105.2 294.4h.5M92.7 316.9h.5M95.8 316.6h.5M101.4 309.0h.5M85.4 318.2h.5M102.1 303.1h.5M96.0 298.8h.5M92.6 311.4h.5M94.8 318.0h.5M84.7 318.4h.5M98.5 313.1h.5M98.9 312.8h.5M90.6 318.0h.5M95.7 318.2h.5M87.7 304.0h.5M87.9 304.7h.5M83.8 317.8h.5M101.6 313.3h.5M104.7 284.0h.5M92.5 318.3h.5M86.9 316.9h.5M105.9 292.9h.5M103.6 301.3h.5M91.0 318.0h.5M88.6 319.8h.5M99.0 312.1h.5M99.6 309.7h.5M104.2 305.3h.5M91.9 317.0h.5M86.1 320.0h.5M95.3 319.4h.5M97.9 309.3h.5M101.2 304.6h.5M95.2 315.2h.5M92.0 316.3h.5M86.2 293.7h.5M92.5 312.2h.5M94.9 317.0h.5M83.9 319.8h.5M90.8 315.6h.5M102.6 299.4h.5M98.0 310.8h.5M98.4 305.4h.5M85.3 314.8h.5M100.5 309.7h.5M89.3 299.8h.5M96.5 316.3h.5M103.6 303.8h.5M90.5 318.7h.5M94.7 316.7h.5M102.0 307.9h.5M86.5 320.0h.5M103.4 300.8h.5M91.5 316.6h.5M100.1 312.0h.5M93.4 317.7h.5M88.4 320.8h.5M93.6 317.3h.5M95.3 313.3h.5M98.7 312.4h.5M95.0 318.7h.5M96.3 313.7h.5M99.5 311.4h.5M97.7 306.3h.5M92.4 320.1h.5M106.3 283.8h.5M99.6 305.3h.5M100.1 310.8h.5M86.0 316.9h.5M91.0 318.2h.5M86.1 300.3h.5M100.3 309.0h.5M100.7 308.7h.5M99.9 316.2h.5M97.5 314.8h.5M95.9 316.3h.5M89.5 319.5h.5M94.6 309.2h.5M98.0 311.3h.5M103.8 291.5h.5M90.1 316.2h.5M84.8 317.5h.5M103.4 306.2h.5M103.4 308.3h.5M93.3 310.9h.5M99.6 313.5h.5M92.3 312.8h.5M101.3 306.3h.5M100.2 309.2h.5M85.4 314.4h.5M101.1 295.9h.5M100.1 307.9h.5M100.1 312.1h.5M101.9 307.4h.5M88.4 317.4h.5M90.2 317.6h.5M98.4 316.3h.5M87.6 317.1h.5M98.9 311.6h.5M104.1 304.6h.5M98.4 312.7h.5M100.7 313.2h.5M100.7 310.6h.5M88.0 311.2h.5M99.1 301.4h.5M100.9 313.0h.5M84.7 318.6h.5M91.7 310.2h.5M90.2 318.4h.5M94.0 317.4h.5M101.1 278.1h.5M96.7 316.6h.5M105.7 297.2h.5M100.0 311.4h.5M91.3 313.5h.5M95.5 313.6h.5M100.5 305.6h.5M88.1 320.4h.5M94.7 318.3h.5M95.2 317.4h.5M91.8 313.0h.5M95.3 317.4h.5M90.9 318.4h.5M90.0 318.9h.5M100.0 307.2h.5M87.4 317.6h.5M90.4 317.2h.5M98.1 314.9h.5M91.2 310.0h.5M96.0 316.9h.5M96.6 310.6h.5M82.9 302.2h.5M92.7 317.8h.5M97.1 313.9h.5M93.6 314.4h.5M96.7 314.3h.5M100.0 311.3h.5M88.8 312.9h.5M98.7 307.5h.5M99.4 308.8h.5M105.4 290.7h.5M102.1 310.7h.5M86.0 316.1h.5M101.8 310.9h.5M88.6 309.9h.5M99.4 311.5h.5M90.0 301.8h.5M83.9 317.9h.5M102.2 307.4h.5M90.6 313.2h.5M99.9 311.4h.5M101.9 308.6h.5M88.5 320.3h.5M101.6 298.2h.5M88.0 317.4h.5M98.7 307.8h.5M93.2 314.6h.5M87.1 318.0h.5M94.4 314.2h.5M94.7 317.9h.5M89.3 319.1h.5M100.2 311.3h.5M95.0 307.5h.5M102.4 310.5h.5M100.2 308.6h.5M91.2 315.0h.5M84.1 318.6h.5M85.3 318.1h.5M95.9 311.4h.5M102.3 304.4h.5M96.4 316.2h.5M96.8 311.4h.5M91.2 317.5h.5M89.2 320.5h.5M101.2 300.8h.5M101.9 311.4h.5M98.6 315.6h.5M106.8 289.6h.5M93.8 294.1h.5M97.6 313.9h.5M103.2 303.4h.5M89.7 306.6h.5M102.1 311.8h.5M85.6 319.2h.5M96.6 308.5h.5M103.7 295.8h.5M87.9 318.3h.5M98.1 296.2h.5M102.2 309.9h.5M92.1 305.5h.5M99.1 309.7h.5M102.1 302.3h.5M96.8 304.1h.5M98.5 307.2h.5M84.4 318.5h.5M91.7 318.3h.5M94.6 318.4h.5M102.7 309.4h.5M97.2 312.7h.5M87.5 314.9h.5M86.3 318.4h.5M100.6 307.1h.5M85.3 316.8h.5M98.8 316.8h.5M91.3 310.3h.5M90.9 318.9h.5M96.8 317.0h.5M91.2 311.5h.5M90.2 317.8h.5M96.6 310.8h.5M93.8 318.0h.5M99.7 284.6h.5M92.9 319.0h.5M105.7 289.5h.5M99.4 308.4h.5M97.1 306.4h.5M103.5 292.0h.5M87.7 318.5h.5M91.7 316.5h.5M92.4 317.2h.5M90.9 312.8h.5M103.2 297.6h.5M101.9 300.3h.5M84.4 319.7h.5M88.4 318.5h.5M100.4 311.7h.5M58.1 269.8h.5M89.3 316.4h.5M92.9 312.4h.5M103.6 300.3h.5M95.9 317.0h.5M98.1 315.9h.5M102.3 309.2h.5M90.1 310.6h.5M98.6 312.4h.5M103.0 302.6h.5M98.3 315.2h.5M97.6 315.8h.5M88.6 318.5h.5M92.9 318.6h.5M90.1 317.2h.5M87.4 319.8h.5M99.6 313.5h.5M103.0 308.4h.5M96.5 315.3h.5M101.5 311.9h.5M93.3 287.5h.5M91.8 319.3h.5M101.6 300.4h.5M98.4 312.9h.5M90.5 313.2h.5M95.2 306.2h.5M89.1 316.8h.5M102.4 281.5h.5M101.2 303.0h.5M105.3 297.4h.5M101.5 305.4h.5M91.3 309.8h.5M95.1 315.9h.5M105.1 297.5h.5M103.1 299.0h.5M100.3 305.4h.5M92.0 318.7h.5M101.2 306.0h.5M95.2 310.0h.5M85.1 317.0h.5M101.0 313.7h.5M103.8 307.7h.5M90.8 317.0h.5M89.1 317.7h.5M101.6 311.2h.5M95.7 315.1h.5M98.3 310.1h.5M94.0 305.0h.5M88.8 316.9h.5M89.7 308.0h.5M101.3 310.9h.5M99.5 311.1h.5M99.3 314.3h.5M85.0 318.1h.5M99.2 314.5h.5M100.6 308.2h.5M91.7 318.7h.5M87.0 317.1h.5M84.6 315.0h.5M101.2 305.1h.5M99.8 314.7h.5M87.7 319.7h.5M96.6 317.2h.5M96.3 312.7h.5M89.5 315.6h.5M86.6 316.7h.5M101.0 307.6h.5M99.0 309.3h.5M105.8 290.0h.5M101.1 314.3h.5M88.9 320.3h.5M91.1 318.0h.5M83.8 301.2h.5M96.1 316.7h.5M87.5 302.9h.5M99.6 310.8h.5M104.8 291.9h.5M98.7 308.3h.5M87.6 317.2h.5M96.5 317.7h.5M98.3 311.7h.5M95.5 315.4h.5M101.8 304.2h.5M100.2 301.3h.5M85.0 304.4h.5M83.8 315.0h.5M88.0 319.6h.5M95.0 304.0h.5M97.3 315.1h.5M95.8 315.5h.5M89.7 317.9h.5M103.5 305.0h.5M103.1 307.3h.5M94.7 315.2h.5M85.6 317.1h.5M103.6 299.5h.5M98.8 305.2h.5M96.7 315.9h.5M88.0 315.3h.5M102.8 307.4h.5M86.8 289.0h.5M87.0 319.0h.5M88.5 316.5h.5M100.8 304.1h.5M98.7 314.2h.5M99.7 311.4h.5M106.1 296.9h.5M89.5 306.7h.5M90.6 318.3h.5M101.7 304.8h.5M88.0 318.6h.5M101.8 301.8h.5M86.1 316.0h.5M95.6 315.4h.5M103.7 295.5h.5M84.5 317.0h.5M104.5 308.9h.5M98.4 315.8h.5M102.0 305.8h.5M102.7 308.9h.5M102.8 286.5h.5M85.6 318.9h.5M87.0 311.6h.5M100.5 313.3h.5M101.9 306.9h.5M94.2 302.7h.5M89.6 304.4h.5M99.5 314.1h.5M92.2 290.4h.5M95.8 312.1h.5M103.2 304.9h.5M98.9 310.8h.5M87.9 316.2h.5M104.3 296.8h.5M103.1 291.2h.5M89.3 316.9h.5M94.7 319.3h.5M94.9 316.1h.5M92.9 311.3h.5M100.1 308.6h.5M91.0 309.2h.5M96.2 305.1h.5M84.0 318.9h.5M99.4 311.8h.5M99.5 310.1h.5M95.2 315.6h.5M92.2 309.5h.5M97.3 314.8h.5M98.4 312.2h.5M85.5 317.5h.5M94.4 317.0h.5M101.8 304.0h.5M102.8 304.0h.5M93.5 310.2h.5M92.5 309.0h.5M85.8 319.8h.5M95.0 314.2h.5M103.6 294.9h.5M99.4 309.7h.5M103.6 291.5h.5M99.3 310.3h.5M90.0 309.9h.5M100.2 308.6h.5M97.0 310.2h.5M103.2 303.4h.5M101.0 308.0h.5M90.6 316.8h.5M99.4 309.0h.5M92.2 317.6h.5M99.5 311.4h.5M98.6 304.1h.5M106.1 285.7h.5M94.3 315.9h.5M85.9 304.2h.5M95.0 316.3h.5M94.0 318.5h.5M99.8 311.7h.5M100.0 307.9h.5M88.4 314.9h.5M101.1 313.1h.5M102.1 310.3h.5M88.4 317.2h.5M93.0 303.1h.5M101.4 304.1h.5M97.6 301.1h.5M102.3 302.3h.5M100.4 310.7h.5M92.7 317.3h.5M91.4 317.4h.5M101.3 305.9h.5M94.8 313.5h.5M89.1 311.1h.5M85.4 318.7h.5M99.3 312.7h.5M99.4 311.0h.5M107.1 284.3h.5M98.0 315.4h.5M89.0 318.0h.5M94.4 316.1h.5M101.5 307.7h.5M91.8 310.6h.5M102.4 307.1h.5M104.6 295.4h.5M102.7 305.9h.5M103.1 301.1h.5M99.8 311.9h.5M100.5 314.4h.5M93.5 314.6h.5M99.1 315.1h.5M101.7 302.5h.5M101.7 313.9h.5M105.8 291.1h.5M90.1 315.5h.5M97.6 313.3h.5M99.9 312.4h.5M86.5 318.9h.5M88.4 317.7h.5M85.4 320.7h.5M91.0 318.8h.5M103.3 292.9h.5M103.4 302.3h.5M103.5 301.1h.5M103.3 296.3h.5M84.3 318.0h.5M97.7 313.9h.5M98.7 311.1h.5M91.7 317.4h.5M95.9 317.9h.5M88.2 320.1h.5M97.4 317.0h.5M105.3 293.1h.5M92.2 311.7h.5M92.2 318.2h.5M105.4 285.8h.5M100.0 310.4h.5M99.8 308.2h.5M88.6 317.1h.5M87.7 318.0h.5M91.1 317.5h.5M98.4 312.0h.5M96.0 316.5h.5M97.9 307.0h.5M100.9 309.4h.5M96.6 311.6h.5M97.1 316.1h.5M103.5 295.6h.5M88.9 306.4h.5M98.6 308.8h.5M102.4 295.3h.5M97.9 308.0h.5M87.1 317.7h.5M102.4 302.7h.5M89.2 316.3h.5M89.6 314.9h.5M88.9 304.8h.5M104.1 297.7h.5M103.3 299.4h.5M95.3 313.5h.5M82.5 293.1h.5M95.9 313.4h.5M94.6 314.4h.5M99.9 310.9h.5M88.4 320.0h.5M88.9 318.8h.5M93.3 305.1h.5M90.7 319.0h.5M89.0 318.0h.5M90.0 314.7h.5M106.5 279.8h.5M99.4 316.2h.5M100.9 312.1h.5M101.1 310.1h.5M84.3 316.4h.5M85.3 320.3h.5M101.5 311.9h.5M102.7 310.8h.5M100.1 305.9h.5M85.1 315.2h.5M98.3 308.4h.5M88.6 317.1h.5M98.0 316.7h.5M100.3 310.7h.5M103.7 301.2h.5M102.5 306.4h.5M103.2 293.4h.5M91.1 305.0h.5M94.0 308.2h.5M104.1 295.7h.5M103.0 293.9h.5M103.3 306.6h.5M97.6 306.9h.5M101.0 310.5h.5M98.3 274.9h.5M95.0 315.4h.5M89.5 314.8h.5M100.2 309.3h.5M85.5 318.0h.5M95.8 315.3h.5M86.7 318.6h.5M104.6 297.8h.5M103.6 298.0h.5M95.9 313.6h.5M103.4 305.1h.5M94.8 315.5h.5M90.3 310.0h.5M101.8 303.7h.5M98.4 297.4h.5M97.4 313.5h.5M88.0 318.8h.5M102.0 304.2h.5M94.0 317.5h.5M92.4 315.2h.5M92.9 319.1h.5M88.3 308.8h.5M91.9 317.8h.5M98.0 290.9h.5M84.7 317.4h.5M101.4 307.7h.5M94.5 317.4h.5M96.0 316.3h.5M96.9 307.7h.5M100.0 314.2h.5M87.1 318.1h.5M103.3 304.1h.5M98.9 311.6h.5M85.8 317.9h.5M97.2 314.1h.5M83.8 310.2h.5M100.3 314.1h.5M92.8 318.9h.5M94.5 313.1h.5M94.4 319.0h.5M104.6 297.6h.5M102.7 309.7h.5M96.6 314.7h.5M97.2 311.9h.5M86.9 316.2h.5M95.1 310.8h.5M91.1 318.5h.5M87.8 317.3h.5M102.7 309.0h.5M86.0 316.7h.5M83.1 317.4h.5M85.8 317.5h.5M98.5 312.2h.5M103.0 311.5h.5M93.1 318.2h.5M104.3 295.7h.5M102.7 303.5h.5M97.3 315.0h.5M99.8 311.8h.5M92.1 303.8h.5M92.1 310.9h.5M91.2 314.0h.5M104.2 299.6h.5M100.9 309.7h.5M84.9 318.3h.5M92.4 318.6h.5M90.2 315.5h.5M87.7 318.3h.5M98.5 311.9h.5M101.7 308.5h.5M97.2 317.0h.5M102.7 304.6h.5M88.0 317.1h.5M91.7 315.9h.5M105.2 285.9h.5M97.2 303.1h.5M96.2 312.5h.5M98.8 310.9h.5M81.8 300.7h.5M97.1 317.1h.5M98.1 300.4h.5M90.1 308.2h.5M101.6 296.4h.5M89.3 317.2h.5M92.0 310.0h.5M96.4 313.5h.5M89.7 318.7h.5M92.1 315.5h.5M95.1 313.1h.5M100.6 306.8h.5M86.3 319.0h.5M94.4 316.5h.5M106.1 297.2h.5M89.4 306.8h.5M84.2 320.6h.5M92.2 318.7h.5M99.7 305.8h.5M103.7 300.8h.5M94.6 317.6h.5M99.8 305.8h.5M83.9 318.3h.5M87.4 320.0h.5M98.9 311.0h.5M94.5 316.7h.5M94.6 316.4h.5M101.8 296.5h.5M88.4 319.3h.5M99.5 308.9h.5M100.7 304.1h.5M89.0 319.3h.5M103.8 305.1h.5M90.3 319.6h.5M89.3 314.8h.5M103.5 300.2h.5M90.5 315.5h.5M88.7 317.6h.5M97.2 316.0h.5M98.5 308.8h.5M93.0 316.2h.5M95.9 314.9h.5M99.5 313.0h.5M98.5 313.7h.5M94.2 318.5h.5M88.2 315.2h.5M89.2 316.9h.5M98.3 312.8h.5M89.2 319.0h.5M98.0 314.5h.5M104.3 297.4h.5M86.8 316.6h.5M89.2 318.6h.5M103.5 302.3h.5M106.8 284.4h.5M85.7 318.1h.5M101.5 302.3h.5M103.3 300.4h.5M91.0 318.2h.5M88.8 308.3h.5M96.0 317.4h.5M97.3 315.0h.5M100.3 312.2h.5M103.8 305.5h.5M94.3 315.9h.5M98.5 315.4h.5M97.0 312.3h.5M101.0 309.7h.5M104.8 299.3h.5M96.2 315.9h.5M104.6 289.7h.5M97.2 298.6h.5M92.4 272.0h.5M98.2 314.6h.5M101.9 303.3h.5M89.9 317.9h.5M98.9 300.5h.5M100.4 309.9h.5M103.3 284.1h.5M90.5 319.6h.5M98.2 308.3h.5M84.8 300.8h.5M102.9 306.5h.5M90.7 309.9h.5M99.4 307.9h.5M98.9 310.4h.5M94.3 308.1h.5M102.9 297.2h.5M85.0 318.2h.5M102.2 301.6h.5M100.6 302.6h.5M100.3 308.2h.5M102.7 297.2h.5M105.1 292.9h.5M89.4 319.1h.5M95.8 285.3h.5M94.9 313.4h.5M88.8 318.9h.5M87.7 319.1h.5M93.0 313.4h.5M92.4 315.9h.5M100.2 312.9h.5M100.4 308.9h.5M96.7 312.7h.5M98.2 304.8h.5M96.0 299.9h.5M96.5 310.5h.5M93.1 314.4h.5M96.3 316.2h.5M87.6 311.2h.5M102.2 306.8h.5M92.4 317.9h.5M89.6 317.5h.5M92.5 317.6h.5M94.2 317.3h.5M101.8 312.1h.5M95.5 306.0h.5M65.3 318.4h.5M82.1 279.3h.5M94.7 285.7h.5M81.1 292.8h.5M107.3 305.7h.5M90.3 269.0h.5M107.4 310.0h.5M73.4 302.8h.5M86.9 297.8h.5M77.7 289.2h.5M94.6 304.3h.5M111.7 296.3h.5M103.6 288.6h.5M54.6 292.2h.5M80.6 320.3h.5M57.0 266.9h.5M106.9 304.2h.5M62.7 270.1h.5M113.0 317.7h.5M82.0 308.4h.5M108.8 292.0h.5M88.0 310.1h.5M76.6 305.9h.5M58.1 317.4h.5M75.9 306.8h.5M60.5 300.5h.5M102.0 310.7h.5M94.1 303.9h.5M73.7 317.3h.5M55.6 320.2h.5M90.3 279.6h.5M101.8 316.5h.5M103.6 320.4h.5M72.5 301.7h.5M88.5 288.8h.5M73.3 317.2h.5M112.1 304.2h.5M106.9 307.0h.5M73.1 282.6h.5M76.1 318.5h.5M69.1 276.4h.5M94.1 286.5h.5M70.0 305.1h.5M67.5 292.2h.5M83.8 295.0h.5M103.1 317.0h.5M113.6 311.1h.5M92.8 317.5h.5M79.7 320.6h.5M98.4 291.7h.5M87.8 307.5h.5M106.0 295.7h.5M110.3 319.6h.5M69.7 279.2h.5M92.7 267.2h.5M64.9 309.4h.5M104.3 318.2h.5M108.4 319.3h.5M100.9 319.6h.5M93.3 308.9h.5M95.7 320.6h.5M69.1 312.4h.5M87.7 273.8h.5M80.8 315.9h.5M89.2 306.7h.5M95.2 291.5h.5M113.7 295.8h.5M91.2 311.4h.5M67.5 281.4h.5M109.0 288.6h.5M91.1 305.6h.5M97.2 311.0h.5M77.8 314.8h.5M94.6 274.4h.5M99.2 302.7h.5M101.2 306.5h.5M58.5 297.7h.5M104.9 283.8h.5M86.2 311.2h.5M113.4 318.7h.5M62.2 310.8h.5M100.7 299.8h.5M76.7 313.0h.5M82.7 320.6h.5M57.6 316.3h.5M85.9 289.8h.5M85.4 302.1h.5M111.1 274.4h.5M64.9 278.5h.5M55.0 266.2h.5M57.2 265.5h.5M68.1 282.4h.5M57.6 320.8h.5M106.4 308.6h.5M69.7 282.3h.5M68.2 320.2h.5M108.3 286.4h.5M60.5 289.5h.5M112.3 295.5h.5M84.0 305.3h.5M71.2 307.6h.5M59.6 290.6h.5M109.8 284.5h.5M91.0 316.6h.5M89.4 283.0h.5M103.4 317.7h.5M66.1 319.4h.5M76.4 290.2h.5M103.7 319.0h.5M77.7 278.6h.5M54.5 317.6h.5M71.3 292.1h.5M100.9 278.0h.5M57.3 299.4h.5M90.8 317.8h.5M89.5 279.4h.5M69.5 267.4h.5M98.6 300.7h.5M67.4 312.3h.5M68.7 281.5h.5M55.3 292.1h.5M92.9 303.5h.5M102.0 295.0h.5M67.1 303.6h.5M80.7 316.8h.5M77.6 318.9h.5M110.9 317.4h.5M90.6 296.5h.5M61.3 276.9h.5M56.5 275.4h.5M106.7 283.1h.5M55.0 275.4h.5M63.5 286.1h.5M80.9 303.4h.5M97.5 294.5h.5M95.6 294.0h.5M80.2 313.2h.5M72.7 304.3h.5M111.1 283.5h.5M62.6 314.9h.5M74.3 319.4h.5M84.8 318.2h.5M61.3 316.8h.5M59.2 306.2h.5M56.0 319.9h.5M86.0 310.8h.5M60.5 306.8h.5M78.4 320.7h.5M66.1 310.7h.5M74.2 311.0h.5M105.6 304.9h.5M60.1 300.2h.5M68.1 300.7h.5M105.1 320.2h.5M101.4 292.0h.5M72.5 302.3h.5M65.1 319.2h.5M111.4 291.6h.5M89.0 277.3h.5M74.8 317.5h.5M66.6 314.6h.5M98.3 320.1h.5M79.2 308.9h.5M74.4 315.4h.5M57.6 312.5h.5M62.2 302.8h.5M80.7 317.4h.5M87.3 313.6h.5M107.5 312.3h.5M80.2 306.0h.5M71.9 281.9h.5M61.6 294.6h.5M104.7 319.4h.5M59.9 304.7h.5M67.7 319.6h.5M101.9 273.7h.5M61.5 319.6h.5M81.7 298.7h.5M103.1 300.2h.5M56.8 270.3h.5M112.5 271.3h.5M65.6 320.1h.5M75.2 312.0h.5M56.4 296.0h.5M74.0 285.2h.5M64.3 318.0h.5M111.3 268.9h.5M77.5 304.2h.5M93.8 302.8h.5M72.5 306.9h.5M110.4 306.8h.5M107.1 273.6h.5M64.5 320.3h.5M59.4 319.4h.5M108.0 320.8h.5M111.9 316.7h.5M71.0 296.6h.5M58.5 317.6h.5M53.8 293.9h.5M106.7 297.2h.5" stroke="#000" stroke-width=".5" stroke-opacity=".6" fill="none"/>
<rect x="52.8" y="260.3" width="62.0" height="61.5" fill="none" stroke="#777" stroke-width="0.55"/>
<line x1="83.1" y1="260.3" x2="83.1" y2="321.8" stroke="#666" stroke-width="0.55"/>
<line x1="51.199999999999996" y1="320.2" x2="52.8" y2="320.2" stroke="#555" stroke-width="0.5"/>
<text x="50.2" y="321.3" font-size="3.3" text-anchor="end" font-weight="normal" fill="#222" class="t">0</text>
<line x1="51.199999999999996" y1="308.9" x2="52.8" y2="308.9" stroke="#555" stroke-width="0.5"/>
<text x="50.2" y="310.0" font-size="3.3" text-anchor="end" font-weight="normal" fill="#222" class="t">50</text>
<line x1="51.199999999999996" y1="297.59999999999997" x2="52.8" y2="297.59999999999997" stroke="#555" stroke-width="0.5"/>
<text x="50.2" y="298.7" font-size="3.3" text-anchor="end" font-weight="normal" fill="#222" class="t">100</text>
<line x1="51.199999999999996" y1="286.3" x2="52.8" y2="286.3" stroke="#555" stroke-width="0.5"/>
<text x="50.2" y="287.4" font-size="3.3" text-anchor="end" font-weight="normal" fill="#222" class="t">150</text>
<line x1="51.199999999999996" y1="275.0" x2="52.8" y2="275.0" stroke="#555" stroke-width="0.5"/>
<text x="50.2" y="276.1" font-size="3.3" text-anchor="end" font-weight="normal" fill="#222" class="t">200</text>
<line x1="51.199999999999996" y1="263.7" x2="52.8" y2="263.7" stroke="#555" stroke-width="0.5"/>
<text x="50.2" y="264.8" font-size="3.3" text-anchor="end" font-weight="normal" fill="#222" class="t">250</text>
<line x1="52.0" y1="320.2" x2="52.8" y2="320.2" stroke="#888" stroke-width="0.3"/>
<line x1="52.0" y1="317.94" x2="52.8" y2="317.94" stroke="#888" stroke-width="0.3"/>
<line x1="52.0" y1="315.68" x2="52.8" y2="315.68" stroke="#888" stroke-width="0.3"/>
<line x1="52.0" y1="313.42" x2="52.8" y2="313.42" stroke="#888" stroke-width="0.3"/>
<line x1="52.0" y1="311.15999999999997" x2="52.8" y2="311.15999999999997" stroke="#888" stroke-width="0.3"/>
<line x1="52.0" y1="308.9" x2="52.8" y2="308.9" stroke="#888" stroke-width="0.3"/>
<line x1="52.0" y1="306.64" x2="52.8" y2="306.64" stroke="#888" stroke-width="0.3"/>
<line x1="52.0" y1="304.38" x2="52.8" y2="304.38" stroke="#888" stroke-width="0.3"/>
<line x1="52.0" y1="302.12" x2="52.8" y2="302.12" stroke="#888" stroke-width="0.3"/>
<line x1="52.0" y1="299.86" x2="52.8" y2="299.86" stroke="#888" stroke-width="0.3"/>
<line x1="52.0" y1="297.59999999999997" x2="52.8" y2="297.59999999999997" stroke="#888" stroke-width="0.3"/>
<line x1="52.0" y1="295.34" x2="52.8" y2="295.34" stroke="#888" stroke-width="0.3"/>
<line x1="52.0" y1="293.08" x2="52.8" y2="293.08" stroke="#888" stroke-width="0.3"/>
<line x1="52.0" y1="290.82" x2="52.8" y2="290.82" stroke="#888" stroke-width="0.3"/>
<line x1="52.0" y1="288.56" x2="52.8" y2="288.56" stroke="#888" stroke-width="0.3"/>
<line x1="52.0" y1="286.3" x2="52.8" y2="286.3" stroke="#888" stroke-width="0.3"/>
<line x1="52.0" y1="284.03999999999996" x2="52.8" y2="284.03999999999996" stroke="#888" stroke-width="0.3"/>
<line x1="52.0" y1="281.78" x2="52.8" y2="281.78" stroke="#888" stroke-width="0.3"/>
<line x1="52.0" y1="279.52" x2="52.8" y2="279.52" stroke="#888" stroke-width="0.3"/>
<line x1="52.0" y1="277.26" x2="52.8" y2="277.26" stroke="#888" stroke-width="0.3"/>
<line x1="52.0" y1="275.0" x2="52.8" y2="275.0" stroke="#888" stroke-width="0.3"/>
<line x1="52.0" y1="272.74" x2="52.8" y2="272.74" stroke="#888" stroke-width="0.3"/>
<line x1="52.0" y1="270.48" x2="52.8" y2="270.48" stroke="#888" stroke-width="0.3"/>
<line x1="52.0" y1="268.21999999999997" x2="52.8" y2="268.21999999999997" stroke="#888" stroke-width="0.3"/>
<line x1="52.0" y1="265.96" x2="52.8" y2="265.96" stroke="#888" stroke-width="0.3"/>
<line x1="52.0" y1="263.7" x2="52.8" y2="263.7" stroke="#888" stroke-width="0.3"/>
<line x1="57.8" y1="321.8" x2="57.8" y2="323.2" stroke="#666" stroke-width="0.5"/>
<text x="56.6" y="327.2" font-size="3.3" text-anchor="middle" font-weight="normal" fill="#222" class="t">10<tspan font-size="2.2" dy="-1.4">0</tspan></text>
<line x1="71.675" y1="321.8" x2="71.675" y2="323.2" stroke="#666" stroke-width="0.5"/>
<text x="70.47" y="327.2" font-size="3.3" text-anchor="middle" font-weight="normal" fill="#222" class="t">10<tspan font-size="2.2" dy="-1.4">1</tspan></text>
<line x1="85.55" y1="321.8" x2="85.55" y2="323.2" stroke="#666" stroke-width="0.5"/>
<text x="84.35" y="327.2" font-size="3.3" text-anchor="middle" font-weight="normal" fill="#222" class="t">10<tspan font-size="2.2" dy="-1.4">2</tspan></text>
<line x1="99.425" y1="321.8" x2="99.425" y2="323.2" stroke="#666" stroke-width="0.5"/>
<text x="98.22" y="327.2" font-size="3.3" text-anchor="middle" font-weight="normal" fill="#222" class="t">10<tspan font-size="2.2" dy="-1.4">3</tspan></text>
<line x1="113.3" y1="321.8" x2="113.3" y2="323.2" stroke="#666" stroke-width="0.5"/>
<text x="112.1" y="327.2" font-size="3.3" text-anchor="middle" font-weight="normal" fill="#222" class="t">10<tspan font-size="2.2" dy="-1.4">4</tspan></text>
<text x="97.5" y="275.0" font-size="5.7" text-anchor="middle" font-weight="normal" fill="#111" class="t">23.2%</text>
<path d="M130.2 319.2h.5M131.2 316.6h.5M130.8 317.0h.5M130.5 312.2h.5M135.5 315.9h.5M138.0 320.1h.5M130.0 315.7h.5M129.2 317.5h.5M140.3 318.5h.5M138.7 318.8h.5M138.3 319.3h.5M129.7 311.5h.5M129.9 318.3h.5M130.8 317.5h.5M132.1 317.7h.5M134.4 318.8h.5M133.5 320.0h.5M130.1 319.3h.5M132.7 316.4h.5M130.2 318.0h.5M133.4 316.2h.5M137.1 318.2h.5M132.9 317.1h.5M136.5 319.9h.5M132.6 320.5h.5M133.5 318.7h.5M130.0 319.0h.5M135.3 318.9h.5M132.2 318.8h.5M136.5 318.9h.5M133.2 317.4h.5M129.6 319.5h.5M129.2 319.1h.5M139.9 318.5h.5M130.4 317.5h.5M137.1 317.4h.5M135.0 318.6h.5M129.4 318.3h.5M130.0 317.4h.5M130.1 317.7h.5M130.8 315.9h.5M131.7 319.5h.5M130.8 320.4h.5M133.6 319.7h.5M133.8 318.3h.5M135.2 320.2h.5M132.4 318.9h.5M131.9 318.4h.5M138.4 319.1h.5M129.9 317.7h.5M138.9 319.6h.5M134.1 319.9h.5M133.4 320.4h.5M139.9 318.7h.5M134.6 320.3h.5M133.4 316.7h.5M134.1 316.5h.5M133.3 320.3h.5M132.6 318.5h.5M137.4 318.1h.5M131.1 315.8h.5M131.6 316.1h.5M134.6 319.3h.5M132.3 320.1h.5M130.5 320.5h.5M135.5 319.9h.5M133.1 319.2h.5M141.8 319.7h.5M129.3 318.7h.5M133.7 318.2h.5M133.0 317.8h.5M132.3 319.4h.5M130.9 313.8h.5M130.1 316.7h.5M131.2 317.8h.5M133.3 318.9h.5M134.4 316.8h.5M132.4 318.4h.5M129.2 320.5h.5M130.9 318.9h.5M130.2 316.6h.5M130.4 317.6h.5M131.1 318.0h.5M136.2 318.1h.5M133.2 318.2h.5M131.5 317.7h.5M130.0 316.3h.5M136.2 319.5h.5M131.6 319.7h.5M136.5 317.6h.5M137.8 318.2h.5M136.7 318.1h.5M135.0 319.0h.5M135.4 317.0h.5M133.5 319.7h.5M133.3 317.1h.5M134.2 314.4h.5M131.8 316.0h.5M136.1 318.5h.5M135.6 317.3h.5M133.2 319.4h.5M129.3 315.6h.5M131.7 315.1h.5M131.0 319.5h.5M135.4 319.5h.5M135.6 319.3h.5M135.6 318.4h.5M131.4 317.3h.5M131.4 315.6h.5M131.1 319.1h.5M134.4 318.2h.5M134.2 316.3h.5M132.7 317.1h.5M136.4 316.8h.5M132.1 317.2h.5M129.4 319.8h.5M133.8 318.3h.5M132.7 319.5h.5M130.6 320.3h.5M131.3 318.6h.5M133.7 319.5h.5M132.9 320.0h.5M131.7 318.7h.5M129.2 316.2h.5M136.3 319.0h.5M139.6 318.7h.5M134.7 316.4h.5M134.0 318.1h.5M134.8 319.3h.5M131.4 318.9h.5M130.6 317.7h.5M131.5 319.2h.5M133.8 319.8h.5M134.9 319.7h.5M134.7 319.0h.5M135.6 317.5h.5M129.4 317.7h.5M131.0 317.9h.5M137.3 319.7h.5M132.5 318.8h.5M131.9 315.7h.5M130.0 319.3h.5M129.6 317.2h.5M140.1 319.0h.5M136.6 317.5h.5M133.3 319.4h.5M130.1 318.1h.5M132.2 320.1h.5M131.4 318.6h.5M132.3 320.3h.5M129.6 316.8h.5M132.5 319.1h.5M135.1 317.4h.5M136.7 319.7h.5M134.8 320.0h.5M132.7 317.6h.5M141.0 320.3h.5M130.1 318.9h.5M131.0 319.7h.5M133.4 315.8h.5M134.6 313.2h.5M132.3 318.7h.5M131.4 315.7h.5M135.3 318.0h.5M136.3 320.1h.5M137.8 320.0h.5M130.4 319.4h.5M129.2 317.6h.5M131.9 319.5h.5M137.3 319.6h.5M134.1 317.8h.5M135.2 317.3h.5M135.9 316.4h.5M138.3 320.4h.5M132.3 318.6h.5M133.2 319.6h.5M131.2 320.1h.5M131.7 317.8h.5M137.3 320.2h.5M130.4 317.7h.5M138.9 320.4h.5M134.1 318.8h.5M134.9 320.6h.5M133.6 317.3h.5M133.2 319.3h.5M132.0 317.5h.5M133.1 318.3h.5M130.1 315.2h.5M132.5 318.7h.5M137.9 320.4h.5M133.0 319.3h.5M133.9 319.3h.5M136.3 319.3h.5M134.0 320.0h.5M130.6 318.6h.5M130.1 319.3h.5M137.5 319.6h.5M131.4 320.3h.5M134.7 318.3h.5M134.9 316.5h.5M130.1 318.0h.5M129.7 319.1h.5M129.7 320.0h.5M137.8 320.2h.5M132.7 320.0h.5M134.0 316.6h.5M132.1 320.1h.5M132.1 320.0h.5M131.0 317.9h.5M129.5 319.8h.5M129.8 319.8h.5M141.1 319.1h.5M130.4 319.4h.5M133.1 317.4h.5M134.7 319.1h.5M130.5 317.3h.5M143.4 319.5h.5M130.2 314.0h.5M138.9 320.4h.5M132.7 315.8h.5M135.2 320.0h.5M130.7 319.1h.5M129.9 318.7h.5M130.8 318.6h.5M134.4 320.1h.5M132.2 317.5h.5M134.4 315.8h.5M131.1 318.3h.5M133.4 319.1h.5M137.8 320.2h.5M131.0 316.8h.5M131.5 320.0h.5M141.5 319.3h.5M134.4 319.4h.5M130.4 317.3h.5M134.8 319.2h.5M129.4 319.3h.5M130.5 318.8h.5M134.3 319.9h.5M129.6 319.1h.5M132.9 319.6h.5M132.8 318.2h.5M137.1 319.9h.5M134.0 318.2h.5M133.8 320.4h.5M132.0 320.4h.5M131.4 318.9h.5M133.7 319.3h.5M129.4 319.1h.5M137.6 318.7h.5M134.9 319.7h.5M131.0 318.7h.5M135.8 316.7h.5M131.2 314.5h.5M134.5 319.0h.5M132.3 319.2h.5M130.7 320.1h.5M137.3 320.2h.5M132.0 320.3h.5M129.3 318.8h.5M130.5 318.7h.5M134.2 318.1h.5M130.8 319.4h.5M131.5 319.2h.5M129.8 315.4h.5M130.1 318.0h.5M130.9 318.3h.5M129.4 316.8h.5M130.6 319.8h.5M133.0 315.5h.5M130.9 318.6h.5M131.4 317.7h.5M132.0 319.5h.5M131.7 320.5h.5M132.6 320.7h.5M141.9 318.8h.5M132.2 317.1h.5M135.7 318.9h.5M131.7 318.1h.5M132.3 318.3h.5M129.6 319.2h.5M130.3 319.6h.5M131.3 315.5h.5M129.2 319.1h.5M132.2 317.8h.5M133.8 318.8h.5M135.4 319.4h.5M130.8 319.2h.5M131.0 317.0h.5M138.0 318.0h.5M135.5 319.4h.5M132.1 319.3h.5M130.1 316.9h.5M130.6 318.6h.5M129.3 318.3h.5M139.2 318.8h.5M133.2 316.2h.5M138.0 319.7h.5M132.0 318.5h.5M133.3 319.2h.5M138.2 319.6h.5M131.5 319.8h.5M131.3 319.0h.5M133.3 319.6h.5M138.9 320.5h.5M131.5 315.3h.5M133.8 319.9h.5M134.7 320.3h.5M135.5 318.2h.5M137.9 318.9h.5M134.0 318.1h.5M134.8 319.4h.5M131.5 316.7h.5M129.4 318.5h.5M130.3 318.4h.5M131.0 317.0h.5M133.5 318.1h.5M135.6 318.7h.5M134.0 318.7h.5M134.7 318.9h.5M133.3 318.8h.5M135.6 319.2h.5M132.2 318.5h.5M134.4 319.1h.5M130.3 317.3h.5M132.1 313.2h.5M135.2 318.1h.5M131.4 316.6h.5M131.1 319.7h.5M134.4 319.8h.5M129.2 318.2h.5M129.5 316.9h.5M133.8 319.7h.5M136.5 319.7h.5M130.5 317.8h.5M134.7 317.5h.5M130.6 318.2h.5M134.0 316.9h.5M134.5 317.4h.5M135.8 317.7h.5M132.5 316.9h.5M134.7 319.8h.5M131.6 318.8h.5M131.2 318.4h.5M137.1 319.7h.5M132.6 318.2h.5M129.6 314.5h.5M130.4 316.1h.5M137.7 317.2h.5M129.7 319.6h.5M131.0 317.2h.5M136.0 317.0h.5M136.5 317.1h.5M133.0 320.0h.5M133.7 318.4h.5M132.4 315.1h.5M130.3 317.9h.5M129.3 316.1h.5M129.2 318.8h.5M137.4 318.5h.5M129.6 314.9h.5M130.9 319.4h.5M132.2 320.1h.5M129.4 316.7h.5M129.5 318.6h.5M129.3 319.8h.5M134.2 320.6h.5M136.3 317.8h.5M131.7 315.0h.5M130.3 317.9h.5M132.2 317.0h.5M136.7 319.4h.5M130.1 318.6h.5M132.8 317.8h.5M135.1 318.5h.5M129.2 320.1h.5M130.5 318.2h.5M129.3 319.2h.5M132.3 319.5h.5M130.4 320.1h.5M131.9 316.3h.5M130.8 319.6h.5M136.8 320.1h.5M135.2 319.5h.5M136.1 318.6h.5M129.3 315.6h.5M130.8 319.4h.5M129.8 314.0h.5M135.7 319.1h.5M130.6 319.7h.5M137.7 318.7h.5M135.3 317.1h.5M133.0 318.2h.5M137.2 318.3h.5M137.1 320.1h.5M131.4 319.0h.5M134.9 319.5h.5M134.9 317.2h.5M132.7 317.8h.5M129.2 317.8h.5M137.4 318.2h.5M135.8 317.3h.5M129.7 314.8h.5M142.5 319.4h.5M130.4 317.7h.5M141.7 320.2h.5M132.3 319.0h.5M129.8 320.2h.5M135.3 319.4h.5M137.3 319.9h.5M133.2 319.0h.5M133.4 318.8h.5M132.4 317.2h.5M129.3 319.7h.5M129.2 317.1h.5M131.7 318.3h.5M130.7 319.7h.5M129.5 320.3h.5M131.7 318.9h.5M133.4 316.3h.5M133.4 319.8h.5M129.9 317.7h.5M141.6 318.4h.5M130.2 315.8h.5M130.4 319.0h.5M133.8 318.2h.5M131.9 320.1h.5M130.2 315.2h.5M132.7 319.7h.5M132.5 317.3h.5M141.3 318.8h.5M138.3 318.4h.5M137.0 320.4h.5M131.7 319.0h.5M136.8 320.3h.5M134.9 315.4h.5M130.7 317.7h.5M136.4 318.4h.5M138.4 319.4h.5M129.7 318.4h.5M131.8 317.3h.5M130.9 317.6h.5M133.6 317.4h.5M130.9 319.7h.5M131.0 320.5h.5M131.8 316.4h.5M129.9 315.3h.5M129.9 320.6h.5M136.0 320.4h.5M129.9 319.1h.5M133.0 318.5h.5M129.7 318.8h.5M132.9 318.2h.5M130.6 316.2h.5M136.8 318.9h.5M137.0 320.6h.5M137.2 317.4h.5M137.4 320.2h.5M141.1 319.6h.5M142.5 319.6h.5M131.0 319.0h.5M134.2 318.8h.5M132.9 319.9h.5M137.1 318.3h.5M133.0 318.5h.5M131.2 314.1h.5M135.7 317.9h.5M136.3 318.7h.5M134.3 318.9h.5M131.9 316.8h.5M132.5 319.0h.5M133.5 317.5h.5M142.3 320.1h.5M130.2 319.0h.5M138.7 318.8h.5M133.4 318.4h.5M130.9 316.4h.5M134.9 318.5h.5M134.5 318.0h.5M146.0 320.1h.5M132.0 320.0h.5M130.0 319.9h.5M135.8 317.7h.5M132.8 315.5h.5M133.3 316.2h.5M132.7 316.4h.5M134.8 320.0h.5M132.8 315.2h.5M131.9 317.0h.5M134.5 318.4h.5M132.8 318.5h.5M134.5 319.7h.5M132.9 316.1h.5M130.9 318.4h.5M130.9 319.4h.5M131.2 317.8h.5M132.0 318.5h.5M135.4 316.6h.5M130.8 320.3h.5M133.6 316.5h.5M133.8 315.7h.5M131.7 319.6h.5M132.8 319.6h.5M133.0 319.2h.5M132.9 318.0h.5M130.6 317.4h.5M131.6 315.8h.5M139.7 320.0h.5M132.4 316.4h.5M131.2 317.5h.5M136.3 320.5h.5M131.6 318.2h.5M135.3 317.9h.5M132.8 318.2h.5M129.6 319.0h.5M134.7 318.1h.5M131.6 318.3h.5M136.3 319.2h.5M131.9 314.8h.5M129.2 313.8h.5M130.0 319.0h.5M133.0 318.7h.5M131.0 318.8h.5M129.9 316.4h.5M133.6 318.8h.5M132.0 318.6h.5M129.7 316.5h.5M136.3 318.2h.5M132.0 319.7h.5M136.6 318.1h.5M132.9 319.4h.5M135.0 317.6h.5M130.7 319.6h.5M131.7 316.8h.5M129.5 318.4h.5M129.7 316.5h.5M129.6 318.2h.5M131.8 317.5h.5M132.7 314.8h.5M132.0 319.1h.5M133.1 317.2h.5M130.3 315.6h.5M133.5 316.8h.5M134.3 318.8h.5M130.2 319.3h.5M133.4 319.7h.5M133.5 317.3h.5M137.5 319.3h.5M132.6 316.5h.5M130.3 317.3h.5M138.2 315.8h.5M144.6 319.5h.5M132.6 317.2h.5M129.4 316.2h.5M133.2 315.7h.5M135.8 319.5h.5M132.8 316.1h.5M131.0 315.5h.5M131.8 317.5h.5M130.1 318.0h.5M135.0 317.5h.5M130.8 319.9h.5M132.9 317.3h.5M135.5 319.1h.5M130.8 320.0h.5M137.3 319.2h.5M135.0 319.9h.5M130.7 314.5h.5M130.7 319.2h.5M137.6 319.2h.5M132.0 319.5h.5M143.5 319.2h.5M129.7 319.4h.5M135.3 320.1h.5M135.3 319.9h.5M129.4 317.6h.5M132.9 317.3h.5M131.3 317.7h.5M133.4 319.8h.5M132.8 315.8h.5M131.8 316.0h.5M134.0 318.7h.5M131.0 318.9h.5M131.9 318.8h.5M129.8 315.0h.5M134.5 317.7h.5M130.2 318.0h.5M136.5 316.5h.5M137.4 318.4h.5M131.4 316.1h.5M131.9 317.8h.5M129.9 319.3h.5M130.9 317.1h.5M133.5 318.9h.5M129.8 319.2h.5M134.8 319.2h.5M137.2 319.9h.5M129.5 318.4h.5M132.0 317.3h.5M129.2 316.8h.5M133.6 316.7h.5M130.9 318.8h.5M133.8 319.2h.5M132.9 315.3h.5M130.2 315.5h.5M133.7 319.2h.5M131.3 318.5h.5M131.8 320.3h.5M133.1 319.7h.5M134.4 318.4h.5M131.7 317.6h.5M129.3 316.6h.5M133.3 316.8h.5M130.5 319.8h.5M138.1 319.8h.5M131.6 319.3h.5M139.8 319.5h.5M131.0 315.1h.5M129.4 315.9h.5M132.9 317.2h.5M133.4 319.4h.5M129.8 319.9h.5M135.4 319.2h.5M132.2 317.9h.5M133.0 319.7h.5M129.3 319.9h.5M136.4 319.9h.5M139.6 319.6h.5M130.5 319.3h.5M134.9 319.4h.5M137.1 320.2h.5M132.6 319.0h.5M129.8 312.0h.5M132.8 318.6h.5M137.6 319.3h.5M131.6 318.0h.5M136.2 318.5h.5M134.2 319.7h.5M138.7 319.6h.5M129.9 315.4h.5M134.9 320.0h.5M141.6 320.4h.5M131.9 320.6h.5M133.1 319.8h.5M132.8 318.0h.5M137.0 318.6h.5M130.5 313.6h.5M133.5 316.7h.5M134.0 319.6h.5M132.9 314.9h.5M130.1 319.6h.5M139.7 318.5h.5M133.1 319.2h.5M131.8 318.6h.5M132.6 318.1h.5M135.5 318.0h.5M132.6 317.0h.5M130.8 317.9h.5M131.5 316.0h.5M129.6 317.4h.5M132.5 316.6h.5M137.9 320.1h.5M131.0 319.8h.5M130.2 317.5h.5M134.7 319.0h.5M132.8 316.3h.5M132.3 320.1h.5M129.8 315.5h.5M137.7 317.8h.5M137.2 318.8h.5M139.1 319.8h.5M133.5 320.2h.5M131.0 316.7h.5M136.4 318.1h.5M131.8 319.7h.5M134.0 320.0h.5M130.7 319.8h.5M130.2 313.2h.5M130.5 317.6h.5M130.8 316.9h.5M137.1 319.7h.5M130.7 315.3h.5M138.0 319.7h.5M132.3 319.5h.5M129.3 319.4h.5M133.9 315.8h.5M132.2 317.7h.5M131.4 319.1h.5M132.2 319.0h.5M129.2 319.4h.5M132.5 318.1h.5M130.0 318.9h.5M130.2 318.5h.5M136.1 319.7h.5M134.5 318.9h.5M132.7 320.6h.5M134.4 317.2h.5M133.4 315.8h.5M137.8 319.0h.5M129.6 315.6h.5M132.7 320.6h.5M132.5 319.0h.5M137.0 319.9h.5M129.4 319.0h.5M135.6 318.3h.5M130.9 315.9h.5M138.9 317.7h.5M132.9 319.8h.5M133.9 318.7h.5M131.3 318.8h.5M134.0 319.9h.5M133.3 319.7h.5M130.0 318.1h.5M130.6 315.7h.5M131.0 318.3h.5M130.6 317.5h.5M132.8 317.5h.5M135.8 317.3h.5M131.0 315.7h.5M135.7 319.3h.5M133.3 319.1h.5M138.8 319.7h.5M132.0 318.3h.5M132.8 320.3h.5M130.9 317.0h.5M133.6 317.5h.5M137.4 315.9h.5M140.5 319.1h.5M137.3 318.2h.5M133.4 319.1h.5M130.0 317.5h.5M134.9 319.7h.5M134.5 318.1h.5M134.3 317.5h.5M131.0 318.4h.5M133.0 315.6h.5M130.8 318.5h.5M136.3 318.2h.5M132.6 320.5h.5M130.0 317.4h.5M136.6 320.7h.5M140.7 319.7h.5M134.0 318.2h.5M138.2 318.6h.5M131.0 318.4h.5M138.8 318.6h.5M129.6 316.6h.5M129.9 319.5h.5M130.9 317.6h.5M136.5 320.5h.5M129.5 317.6h.5M141.3 318.9h.5M130.9 320.3h.5M134.8 317.4h.5M134.0 318.7h.5M129.5 318.8h.5M131.4 316.0h.5M131.7 319.6h.5M132.0 319.8h.5M134.3 319.9h.5M131.9 317.5h.5M135.8 317.9h.5M134.3 319.1h.5M132.5 320.1h.5M132.8 318.3h.5M130.3 319.7h.5M137.6 317.8h.5M141.7 318.3h.5M133.1 319.3h.5M129.8 318.9h.5M134.7 318.8h.5M135.2 320.0h.5M136.0 319.5h.5M132.3 320.6h.5M135.5 318.7h.5M139.1 319.7h.5M136.6 320.0h.5M134.6 319.9h.5M134.4 318.1h.5M133.8 318.8h.5M136.3 320.4h.5M138.2 320.2h.5M129.6 319.1h.5M135.3 318.9h.5M132.9 314.8h.5M132.0 319.8h.5M131.6 317.9h.5M132.6 319.7h.5M134.4 313.3h.5M130.4 316.7h.5M130.6 314.4h.5M131.4 317.9h.5M131.0 315.7h.5M131.7 318.9h.5M135.9 318.6h.5M136.0 318.9h.5M133.5 319.8h.5M130.6 318.1h.5M131.2 317.9h.5M132.5 320.1h.5M132.0 317.5h.5M135.6 318.9h.5M134.5 319.7h.5M133.8 318.6h.5M132.2 319.8h.5M132.9 318.9h.5M129.9 318.8h.5M137.1 319.2h.5M133.4 320.3h.5M129.9 319.0h.5M130.1 318.4h.5M135.2 319.6h.5M140.3 318.6h.5M134.2 319.0h.5M129.4 315.8h.5M137.8 318.9h.5M130.5 320.2h.5M129.6 319.4h.5M137.7 319.9h.5M129.4 319.9h.5M131.0 315.8h.5M130.1 320.4h.5M134.0 319.5h.5M135.6 316.8h.5M137.9 320.1h.5M129.7 319.2h.5M134.2 318.8h.5M132.4 317.0h.5M132.9 320.0h.5M133.5 317.3h.5M137.0 320.5h.5M131.6 320.3h.5M129.3 319.0h.5M129.5 315.9h.5M133.2 320.2h.5M131.2 319.5h.5M131.0 318.8h.5M139.1 319.9h.5M137.7 319.4h.5M131.9 317.4h.5M130.0 318.2h.5M130.2 315.5h.5M140.4 318.4h.5M135.4 317.7h.5M132.5 319.3h.5M134.1 318.4h.5M133.1 319.8h.5M131.0 316.7h.5M131.4 318.0h.5M139.9 320.2h.5M132.6 320.2h.5M138.4 319.5h.5M137.8 318.6h.5M134.7 319.1h.5M130.2 317.7h.5M132.3 318.1h.5M133.0 318.9h.5M131.5 319.3h.5M135.3 320.7h.5M130.4 316.9h.5M133.0 319.0h.5M145.7 319.0h.5M132.4 318.7h.5M134.1 319.5h.5M132.2 318.7h.5M130.8 313.0h.5M129.6 316.8h.5M130.8 319.5h.5M138.5 319.2h.5M131.6 319.8h.5M136.5 320.0h.5M131.2 318.1h.5M131.0 319.7h.5M130.2 320.1h.5M135.9 320.2h.5M129.5 319.3h.5M137.6 319.8h.5M130.7 314.6h.5M130.6 317.4h.5M135.5 319.8h.5M129.5 319.4h.5M130.9 316.4h.5M131.4 316.8h.5M129.4 320.1h.5M137.1 319.2h.5M131.9 317.9h.5M130.2 316.1h.5M132.8 317.1h.5M132.7 318.2h.5M131.9 314.5h.5M130.5 318.0h.5M134.0 317.7h.5M129.7 317.2h.5M131.3 314.5h.5M130.4 318.8h.5M133.8 318.4h.5M132.4 319.1h.5M133.0 316.1h.5M134.7 316.8h.5M133.5 320.0h.5M133.3 318.7h.5M129.5 319.2h.5M131.0 318.4h.5M133.4 319.9h.5M134.9 315.9h.5M138.1 319.1h.5M129.4 318.5h.5M131.5 318.1h.5M130.0 319.6h.5M135.6 318.0h.5M130.6 317.9h.5M133.0 320.6h.5M135.9 318.5h.5M130.6 317.6h.5M129.8 318.0h.5M129.8 318.3h.5M136.4 317.8h.5M132.5 317.2h.5M133.7 318.1h.5M134.6 319.7h.5M132.3 319.9h.5M130.3 317.2h.5M134.2 320.1h.5M133.9 318.3h.5M134.4 319.1h.5M134.6 318.8h.5M138.1 319.2h.5M136.3 315.9h.5M135.4 319.1h.5M133.7 319.9h.5M133.7 320.2h.5M129.9 317.8h.5M134.3 319.1h.5M135.3 320.4h.5M137.6 318.8h.5M131.5 314.7h.5M134.9 320.1h.5M129.8 318.6h.5M131.0 319.7h.5M134.1 317.8h.5M133.5 319.9h.5M130.5 318.7h.5M130.7 313.4h.5M136.5 318.3h.5M136.1 319.4h.5M134.6 319.6h.5M129.3 316.6h.5M132.4 318.0h.5M134.5 319.7h.5M131.9 319.3h.5M131.2 318.5h.5M133.6 316.4h.5M133.1 317.9h.5M134.0 319.2h.5M129.8 318.6h.5M134.7 318.0h.5M132.4 318.0h.5M134.3 320.1h.5M138.5 318.1h.5M138.0 319.9h.5M138.6 318.8h.5M131.5 319.2h.5M129.3 318.9h.5M133.3 316.2h.5M138.5 318.1h.5M138.2 318.8h.5M129.8 313.0h.5M133.7 318.6h.5M136.4 320.2h.5M129.9 319.4h.5M132.9 319.0h.5M133.3 315.0h.5M132.6 319.5h.5M133.7 319.3h.5M133.4 317.1h.5M130.9 320.1h.5M132.8 315.1h.5M134.4 318.5h.5M133.1 317.9h.5M131.3 319.1h.5M131.8 320.1h.5M132.6 317.7h.5M136.5 320.6h.5M129.4 315.2h.5M131.3 317.8h.5M135.0 317.7h.5M130.8 318.3h.5M131.3 318.7h.5M131.0 315.2h.5M129.9 318.4h.5M131.9 319.9h.5M130.7 319.6h.5M132.0 312.2h.5M138.8 319.8h.5M132.5 313.3h.5M129.4 310.8h.5M141.1 319.5h.5M135.9 317.8h.5M137.4 318.8h.5M134.3 319.3h.5M132.6 319.6h.5M131.5 317.3h.5M130.9 319.7h.5M130.8 317.8h.5M131.3 316.1h.5M130.4 319.3h.5M130.8 315.1h.5M130.4 314.4h.5M135.7 319.4h.5M131.4 318.5h.5M137.4 318.1h.5M135.4 318.4h.5M130.4 314.4h.5M132.6 319.9h.5M130.3 317.3h.5M130.6 316.2h.5M133.0 317.7h.5M134.5 319.9h.5M132.3 315.4h.5M131.8 319.3h.5M133.5 317.1h.5M131.9 320.6h.5M132.7 320.2h.5M130.4 318.3h.5M141.9 319.3h.5M133.2 317.8h.5M131.7 320.2h.5M135.8 317.7h.5M132.8 313.1h.5M133.6 318.5h.5M130.9 319.3h.5M133.1 319.9h.5M134.6 320.2h.5M131.6 318.9h.5M131.2 315.0h.5M132.5 315.5h.5M131.1 318.1h.5M132.0 318.2h.5M131.2 315.5h.5M130.6 319.6h.5M131.9 319.8h.5M133.3 319.9h.5M129.7 316.5h.5M135.8 318.7h.5M134.1 316.1h.5M136.2 317.6h.5M131.1 315.0h.5M133.5 320.0h.5M132.8 316.5h.5M131.8 316.2h.5M131.5 319.2h.5M134.2 320.0h.5M141.4 319.2h.5M133.2 318.6h.5M131.4 319.1h.5M133.1 317.7h.5M133.6 315.8h.5M130.9 320.1h.5M138.1 320.0h.5M135.4 319.2h.5M133.5 320.1h.5M130.3 318.6h.5M139.9 319.9h.5M132.8 315.8h.5M142.2 318.3h.5M129.9 319.5h.5M131.0 313.7h.5M132.7 316.9h.5M135.0 316.9h.5M129.6 316.0h.5M129.4 320.1h.5M139.7 319.4h.5M131.7 317.2h.5M131.3 318.0h.5M136.4 316.8h.5M130.5 317.6h.5M139.0 317.4h.5M132.3 317.4h.5M136.8 318.7h.5M138.9 319.2h.5M130.2 318.7h.5M131.3 318.7h.5M130.6 318.9h.5M138.6 319.9h.5M132.2 315.1h.5M131.2 315.8h.5M134.2 314.1h.5M132.5 319.4h.5M132.5 319.4h.5M132.7 318.0h.5M132.4 316.4h.5M131.7 317.8h.5M139.3 320.3h.5M139.3 319.5h.5M131.8 319.8h.5M130.7 317.2h.5M130.5 319.1h.5M130.3 318.3h.5M132.2 317.3h.5M131.6 317.9h.5M132.2 318.6h.5M137.3 318.7h.5M129.8 315.6h.5M137.4 319.7h.5M131.3 319.0h.5M131.4 320.8h.5M132.1 319.1h.5M136.8 320.0h.5M131.1 316.4h.5M136.0 320.3h.5M133.7 317.5h.5M131.8 319.5h.5M137.0 319.9h.5M130.3 317.4h.5M137.2 319.2h.5M129.8 313.7h.5M132.6 317.3h.5M135.8 319.9h.5M131.1 317.3h.5M132.9 319.0h.5M131.3 319.0h.5M138.0 319.1h.5M131.0 318.6h.5M137.0 319.1h.5M130.1 318.6h.5M131.6 317.6h.5M132.9 318.7h.5M134.7 319.9h.5M135.5 319.6h.5M133.5 318.7h.5M134.0 312.5h.5M132.3 319.9h.5M131.8 318.0h.5M133.0 318.3h.5M135.6 318.9h.5M131.8 316.5h.5M132.7 317.9h.5M135.3 320.4h.5M134.1 320.3h.5M131.2 319.1h.5M135.7 318.9h.5M130.7 314.5h.5M129.9 317.0h.5M131.1 316.9h.5M133.3 319.6h.5M129.4 319.3h.5M130.6 319.2h.5M129.6 318.1h.5M129.3 318.4h.5M141.9 319.7h.5M133.2 317.7h.5M137.5 320.0h.5M130.9 316.6h.5M134.1 319.0h.5M136.5 319.0h.5M129.9 317.4h.5M135.6 318.3h.5M133.6 318.8h.5M131.8 314.8h.5M129.2 317.8h.5M131.2 316.8h.5M134.0 320.6h.5M130.4 318.4h.5M130.6 320.6h.5M133.3 319.4h.5M135.9 319.1h.5M133.6 319.3h.5M130.3 319.2h.5M135.5 320.2h.5M135.1 317.4h.5M129.7 319.6h.5M132.3 311.5h.5M134.8 316.6h.5M130.6 319.0h.5M132.8 320.2h.5M130.3 316.3h.5M138.2 318.4h.5M131.2 313.7h.5M131.9 319.9h.5M130.9 319.6h.5M134.2 318.4h.5M131.6 319.3h.5M130.3 317.1h.5M132.8 318.9h.5M129.9 316.1h.5M130.6 316.6h.5M129.9 320.1h.5M129.6 317.6h.5M137.0 319.6h.5M131.4 318.1h.5M137.8 319.6h.5M132.7 315.7h.5M134.8 319.8h.5M130.7 316.6h.5M136.0 319.7h.5M136.8 319.4h.5M129.9 318.4h.5M130.6 316.0h.5M134.8 315.4h.5M136.5 319.9h.5M132.8 319.6h.5M130.0 317.3h.5M134.1 318.3h.5M133.1 318.4h.5M136.2 320.3h.5M131.3 319.7h.5M132.1 319.2h.5M138.1 319.5h.5M131.4 318.9h.5M131.8 317.0h.5M132.0 312.2h.5M132.0 315.8h.5M138.6 319.3h.5M136.4 318.2h.5M131.0 315.1h.5M131.6 319.4h.5M133.3 319.9h.5M133.0 319.2h.5M131.4 316.5h.5M129.6 316.2h.5M131.6 317.9h.5M129.9 317.2h.5M139.3 318.5h.5M137.6 319.0h.5M140.6 319.4h.5M137.5 319.9h.5M135.9 319.1h.5M132.8 317.1h.5M129.3 315.2h.5M132.7 316.2h.5M132.9 319.8h.5M129.7 318.6h.5M132.6 317.7h.5M132.9 319.3h.5M136.4 319.6h.5M138.4 317.9h.5M133.2 319.1h.5M139.8 320.2h.5M131.6 320.0h.5M129.5 318.7h.5M135.2 320.1h.5M136.5 318.7h.5M134.2 320.3h.5M134.2 318.1h.5M132.8 313.2h.5M132.9 318.1h.5M134.3 315.7h.5M130.5 319.7h.5M131.0 317.2h.5M130.5 318.5h.5M129.6 316.9h.5M130.1 320.2h.5M129.6 317.0h.5M135.4 317.4h.5M130.7 318.6h.5M135.6 319.8h.5M133.2 319.7h.5M129.3 318.5h.5M132.8 316.4h.5M132.2 318.8h.5M133.6 320.4h.5M134.4 319.3h.5M132.4 317.6h.5M131.6 316.4h.5M138.2 319.9h.5M134.7 319.2h.5M132.3 317.1h.5M137.4 319.3h.5M135.6 318.4h.5M135.5 318.0h.5M130.1 315.4h.5M130.9 319.5h.5M131.4 319.5h.5M130.3 313.9h.5M138.5 320.0h.5M136.4 316.9h.5M137.8 319.4h.5M134.3 317.7h.5M131.5 316.7h.5M135.4 315.0h.5M134.0 320.0h.5M133.4 320.6h.5M131.7 314.1h.5M134.3 320.3h.5M132.1 317.9h.5M129.5 313.0h.5M134.1 318.8h.5M133.9 319.1h.5M133.0 319.6h.5M135.5 317.3h.5M129.9 320.1h.5M130.9 319.1h.5M131.7 317.4h.5M137.3 320.3h.5M136.6 319.6h.5M130.6 318.1h.5M134.7 318.8h.5M137.0 317.1h.5M137.4 317.3h.5M134.6 319.0h.5M130.1 319.6h.5M138.0 318.0h.5M141.4 319.4h.5M135.4 319.0h.5M138.4 318.5h.5M133.9 318.7h.5M134.4 319.9h.5M130.4 319.7h.5M132.5 319.8h.5M134.3 317.4h.5M134.9 317.7h.5M136.3 318.5h.5M134.7 319.8h.5M138.5 319.2h.5M132.2 316.8h.5M131.0 319.7h.5M135.8 315.8h.5M135.2 318.2h.5M131.8 317.6h.5M131.6 319.8h.5M130.6 320.0h.5M133.3 317.9h.5M134.4 320.1h.5M131.8 317.5h.5M131.8 315.2h.5M129.8 319.0h.5M134.1 320.5h.5M135.0 318.2h.5M132.3 318.4h.5M129.8 319.2h.5M133.4 319.8h.5M132.5 317.8h.5M131.1 317.5h.5M135.8 318.8h.5M136.9 319.7h.5M133.3 318.9h.5M134.6 317.7h.5M135.8 318.5h.5M134.7 319.0h.5M143.6 320.0h.5M129.4 318.1h.5M139.3 319.7h.5M130.0 318.1h.5M129.5 318.6h.5M130.9 320.2h.5M129.4 314.1h.5M131.3 317.5h.5M131.1 319.1h.5M137.1 317.4h.5M129.7 319.5h.5M134.2 318.8h.5M134.5 316.9h.5M135.0 317.8h.5M131.2 316.1h.5M137.8 317.2h.5M130.2 320.1h.5M130.2 319.2h.5M136.8 318.5h.5M136.2 319.5h.5M133.7 319.4h.5M144.2 320.0h.5M134.1 315.5h.5M135.4 316.3h.5M131.6 318.7h.5M136.1 317.6h.5M133.7 319.7h.5M139.0 317.5h.5M130.1 318.2h.5M131.6 317.5h.5M133.4 316.7h.5M133.3 316.2h.5M130.8 316.8h.5M138.4 319.1h.5M133.0 317.2h.5M135.3 317.3h.5M136.0 320.5h.5M131.2 317.4h.5M138.9 319.9h.5M134.6 313.6h.5M139.9 320.4h.5M130.2 319.0h.5M132.5 316.6h.5M130.1 316.7h.5M137.5 319.2h.5M129.5 313.2h.5M133.4 319.1h.5M133.8 319.7h.5M132.0 316.8h.5M137.0 319.9h.5M140.2 320.3h.5M135.4 318.0h.5M129.5 318.3h.5M130.6 315.6h.5M135.1 320.6h.5M133.5 317.3h.5M135.8 318.1h.5M137.1 319.9h.5M133.6 319.6h.5M130.2 319.0h.5M130.9 319.9h.5M138.1 319.9h.5M140.3 320.4h.5M139.1 319.3h.5M131.0 319.3h.5M134.7 319.4h.5M130.7 318.0h.5M132.0 315.5h.5M130.0 319.2h.5M130.3 318.0h.5M131.9 318.4h.5M130.3 317.2h.5M130.4 319.4h.5M134.1 320.2h.5M132.1 318.8h.5M134.7 319.0h.5M136.3 319.2h.5M133.5 317.1h.5M129.7 319.8h.5M139.4 320.4h.5M132.8 319.1h.5M132.4 318.2h.5M130.1 319.3h.5M133.7 319.7h.5M133.7 318.5h.5M131.1 319.9h.5M138.6 320.0h.5M135.9 316.5h.5M130.7 318.3h.5M134.8 319.6h.5M135.6 320.0h.5M142.6 320.0h.5M132.9 318.3h.5M134.8 318.0h.5M136.6 319.3h.5M132.3 314.0h.5M130.9 314.5h.5M134.3 318.9h.5M130.3 320.3h.5M132.3 319.4h.5M140.7 320.2h.5M135.6 319.4h.5M133.0 319.1h.5M133.5 320.0h.5M130.8 320.7h.5M131.3 317.4h.5M129.3 317.2h.5M136.6 319.7h.5M129.9 315.9h.5M135.9 318.3h.5M129.6 320.0h.5M134.0 317.5h.5M130.0 319.8h.5M134.5 320.4h.5M131.8 319.5h.5M132.1 319.6h.5M136.2 319.1h.5M136.9 318.3h.5M130.0 317.8h.5M130.2 315.9h.5M131.5 317.7h.5M138.4 318.8h.5M134.0 314.6h.5M130.5 319.6h.5M135.8 320.1h.5M132.1 317.9h.5M133.3 318.3h.5M131.1 317.0h.5M132.7 316.0h.5M129.9 317.7h.5M129.3 316.2h.5M134.6 317.4h.5M129.5 316.8h.5M129.4 317.6h.5M130.0 317.1h.5M131.6 319.8h.5M137.5 318.7h.5M130.4 317.7h.5M134.5 316.8h.5M131.0 319.4h.5M131.1 318.7h.5M129.4 318.1h.5M142.5 320.6h.5M130.5 317.8h.5M131.4 320.0h.5M134.0 318.7h.5M131.7 315.9h.5M129.8 319.3h.5M137.0 317.3h.5M136.9 319.7h.5M132.2 318.1h.5M136.9 318.0h.5M130.1 318.2h.5M135.7 320.8h.5M132.1 319.2h.5M131.9 319.3h.5M131.0 317.3h.5M129.8 316.7h.5M134.9 320.1h.5M130.0 319.5h.5M135.6 319.1h.5M157.4 318.3h.5M153.9 317.2h.5M158.4 318.8h.5M159.9 317.0h.5M129.6 317.8h.5M149.4 320.0h.5M144.0 318.7h.5M151.8 318.5h.5M142.9 317.4h.5M151.7 319.0h.5M142.5 319.6h.5M156.4 318.6h.5M159.3 317.6h.5M147.5 320.0h.5M129.6 320.3h.5M151.3 319.7h.5M146.0 317.0h.5M139.5 316.1h.5M149.8 318.9h.5M141.3 316.1h.5M154.7 320.0h.5M140.6 319.2h.5M147.5 319.2h.5M135.0 319.1h.5M129.9 319.4h.5M130.7 319.5h.5M146.2 319.3h.5M161.9 319.1h.5M156.4 320.2h.5M143.2 319.5h.5M161.2 318.3h.5M135.5 319.5h.5M141.4 316.0h.5M144.7 319.7h.5M138.9 318.9h.5M157.7 319.7h.5M131.3 318.9h.5M143.0 317.4h.5M136.9 317.6h.5M153.4 318.3h.5M130.0 317.5h.5M158.1 318.8h.5M138.3 320.0h.5M160.8 320.2h.5M154.7 317.2h.5M147.4 320.0h.5M153.7 319.0h.5M149.3 319.0h.5M139.3 320.1h.5M140.7 316.9h.5M157.8 317.5h.5M139.4 319.3h.5M148.9 320.0h.5M140.1 317.8h.5M149.1 319.7h.5M141.0 320.0h.5M131.3 318.9h.5M152.5 318.9h.5M159.2 319.0h.5M162.0 320.1h.5M158.2 319.6h.5M133.8 319.9h.5M153.5 318.9h.5M163.2 320.5h.5M162.9 318.1h.5M142.5 319.5h.5M145.0 318.3h.5M147.0 319.6h.5M147.2 318.1h.5M143.9 317.5h.5M154.1 320.4h.5M158.1 319.8h.5M151.6 319.1h.5M133.9 319.4h.5M145.7 319.4h.5M155.6 319.8h.5M144.7 319.5h.5M156.5 317.3h.5M149.1 319.1h.5M141.6 318.4h.5M158.0 319.8h.5M158.0 317.4h.5M148.4 319.7h.5M158.9 318.8h.5M156.1 319.1h.5M136.8 320.0h.5M130.3 319.9h.5M154.9 319.2h.5M144.3 320.4h.5M143.6 318.3h.5M154.1 318.2h.5M145.2 319.1h.5M143.6 319.8h.5M162.8 318.7h.5M135.6 319.9h.5M149.0 318.6h.5M150.0 317.0h.5M129.9 317.6h.5M132.3 319.4h.5M137.2 318.4h.5M149.6 318.1h.5M140.9 317.7h.5M152.0 318.6h.5M155.5 319.1h.5M159.7 318.1h.5M160.8 318.5h.5M146.0 317.8h.5M140.6 320.2h.5M135.4 319.1h.5M130.1 320.1h.5M136.4 318.4h.5M132.3 319.7h.5M161.3 318.3h.5M157.9 318.3h.5M148.4 317.5h.5M159.7 318.6h.5M129.7 318.3h.5M132.2 319.0h.5M154.3 320.2h.5M136.5 319.8h.5M133.5 319.6h.5M149.1 319.7h.5M143.3 318.1h.5M158.7 319.6h.5M130.1 319.2h.5M157.1 318.8h.5M135.4 318.7h.5M152.7 319.5h.5M135.5 320.3h.5M134.7 319.5h.5M158.6 318.6h.5M150.3 318.5h.5M153.8 318.9h.5M146.1 320.1h.5M151.8 319.0h.5M152.4 319.1h.5M148.9 319.7h.5M141.1 319.4h.5M137.8 319.4h.5M154.6 319.0h.5M142.4 316.3h.5M147.4 320.0h.5M134.2 319.0h.5M136.0 319.1h.5M141.2 319.8h.5M134.3 320.0h.5M156.3 320.6h.5M161.8 319.7h.5M140.8 318.5h.5M150.7 318.5h.5M154.8 319.4h.5M157.8 317.6h.5M139.1 316.9h.5M138.7 318.1h.5M132.4 320.2h.5M130.2 319.5h.5M132.4 320.1h.5M137.2 318.4h.5M135.5 318.4h.5M133.6 317.1h.5M146.7 319.2h.5M151.8 316.6h.5M161.1 318.9h.5M133.6 320.6h.5M140.5 319.8h.5M150.9 317.2h.5M156.9 318.8h.5M141.9 317.5h.5M130.8 315.7h.5M160.2 319.3h.5M133.1 319.6h.5M155.5 320.1h.5M160.0 317.5h.5M134.7 317.5h.5M161.5 320.0h.5M147.0 318.4h.5M146.2 319.7h.5M148.4 319.3h.5M141.2 319.5h.5M130.1 316.1h.5M140.0 316.9h.5M143.0 318.4h.5M136.6 318.7h.5M156.8 318.5h.5M158.0 319.4h.5M148.2 320.3h.5M141.5 319.1h.5M138.5 316.6h.5M137.6 319.3h.5M149.4 318.6h.5M161.8 318.8h.5M161.0 319.7h.5M153.3 319.3h.5M161.3 318.7h.5M132.7 320.1h.5M154.7 319.9h.5M161.3 320.3h.5M140.6 319.9h.5M139.9 319.4h.5M159.4 320.0h.5M131.8 320.6h.5M148.5 320.0h.5M154.6 319.5h.5M145.4 320.6h.5M144.7 314.6h.5M145.4 319.4h.5M140.6 319.9h.5M148.3 320.1h.5M143.3 319.4h.5M146.4 319.1h.5M154.3 320.0h.5M147.7 320.1h.5M139.4 320.6h.5M147.1 317.3h.5M154.3 316.3h.5M140.0 318.8h.5M154.1 316.4h.5M153.1 318.4h.5M151.7 319.4h.5M132.5 317.9h.5M139.2 318.1h.5M139.2 317.4h.5M133.3 317.5h.5M137.2 319.7h.5M137.3 319.6h.5M137.9 318.5h.5M140.1 319.1h.5M150.5 319.8h.5M159.2 319.3h.5M158.9 319.1h.5M140.9 320.3h.5M143.9 319.2h.5M140.4 318.2h.5M151.6 319.9h.5M157.9 319.1h.5M135.0 318.5h.5M136.8 319.1h.5M157.1 319.9h.5M135.6 320.1h.5M143.4 319.1h.5M138.0 319.8h.5M162.4 319.7h.5M159.3 317.6h.5M132.7 319.9h.5M141.8 318.8h.5M157.9 318.7h.5M150.7 316.9h.5M133.6 319.8h.5M159.6 319.6h.5M148.1 318.3h.5M147.0 317.1h.5M156.7 317.2h.5M157.8 320.4h.5M144.1 319.9h.5M162.1 319.4h.5M144.2 319.0h.5M161.5 318.9h.5M130.1 318.2h.5M152.8 317.4h.5M145.9 319.4h.5M136.2 317.3h.5M130.0 319.5h.5M130.3 315.6h.5M151.4 318.4h.5M150.9 320.1h.5M154.7 319.8h.5M146.5 317.3h.5M132.8 319.1h.5M157.3 317.0h.5M146.8 318.6h.5M147.9 318.7h.5M157.3 317.0h.5M144.3 318.9h.5M137.8 318.5h.5M158.4 320.3h.5M137.5 319.5h.5M153.7 316.0h.5M149.0 317.6h.5M136.8 320.5h.5M130.4 319.3h.5M135.7 319.5h.5M158.0 317.6h.5M148.3 319.0h.5M161.8 319.9h.5M139.4 319.3h.5M154.6 319.7h.5M146.2 318.9h.5M141.3 319.3h.5M155.7 318.5h.5M130.4 318.5h.5M160.2 318.9h.5M140.4 316.8h.5M153.8 316.9h.5M148.3 318.4h.5M137.1 319.1h.5M132.8 318.2h.5M145.0 320.1h.5M150.7 320.2h.5M134.0 319.8h.5M157.0 316.2h.5M154.7 318.7h.5M158.8 319.5h.5M145.8 316.6h.5M132.6 318.6h.5M137.5 317.7h.5M142.5 319.7h.5M132.6 319.4h.5M131.3 318.9h.5M157.3 318.4h.5M131.0 318.3h.5M130.0 319.6h.5M154.3 320.1h.5M153.2 319.5h.5M158.4 319.9h.5M162.3 319.3h.5M137.9 318.6h.5M131.4 320.0h.5M155.3 317.4h.5M135.3 318.2h.5M157.5 320.3h.5M162.9 318.2h.5M155.7 320.2h.5M132.8 318.4h.5M137.0 319.8h.5M138.0 318.3h.5M151.2 319.8h.5M141.4 319.2h.5M131.0 320.2h.5M159.4 319.2h.5M152.6 319.4h.5M130.4 320.5h.5M161.0 318.5h.5M138.0 319.7h.5M157.6 318.3h.5M146.3 317.7h.5M150.9 319.7h.5M142.2 319.9h.5M129.5 318.3h.5M141.7 319.7h.5M151.0 318.6h.5M162.7 319.8h.5M147.7 318.2h.5M159.3 319.3h.5M146.4 319.7h.5M149.5 317.3h.5M145.3 319.0h.5M152.7 318.8h.5M132.8 319.7h.5M132.6 317.9h.5M134.2 319.6h.5M161.6 320.1h.5M142.5 319.4h.5M134.2 317.2h.5M132.4 317.3h.5M151.2 320.6h.5M130.1 319.1h.5M144.9 319.4h.5M134.7 318.5h.5M137.4 318.9h.5M149.3 319.9h.5M131.5 318.3h.5M137.0 319.9h.5M151.0 319.9h.5M139.2 318.3h.5M144.7 318.8h.5M145.3 320.3h.5M150.7 318.6h.5M145.2 319.9h.5M131.4 318.6h.5M159.5 317.5h.5M148.5 318.2h.5M158.6 317.7h.5M150.5 318.9h.5M154.0 319.7h.5M160.3 318.5h.5M159.0 318.0h.5M161.6 314.9h.5M148.1 320.0h.5M145.9 319.6h.5M162.2 319.5h.5M154.2 319.9h.5M143.4 318.1h.5M157.4 319.1h.5M153.6 318.1h.5M145.5 318.8h.5M151.5 316.7h.5M154.7 319.8h.5M147.9 317.7h.5M147.6 318.2h.5M141.0 319.8h.5M155.9 318.3h.5M144.1 316.9h.5M136.3 318.1h.5M137.0 318.9h.5M132.0 318.7h.5M151.0 319.7h.5M144.4 320.4h.5M150.7 319.2h.5M162.1 320.1h.5M136.9 319.4h.5M156.8 319.8h.5M162.3 319.4h.5M150.1 318.5h.5M150.3 317.2h.5M144.3 319.2h.5M141.8 319.9h.5M143.4 319.1h.5M140.0 320.1h.5M139.8 316.6h.5M155.9 318.9h.5M148.3 317.9h.5M150.5 319.6h.5M139.8 320.4h.5M161.2 319.0h.5M144.2 318.4h.5M136.7 320.2h.5M135.5 315.2h.5M130.6 320.0h.5M155.4 320.2h.5M148.0 318.1h.5M144.8 320.1h.5M145.4 320.1h.5M146.1 320.7h.5M147.1 320.1h.5M153.8 320.3h.5M135.0 317.4h.5M142.0 318.5h.5M138.0 315.4h.5M155.2 319.6h.5M135.1 320.4h.5M152.9 319.9h.5M160.2 319.3h.5M150.1 317.8h.5M135.6 317.7h.5M142.6 319.7h.5M132.6 319.1h.5M150.4 319.1h.5M142.1 317.6h.5M163.3 318.6h.5M135.0 317.9h.5M156.9 319.1h.5M150.0 319.3h.5M159.5 318.1h.5M152.1 318.8h.5M158.6 318.9h.5M148.5 320.1h.5M151.3 318.4h.5M151.8 316.9h.5M150.2 319.4h.5M159.6 318.9h.5M143.0 318.1h.5M145.5 316.6h.5M158.3 318.9h.5M133.5 317.9h.5M142.4 317.8h.5M140.6 318.6h.5M162.4 319.4h.5M147.7 319.6h.5M158.9 317.7h.5M131.0 319.0h.5M134.1 318.7h.5M142.6 319.5h.5M142.5 318.2h.5M133.9 318.8h.5M157.1 318.9h.5M133.2 319.4h.5M146.8 319.0h.5M153.8 319.3h.5M132.6 319.6h.5M151.8 319.1h.5M130.1 319.8h.5M135.1 317.9h.5M144.2 319.7h.5M158.1 320.6h.5M133.5 319.8h.5M129.9 318.7h.5M151.4 318.0h.5M142.9 318.5h.5M140.5 319.6h.5M150.2 319.2h.5M131.5 315.7h.5M145.5 316.1h.5M145.6 319.0h.5M138.1 306.1h.5M151.4 318.0h.5M152.1 307.3h.5M140.6 308.7h.5M151.6 309.8h.5M146.6 319.9h.5M156.9 313.0h.5M137.0 318.8h.5M154.9 313.3h.5M147.9 320.1h.5M148.2 316.9h.5M157.4 314.6h.5M152.1 311.1h.5M155.1 315.4h.5M153.6 319.1h.5M146.7 317.1h.5M160.4 315.1h.5M147.2 310.6h.5M137.9 318.9h.5M141.4 318.7h.5M135.6 319.9h.5M139.4 318.5h.5M160.5 306.4h.5M153.5 307.7h.5M154.1 310.4h.5M155.2 297.6h.5M152.8 297.7h.5M139.3 314.0h.5M131.9 310.8h.5M137.6 314.2h.5M144.3 305.8h.5M153.2 317.6h.5M146.2 309.5h.5M153.6 317.4h.5M137.8 313.9h.5M135.5 319.9h.5M161.0 312.0h.5M131.9 316.2h.5M142.9 307.7h.5M156.2 306.2h.5M137.5 308.3h.5M156.8 320.0h.5M143.0 315.5h.5M149.2 320.2h.5M149.7 318.0h.5M148.4 312.9h.5M152.9 314.9h.5M134.3 315.7h.5M159.3 312.0h.5M148.2 317.9h.5M146.9 313.6h.5M153.3 312.2h.5M148.9 311.6h.5M159.6 319.1h.5M158.8 311.5h.5M133.4 316.4h.5M133.8 311.5h.5M160.9 319.2h.5M150.6 317.5h.5M137.8 315.7h.5M134.2 317.9h.5M150.7 306.7h.5M147.5 312.5h.5M132.2 317.0h.5M154.0 317.8h.5M148.6 313.2h.5M146.1 314.5h.5M150.8 309.2h.5M145.5 317.4h.5M153.7 318.4h.5M135.1 311.5h.5M144.3 319.1h.5M141.4 313.0h.5M158.9 315.9h.5M135.9 311.6h.5M142.1 302.6h.5M146.8 307.8h.5M139.6 315.0h.5M145.3 318.8h.5M150.1 319.7h.5M149.7 311.4h.5M152.6 313.7h.5M139.9 315.8h.5M141.1 320.2h.5M160.5 316.5h.5M132.4 315.3h.5M143.6 313.3h.5M151.4 313.0h.5M156.9 308.3h.5M148.3 314.0h.5M143.4 304.6h.5M145.1 306.7h.5M140.6 313.1h.5M144.8 313.7h.5M163.1 316.5h.5M131.5 320.6h.5M149.5 316.8h.5M146.2 310.0h.5M154.5 317.5h.5M139.8 318.1h.5M155.1 317.2h.5M158.5 318.6h.5M146.4 311.5h.5M156.7 311.3h.5M146.3 313.2h.5M137.0 315.3h.5M147.9 307.5h.5M137.0 288.9h.5M133.2 316.4h.5M139.9 314.9h.5M138.6 313.4h.5M140.6 315.2h.5M159.0 316.6h.5M152.9 316.9h.5M136.7 320.1h.5M145.1 318.7h.5M156.0 319.4h.5M159.4 311.3h.5M140.7 319.2h.5M153.2 318.8h.5M136.2 319.7h.5M153.5 317.6h.5M147.5 307.3h.5M162.3 315.3h.5M142.7 317.1h.5M141.1 316.0h.5M160.3 317.3h.5M144.7 310.5h.5M140.9 314.3h.5M134.6 313.8h.5M146.4 308.6h.5M158.4 310.5h.5M146.5 314.9h.5M151.2 313.0h.5M137.9 317.4h.5M159.0 312.6h.5M158.8 311.8h.5M139.5 311.8h.5M144.8 298.4h.5M144.8 318.5h.5M154.5 319.2h.5M133.0 317.3h.5M156.7 319.7h.5M140.3 318.5h.5M155.8 318.0h.5M152.1 316.9h.5M137.5 317.3h.5M136.1 320.3h.5M141.6 313.4h.5M139.1 314.2h.5M149.0 315.2h.5M142.3 315.2h.5M146.9 311.7h.5M151.4 317.4h.5M143.4 314.5h.5M141.1 319.6h.5M137.7 318.4h.5M141.4 298.6h.5M138.0 319.8h.5M143.6 320.2h.5M138.8 309.0h.5M144.7 309.0h.5M147.5 317.9h.5M155.5 318.1h.5M162.3 315.7h.5M146.4 318.6h.5M146.8 310.6h.5M155.4 316.6h.5M144.6 291.2h.5M137.6 319.1h.5M133.1 315.5h.5M140.1 314.2h.5M139.2 314.7h.5M137.9 318.9h.5M136.7 316.0h.5M159.8 309.8h.5M134.6 314.3h.5M139.5 306.3h.5M130.0 315.4h.5M142.2 299.1h.5M157.6 310.5h.5M142.6 319.8h.5M134.0 314.9h.5M157.5 307.1h.5M136.4 306.2h.5M150.5 320.3h.5M145.9 319.7h.5M143.5 305.7h.5M137.8 311.8h.5M136.8 319.4h.5M132.5 318.4h.5M150.3 315.9h.5M136.4 319.4h.5M136.7 317.8h.5M143.6 315.4h.5M141.6 313.9h.5M139.8 312.1h.5M153.0 316.6h.5M155.4 317.4h.5M136.9 316.5h.5M150.8 315.2h.5M148.0 316.3h.5M138.7 305.9h.5M162.2 312.0h.5M150.0 311.6h.5M151.9 303.2h.5M156.9 311.0h.5M145.0 309.2h.5M148.2 312.5h.5M159.7 314.3h.5M136.1 312.6h.5M156.4 310.0h.5M153.3 306.8h.5M144.5 305.9h.5M159.6 316.8h.5M153.8 309.3h.5M146.0 315.3h.5M155.7 314.9h.5M131.5 315.8h.5M149.6 306.0h.5M161.0 317.3h.5M136.5 307.4h.5M141.3 308.8h.5M143.7 309.8h.5M137.1 318.5h.5M152.6 318.5h.5M154.2 320.0h.5M139.2 317.9h.5M145.7 320.2h.5M142.5 320.1h.5M138.1 303.5h.5M156.9 314.4h.5M148.5 316.7h.5M141.2 315.8h.5M153.8 309.7h.5M133.8 315.2h.5M147.0 311.8h.5M146.2 310.5h.5M143.3 319.4h.5M143.4 310.8h.5M157.6 320.2h.5M152.5 312.7h.5M150.7 316.4h.5M146.7 316.1h.5M134.2 314.8h.5M135.3 316.3h.5M135.6 309.1h.5M140.0 316.0h.5M155.4 314.5h.5M140.3 314.8h.5M145.9 312.6h.5M149.6 301.1h.5M152.0 319.6h.5M130.7 318.1h.5M148.7 305.6h.5M145.4 320.6h.5M137.1 315.2h.5M132.9 313.8h.5M145.4 314.7h.5M145.3 315.0h.5M157.4 316.6h.5M155.5 313.6h.5M135.5 320.4h.5M153.5 312.2h.5M138.9 311.0h.5M131.9 318.2h.5M155.1 309.5h.5M145.6 297.4h.5M151.0 320.1h.5M142.2 319.7h.5M135.3 314.1h.5M146.8 308.1h.5M151.2 315.6h.5M136.3 314.8h.5M136.5 317.4h.5M146.1 319.3h.5M139.3 311.8h.5M147.3 316.0h.5M154.3 308.5h.5M153.5 305.8h.5M146.5 314.9h.5M163.0 312.9h.5M136.4 305.6h.5M156.7 320.3h.5M162.1 318.1h.5M150.9 315.8h.5M137.0 315.0h.5M151.2 295.7h.5M152.3 315.6h.5M156.0 306.0h.5M136.1 318.1h.5M151.1 320.6h.5M153.0 317.3h.5M153.1 311.5h.5M155.8 319.7h.5M145.5 318.5h.5M148.0 316.3h.5M146.3 299.7h.5M152.0 313.6h.5M138.9 307.7h.5M147.7 304.2h.5M137.5 316.1h.5M143.0 320.1h.5M160.5 313.4h.5M151.5 304.5h.5M155.1 298.4h.5M145.4 315.7h.5M132.8 317.0h.5M148.6 318.1h.5M132.9 317.1h.5M142.4 314.4h.5M135.2 318.6h.5M136.8 311.0h.5M154.5 308.9h.5M164.1 317.8h.5M135.5 312.9h.5M135.4 318.0h.5M163.1 319.6h.5M139.1 318.0h.5M160.5 316.1h.5M155.3 319.9h.5M136.3 316.2h.5M147.7 318.5h.5M144.2 312.9h.5M155.4 311.1h.5M153.6 318.6h.5M140.5 317.4h.5M150.2 310.4h.5M149.9 303.2h.5M135.0 313.9h.5M153.1 296.4h.5M157.4 316.2h.5M144.7 318.9h.5M139.7 311.4h.5M134.9 318.4h.5M135.1 319.5h.5M156.3 306.5h.5M142.3 319.9h.5M152.0 319.2h.5M160.1 307.0h.5M156.8 320.6h.5M146.5 308.8h.5M151.9 317.9h.5M152.6 316.7h.5M143.5 314.2h.5M137.4 316.3h.5M135.4 307.1h.5M140.2 309.9h.5M157.8 316.9h.5M150.0 312.4h.5M140.1 308.8h.5M152.7 306.9h.5M142.3 308.6h.5M153.0 301.2h.5M148.7 309.7h.5M143.8 319.3h.5M137.4 313.9h.5M143.6 306.8h.5M158.4 311.7h.5M137.5 318.0h.5M136.0 312.2h.5M141.2 314.5h.5M152.3 298.7h.5M152.9 316.6h.5M151.8 316.7h.5M143.3 316.1h.5M139.6 315.2h.5M129.7 320.2h.5M130.7 319.7h.5M139.7 317.5h.5M154.6 319.0h.5M143.1 315.9h.5M137.7 313.7h.5M131.0 315.4h.5M151.9 302.3h.5M143.2 307.1h.5M137.3 319.6h.5M138.0 314.6h.5M136.7 310.2h.5M150.5 315.9h.5M135.2 309.7h.5M158.7 311.9h.5M150.0 319.6h.5M144.9 287.3h.5M142.3 313.2h.5M138.0 320.5h.5M143.4 315.8h.5M139.9 313.8h.5M136.0 310.7h.5M146.6 309.5h.5M147.8 301.5h.5M146.5 315.8h.5M162.1 314.0h.5M145.9 312.7h.5M154.6 311.6h.5M147.9 302.8h.5M138.0 309.8h.5M141.8 316.3h.5M157.4 313.2h.5M161.9 315.3h.5M148.5 316.2h.5M148.5 317.7h.5M135.2 312.5h.5M150.9 316.3h.5M134.5 319.8h.5M141.8 316.8h.5M149.3 307.4h.5M142.9 310.0h.5M137.0 306.4h.5M136.5 318.7h.5M157.2 317.8h.5M147.6 305.0h.5M152.0 315.6h.5M148.8 320.7h.5M163.1 315.8h.5M142.7 317.7h.5M144.7 313.1h.5M164.0 316.3h.5M169.7 317.6h.5M161.0 318.4h.5M167.7 309.3h.5M176.3 308.0h.5M174.1 305.5h.5M177.3 308.3h.5M173.0 317.5h.5M159.8 319.4h.5M169.0 315.0h.5M161.0 303.3h.5M173.0 314.7h.5M177.7 311.5h.5M160.9 303.1h.5M175.8 308.1h.5M170.1 313.3h.5M178.6 304.3h.5M173.6 302.6h.5M170.4 319.5h.5M173.8 311.2h.5M176.8 306.1h.5M167.5 317.2h.5M167.3 317.9h.5M178.0 303.9h.5M164.9 319.0h.5M178.3 305.4h.5M165.7 313.6h.5M178.5 303.6h.5M175.4 309.5h.5M160.8 317.0h.5M178.5 277.6h.5M168.3 319.6h.5M176.6 307.4h.5M161.5 303.4h.5M166.6 318.8h.5M180.8 292.9h.5M179.0 307.9h.5M161.1 319.5h.5M162.4 314.7h.5M175.6 306.5h.5M162.5 319.0h.5M181.8 286.2h.5M174.6 317.0h.5M178.8 308.6h.5M174.9 313.4h.5M182.5 289.5h.5M168.5 314.1h.5M170.4 313.2h.5M176.4 297.2h.5M163.5 300.6h.5M160.9 316.8h.5M178.6 311.0h.5M173.3 312.7h.5M160.9 318.7h.5M162.8 313.1h.5M171.6 315.6h.5M171.9 317.3h.5M161.6 318.1h.5M163.8 318.8h.5M166.2 307.5h.5M166.9 316.4h.5M175.8 310.1h.5M167.8 318.8h.5M168.1 306.5h.5M175.3 292.3h.5M175.7 307.7h.5M172.2 317.1h.5M175.8 314.4h.5M168.2 316.8h.5M177.2 309.2h.5M166.3 317.8h.5M166.1 320.1h.5M172.4 316.5h.5M162.9 314.0h.5M173.1 302.1h.5M162.2 318.3h.5M178.1 309.8h.5M168.2 317.7h.5M165.4 314.0h.5M166.4 309.7h.5M168.2 304.6h.5M175.9 312.0h.5M175.7 302.3h.5M179.8 306.5h.5M173.0 306.7h.5M170.9 318.7h.5M173.1 312.5h.5M167.0 318.1h.5M162.0 316.0h.5M177.9 306.1h.5M163.6 318.2h.5M168.4 308.6h.5M177.7 307.0h.5M168.1 314.6h.5M178.5 302.2h.5M172.0 306.9h.5M174.6 311.7h.5M176.2 306.7h.5M172.8 317.8h.5M181.0 298.9h.5M169.1 317.7h.5M173.6 317.5h.5M180.3 294.9h.5M179.8 287.5h.5M173.3 311.5h.5M178.8 298.3h.5M162.2 316.8h.5M170.1 316.8h.5M170.8 317.5h.5M177.5 303.2h.5M163.0 317.0h.5M175.2 310.3h.5M176.6 310.2h.5M173.4 313.5h.5M164.8 314.7h.5M169.8 317.0h.5M172.6 312.4h.5M170.5 316.5h.5M168.5 317.7h.5M179.2 293.2h.5M159.7 319.1h.5M176.1 308.3h.5M164.8 319.8h.5M171.6 316.9h.5M166.5 318.8h.5M180.3 307.6h.5M159.0 318.9h.5M171.4 313.8h.5M178.5 312.2h.5M164.9 316.7h.5M180.3 300.5h.5M175.4 307.6h.5M179.2 299.0h.5M175.6 311.5h.5M170.0 308.5h.5M160.2 317.1h.5M173.0 305.2h.5M174.1 317.0h.5M173.8 312.9h.5M172.4 317.4h.5M167.5 312.1h.5M168.0 318.1h.5M176.4 311.0h.5M172.6 317.6h.5M176.8 307.1h.5M172.7 314.9h.5M183.8 277.4h.5M175.1 314.0h.5M159.4 301.9h.5M183.6 288.0h.5M176.8 304.6h.5M178.1 311.4h.5M180.4 295.1h.5M177.2 306.7h.5M168.4 318.5h.5M167.1 317.6h.5M161.9 318.9h.5M167.1 314.8h.5M160.1 301.7h.5M165.0 318.4h.5M172.9 315.0h.5M161.1 317.4h.5M172.1 309.7h.5M162.9 316.3h.5M161.4 316.2h.5M172.1 314.0h.5M164.3 317.4h.5M179.5 306.6h.5M165.1 321.3h.5M178.5 306.7h.5M175.0 313.6h.5M174.2 303.4h.5M172.0 317.7h.5M180.5 302.4h.5M167.5 306.1h.5M162.1 317.2h.5M171.7 316.0h.5M164.7 317.0h.5M162.6 315.6h.5M161.4 312.7h.5M163.5 281.2h.5M165.9 314.9h.5M174.4 311.0h.5M163.1 318.3h.5M175.7 312.3h.5M166.7 318.5h.5M175.8 306.6h.5M168.9 311.2h.5M169.8 319.5h.5M172.1 312.9h.5M174.0 310.6h.5M176.8 311.6h.5M177.7 306.7h.5M174.1 312.7h.5M161.8 318.5h.5M177.1 275.6h.5M162.8 303.5h.5M162.1 312.6h.5M177.3 303.2h.5M171.1 315.4h.5M168.3 308.9h.5M177.4 300.3h.5M179.8 300.9h.5M173.8 312.2h.5M172.2 314.2h.5M176.8 307.8h.5M178.7 306.8h.5M178.7 305.8h.5M173.3 312.9h.5M166.9 320.1h.5M168.2 311.1h.5M169.3 312.1h.5M161.5 319.4h.5M178.9 303.4h.5M170.7 307.8h.5M174.2 315.0h.5M168.3 312.2h.5M168.6 319.2h.5M174.8 310.7h.5M174.7 311.5h.5M178.2 306.6h.5M178.7 305.4h.5M175.1 302.5h.5M171.6 315.1h.5M172.8 310.4h.5M171.9 319.0h.5M167.1 312.9h.5M170.2 316.3h.5M177.7 307.3h.5M171.7 301.0h.5M161.6 318.9h.5M180.8 310.5h.5M170.6 318.2h.5M173.4 316.5h.5M176.2 307.5h.5M165.8 320.2h.5M167.2 295.2h.5M181.5 294.8h.5M172.0 308.7h.5M174.6 311.9h.5M159.9 315.3h.5M175.7 308.6h.5M177.3 312.1h.5M172.8 311.8h.5M176.1 314.1h.5M174.6 313.3h.5M174.3 312.2h.5M171.2 307.8h.5M174.7 312.9h.5M166.8 317.5h.5M173.2 290.0h.5M170.9 305.1h.5M176.4 309.7h.5M174.5 283.7h.5M178.9 302.3h.5M173.4 312.0h.5M175.1 306.8h.5M179.5 307.1h.5M170.0 314.9h.5M168.7 318.1h.5M169.7 315.3h.5M175.1 313.1h.5M173.9 319.0h.5M173.8 311.0h.5M162.0 317.7h.5M180.1 297.9h.5M162.5 319.1h.5M181.2 293.2h.5M173.4 299.4h.5M181.0 290.0h.5M175.9 312.1h.5M165.5 315.9h.5M173.3 314.3h.5M177.9 311.3h.5M180.4 288.8h.5M169.6 312.3h.5M178.4 300.5h.5M162.8 315.1h.5M167.1 314.1h.5M169.9 310.2h.5M168.3 316.3h.5M170.4 310.5h.5M166.3 317.1h.5M168.1 314.0h.5M182.4 279.1h.5M180.9 295.0h.5M170.8 316.0h.5M170.0 308.5h.5M173.6 314.6h.5M160.9 317.1h.5M162.7 317.2h.5M165.9 316.3h.5M177.0 309.9h.5M178.1 306.1h.5M167.0 317.3h.5M159.9 319.5h.5M174.7 311.8h.5M174.2 317.1h.5M163.4 319.7h.5M165.2 306.7h.5M180.2 298.0h.5M173.8 311.5h.5M172.5 314.3h.5M177.4 304.8h.5M163.4 317.3h.5M168.5 309.6h.5M165.2 318.4h.5M178.2 312.5h.5M163.8 318.7h.5M164.2 315.4h.5M173.8 314.7h.5M178.0 310.4h.5M175.1 308.0h.5M170.5 307.8h.5M167.0 307.3h.5M175.9 307.3h.5M178.4 308.5h.5M174.1 306.6h.5M165.6 314.9h.5M172.4 311.3h.5M181.0 299.1h.5M166.3 306.3h.5M176.5 310.6h.5M174.6 316.1h.5M176.9 308.2h.5M168.7 318.0h.5M169.4 316.4h.5M165.3 317.9h.5M161.9 319.5h.5M172.2 317.8h.5M176.5 309.0h.5M161.4 308.7h.5M174.2 315.3h.5M176.2 310.3h.5M172.9 316.5h.5M163.6 317.9h.5M165.1 314.6h.5M169.2 320.2h.5M180.5 301.3h.5M177.6 314.6h.5M168.2 317.8h.5M163.0 311.8h.5M177.1 307.2h.5M175.6 299.4h.5M170.5 318.1h.5M167.4 317.8h.5M180.5 289.9h.5M175.7 311.6h.5M166.3 316.3h.5M161.1 317.9h.5M182.7 279.2h.5M176.1 308.3h.5M163.1 302.1h.5M173.9 304.6h.5M182.9 280.7h.5M178.4 309.4h.5M169.1 316.1h.5M179.8 297.3h.5M181.4 296.8h.5M173.2 304.5h.5M179.1 306.1h.5M171.8 315.8h.5M162.9 297.9h.5M176.0 310.9h.5M180.3 296.7h.5M174.3 315.0h.5M173.0 296.3h.5M166.5 317.9h.5M180.3 297.7h.5M182.8 301.8h.5M171.1 317.3h.5M172.2 312.6h.5M168.9 317.2h.5M161.4 318.2h.5M165.3 320.4h.5M166.0 314.2h.5M173.5 314.1h.5M163.6 318.3h.5M176.2 313.1h.5M164.3 318.8h.5M173.3 317.8h.5M167.8 310.9h.5M168.7 316.8h.5M182.7 280.4h.5M177.6 310.7h.5M172.0 315.1h.5M169.2 317.6h.5M177.5 302.3h.5M172.8 313.8h.5M173.2 316.5h.5M159.9 316.6h.5M166.8 317.9h.5M176.5 304.9h.5M160.5 300.5h.5M167.5 317.9h.5M173.2 315.4h.5M182.8 297.7h.5M177.3 305.1h.5M163.2 318.3h.5M176.1 310.1h.5M172.4 312.3h.5M177.3 310.7h.5M169.1 306.7h.5M173.4 314.2h.5M182.8 288.8h.5M172.7 312.8h.5M167.3 318.2h.5M175.2 304.9h.5M161.9 287.2h.5M177.9 295.2h.5M177.1 307.3h.5M169.3 313.9h.5M160.8 316.6h.5M176.2 302.2h.5M162.8 305.7h.5M176.1 312.6h.5M175.5 308.0h.5M163.5 320.1h.5M170.2 316.3h.5M179.6 309.7h.5M167.8 314.1h.5M177.5 308.2h.5M160.7 318.4h.5M172.3 307.0h.5M172.1 312.3h.5M179.6 300.7h.5M180.9 301.9h.5M179.1 301.1h.5M168.6 304.9h.5M171.2 315.8h.5M170.7 314.6h.5M168.2 318.4h.5M163.1 317.4h.5M177.2 306.6h.5M171.0 315.5h.5M165.2 316.5h.5M170.2 316.3h.5M168.6 316.5h.5M175.6 299.3h.5M162.5 302.8h.5M184.0 291.9h.5M162.0 318.1h.5M180.4 290.8h.5M168.1 317.1h.5M172.8 313.4h.5M167.8 317.8h.5M180.9 297.3h.5M177.9 303.3h.5M174.9 299.9h.5M180.4 290.1h.5M163.2 318.0h.5M176.8 307.8h.5M177.1 312.6h.5M180.3 299.0h.5M169.2 318.2h.5M180.1 305.4h.5M182.8 280.6h.5M177.1 305.1h.5M180.1 311.2h.5M177.6 307.9h.5M178.0 299.8h.5M177.9 304.5h.5M170.1 313.1h.5M164.2 318.0h.5M164.0 318.1h.5M167.1 315.2h.5M180.6 297.6h.5M181.3 294.7h.5M179.8 298.5h.5M175.4 295.7h.5M176.5 311.6h.5M170.0 319.6h.5M165.7 316.3h.5M167.8 308.2h.5M171.9 312.1h.5M168.2 312.8h.5M177.0 311.6h.5M168.5 312.6h.5M178.2 305.6h.5M174.4 304.9h.5M176.6 309.1h.5M171.4 318.9h.5M165.5 318.3h.5M176.3 307.0h.5M167.2 317.0h.5M172.7 313.3h.5M180.4 295.2h.5M160.3 315.9h.5M172.0 308.7h.5M162.9 317.2h.5M162.3 316.9h.5M175.9 308.7h.5M163.2 304.2h.5M178.3 303.2h.5M173.7 318.3h.5M180.9 291.8h.5M167.1 308.4h.5M165.2 318.7h.5M160.8 318.4h.5M169.1 314.1h.5M174.9 312.2h.5M159.1 317.4h.5M176.7 309.4h.5M177.9 304.9h.5M174.8 304.5h.5M180.8 302.1h.5M169.5 318.1h.5M180.6 297.1h.5M170.8 314.4h.5M179.6 302.4h.5M175.0 306.5h.5M172.3 307.1h.5M160.7 301.8h.5M165.1 317.8h.5M162.5 315.3h.5M168.3 307.0h.5M168.2 313.5h.5M168.7 312.0h.5M168.5 309.2h.5M176.5 310.4h.5M162.4 318.0h.5M177.3 312.6h.5M176.6 312.4h.5M173.1 314.2h.5M176.9 314.5h.5M159.7 318.2h.5M173.1 316.0h.5M176.3 301.0h.5M163.1 315.8h.5M178.5 307.3h.5M174.3 313.4h.5M170.7 317.8h.5M177.2 285.9h.5M162.8 316.0h.5M172.2 315.3h.5M178.6 302.0h.5M179.8 300.7h.5M171.7 316.3h.5M168.6 312.0h.5M177.3 306.0h.5M167.2 313.3h.5M180.9 293.3h.5M161.4 317.4h.5M165.2 316.9h.5M174.5 316.0h.5M177.6 299.9h.5M162.0 319.1h.5M166.6 315.0h.5M179.7 296.8h.5M179.8 303.9h.5M174.0 314.0h.5M174.7 310.3h.5M180.1 298.8h.5M168.2 304.3h.5M180.2 303.7h.5M172.9 315.8h.5M179.4 301.7h.5M172.1 315.1h.5M175.3 301.1h.5M179.4 298.0h.5M172.1 313.3h.5M181.3 300.4h.5M166.6 316.6h.5M174.7 313.5h.5M176.0 312.6h.5M177.0 307.0h.5M177.3 299.1h.5M175.6 304.3h.5M177.3 309.4h.5M176.2 310.2h.5M163.6 320.2h.5M176.6 308.8h.5M177.2 304.6h.5M178.5 309.8h.5M164.3 315.9h.5M180.7 281.2h.5M170.7 318.6h.5M161.9 318.1h.5M172.0 312.4h.5M171.3 316.7h.5M173.5 313.5h.5M166.7 307.0h.5M164.0 313.7h.5M182.8 295.1h.5M180.0 307.6h.5M160.6 320.0h.5M173.0 315.8h.5M178.8 308.2h.5M175.1 308.0h.5M174.2 312.4h.5M176.5 311.0h.5M170.7 318.2h.5M177.8 305.7h.5M165.5 306.4h.5M163.6 318.0h.5M168.7 311.5h.5M180.6 298.2h.5M163.8 318.6h.5M178.6 313.3h.5M171.3 310.4h.5M178.2 303.6h.5M174.5 313.1h.5M169.1 312.0h.5M168.9 317.4h.5M171.6 313.8h.5M177.3 304.1h.5M165.9 318.2h.5M170.0 315.7h.5M165.8 317.1h.5M162.9 319.0h.5M167.8 315.3h.5M168.9 318.1h.5M178.9 309.4h.5M168.5 309.9h.5M176.9 298.9h.5M176.8 310.2h.5M176.2 308.2h.5M173.7 303.6h.5M170.9 306.0h.5M176.2 309.6h.5M174.6 314.1h.5M176.2 311.0h.5M170.6 308.0h.5M176.1 313.6h.5M157.8 291.4h.5M181.0 301.0h.5M162.2 321.3h.5M167.5 318.9h.5M176.7 305.9h.5M167.8 316.6h.5M162.7 320.7h.5M164.8 314.2h.5M176.7 316.6h.5M171.2 313.3h.5M168.3 318.1h.5M175.7 315.3h.5M161.6 316.6h.5M183.2 284.2h.5M173.8 316.0h.5M171.8 315.1h.5M177.4 295.9h.5M170.7 317.3h.5M176.7 307.1h.5M179.8 298.3h.5M166.3 309.0h.5M164.2 304.9h.5M170.6 309.6h.5M171.5 310.4h.5M160.3 320.7h.5M173.8 313.1h.5M171.9 310.2h.5M178.3 310.5h.5M169.2 315.5h.5M175.7 309.9h.5M167.3 317.1h.5M180.6 288.7h.5M176.5 313.6h.5M164.8 316.5h.5M178.5 306.9h.5M169.5 316.2h.5M170.2 311.5h.5M179.7 304.7h.5M176.6 308.5h.5M178.5 303.5h.5M161.5 316.5h.5M177.6 305.6h.5M166.6 317.2h.5M166.1 312.4h.5M165.6 299.7h.5M171.1 311.1h.5M160.3 316.5h.5M168.8 311.3h.5M173.8 314.2h.5M166.5 315.4h.5M177.3 311.3h.5M170.8 316.2h.5M179.1 307.8h.5M177.3 310.6h.5M181.3 293.9h.5M170.8 315.9h.5M168.2 308.6h.5M165.1 315.0h.5M167.6 317.3h.5M162.3 318.4h.5M180.0 309.9h.5M173.9 315.0h.5M178.0 297.2h.5M165.5 305.7h.5M166.7 317.3h.5M176.9 277.6h.5M177.2 304.8h.5M160.8 309.3h.5M176.8 309.8h.5M169.3 317.0h.5M179.0 300.9h.5M178.0 305.2h.5M176.3 312.1h.5M174.3 297.5h.5M172.8 312.5h.5M177.5 306.6h.5M168.6 317.0h.5M169.8 310.2h.5M173.9 312.4h.5M168.4 317.1h.5M178.4 311.9h.5M172.9 311.2h.5M179.2 291.7h.5M178.9 307.0h.5M179.2 302.0h.5M175.2 314.6h.5M175.1 313.6h.5M173.5 313.6h.5M169.6 316.1h.5M180.3 305.9h.5M170.1 316.3h.5M176.7 308.5h.5M162.1 316.5h.5M168.4 318.6h.5M161.3 306.5h.5M177.2 287.0h.5M185.0 282.4h.5M176.9 311.6h.5M171.7 309.1h.5M161.5 320.0h.5M160.8 314.0h.5M177.6 311.5h.5M174.9 312.7h.5M180.1 296.4h.5M170.8 301.7h.5M160.4 301.2h.5M171.0 313.3h.5M173.8 314.2h.5M161.7 316.4h.5M177.4 310.3h.5M176.9 306.5h.5M179.7 302.1h.5M171.3 315.4h.5M162.4 316.5h.5M160.8 317.5h.5M169.0 315.0h.5M175.4 307.5h.5M162.4 315.4h.5M160.1 318.7h.5M173.8 312.1h.5M172.7 313.5h.5M162.8 319.0h.5M176.0 310.4h.5M170.1 309.7h.5M170.4 318.7h.5M172.3 319.4h.5M177.7 313.1h.5M172.2 316.3h.5M164.9 319.8h.5M178.0 303.0h.5M174.5 315.8h.5M162.4 319.0h.5M166.3 319.9h.5M168.2 292.1h.5M183.6 287.8h.5M174.3 315.8h.5M172.8 303.0h.5M165.7 312.4h.5M177.1 313.4h.5M170.1 313.3h.5M171.3 315.0h.5M160.5 320.5h.5M172.5 313.8h.5M174.7 318.3h.5M168.7 309.8h.5M171.3 315.8h.5M179.9 292.6h.5M164.4 319.6h.5M165.7 317.6h.5M174.7 311.1h.5M166.4 316.6h.5M175.3 308.1h.5M177.5 306.3h.5M164.6 314.4h.5M178.4 312.6h.5M171.4 300.2h.5M168.3 314.2h.5M170.4 316.5h.5M161.1 317.2h.5M177.4 309.7h.5M175.3 311.6h.5M158.0 301.1h.5M173.7 307.5h.5M175.1 312.0h.5M163.3 316.1h.5M164.8 320.7h.5M172.9 310.7h.5M176.6 304.9h.5M162.5 314.1h.5M166.9 314.4h.5M170.5 315.2h.5M170.3 308.2h.5M181.1 293.7h.5M164.7 318.3h.5M172.0 312.3h.5M176.8 305.4h.5M178.3 306.6h.5M182.2 297.6h.5M177.3 305.1h.5M175.7 312.2h.5M183.1 286.9h.5M179.0 306.1h.5M174.9 313.8h.5M164.7 303.2h.5M175.4 308.3h.5M174.1 312.8h.5M178.3 308.4h.5M175.6 310.8h.5M167.4 319.7h.5M178.7 305.5h.5M177.8 307.1h.5M164.2 318.5h.5M169.2 316.5h.5M181.3 296.8h.5M177.9 306.0h.5M164.2 316.1h.5M165.7 305.6h.5M176.8 302.6h.5M163.3 316.5h.5M172.1 302.8h.5M182.3 290.3h.5M160.4 318.0h.5M173.6 316.1h.5M175.1 313.7h.5M162.5 314.7h.5M161.4 318.8h.5M177.6 311.8h.5M175.6 308.2h.5M170.0 316.5h.5M161.6 320.1h.5M160.3 319.5h.5M177.4 307.0h.5M171.8 315.4h.5M179.2 300.5h.5M177.9 301.0h.5M167.5 311.8h.5M174.5 312.2h.5M161.9 319.2h.5M171.8 308.3h.5M180.0 299.4h.5M163.8 317.7h.5M181.6 290.5h.5M163.9 317.7h.5M172.0 315.2h.5M162.2 303.4h.5M168.0 319.0h.5M165.5 318.8h.5M178.9 306.5h.5M169.2 314.9h.5M174.2 313.1h.5M182.2 300.8h.5M169.6 317.5h.5M178.3 290.1h.5M167.6 318.7h.5M181.6 293.4h.5M167.1 315.0h.5M166.3 319.1h.5M173.4 314.6h.5M159.9 302.1h.5M176.2 297.4h.5M165.0 311.7h.5M171.0 313.4h.5M175.8 310.3h.5M178.0 303.6h.5M163.9 316.9h.5M161.4 319.8h.5M173.6 313.1h.5M166.4 315.0h.5M173.5 297.0h.5M170.6 313.7h.5M175.0 313.2h.5M167.7 317.5h.5M169.3 320.6h.5M163.3 313.2h.5M174.2 317.3h.5M161.7 318.9h.5M178.3 300.1h.5M174.1 313.6h.5M175.2 312.5h.5M177.2 304.5h.5M179.0 312.9h.5M161.1 317.9h.5M176.0 307.5h.5M165.9 317.0h.5M160.3 317.7h.5M163.9 320.0h.5M172.2 312.7h.5M173.5 317.0h.5M169.8 316.7h.5M163.0 299.5h.5M178.2 305.1h.5M176.3 312.0h.5M176.4 311.6h.5M178.7 309.5h.5M166.2 317.1h.5M182.0 287.1h.5M175.0 314.0h.5M165.6 316.2h.5M177.1 311.7h.5M171.5 318.0h.5M180.8 302.9h.5M176.1 305.3h.5M178.2 306.1h.5M172.2 319.9h.5M163.2 321.3h.5M160.1 317.5h.5M178.3 307.1h.5M174.3 312.0h.5M168.9 310.2h.5M167.6 318.8h.5M175.5 301.2h.5M161.8 319.6h.5M163.8 317.1h.5M176.1 299.8h.5M164.5 318.9h.5M181.0 293.5h.5M170.7 311.0h.5M165.7 318.4h.5M173.7 311.7h.5M161.2 312.7h.5M160.0 321.2h.5M174.1 313.4h.5M163.0 321.2h.5M172.1 315.7h.5M163.0 317.8h.5M167.5 314.7h.5M167.9 296.6h.5M173.2 306.5h.5M161.2 314.1h.5M167.0 312.0h.5M179.2 311.4h.5M180.9 301.2h.5M175.0 312.9h.5M161.6 318.4h.5M171.3 316.5h.5M179.9 296.9h.5M176.2 309.2h.5M178.3 306.0h.5M171.0 314.7h.5M169.0 312.8h.5M167.6 318.2h.5M171.0 316.8h.5M182.8 287.4h.5M175.3 308.6h.5M166.1 320.2h.5M172.7 313.9h.5M172.2 313.7h.5M175.8 313.2h.5M169.4 317.8h.5M176.3 311.6h.5M170.7 318.8h.5M176.8 310.1h.5M178.0 311.4h.5M176.7 308.7h.5M174.3 312.6h.5M178.0 304.2h.5M164.5 318.9h.5M171.0 312.2h.5M169.9 311.2h.5M167.0 311.7h.5M162.9 316.8h.5M167.5 304.2h.5M172.6 312.1h.5M171.6 314.6h.5M169.7 310.2h.5M165.5 305.6h.5M182.2 299.7h.5M178.2 305.8h.5M164.6 317.3h.5M179.7 304.1h.5M168.8 317.5h.5M178.4 303.1h.5M171.2 316.4h.5M172.8 306.3h.5M165.3 315.5h.5M160.6 317.6h.5M169.6 319.3h.5M163.8 317.9h.5M179.1 306.9h.5M174.2 313.9h.5M174.6 309.3h.5M163.0 317.9h.5M175.7 310.2h.5M174.5 304.8h.5M158.9 301.1h.5M164.9 316.2h.5M176.1 303.1h.5M176.8 304.4h.5M169.7 316.3h.5M161.3 299.5h.5M169.0 309.2h.5M170.7 315.3h.5M172.6 314.6h.5M176.4 310.1h.5M164.5 321.3h.5M167.2 318.4h.5M165.5 306.9h.5M170.1 311.8h.5M160.1 317.9h.5M177.6 302.5h.5M170.6 308.6h.5M178.7 305.8h.5M169.8 307.6h.5M178.1 307.7h.5M179.4 307.2h.5M179.2 302.0h.5M168.0 316.6h.5M164.1 318.6h.5M181.3 290.1h.5M170.9 316.0h.5M170.2 315.1h.5M163.1 314.8h.5M160.5 316.8h.5M172.9 316.4h.5M166.2 316.6h.5M173.7 314.0h.5M175.3 311.0h.5M168.8 316.7h.5M177.7 299.9h.5M172.7 316.6h.5M176.2 312.7h.5M173.8 314.8h.5M162.5 318.4h.5M173.0 313.8h.5M172.5 313.8h.5M174.6 314.3h.5M177.6 306.2h.5M178.2 302.9h.5M166.4 317.1h.5M167.1 318.0h.5M181.9 283.0h.5M165.1 316.8h.5M177.3 310.6h.5M175.6 310.8h.5M165.1 311.3h.5M162.1 319.7h.5M177.2 310.1h.5M179.0 311.2h.5M171.4 314.3h.5M165.9 318.3h.5M174.7 309.2h.5M177.6 309.1h.5M172.2 311.3h.5M165.7 304.8h.5M175.3 304.8h.5M171.5 317.4h.5M168.6 315.6h.5M170.3 316.5h.5M171.0 316.3h.5M173.1 316.9h.5M178.7 308.1h.5M174.9 311.0h.5M171.4 317.7h.5M175.9 312.7h.5M168.4 317.5h.5M178.1 309.6h.5M168.6 316.6h.5M170.8 316.9h.5M162.3 321.1h.5M167.7 316.1h.5M168.1 314.8h.5M175.5 314.5h.5M166.6 308.9h.5M171.9 315.2h.5M181.5 290.1h.5M174.8 311.9h.5M178.2 303.0h.5M171.9 318.4h.5M161.1 313.7h.5M170.8 308.6h.5M170.7 316.7h.5M167.6 318.8h.5M167.1 320.4h.5M161.9 316.0h.5M169.7 303.7h.5M168.8 317.8h.5M176.5 309.7h.5M168.0 317.8h.5M173.6 314.5h.5M172.4 314.9h.5M179.2 304.0h.5M170.2 313.6h.5M170.5 318.5h.5M165.0 318.9h.5M178.1 302.9h.5M169.8 319.0h.5M177.6 311.7h.5M168.4 316.0h.5M165.6 305.5h.5M166.2 307.2h.5M176.3 304.2h.5M174.1 314.1h.5M169.7 317.7h.5M178.4 307.1h.5M161.4 317.4h.5M175.3 309.3h.5M170.9 316.9h.5M180.5 307.2h.5M170.6 304.0h.5M163.0 319.5h.5M170.3 316.2h.5M174.8 308.8h.5M163.9 316.0h.5M174.5 311.0h.5M173.1 310.8h.5M171.3 316.0h.5M173.5 315.6h.5M165.4 302.1h.5M177.4 307.7h.5M160.1 311.1h.5M169.2 317.4h.5M176.0 300.2h.5M170.5 298.0h.5M169.6 318.4h.5M167.7 313.1h.5M174.9 319.4h.5M172.4 313.3h.5M176.0 309.5h.5M177.1 309.7h.5M163.4 316.0h.5M174.6 314.7h.5M175.7 311.8h.5M168.5 310.2h.5M163.0 321.1h.5M169.9 314.3h.5M168.5 310.0h.5M179.4 310.6h.5M176.3 308.3h.5M178.5 308.7h.5M161.4 318.1h.5M173.3 311.5h.5M171.4 308.5h.5M176.3 302.4h.5M175.4 299.3h.5M160.3 315.6h.5M182.8 282.2h.5M174.0 313.1h.5M164.7 305.4h.5M180.5 291.4h.5M176.1 310.5h.5M175.1 312.3h.5M169.0 314.5h.5M162.7 313.3h.5M181.0 295.2h.5M168.5 314.7h.5M174.7 311.5h.5M170.3 316.4h.5M161.4 320.8h.5M166.6 313.5h.5M166.2 313.6h.5M175.3 305.7h.5M174.9 309.9h.5M180.0 299.2h.5M174.8 313.6h.5M170.4 317.0h.5M179.7 308.0h.5M163.2 310.9h.5M173.7 308.6h.5M181.2 302.0h.5M160.7 316.3h.5M178.9 307.4h.5M167.0 316.6h.5M177.8 296.9h.5M178.4 304.7h.5M177.5 303.3h.5M178.3 304.7h.5M178.5 303.6h.5M166.5 315.4h.5M166.0 319.6h.5M165.0 310.6h.5M179.6 305.7h.5M181.2 303.0h.5M177.2 315.3h.5M178.3 302.6h.5M170.6 316.5h.5M179.4 302.9h.5M164.9 317.0h.5M176.7 312.0h.5M177.5 313.6h.5M180.2 312.0h.5M169.5 310.9h.5M181.2 280.2h.5M178.3 307.4h.5M165.9 320.5h.5M169.2 316.4h.5M177.4 307.8h.5M175.8 309.6h.5M174.1 313.5h.5M163.9 319.3h.5M164.6 317.6h.5M172.9 315.3h.5M163.3 303.8h.5M184.2 278.0h.5M169.1 317.5h.5M171.6 318.9h.5M172.7 315.5h.5M173.3 308.3h.5M174.2 312.6h.5M160.5 318.7h.5M163.0 318.4h.5M163.5 314.7h.5M178.0 309.5h.5M176.8 311.9h.5M166.6 317.6h.5M170.1 317.5h.5M162.4 319.4h.5M173.4 312.4h.5M175.5 311.2h.5M179.5 303.6h.5M173.5 312.4h.5M160.6 315.8h.5M176.3 311.1h.5M163.9 313.4h.5M176.2 289.2h.5M173.7 315.4h.5M174.9 309.1h.5M176.7 307.8h.5M169.6 318.1h.5M173.3 313.1h.5M166.3 318.3h.5M171.8 314.6h.5M177.3 292.0h.5M172.7 313.5h.5M167.5 313.8h.5M179.3 303.2h.5M178.7 303.1h.5M180.3 301.2h.5M165.2 318.3h.5M175.1 308.5h.5M178.3 310.2h.5M175.6 308.3h.5M179.0 290.6h.5M177.8 306.4h.5M176.4 284.0h.5M174.9 312.2h.5M173.4 314.1h.5M180.3 298.2h.5M174.9 311.6h.5M168.9 319.3h.5M171.3 319.0h.5M164.4 318.6h.5M165.2 318.7h.5M166.4 317.8h.5M166.8 316.9h.5M162.9 308.5h.5M172.8 313.5h.5M173.0 314.6h.5M180.0 306.8h.5M162.8 320.4h.5M177.1 312.5h.5M165.3 305.0h.5M164.8 316.9h.5M165.6 318.0h.5M172.2 314.7h.5M181.6 286.7h.5M164.8 318.7h.5M179.9 303.1h.5M168.8 307.6h.5M162.7 316.6h.5M166.6 315.9h.5M168.4 310.4h.5M172.1 308.6h.5M171.4 315.8h.5M164.0 320.6h.5M174.4 314.4h.5M166.5 313.8h.5M160.8 318.1h.5M174.5 318.2h.5M177.6 310.8h.5M163.0 318.7h.5M155.0 293.6h.5M178.1 311.4h.5M162.0 303.1h.5M177.8 301.2h.5M167.3 317.7h.5M175.0 302.2h.5M175.5 307.3h.5M178.3 305.3h.5M174.3 309.9h.5M183.5 290.2h.5M176.4 313.2h.5M177.9 306.3h.5M177.6 309.6h.5M175.1 310.3h.5M174.5 313.7h.5M176.4 310.6h.5M168.9 315.1h.5M176.4 313.6h.5M179.8 285.4h.5M171.0 306.9h.5M180.8 303.2h.5M161.7 315.6h.5M170.0 306.4h.5M169.8 315.5h.5M163.0 317.0h.5M174.5 310.7h.5M166.1 309.2h.5M177.9 310.8h.5M175.4 306.0h.5M182.6 296.2h.5M162.6 318.1h.5M178.4 302.0h.5M180.2 300.7h.5M166.9 316.5h.5M170.1 308.7h.5M169.1 317.5h.5M168.0 313.5h.5M172.4 314.3h.5M164.3 304.5h.5M162.7 313.4h.5M180.2 298.8h.5M173.5 305.4h.5M170.4 311.5h.5M173.4 314.0h.5M170.8 315.6h.5M163.3 309.9h.5M175.6 314.8h.5M173.1 316.3h.5M160.5 318.3h.5M174.4 307.0h.5M181.3 285.0h.5M166.8 309.4h.5M165.6 319.4h.5M161.1 319.5h.5M159.9 311.4h.5M166.7 313.2h.5M171.0 314.8h.5M177.3 310.9h.5M170.2 313.4h.5M176.0 308.1h.5M164.2 318.4h.5M177.5 307.7h.5M178.0 310.7h.5M159.9 317.9h.5M181.0 303.1h.5M167.3 315.8h.5M165.6 316.3h.5M171.6 312.2h.5M173.6 312.0h.5M178.4 302.7h.5M177.0 312.9h.5M160.8 319.0h.5M177.8 313.7h.5M164.7 318.2h.5M173.0 298.0h.5M169.0 317.0h.5M169.8 318.6h.5M174.8 307.4h.5M159.6 298.8h.5M169.6 310.2h.5M173.4 313.6h.5M171.6 295.4h.5M179.9 301.3h.5M182.7 294.7h.5M180.8 309.7h.5M168.8 314.8h.5M176.4 315.7h.5M165.3 308.9h.5M165.2 317.3h.5M172.4 310.6h.5M166.9 318.7h.5M165.2 315.0h.5M165.9 317.8h.5M168.1 310.0h.5M172.6 315.5h.5M165.2 315.0h.5M169.4 311.8h.5M180.9 296.8h.5M162.2 316.8h.5M161.1 318.3h.5M168.9 314.9h.5M167.4 317.3h.5M177.9 307.0h.5M174.1 310.9h.5M160.3 318.3h.5M175.5 306.9h.5M179.8 292.4h.5M170.8 302.1h.5M165.8 316.3h.5M173.3 315.0h.5M166.9 307.8h.5M162.9 316.7h.5M177.9 285.4h.5M180.4 308.6h.5M177.1 307.8h.5M170.4 308.7h.5M174.0 315.3h.5M169.2 314.9h.5M180.3 301.1h.5M173.9 314.5h.5M161.8 318.8h.5M161.5 316.0h.5M176.5 311.2h.5M176.0 311.7h.5M178.3 304.0h.5M180.1 297.2h.5M174.7 315.0h.5M175.9 310.3h.5M174.5 309.4h.5M167.1 305.0h.5M169.8 317.4h.5M170.5 315.4h.5M175.2 311.1h.5M169.8 318.0h.5M175.9 307.6h.5M179.5 297.1h.5M176.6 306.6h.5M169.8 318.4h.5M162.6 316.4h.5M162.5 321.2h.5M181.4 288.6h.5M176.0 312.0h.5M177.9 310.3h.5M169.1 319.0h.5M179.8 296.0h.5M180.3 311.1h.5M166.6 318.0h.5M176.6 306.8h.5M177.4 306.9h.5M168.2 287.7h.5M161.8 315.8h.5M171.7 316.6h.5M180.2 308.4h.5M178.7 304.7h.5M181.0 293.3h.5M180.6 292.8h.5M168.3 317.7h.5M176.1 310.6h.5M168.6 313.8h.5M174.1 310.1h.5M182.7 287.5h.5M162.0 319.1h.5M168.9 317.0h.5M175.1 313.3h.5M164.4 318.4h.5M164.5 311.6h.5M170.1 315.7h.5M168.1 320.9h.5M174.7 310.0h.5M168.5 312.7h.5M176.0 317.6h.5M164.6 317.5h.5M162.8 315.8h.5M177.1 308.4h.5M168.8 317.3h.5M170.6 312.8h.5M175.9 310.7h.5M175.2 310.4h.5M165.1 319.1h.5M167.7 316.4h.5M174.9 299.6h.5M168.4 316.3h.5M182.0 284.2h.5M180.7 299.1h.5M173.2 318.1h.5M177.8 311.6h.5M175.2 315.7h.5M170.2 314.9h.5M172.7 313.0h.5M173.6 314.4h.5M177.0 308.7h.5M170.7 293.4h.5M163.9 313.7h.5M168.8 318.7h.5M177.3 309.3h.5M176.6 309.2h.5M177.9 307.6h.5M178.4 300.6h.5M174.2 314.6h.5M178.8 296.6h.5M174.5 314.7h.5M169.4 317.2h.5M163.6 318.3h.5M170.9 316.4h.5M160.5 314.8h.5M176.7 313.1h.5M173.9 309.3h.5M169.2 312.6h.5M175.1 306.3h.5M180.7 290.5h.5M160.8 315.8h.5M173.1 314.0h.5M169.9 316.2h.5M177.4 315.5h.5M174.0 314.2h.5M169.8 315.4h.5M161.7 317.8h.5M179.6 302.2h.5M180.0 287.9h.5M179.5 307.0h.5M162.7 318.0h.5M171.5 313.9h.5M175.2 312.9h.5M169.8 314.3h.5M177.1 304.7h.5M160.4 318.2h.5M169.0 317.3h.5M163.8 319.5h.5M178.9 298.9h.5M170.3 297.0h.5M179.1 308.3h.5M177.3 298.9h.5M173.9 305.6h.5M161.0 314.3h.5M176.6 310.5h.5M177.1 299.4h.5M178.3 306.2h.5M178.5 312.1h.5M160.6 318.6h.5M170.2 317.3h.5M161.5 316.4h.5M169.4 313.1h.5M174.0 310.6h.5M177.6 311.1h.5M170.2 315.2h.5M179.2 308.0h.5M179.3 305.3h.5M180.9 299.6h.5M169.2 316.0h.5M162.2 317.6h.5M171.2 316.3h.5M168.0 317.6h.5M176.8 309.2h.5M174.3 312.8h.5M179.2 300.4h.5M170.8 314.5h.5M161.4 318.8h.5M177.8 309.2h.5M169.5 315.7h.5M167.8 311.4h.5M168.9 316.1h.5M173.0 311.7h.5M178.6 303.7h.5M173.9 316.4h.5M162.1 318.4h.5M169.3 305.4h.5M134.6 263.9h.5M176.1 295.1h.5M172.8 309.5h.5M141.2 299.4h.5M169.6 289.0h.5M130.1 281.8h.5M160.3 308.7h.5M135.6 315.8h.5M162.5 313.7h.5M148.4 315.7h.5M153.2 288.5h.5M139.4 304.8h.5M140.7 315.4h.5M141.8 291.2h.5M145.6 271.1h.5M180.6 310.0h.5M163.7 275.5h.5M172.4 320.5h.5M144.6 286.9h.5M181.2 288.2h.5M153.9 301.0h.5M179.8 302.1h.5M149.5 264.9h.5M133.3 297.2h.5M136.8 306.1h.5M133.6 270.6h.5M174.5 305.6h.5M170.2 316.0h.5M137.8 267.4h.5M182.6 285.8h.5M141.2 283.4h.5M175.7 293.9h.5M190.1 319.4h.5M154.0 296.1h.5M140.1 270.4h.5M130.4 277.3h.5M136.3 320.1h.5M178.2 317.8h.5M176.0 314.6h.5M133.8 294.3h.5M182.8 274.9h.5M131.7 268.0h.5M186.3 319.1h.5M143.9 317.9h.5M174.4 283.5h.5M145.3 290.2h.5M175.9 317.9h.5M176.4 319.4h.5M173.6 320.7h.5M132.2 298.9h.5M134.2 274.3h.5M184.3 289.5h.5M164.2 297.5h.5M183.0 313.9h.5M149.1 271.3h.5M188.3 266.5h.5M184.6 264.4h.5M140.1 280.9h.5M167.6 293.9h.5M174.2 317.1h.5M137.6 314.2h.5M172.5 264.6h.5M159.8 311.3h.5M143.4 310.3h.5M157.6 305.6h.5M173.3 272.0h.5M164.3 274.0h.5M182.4 309.6h.5M152.4 316.2h.5M159.6 281.9h.5M169.5 296.1h.5M178.6 311.3h.5M136.3 297.7h.5M188.7 299.1h.5M187.1 312.1h.5M130.0 313.7h.5M172.6 302.3h.5M155.5 315.4h.5M153.6 296.4h.5M162.7 311.2h.5M177.7 317.7h.5M141.4 296.5h.5M175.6 315.8h.5M131.2 297.8h.5M145.8 311.5h.5M156.4 273.1h.5M131.4 320.8h.5M131.3 307.1h.5M162.3 316.6h.5M172.1 280.3h.5M131.0 314.8h.5M188.5 308.7h.5M164.2 291.4h.5M179.6 319.9h.5M161.6 316.7h.5M182.7 309.9h.5M138.0 319.1h.5M167.7 305.8h.5M186.5 294.4h.5M146.9 319.8h.5M145.3 281.0h.5M132.9 315.6h.5M187.6 312.9h.5M165.9 315.4h.5M167.3 308.7h.5M177.6 311.2h.5M167.4 279.4h.5M146.0 293.0h.5M136.6 305.7h.5M189.7 284.6h.5M150.2 276.7h.5M168.4 281.6h.5M165.4 298.8h.5M142.5 272.5h.5M188.1 302.0h.5M146.6 293.2h.5M160.5 302.1h.5M146.9 301.7h.5M170.7 265.2h.5M141.4 314.2h.5M162.7 300.9h.5M167.5 285.3h.5M136.1 281.5h.5M186.8 279.7h.5M170.8 280.6h.5M135.3 318.4h.5M173.6 320.8h.5M181.9 297.4h.5M145.7 315.3h.5M151.3 309.0h.5M161.9 307.1h.5M164.0 291.9h.5M176.2 307.1h.5M142.5 292.3h.5M137.3 279.2h.5M187.3 307.8h.5M187.8 280.0h.5M167.4 271.2h.5M156.1 270.8h.5M184.8 303.9h.5M162.2 315.0h.5M187.7 320.2h.5M140.0 314.1h.5M142.0 299.0h.5M157.1 302.2h.5M156.0 308.7h.5M138.1 319.3h.5M158.0 320.6h.5M134.1 314.6h.5M160.8 320.7h.5M177.0 318.4h.5M150.6 285.0h.5M130.6 297.6h.5M156.0 320.0h.5M135.0 294.5h.5M178.9 290.8h.5M135.9 320.5h.5M136.1 268.9h.5M133.1 315.8h.5M160.1 316.1h.5M153.2 320.3h.5M169.0 284.1h.5M173.0 315.0h.5M155.1 265.5h.5M167.8 306.4h.5M177.6 270.2h.5M151.5 267.1h.5M169.9 271.9h.5M159.8 320.2h.5M178.5 279.4h.5M138.2 310.7h.5M166.1 299.9h.5M177.9 299.9h.5M147.2 273.2h.5M149.8 310.6h.5M143.0 293.9h.5M171.8 304.2h.5M176.5 296.7h.5M149.8 304.0h.5M154.9 300.0h.5M183.6 300.2h.5M145.9 275.6h.5M165.3 286.1h.5M178.9 320.6h.5M159.9 289.7h.5M166.0 320.7h.5M159.5 294.0h.5M187.2 319.1h.5M155.0 305.5h.5M144.5 293.3h.5M130.4 315.8h.5M161.3 319.0h.5M155.8 319.4h.5M144.3 281.7h.5M140.6 295.6h.5M177.7 294.1h.5M184.2 313.4h.5M180.3 275.2h.5M135.3 278.8h.5M162.5 318.0h.5M147.4 310.8h.5M164.8 273.5h.5M131.4 264.0h.5M164.0 314.7h.5M145.7 317.5h.5M156.6 306.4h.5M187.4 279.7h.5M188.6 298.3h.5M153.7 318.3h.5M187.2 305.3h.5M146.3 285.8h.5M158.8 307.9h.5M139.8 318.8h.5M153.8 314.9h.5M142.8 320.4h.5M145.7 318.3h.5M132.5 304.6h.5M157.8 289.3h.5M181.6 269.4h.5M184.8 306.1h.5M160.1 312.4h.5M134.7 281.0h.5M160.6 308.1h.5M135.9 299.2h.5M184.9 302.2h.5M185.9 296.7h.5M139.9 312.9h.5M165.7 296.3h.5M152.5 292.3h.5" stroke="#000" stroke-width=".5" stroke-opacity=".6" fill="none"/>
<rect x="128.4" y="260.3" width="62.8" height="61.5" fill="none" stroke="#777" stroke-width="0.55"/>
<line x1="159.3" y1="260.3" x2="159.3" y2="321.8" stroke="#666" stroke-width="0.55"/>
<line x1="126.80000000000001" y1="320.2" x2="128.4" y2="320.2" stroke="#555" stroke-width="0.5"/>
<text x="125.8" y="321.3" font-size="3.3" text-anchor="end" font-weight="normal" fill="#222" class="t">0</text>
<line x1="126.80000000000001" y1="308.9" x2="128.4" y2="308.9" stroke="#555" stroke-width="0.5"/>
<text x="125.8" y="310.0" font-size="3.3" text-anchor="end" font-weight="normal" fill="#222" class="t">50</text>
<line x1="126.80000000000001" y1="297.59999999999997" x2="128.4" y2="297.59999999999997" stroke="#555" stroke-width="0.5"/>
<text x="125.8" y="298.7" font-size="3.3" text-anchor="end" font-weight="normal" fill="#222" class="t">100</text>
<line x1="126.80000000000001" y1="286.3" x2="128.4" y2="286.3" stroke="#555" stroke-width="0.5"/>
<text x="125.8" y="287.4" font-size="3.3" text-anchor="end" font-weight="normal" fill="#222" class="t">150</text>
<line x1="126.80000000000001" y1="275.0" x2="128.4" y2="275.0" stroke="#555" stroke-width="0.5"/>
<text x="125.8" y="276.1" font-size="3.3" text-anchor="end" font-weight="normal" fill="#222" class="t">200</text>
<line x1="126.80000000000001" y1="263.7" x2="128.4" y2="263.7" stroke="#555" stroke-width="0.5"/>
<text x="125.8" y="264.8" font-size="3.3" text-anchor="end" font-weight="normal" fill="#222" class="t">250</text>
<line x1="127.60000000000001" y1="320.2" x2="128.4" y2="320.2" stroke="#888" stroke-width="0.3"/>
<line x1="127.60000000000001" y1="317.94" x2="128.4" y2="317.94" stroke="#888" stroke-width="0.3"/>
<line x1="127.60000000000001" y1="315.68" x2="128.4" y2="315.68" stroke="#888" stroke-width="0.3"/>
<line x1="127.60000000000001" y1="313.42" x2="128.4" y2="313.42" stroke="#888" stroke-width="0.3"/>
<line x1="127.60000000000001" y1="311.15999999999997" x2="128.4" y2="311.15999999999997" stroke="#888" stroke-width="0.3"/>
<line x1="127.60000000000001" y1="308.9" x2="128.4" y2="308.9" stroke="#888" stroke-width="0.3"/>
<line x1="127.60000000000001" y1="306.64" x2="128.4" y2="306.64" stroke="#888" stroke-width="0.3"/>
<line x1="127.60000000000001" y1="304.38" x2="128.4" y2="304.38" stroke="#888" stroke-width="0.3"/>
<line x1="127.60000000000001" y1="302.12" x2="128.4" y2="302.12" stroke="#888" stroke-width="0.3"/>
<line x1="127.60000000000001" y1="299.86" x2="128.4" y2="299.86" stroke="#888" stroke-width="0.3"/>
<line x1="127.60000000000001" y1="297.59999999999997" x2="128.4" y2="297.59999999999997" stroke="#888" stroke-width="0.3"/>
<line x1="127.60000000000001" y1="295.34" x2="128.4" y2="295.34" stroke="#888" stroke-width="0.3"/>
<line x1="127.60000000000001" y1="293.08" x2="128.4" y2="293.08" stroke="#888" stroke-width="0.3"/>
<line x1="127.60000000000001" y1="290.82" x2="128.4" y2="290.82" stroke="#888" stroke-width="0.3"/>
<line x1="127.60000000000001" y1="288.56" x2="128.4" y2="288.56" stroke="#888" stroke-width="0.3"/>
<line x1="127.60000000000001" y1="286.3" x2="128.4" y2="286.3" stroke="#888" stroke-width="0.3"/>
<line x1="127.60000000000001" y1="284.03999999999996" x2="128.4" y2="284.03999999999996" stroke="#888" stroke-width="0.3"/>
<line x1="127.60000000000001" y1="281.78" x2="128.4" y2="281.78" stroke="#888" stroke-width="0.3"/>
<line x1="127.60000000000001" y1="279.52" x2="128.4" y2="279.52" stroke="#888" stroke-width="0.3"/>
<line x1="127.60000000000001" y1="277.26" x2="128.4" y2="277.26" stroke="#888" stroke-width="0.3"/>
<line x1="127.60000000000001" y1="275.0" x2="128.4" y2="275.0" stroke="#888" stroke-width="0.3"/>
<line x1="127.60000000000001" y1="272.74" x2="128.4" y2="272.74" stroke="#888" stroke-width="0.3"/>
<line x1="127.60000000000001" y1="270.48" x2="128.4" y2="270.48" stroke="#888" stroke-width="0.3"/>
<line x1="127.60000000000001" y1="268.21999999999997" x2="128.4" y2="268.21999999999997" stroke="#888" stroke-width="0.3"/>
<line x1="127.60000000000001" y1="265.96" x2="128.4" y2="265.96" stroke="#888" stroke-width="0.3"/>
<line x1="127.60000000000001" y1="263.7" x2="128.4" y2="263.7" stroke="#888" stroke-width="0.3"/>
<line x1="133.4" y1="321.8" x2="133.4" y2="323.2" stroke="#666" stroke-width="0.5"/>
<text x="132.2" y="327.2" font-size="3.3" text-anchor="middle" font-weight="normal" fill="#222" class="t">10<tspan font-size="2.2" dy="-1.4">0</tspan></text>
<line x1="147.475" y1="321.8" x2="147.475" y2="323.2" stroke="#666" stroke-width="0.5"/>
<text x="146.28" y="327.2" font-size="3.3" text-anchor="middle" font-weight="normal" fill="#222" class="t">10<tspan font-size="2.2" dy="-1.4">1</tspan></text>
<line x1="161.55" y1="321.8" x2="161.55" y2="323.2" stroke="#666" stroke-width="0.5"/>
<text x="160.35" y="327.2" font-size="3.3" text-anchor="middle" font-weight="normal" fill="#222" class="t">10<tspan font-size="2.2" dy="-1.4">2</tspan></text>
<line x1="175.625" y1="321.8" x2="175.625" y2="323.2" stroke="#666" stroke-width="0.5"/>
<text x="174.43" y="327.2" font-size="3.3" text-anchor="middle" font-weight="normal" fill="#222" class="t">10<tspan font-size="2.2" dy="-1.4">3</tspan></text>
<line x1="189.7" y1="321.8" x2="189.7" y2="323.2" stroke="#666" stroke-width="0.5"/>
<text x="188.5" y="327.2" font-size="3.3" text-anchor="middle" font-weight="normal" fill="#222" class="t">10<tspan font-size="2.2" dy="-1.4">4</tspan></text>
<text x="173.7" y="275.2" font-size="5.7" text-anchor="middle" font-weight="normal" fill="#111" class="t">31.2%</text>
<line x1="30.7" y1="206.6" x2="30.7" y2="298.3" stroke="#000" stroke-width="1.65"/>
<polyline points="21.5,215.1 30.7,206.1 39.9,215.1" fill="none" stroke="#000" stroke-width="1.65"/>
<text x="22.3" y="255.0" font-size="9.8" text-anchor="middle" font-weight="normal" fill="#111" transform="rotate(-90 22.3 255.0)">SSC</text>
<line x1="69.5" y1="351.7" x2="162" y2="351.7" stroke="#000" stroke-width="1.65"/>
<polyline points="152.8,342.6 162.3,351.7 152.8,360.8" fill="none" stroke="#000" stroke-width="1.65"/>
<text x="113.3" y="363.3" font-size="9.5" text-anchor="middle" font-weight="normal" fill="#111">AnnexinV-FITC</text>
<text x="207.2" y="215.9" font-size="9.35" text-anchor="start" font-weight="normal" fill="#111">AML CD34<tspan font-size="3.8" dx="1.2" dy="-4.8">+</tspan><tspan dy="4.8" dx="1.2"> (nr.11)</tspan></text>
<text x="207.6" y="297.5" font-size="9.42" text-anchor="start" font-weight="normal" fill="#111">NBM CD34<tspan font-size="3.8" dx="1.2" dy="-4.8">+</tspan></text>
<line x1="214.2" y1="254.4" x2="255.0" y2="254.4" stroke="#000" stroke-width="1.55"/>
<polyline points="250.4,250.4 255.0,254.4 250.4,258.4" fill="none" stroke="#000" stroke-width="1.55" stroke-linejoin="miter"/>
<line x1="332.3" y1="186.7" x2="332.3" y2="305.5" stroke="#484848" stroke-width="1"/>
<line x1="331.8" y1="305.0" x2="442.5" y2="305.0" stroke="#444" stroke-width="1"/>
<line x1="330.1" y1="305.0" x2="332.3" y2="305.0" stroke="#444" stroke-width="0.8"/>
<text x="326.3" y="306.9" font-size="6.4" text-anchor="end" font-weight="normal" fill="#111">0</text>
<line x1="330.1" y1="281.54" x2="332.3" y2="281.54" stroke="#444" stroke-width="0.8"/>
<text x="326.3" y="283.44" font-size="6.4" text-anchor="end" font-weight="normal" fill="#111">20</text>
<line x1="330.1" y1="258.08" x2="332.3" y2="258.08" stroke="#444" stroke-width="0.8"/>
<text x="326.3" y="259.98" font-size="6.4" text-anchor="end" font-weight="normal" fill="#111">40</text>
<line x1="330.1" y1="234.62" x2="332.3" y2="234.62" stroke="#444" stroke-width="0.8"/>
<text x="326.3" y="236.52" font-size="6.4" text-anchor="end" font-weight="normal" fill="#111">60</text>
<line x1="330.1" y1="211.16" x2="332.3" y2="211.16" stroke="#444" stroke-width="0.8"/>
<text x="326.3" y="213.06" font-size="6.4" text-anchor="end" font-weight="normal" fill="#111">80</text>
<line x1="330.1" y1="187.7" x2="332.3" y2="187.7" stroke="#444" stroke-width="0.8"/>
<text x="326.3" y="189.6" font-size="6.4" text-anchor="end" font-weight="normal" fill="#111">100</text>
<line x1="387.2" y1="305.0" x2="387.2" y2="307.2" stroke="#444" stroke-width="0.8"/>
<line x1="442.2" y1="305.0" x2="442.2" y2="307.2" stroke="#444" stroke-width="0.8"/>
<circle cx="359.7" cy="209" r="3.0" fill="#000"/>
<circle cx="359.7" cy="214.8" r="3.0" fill="#000"/>
<circle cx="359.7" cy="250.2" r="3.0" fill="#000"/>
<circle cx="359.7" cy="255.6" r="3.0" fill="#000"/>
<circle cx="359.7" cy="267.6" r="3.0" fill="#000"/>
<circle cx="359.7" cy="270.2" r="3.0" fill="#000"/>
<circle cx="359.7" cy="276" r="3.0" fill="#000"/>
<line x1="352" y1="250.1" x2="367.6" y2="250.1" stroke="#000" stroke-width="2.9"/>
<circle cx="412.6" cy="200.2" r="3.0" fill="#000"/>
<circle cx="412.6" cy="207.8" r="3.0" fill="#000"/>
<circle cx="412.6" cy="211.6" r="3.0" fill="#000"/>
<circle cx="412.6" cy="224.2" r="3.0" fill="#000"/>
<circle cx="412.6" cy="229.7" r="3.0" fill="#000"/>
<line x1="405" y1="214.6" x2="420.3" y2="214.6" stroke="#000" stroke-width="2.9"/>
<polyline points="358.4,194.6 358.4,192.7 412.6,192.7 412.6,194.6" fill="none" stroke="#555" stroke-width="0.75"/>
<text x="386.8" y="186.7" font-size="6.4" text-anchor="middle" font-weight="normal" fill="#222">p &lt; 0.01</text>
<text x="309.0" y="245.3" font-size="10.2" text-anchor="middle" font-weight="normal" fill="#111" transform="rotate(-90 309.0 245.3)" letter-spacing="0.12" word-spacing="-0.5">% survival (relative to control)</text>
<text x="364.6" y="362.6" font-size="9.7" text-anchor="start" font-weight="normal" fill="#111" transform="rotate(-90 364.6 362.6)">AML CD34<tspan font-size="3.8" dx="0.6" dy="-9">+</tspan></text>
<text x="418.7" y="363" font-size="9.3" text-anchor="start" font-weight="normal" fill="#111" transform="rotate(-90 418.7 363)">NBM CD34<tspan font-size="3.8" dx="0.6" dy="-9">+</tspan></text>
</svg>
</body>
</html>
